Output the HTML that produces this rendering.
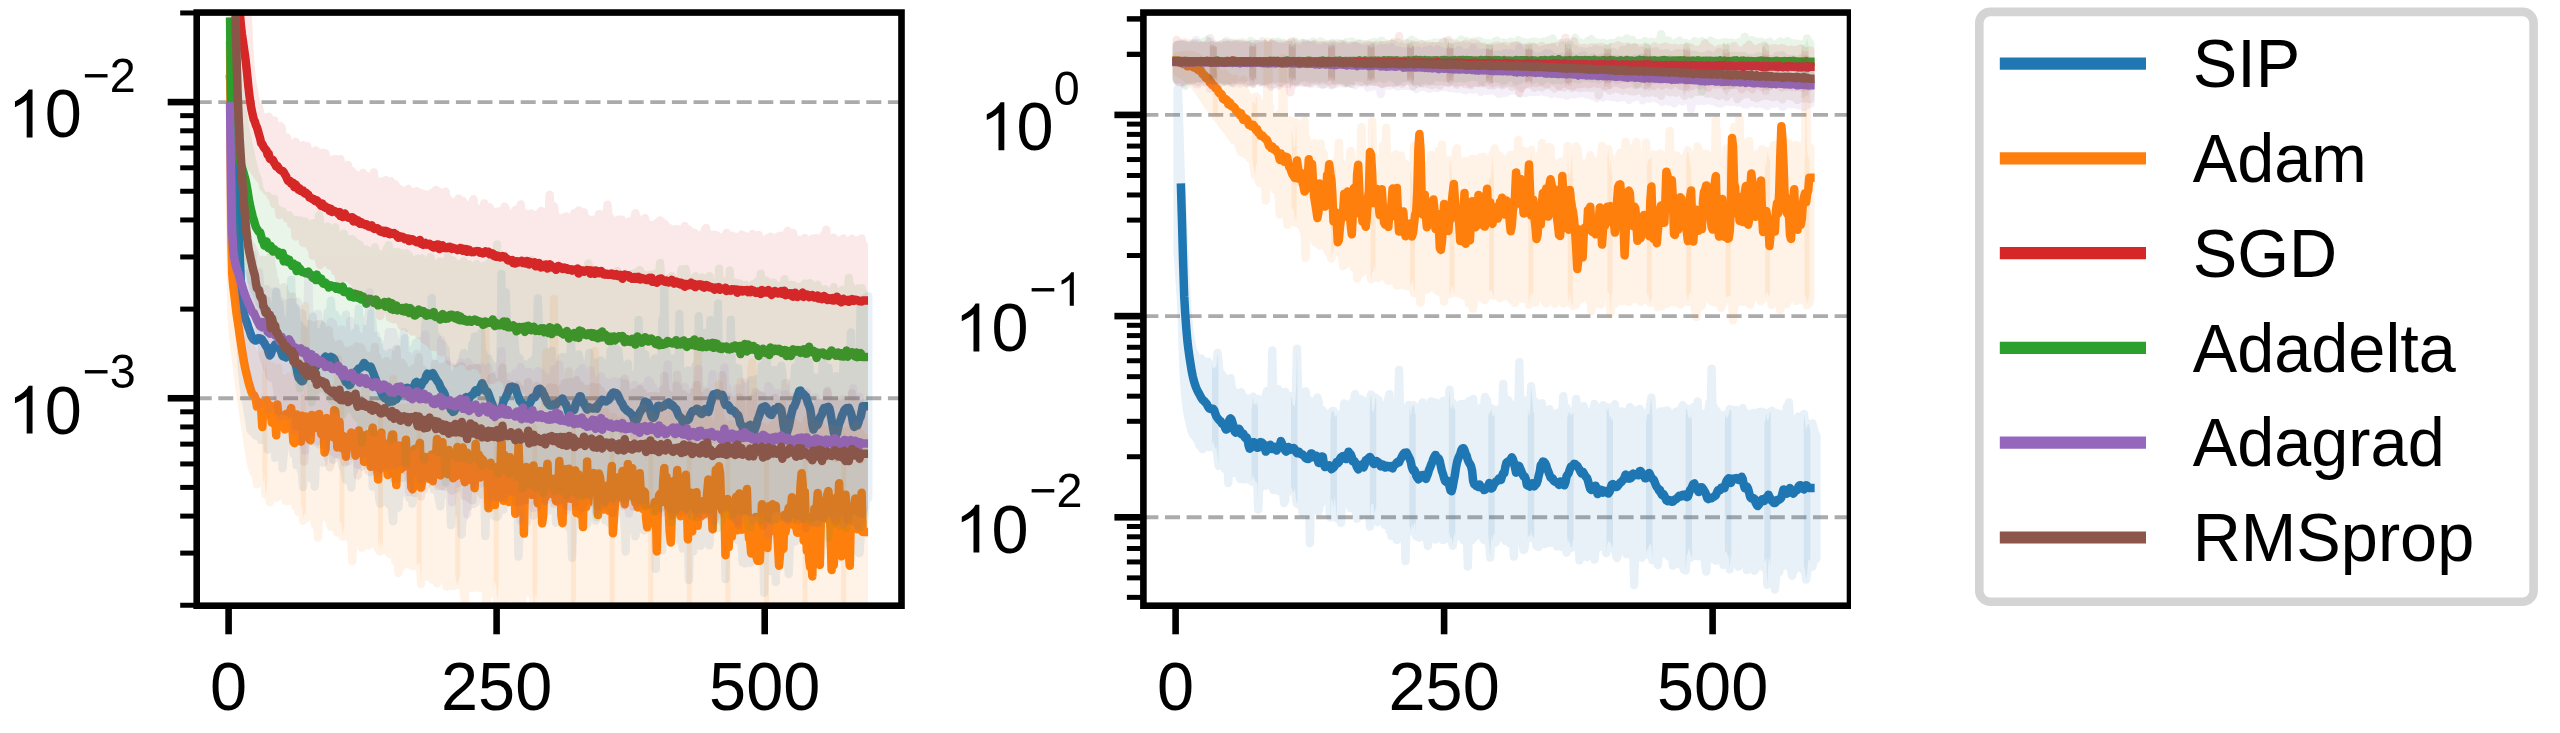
<!DOCTYPE html>
<html><head><meta charset="utf-8"><title>plot</title>
<style>
html,body{margin:0;padding:0;background:#fff;}
body{width:2560px;height:733px;overflow:hidden;position:relative;font-family:"Liberation Sans",sans-serif;}
svg text{font-family:"Liberation Sans",sans-serif;}
</style></head><body>
<svg width="2560" height="733" viewBox="0 0 2560 733" style="position:absolute;left:0;top:0;filter:blur(0.7px)">
<defs>
<clipPath id="cl"><rect x="196.7" y="12.55" width="704.8" height="593.1500000000001"/></clipPath>
<clipPath id="cr"><rect x="1143.4" y="12.55" width="706.5999999999999" height="593.1500000000001"/></clipPath>
</defs>
<line x1="196.7" y1="102.1" x2="901.5" y2="102.1" stroke="#000" stroke-opacity="0.33" stroke-width="3.9" stroke-dasharray="15 6.6"/>
<line x1="196.7" y1="398.25" x2="901.5" y2="398.25" stroke="#000" stroke-opacity="0.33" stroke-width="3.9" stroke-dasharray="15 6.6"/>
<line x1="1143.4" y1="114.9" x2="1850.0" y2="114.9" stroke="#000" stroke-opacity="0.33" stroke-width="3.9" stroke-dasharray="15 6.6"/>
<line x1="1143.4" y1="316.1" x2="1850.0" y2="316.1" stroke="#000" stroke-opacity="0.33" stroke-width="3.9" stroke-dasharray="15 6.6"/>
<line x1="1143.4" y1="517.3" x2="1850.0" y2="517.3" stroke="#000" stroke-opacity="0.33" stroke-width="3.9" stroke-dasharray="15 6.6"/>
<path d="M230.1 78.9L231.2 96.7L232.2 113.8L233.3 129.4L234.4 144.4L235.5 160.8L236.5 180.3L237.6 204.2L238.7 228.9L239.7 253.8L240.8 280.7L241.9 301.0L243.0 309.0L244.0 314.1L245.1 317.9L246.2 320.8L247.3 323.8L248.3 327.1L249.4 330.2L250.5 333.5L251.5 336.2L252.6 338.2L253.7 339.6L254.8 340.4L255.8 340.5L256.9 339.9L258.0 338.2L259.0 338.3L260.1 338.6L261.2 338.7L262.3 339.8L263.3 341.8L264.4 342.9L265.5 345.3L266.6 347.0L267.6 348.4L268.7 352.9L269.8 355.5L270.8 354.2L271.9 351.0L273.0 347.7L274.1 346.3L275.1 344.6L276.2 344.7L277.3 346.4L278.3 346.9L279.4 348.2L280.5 349.9L281.6 353.1L282.6 355.9L283.7 356.5L284.8 356.8L285.9 357.5L286.9 354.8L288.0 352.5L289.1 353.4L290.1 355.5L291.2 356.6L292.3 355.3L293.4 356.1L294.4 359.2L295.5 364.1L296.6 368.1L297.6 373.9L298.7 377.7L299.8 378.8L300.9 380.7L301.9 381.3L303.0 380.9L304.1 377.6L305.2 375.9L306.2 372.8L307.3 371.4L308.4 371.0L309.4 369.5L310.5 366.4L311.6 365.4L312.7 365.9L313.7 368.3L314.8 368.4L315.9 366.7L316.9 365.6L318.0 363.8L319.1 363.5L320.2 363.2L321.2 361.1L322.3 359.9L323.4 359.4L324.5 357.8L325.5 356.8L326.6 357.7L327.7 357.9L328.7 359.0L329.8 357.9L330.9 356.9L332.0 357.6L333.0 357.9L334.1 359.0L335.2 361.6L336.2 365.0L337.3 367.5L338.4 368.7L339.5 368.5L340.5 369.9L341.6 373.4L342.7 375.6L343.8 377.5L344.8 379.7L345.9 382.2L347.0 382.9L348.0 383.1L349.1 385.1L350.2 384.8L351.3 382.2L352.3 379.8L353.4 377.3L354.5 375.9L355.5 373.8L356.6 370.9L357.7 370.1L358.8 368.5L359.8 368.0L360.9 367.7L362.0 367.0L363.1 364.6L364.1 362.9L365.2 364.3L366.3 365.2L367.3 366.8L368.4 367.5L369.5 366.9L370.6 366.6L371.6 368.8L372.7 371.7L373.8 374.6L374.8 377.3L375.9 379.7L377.0 384.0L378.1 386.4L379.1 388.8L380.2 389.8L381.3 392.4L382.4 394.7L383.4 396.5L384.5 398.0L385.6 397.4L386.6 398.0L387.7 399.4L388.8 402.3L389.9 401.0L390.9 401.0L392.0 401.6L393.1 401.4L394.1 399.3L395.2 398.5L396.3 399.5L397.4 397.0L398.4 395.6L399.5 394.4L400.6 392.5L401.7 392.2L402.7 392.7L403.8 391.4L404.9 389.5L405.9 388.3L407.0 387.7L408.1 388.2L409.2 388.7L410.2 390.2L411.3 391.5L412.4 391.0L413.4 387.9L414.5 385.1L415.6 382.5L416.7 381.8L417.7 383.7L418.8 385.9L419.9 386.9L421.0 385.9L422.0 383.6L423.1 381.5L424.2 381.0L425.2 379.5L426.3 375.6L427.4 373.7L428.5 374.1L429.5 376.0L430.6 375.9L431.7 374.4L432.7 373.1L433.8 375.0L434.9 376.9L436.0 379.0L437.0 380.7L438.1 382.0L439.2 383.9L440.3 386.7L441.3 388.6L442.4 390.3L443.5 391.8L444.5 393.8L445.6 397.4L446.7 399.5L447.8 402.2L448.8 405.0L449.9 406.9L451.0 409.9L452.0 410.5L453.1 412.0L454.2 411.5L455.3 408.8L456.3 407.2L457.4 405.2L458.5 404.0L459.6 402.8L460.6 403.3L461.7 402.8L462.8 401.2L463.8 399.2L464.9 398.8L466.0 397.1L467.1 397.8L468.1 398.7L469.2 398.5L470.3 396.5L471.3 395.5L472.4 394.8L473.5 394.2L474.6 391.6L475.6 390.3L476.7 391.8L477.8 392.0L478.9 389.3L479.9 388.1L481.0 385.7L482.1 383.2L483.1 385.2L484.2 387.2L485.3 390.7L486.4 391.5L487.4 391.7L488.5 394.0L489.6 397.1L490.6 400.0L491.7 403.0L492.8 405.6L493.9 408.0L494.9 411.4L496.0 413.2L497.1 412.3L498.1 411.2L499.2 410.4L500.3 410.2L501.4 408.7L502.4 405.5L503.5 401.5L504.6 399.2L505.7 397.5L506.7 395.1L507.8 392.8L508.9 389.7L509.9 387.2L511.0 387.0L512.1 386.5L513.2 387.4L514.2 387.8L515.3 387.5L516.4 391.2L517.4 394.3L518.5 397.1L519.6 400.5L520.7 401.9L521.7 402.1L522.8 405.5L523.9 408.2L525.0 409.5L526.0 409.5L527.1 407.1L528.2 406.0L529.2 403.9L530.3 402.4L531.4 400.1L532.5 397.4L533.5 397.4L534.6 397.6L535.7 396.1L536.7 393.4L537.8 389.9L538.9 389.1L540.0 388.7L541.0 389.6L542.1 390.6L543.2 393.5L544.3 395.3L545.3 397.8L546.4 400.2L547.5 403.0L548.5 404.1L549.6 405.3L550.7 405.6L551.8 404.9L552.8 404.3L553.9 405.6L555.0 405.9L556.0 404.5L557.1 402.6L558.2 402.1L559.3 400.9L560.3 400.9L561.4 399.4L562.5 398.4L563.6 401.7L564.6 402.8L565.7 403.7L566.8 406.7L567.8 410.3L568.9 414.0L570.0 412.8L571.1 410.3L572.1 410.4L573.2 410.5L574.3 409.8L575.3 405.7L576.4 402.0L577.5 400.8L578.6 398.8L579.6 396.2L580.7 396.3L581.8 400.1L582.9 402.8L583.9 402.6L585.0 405.5L586.1 407.4L587.1 409.6L588.2 408.6L589.3 407.3L590.4 408.3L591.4 408.1L592.5 408.4L593.6 408.5L594.6 407.8L595.7 406.8L596.8 408.7L597.9 405.9L598.9 403.7L600.0 403.0L601.1 401.1L602.2 399.9L603.2 400.4L604.3 400.2L605.4 401.1L606.4 401.5L607.5 400.3L608.6 399.8L609.7 398.6L610.7 395.8L611.8 394.1L612.9 392.7L613.9 392.4L615.0 393.1L616.1 393.1L617.2 394.0L618.2 396.1L619.3 398.4L620.4 400.9L621.5 402.7L622.5 404.0L623.6 406.7L624.7 408.4L625.7 409.0L626.8 410.6L627.9 411.4L629.0 411.8L630.0 412.8L631.1 413.8L632.2 415.2L633.2 417.0L634.3 420.1L635.4 421.3L636.5 420.0L637.5 418.4L638.6 415.3L639.7 412.8L640.8 411.0L641.8 409.3L642.9 408.7L644.0 404.5L645.0 401.5L646.1 402.4L647.2 402.5L648.3 403.5L649.3 405.9L650.4 412.2L651.5 416.1L652.5 417.8L653.6 417.8L654.7 416.3L655.8 411.9L656.8 408.4L657.9 406.0L659.0 405.8L660.1 407.2L661.1 407.4L662.2 406.3L663.3 406.5L664.3 405.8L665.4 404.2L666.5 404.3L667.6 403.1L668.6 402.4L669.7 403.4L670.8 405.3L671.8 404.7L672.9 405.6L674.0 407.2L675.1 408.3L676.1 409.1L677.2 411.9L678.3 414.9L679.4 416.6L680.4 417.1L681.5 418.3L682.6 421.9L683.6 423.0L684.7 421.6L685.8 420.1L686.9 419.5L687.9 419.9L689.0 418.8L690.1 415.3L691.1 413.5L692.2 411.5L693.3 410.7L694.4 410.9L695.4 410.2L696.5 408.8L697.6 409.0L698.7 409.8L699.7 412.3L700.8 413.6L701.9 414.0L702.9 412.7L704.0 410.0L705.1 409.1L706.2 410.8L707.2 411.5L708.3 412.1L709.4 408.8L710.4 404.0L711.5 400.8L712.6 396.6L713.7 394.2L714.7 395.0L715.8 394.3L716.9 393.2L718.0 393.7L719.0 395.2L720.1 394.7L721.2 394.8L722.2 394.8L723.3 397.1L724.4 402.3L725.5 405.0L726.5 404.6L727.6 404.7L728.7 406.0L729.7 407.3L730.8 410.1L731.9 410.6L733.0 410.2L734.0 410.9L735.1 412.0L736.2 414.0L737.3 414.4L738.3 415.4L739.4 419.4L740.5 423.9L741.5 425.1L742.6 427.2L743.7 429.4L744.8 430.4L745.8 428.8L746.9 426.8L748.0 426.6L749.0 425.5L750.1 424.9L751.2 426.8L752.3 427.7L753.3 429.6L754.4 430.6L755.5 427.5L756.6 424.4L757.6 419.8L758.7 417.2L759.8 413.9L760.8 410.7L761.9 407.7L763.0 407.0L764.1 407.0L765.1 406.3L766.2 407.1L767.3 409.4L768.3 411.8L769.4 413.6L770.5 414.5L771.6 414.9L772.6 412.7L773.7 411.4L774.8 409.0L775.8 409.8L776.9 409.3L778.0 407.1L779.1 407.2L780.1 408.1L781.2 409.4L782.3 415.7L783.4 424.4L784.4 429.8L785.5 433.3L786.6 433.7L787.6 430.5L788.7 427.0L789.8 421.7L790.9 416.0L791.9 411.9L793.0 407.5L794.1 406.8L795.1 404.4L796.2 401.7L797.3 396.8L798.4 393.6L799.4 390.8L800.5 390.5L801.6 393.1L802.7 394.7L803.7 394.1L804.8 395.8L805.9 396.3L806.9 399.5L808.0 403.2L809.1 405.9L810.2 409.0L811.2 415.8L812.3 424.6L813.4 429.6L814.4 427.1L815.5 425.7L816.6 425.5L817.7 424.7L818.7 422.0L819.8 418.2L820.9 416.0L822.0 414.2L823.0 410.3L824.1 407.9L825.2 409.3L826.2 408.3L827.3 407.1L828.4 406.8L829.5 408.6L830.5 413.1L831.6 419.6L832.7 425.9L833.7 431.8L834.8 435.8L835.9 435.3L837.0 433.2L838.0 428.4L839.1 423.8L840.2 420.9L841.3 417.9L842.3 414.8L843.4 412.6L844.5 409.9L845.5 408.9L846.6 408.1L847.7 408.3L848.8 407.8L849.8 410.1L850.9 412.9L852.0 416.8L853.0 423.1L854.1 426.9L855.2 426.2L856.3 425.7L857.3 425.6L858.4 422.5L859.5 418.8L860.6 416.9L861.6 412.2L862.7 406.2L863.8 406.2" fill="none" stroke="#1f77b4" stroke-width="8.5" stroke-linejoin="round" stroke-linecap="square" clip-path="url(#cl)"/>
<g opacity="0.1" clip-path="url(#cl)"><path d="M230.1 57.2L231.2 73.4L232.2 88.9L233.3 102.9L234.4 116.3L235.5 131.1L236.5 149.0L237.6 171.2L238.7 194.4L239.7 217.7L240.8 243.0L241.9 261.6L243.0 268.1L244.0 271.6L245.1 273.7L246.2 275.0L247.3 276.4L248.3 278.1L249.4 279.6L250.5 289.9L251.5 291.0L252.6 295.6L253.7 298.7L254.8 288.4L255.8 278.3L256.9 297.5L258.0 294.0L259.0 296.4L260.1 290.5L261.2 295.8L262.3 301.2L263.3 304.2L264.4 308.2L265.5 304.4L266.6 300.4L267.6 304.8L268.7 322.0L269.8 329.2L270.8 316.7L271.9 322.5L273.0 310.0L274.1 314.9L275.1 314.6L276.2 292.0L277.3 302.3L278.3 311.9L279.4 303.5L280.5 316.5L281.6 318.5L282.6 325.9L283.7 323.7L284.8 324.3L285.9 320.6L286.9 323.1L288.0 323.8L289.1 324.2L290.1 322.9L291.2 279.7L292.3 324.1L293.4 311.1L294.4 326.3L295.5 307.6L296.6 322.3L297.6 332.6L298.7 349.2L299.8 325.3L300.9 341.7L301.9 340.2L303.0 329.4L304.1 346.6L305.2 331.6L306.2 344.9L307.3 334.8L308.4 331.1L309.4 339.5L310.5 336.3L311.6 327.5L312.7 316.7L313.7 332.0L314.8 332.5L315.9 337.2L316.9 332.1L318.0 335.4L319.1 332.2L320.2 334.9L321.2 334.6L322.3 330.9L323.4 329.4L324.5 325.0L325.5 322.5L326.6 328.4L327.7 312.1L328.7 325.3L329.8 321.1L330.9 300.7L332.0 318.8L333.0 329.1L334.1 320.9L335.2 314.4L336.2 317.5L337.3 326.8L338.4 319.0L339.5 328.6L340.5 343.6L341.6 345.7L342.7 341.6L343.8 346.5L344.8 341.6L345.9 314.6L347.0 348.2L348.0 345.3L349.1 352.6L350.2 356.8L351.3 343.3L352.3 342.2L353.4 348.0L354.5 332.6L355.5 342.1L356.6 334.1L357.7 334.7L358.8 308.4L359.8 335.9L360.9 333.5L362.0 337.0L363.1 328.7L364.1 333.2L365.2 329.5L366.3 333.5L367.3 331.0L368.4 328.0L369.5 334.5L370.6 323.4L371.6 312.6L372.7 325.0L373.8 343.2L374.8 350.3L375.9 349.6L377.0 354.1L378.1 341.0L379.1 350.2L380.2 354.6L381.3 359.5L382.4 353.4L383.4 364.3L384.5 371.3L385.6 358.8L386.6 369.5L387.7 368.2L388.8 365.7L389.9 352.6L390.9 372.0L392.0 361.9L393.1 364.2L394.1 364.9L395.2 365.7L396.3 372.7L397.4 367.3L398.4 349.5L399.5 360.2L400.6 349.5L401.7 365.1L402.7 361.7L403.8 360.2L404.9 338.1L405.9 350.1L407.0 353.1L408.1 359.5L409.2 362.5L410.2 350.7L411.3 353.2L412.4 354.5L413.4 351.2L414.5 348.5L415.6 342.9L416.7 350.9L417.7 341.4L418.8 347.3L419.9 341.4L421.0 356.0L422.0 342.2L423.1 355.5L424.2 347.3L425.2 325.6L426.3 314.6L427.4 324.1L428.5 347.5L429.5 349.5L430.6 347.5L431.7 298.0L432.7 344.1L433.8 324.8L434.9 340.7L436.0 339.7L437.0 337.0L438.1 346.4L439.2 354.6L440.3 353.9L441.3 343.7L442.4 359.8L443.5 345.4L444.5 356.1L445.6 349.7L446.7 372.8L447.8 367.4L448.8 374.6L449.9 370.9L451.0 376.4L452.0 374.8L453.1 369.4L454.2 375.5L455.3 381.8L456.3 371.6L457.4 370.3L458.5 374.8L459.6 365.6L460.6 372.2L461.7 369.2L462.8 357.1L463.8 353.1L464.9 370.4L466.0 355.7L467.1 364.9L468.1 369.7L469.2 365.4L470.3 367.1L471.3 359.7L472.4 344.0L473.5 358.2L474.6 336.4L475.6 358.8L476.7 364.3L477.8 353.3L478.9 342.7L479.9 352.4L481.0 332.6L482.1 356.5L483.1 352.6L484.2 356.6L485.3 357.5L486.4 362.1L487.4 363.8L488.5 358.6L489.6 361.3L490.6 370.4L491.7 372.3L492.8 369.0L493.9 366.4L494.9 384.2L496.0 373.0L497.1 378.1L498.1 379.9L499.2 380.1L500.3 382.7L501.4 273.8L502.4 378.2L503.5 369.2L504.6 369.4L505.7 292.1L506.7 316.4L507.8 363.5L508.9 360.8L509.9 346.7L511.0 347.3L512.1 338.8L513.2 356.2L514.2 336.7L515.3 350.3L516.4 361.9L517.4 361.0L518.5 359.8L519.6 358.0L520.7 367.8L521.7 373.0L522.8 374.0L523.9 363.9L525.0 373.0L526.0 372.0L527.1 372.1L528.2 378.9L529.2 370.4L530.3 368.3L531.4 361.3L532.5 367.1L533.5 364.7L534.6 358.8L535.7 363.0L536.7 342.9L537.8 298.2L538.9 323.1L540.0 342.5L541.0 356.6L542.1 353.5L543.2 332.5L544.3 361.5L545.3 365.7L546.4 354.1L547.5 369.3L548.5 359.1L549.6 376.4L550.7 377.3L551.8 350.7L552.8 373.5L553.9 377.4L555.0 372.4L556.0 378.5L557.1 365.5L558.2 365.8L559.3 363.2L560.3 363.9L561.4 357.5L562.5 357.1L563.6 374.9L564.6 357.5L565.7 361.3L566.8 366.2L567.8 372.6L568.9 386.2L570.0 363.6L571.1 339.2L572.1 383.9L573.2 379.0L574.3 379.6L575.3 355.1L576.4 369.8L577.5 365.2L578.6 354.3L579.6 360.3L580.7 361.8L581.8 364.0L582.9 376.0L583.9 376.0L585.0 373.5L586.1 370.5L587.1 369.8L588.2 369.6L589.3 352.8L590.4 378.7L591.4 380.8L592.5 372.8L593.6 378.4L594.6 362.6L595.7 366.7L596.8 382.5L597.9 375.8L598.9 375.7L600.0 363.0L601.1 360.4L602.2 367.8L603.2 373.9L604.3 372.5L605.4 367.1L606.4 363.2L607.5 370.5L608.6 369.1L609.7 366.6L610.7 350.0L611.8 354.7L612.9 358.9L613.9 355.8L615.0 347.1L616.1 360.8L617.2 354.6L618.2 350.2L619.3 359.0L620.4 369.6L621.5 373.5L622.5 376.8L623.6 370.4L624.7 376.7L625.7 370.8L626.8 383.5L627.9 363.7L629.0 385.2L630.0 383.2L631.1 382.9L632.2 381.2L633.2 387.6L634.3 389.2L635.4 374.2L636.5 381.8L637.5 385.2L638.6 319.8L639.7 369.4L640.8 345.3L641.8 375.1L642.9 373.4L644.0 373.0L645.0 354.1L646.1 362.0L647.2 364.4L648.3 372.3L649.3 375.4L650.4 375.9L651.5 379.3L652.5 386.7L653.6 381.6L654.7 358.3L655.8 381.6L656.8 377.6L657.9 367.9L659.0 363.8L660.1 370.3L661.1 377.3L662.2 319.6L663.3 352.3L664.3 279.9L665.4 375.8L666.5 352.2L667.6 366.4L668.6 369.1L669.7 370.9L670.8 374.9L671.8 358.5L672.9 367.9L674.0 372.8L675.1 364.7L676.1 368.5L677.2 377.5L678.3 379.9L679.4 314.0L680.4 381.3L681.5 390.6L682.6 384.8L683.6 388.6L684.7 382.7L685.8 393.6L686.9 392.2L687.9 370.3L689.0 389.9L690.1 381.2L691.1 386.2L692.2 377.5L693.3 373.4L694.4 376.8L695.4 365.7L696.5 367.2L697.6 382.6L698.7 316.2L699.7 351.0L700.8 385.2L701.9 372.9L702.9 335.1L704.0 352.5L705.1 332.9L706.2 363.6L707.2 384.3L708.3 378.5L709.4 382.0L710.4 320.2L711.5 361.4L712.6 349.9L713.7 360.0L714.7 354.4L715.8 354.4L716.9 366.9L718.0 303.5L719.0 366.9L720.1 350.4L721.2 360.7L722.2 366.4L723.3 364.4L724.4 366.8L725.5 362.9L726.5 359.9L727.6 378.4L728.7 379.7L729.7 379.4L730.8 319.6L731.9 369.4L733.0 380.8L734.0 378.2L735.1 369.7L736.2 367.6L737.3 385.1L738.3 368.3L739.4 383.8L740.5 392.0L741.5 394.0L742.6 385.8L743.7 392.2L744.8 400.8L745.8 399.9L746.9 386.7L748.0 396.2L749.0 388.9L750.1 390.4L751.2 380.1L752.3 384.0L753.3 391.6L754.4 393.9L755.5 386.6L756.6 379.2L757.6 389.8L758.7 379.3L759.8 382.6L760.8 379.6L761.9 365.3L763.0 372.9L764.1 375.4L765.1 372.1L766.2 354.6L767.3 367.2L768.3 371.6L769.4 385.5L770.5 388.4L771.6 378.8L772.6 383.9L773.7 370.0L774.8 373.1L775.8 370.2L776.9 376.9L778.0 371.3L779.1 375.8L780.1 372.9L781.2 365.7L782.3 372.5L783.4 394.3L784.4 403.6L785.5 406.0L786.6 404.6L787.6 402.3L788.7 390.9L789.8 392.2L790.9 387.4L791.9 385.8L793.0 380.6L794.1 380.3L795.1 367.0L796.2 373.1L797.3 368.9L798.4 365.1L799.4 350.9L800.5 350.0L801.6 353.2L802.7 367.0L803.7 357.7L804.8 356.1L805.9 368.7L806.9 370.8L808.0 361.3L809.1 363.8L810.2 379.0L811.2 388.5L812.3 386.1L813.4 401.7L814.4 399.1L815.5 377.5L816.6 391.5L817.7 397.0L818.7 388.6L819.8 381.2L820.9 387.3L822.0 378.4L823.0 357.0L824.1 376.7L825.2 382.3L826.2 374.4L827.3 380.9L828.4 367.6L829.5 380.2L830.5 383.9L831.6 385.4L832.7 383.2L833.7 390.3L834.8 401.9L835.9 376.2L837.0 394.6L838.0 398.8L839.1 396.4L840.2 390.9L841.3 390.3L842.3 382.8L843.4 365.4L844.5 355.8L845.5 381.7L846.6 378.7L847.7 381.3L848.8 366.3L849.8 375.9L850.9 332.5L852.0 388.6L853.0 377.0L854.1 390.8L855.2 396.1L856.3 394.0L857.3 394.5L858.4 391.2L859.5 379.5L860.6 300.0L861.6 300.0L862.7 300.0L863.8 300.0L866.0 297.0L868.3 296.0L868.3 498.0L866.0 498.0L863.8 527.0L862.7 526.7L861.6 530.9L860.6 537.3L859.5 553.2L858.4 536.6L857.3 539.2L856.3 542.8L855.2 550.8L854.1 548.8L853.0 539.4L852.0 537.5L850.9 547.6L849.8 546.8L848.8 551.4L847.7 520.4L846.6 524.0L845.5 526.8L844.5 534.3L843.4 549.8L842.3 542.1L841.3 528.4L840.2 536.6L839.1 557.7L838.0 540.0L837.0 551.3L835.9 550.4L834.8 561.3L833.7 543.9L832.7 544.9L831.6 541.4L830.5 540.5L829.5 524.2L828.4 518.5L827.3 519.4L826.2 529.9L825.2 534.4L824.1 543.7L823.0 521.7L822.0 531.4L820.9 556.6L819.8 537.3L818.7 542.2L817.7 559.4L816.6 548.8L815.5 555.8L814.4 540.7L813.4 562.9L812.3 548.0L811.2 530.1L810.2 527.9L809.1 516.2L808.0 514.8L806.9 511.8L805.9 535.7L804.8 530.5L803.7 507.9L802.7 504.7L801.6 528.2L800.5 514.4L799.4 507.9L798.4 511.2L797.3 513.6L796.2 520.0L795.1 541.7L794.1 519.9L793.0 527.4L791.9 524.2L790.9 536.2L789.8 546.7L788.7 574.1L787.6 554.8L786.6 553.7L785.5 543.7L784.4 560.2L783.4 540.4L782.3 537.5L781.2 524.9L780.1 517.0L779.1 522.1L778.0 528.3L776.9 525.8L775.8 582.0L774.8 537.5L773.7 522.2L772.6 534.2L771.6 543.7L770.5 571.0L769.4 531.1L768.3 549.5L767.3 519.4L766.2 519.8L765.1 544.2L764.1 592.9L763.0 519.9L761.9 536.7L760.8 525.6L759.8 552.8L758.7 549.3L757.6 532.8L756.6 555.9L755.5 537.2L754.4 543.3L753.3 545.4L752.3 546.0L751.2 541.3L750.1 563.1L749.0 554.6L748.0 533.3L746.9 553.7L745.8 554.1L744.8 563.4L743.7 538.4L742.6 562.4L741.5 540.1L740.5 538.2L739.4 529.9L738.3 526.3L737.3 539.8L736.2 535.2L735.1 520.8L734.0 538.7L733.0 521.2L731.9 517.7L730.8 517.5L729.7 517.7L728.7 524.6L727.6 512.8L726.5 520.0L725.5 579.2L724.4 528.0L723.3 522.7L722.2 500.2L721.2 520.6L720.1 512.0L719.0 503.2L718.0 499.3L716.9 499.5L715.8 516.1L714.7 513.9L713.7 506.4L712.6 519.7L711.5 511.5L710.4 524.3L709.4 545.4L708.3 520.0L707.2 532.4L706.2 532.0L705.1 522.4L704.0 524.4L702.9 526.1L701.9 533.2L700.8 545.8L699.7 535.6L698.7 517.2L697.6 521.3L696.5 536.8L695.4 538.5L694.4 514.5L693.3 551.4L692.2 527.1L691.1 519.1L690.1 529.3L689.0 580.0L687.9 531.5L686.9 527.3L685.8 525.8L684.7 524.0L683.6 532.8L682.6 548.5L681.5 538.3L680.4 518.9L679.4 540.4L678.3 525.4L677.2 514.2L676.1 533.1L675.1 535.0L674.0 509.8L672.9 511.6L671.8 512.2L670.8 512.3L669.7 510.0L668.6 536.8L667.6 511.5L666.5 523.7L665.4 527.0L664.3 507.3L663.3 523.3L662.2 550.5L661.1 512.2L660.1 509.9L659.0 527.3L657.9 525.7L656.8 511.4L655.8 569.0L654.7 523.7L653.6 524.1L652.5 518.4L651.5 523.6L650.4 512.7L649.3 519.2L648.3 514.7L647.2 509.0L646.1 507.3L645.0 509.7L644.0 530.4L642.9 508.8L641.8 515.2L640.8 526.6L639.7 528.6L638.6 520.4L637.5 527.6L636.5 525.8L635.4 536.4L634.3 524.7L633.2 519.4L632.2 530.0L631.1 520.6L630.0 528.0L629.0 518.9L627.9 521.1L626.8 514.3L625.7 551.5L624.7 525.8L623.6 510.8L622.5 507.7L621.5 511.6L620.4 501.2L619.3 504.4L618.2 511.6L617.2 506.7L616.1 506.7L615.0 495.9L613.9 493.7L612.9 507.6L611.8 516.5L610.7 512.7L609.7 523.2L608.6 500.9L607.5 511.0L606.4 508.5L605.4 520.4L604.3 502.9L603.2 497.3L602.2 498.2L601.1 511.0L600.0 499.6L598.9 499.6L597.9 505.9L596.8 512.0L595.7 520.7L594.6 518.7L593.6 507.5L592.5 511.6L591.4 504.6L590.4 512.9L589.3 506.1L588.2 503.8L587.1 524.1L586.1 517.9L585.0 512.3L583.9 509.8L582.9 509.9L581.8 520.1L580.7 516.2L579.6 504.7L578.6 494.1L577.5 502.3L576.4 500.7L575.3 505.4L574.3 518.0L573.2 531.0L572.1 557.9L571.1 528.6L570.0 510.0L568.9 527.6L567.8 510.5L566.8 502.9L565.7 500.1L564.6 503.5L563.6 496.1L562.5 493.6L561.4 496.9L560.3 505.7L559.3 496.0L558.2 507.1L557.1 520.4L556.0 522.7L555.0 498.9L553.9 504.1L552.8 504.2L551.8 500.2L550.7 501.8L549.6 510.3L548.5 496.6L547.5 500.4L546.4 511.4L545.3 496.9L544.3 499.8L543.2 502.5L542.1 488.7L541.0 486.0L540.0 482.2L538.9 484.8L537.8 482.0L536.7 495.6L535.7 496.4L534.6 494.3L533.5 499.2L532.5 489.1L531.4 494.0L530.3 499.7L529.2 502.1L528.2 509.5L527.1 522.1L526.0 506.8L525.0 514.4L523.9 500.1L522.8 500.0L521.7 497.4L520.7 507.8L519.6 529.8L518.5 556.6L517.4 498.6L516.4 482.9L515.3 484.9L514.2 484.6L513.2 502.7L512.1 489.0L511.0 487.6L509.9 480.1L508.9 488.1L507.8 485.1L506.7 488.4L505.7 503.7L504.6 499.4L503.5 509.6L502.4 497.8L501.4 498.6L500.3 506.4L499.2 502.9L498.1 515.9L497.1 516.9L496.0 509.4L494.9 516.3L493.9 499.0L492.8 497.2L491.7 514.6L490.6 494.2L489.6 496.9L488.5 485.4L487.4 489.8L486.4 499.7L485.3 536.0L484.2 483.8L483.1 474.8L482.1 471.6L481.0 488.4L479.9 496.7L478.9 495.3L477.8 484.8L476.7 495.4L475.6 502.6L474.6 502.6L473.5 504.1L472.4 485.5L471.3 489.8L470.3 489.7L469.2 492.9L468.1 506.9L467.1 491.1L466.0 491.4L464.9 512.5L463.8 517.9L462.8 508.2L461.7 534.5L460.6 511.7L459.6 492.3L458.5 503.1L457.4 496.4L456.3 502.8L455.3 499.1L454.2 499.5L453.1 513.7L452.0 503.3L451.0 525.1L449.9 495.1L448.8 495.2L447.8 488.6L446.7 494.5L445.6 486.2L444.5 480.3L443.5 486.9L442.4 488.3L441.3 487.9L440.3 506.3L439.2 501.1L438.1 495.1L437.0 473.7L436.0 470.7L434.9 470.9L433.8 489.6L432.7 464.7L431.7 466.3L430.6 469.2L429.5 462.0L428.5 470.5L427.4 462.4L426.3 473.5L425.2 465.0L424.2 468.6L423.1 466.4L422.0 488.4L421.0 482.8L419.9 480.3L418.8 487.1L417.7 472.1L416.7 465.5L415.6 470.7L414.5 476.1L413.4 476.3L412.4 503.7L411.3 485.2L410.2 487.2L409.2 497.7L408.1 476.8L407.0 489.3L405.9 475.4L404.9 492.2L403.8 492.5L402.7 483.0L401.7 482.8L400.6 481.4L399.5 492.3L398.4 507.7L397.4 479.0L396.3 491.0L395.2 488.1L394.1 501.0L393.1 521.3L392.0 509.3L390.9 501.2L389.9 496.7L388.8 504.6L387.7 501.6L386.6 487.3L385.6 479.2L384.5 480.0L383.4 478.6L382.4 485.5L381.3 497.5L380.2 503.8L379.1 498.7L378.1 475.0L377.0 466.8L375.9 470.8L374.8 460.2L373.8 472.7L372.7 486.6L371.6 451.4L370.6 460.7L369.5 457.2L368.4 449.7L367.3 450.5L366.3 446.3L365.2 456.5L364.1 448.8L363.1 449.9L362.0 466.6L360.9 465.1L359.8 456.0L358.8 448.3L357.7 451.5L356.6 451.2L355.5 459.9L354.5 468.7L353.4 471.7L352.3 471.1L351.3 487.6L350.2 478.0L349.1 474.5L348.0 480.4L347.0 466.8L345.9 479.7L344.8 473.0L343.8 458.7L342.7 467.1L341.6 461.3L340.5 458.8L339.5 453.9L338.4 449.8L337.3 454.5L336.2 445.1L335.2 446.6L334.1 454.4L333.0 459.7L332.0 443.6L330.9 444.9L329.8 438.7L328.7 447.2L327.7 444.4L326.6 443.9L325.5 435.1L324.5 447.6L323.4 462.6L322.3 462.6L321.2 439.6L320.2 446.4L319.1 447.8L318.0 449.6L316.9 461.3L315.9 459.6L314.8 486.7L313.7 455.7L312.7 459.1L311.6 479.0L310.5 459.4L309.4 453.4L308.4 451.7L307.3 461.1L306.2 450.0L305.2 460.0L304.1 467.3L303.0 487.1L301.9 471.7L300.9 470.6L299.8 463.1L298.7 454.6L297.6 461.2L296.6 465.2L295.5 451.3L294.4 437.3L293.4 453.9L292.3 445.6L291.2 446.4L290.1 433.2L289.1 434.2L288.0 438.1L286.9 430.8L285.9 443.8L284.8 434.7L283.7 454.3L282.6 468.3L281.6 444.8L280.5 446.9L279.4 427.9L278.3 430.3L277.3 434.5L276.2 422.3L275.1 457.8L274.1 422.0L273.0 435.3L271.9 431.4L270.8 439.0L269.8 442.9L268.7 446.8L267.6 449.7L266.6 428.2L265.5 436.6L264.4 423.5L263.3 426.5L262.3 425.9L261.2 440.1L260.1 423.6L259.0 425.9L258.0 428.5L256.9 430.4L255.8 435.6L254.8 434.2L253.7 432.1L252.6 432.1L251.5 431.0L250.5 429.9L249.4 421.4L248.3 415.1L247.3 408.5L246.2 402.4L245.1 396.2L244.0 389.2L243.0 380.9L241.9 369.7L240.8 346.2L239.7 316.0L238.7 288.0L237.6 260.0L236.5 232.9L235.5 210.1L234.4 190.6L233.3 172.3L232.2 153.5L231.2 133.2L230.1 112.2Z" fill="#1f77b4" stroke="#1f77b4" stroke-width="8.3" stroke-linejoin="round"/></g>
<path d="M230.1 45.0L231.2 228.8L232.2 273.8L233.3 286.8L234.4 295.1L235.5 304.8L236.5 313.3L237.6 320.7L238.7 327.8L239.7 335.1L240.8 342.3L241.9 349.3L243.0 356.0L244.0 362.2L245.1 367.7L246.2 372.5L247.3 377.1L248.3 381.3L249.4 385.3L250.5 388.8L251.5 392.0L252.6 394.3L253.7 394.8L254.8 396.6L255.8 399.4L256.9 406.6L258.0 406.6L259.0 402.2L260.1 404.4L261.2 409.8L262.3 427.1L263.3 403.7L264.4 411.6L265.5 413.9L266.6 400.4L267.6 408.2L268.7 409.0L269.8 405.0L270.8 415.4L271.9 422.7L273.0 422.9L274.1 409.2L275.1 415.1L276.2 435.3L277.3 404.4L278.3 413.2L279.4 422.2L280.5 416.0L281.6 420.4L282.6 417.0L283.7 424.3L284.8 429.4L285.9 414.1L286.9 416.7L288.0 414.6L289.1 412.3L290.1 414.4L291.2 408.1L292.3 427.0L293.4 441.7L294.4 443.2L295.5 435.1L296.6 414.4L297.6 435.2L298.7 415.9L299.8 422.1L300.9 441.7L301.9 415.8L303.0 431.3L304.1 427.4L305.2 421.4L306.2 416.6L307.3 427.4L308.4 422.6L309.4 439.4L310.5 440.4L311.6 415.1L312.7 420.4L313.7 422.6L314.8 415.7L315.9 417.1L316.9 428.0L318.0 425.6L319.1 414.1L320.2 424.0L321.2 434.2L322.3 419.8L323.4 423.7L324.5 452.6L325.5 449.0L326.6 418.1L327.7 419.4L328.7 434.1L329.8 423.3L330.9 430.1L332.0 431.1L333.0 437.2L334.1 410.2L335.2 410.9L336.2 423.5L337.3 447.5L338.4 434.8L339.5 422.0L340.5 442.5L341.6 447.9L342.7 436.8L343.8 436.1L344.8 446.7L345.9 456.7L347.0 445.2L348.0 447.6L349.1 440.5L350.2 436.2L351.3 432.5L352.3 443.0L353.4 439.3L354.5 441.0L355.5 455.7L356.6 453.0L357.7 453.2L358.8 430.4L359.8 447.8L360.9 438.4L362.0 435.0L363.1 437.4L364.1 462.0L365.2 458.1L366.3 438.7L367.3 434.3L368.4 444.8L369.5 444.8L370.6 466.8L371.6 433.0L372.7 427.6L373.8 443.4L374.8 448.7L375.9 452.4L377.0 464.2L378.1 479.6L379.1 448.7L380.2 442.0L381.3 432.5L382.4 452.8L383.4 463.4L384.5 451.9L385.6 468.4L386.6 458.0L387.7 475.0L388.8 458.6L389.9 442.0L390.9 443.4L392.0 434.7L393.1 434.4L394.1 456.7L395.2 471.8L396.3 485.1L397.4 458.0L398.4 451.6L399.5 445.4L400.6 469.3L401.7 463.1L402.7 452.1L403.8 467.2L404.9 463.3L405.9 439.7L407.0 465.5L408.1 460.9L409.2 453.9L410.2 456.2L411.3 487.3L412.4 489.3L413.4 487.5L414.5 449.0L415.6 452.5L416.7 469.9L417.7 447.5L418.8 448.3L419.9 442.8L421.0 487.6L422.0 482.1L423.1 471.1L424.2 465.1L425.2 457.0L426.3 458.0L427.4 469.4L428.5 457.4L429.5 479.0L430.6 458.0L431.7 454.6L432.7 481.2L433.8 465.1L434.9 471.1L436.0 456.7L437.0 439.0L438.1 465.2L439.2 451.7L440.3 475.4L441.3 446.1L442.4 442.0L443.5 467.0L444.5 473.0L445.6 465.6L446.7 453.5L447.8 474.3L448.8 450.0L449.9 457.5L451.0 456.1L452.0 462.4L453.1 478.3L454.2 462.0L455.3 476.4L456.3 476.1L457.4 447.0L458.5 451.0L459.6 460.8L460.6 461.1L461.7 468.0L462.8 447.6L463.8 477.8L464.9 482.2L466.0 466.1L467.1 452.7L468.1 466.4L469.2 464.1L470.3 477.7L471.3 471.4L472.4 481.0L473.5 468.6L474.6 488.2L475.6 443.8L476.7 455.7L477.8 473.5L478.9 455.0L479.9 477.5L481.0 458.2L482.1 469.3L483.1 460.2L484.2 465.5L485.3 473.9L486.4 470.8L487.4 471.3L488.5 508.3L489.6 475.8L490.6 462.8L491.7 488.7L492.8 492.4L493.9 500.5L494.9 505.1L496.0 467.2L497.1 492.9L498.1 496.4L499.2 477.8L500.3 472.8L501.4 437.0L502.4 465.9L503.5 500.8L504.6 455.3L505.7 466.5L506.7 481.0L507.8 490.7L508.9 502.0L509.9 457.2L511.0 475.7L512.1 489.0L513.2 461.9L514.2 478.0L515.3 513.8L516.4 506.8L517.4 484.4L518.5 445.5L519.6 472.8L520.7 484.3L521.7 475.4L522.8 484.5L523.9 533.6L525.0 480.6L526.0 467.1L527.1 481.0L528.2 475.7L529.2 475.4L530.3 480.0L531.4 494.9L532.5 484.0L533.5 465.4L534.6 478.1L535.7 488.4L536.7 478.2L537.8 503.4L538.9 496.4L540.0 470.9L541.0 490.5L542.1 523.4L543.2 516.0L544.3 487.8L545.3 497.6L546.4 473.1L547.5 463.7L548.5 490.6L549.6 490.8L550.7 493.8L551.8 485.6L552.8 488.8L553.9 478.8L555.0 494.1L556.0 501.2L557.1 487.8L558.2 495.5L559.3 461.1L560.3 474.0L561.4 515.1L562.5 523.2L563.6 494.7L564.6 482.6L565.7 469.2L566.8 491.8L567.8 498.3L568.9 468.7L570.0 494.8L571.1 498.8L572.1 493.8L573.2 473.4L574.3 490.9L575.3 470.5L576.4 512.8L577.5 491.2L578.6 474.5L579.6 514.1L580.7 512.5L581.8 485.7L582.9 527.1L583.9 479.4L585.0 495.5L586.1 506.9L587.1 461.4L588.2 502.8L589.3 490.8L590.4 487.2L591.4 475.2L592.5 490.7L593.6 473.1L594.6 473.5L595.7 479.8L596.8 475.2L597.9 515.1L598.9 473.4L600.0 477.0L601.1 485.2L602.2 492.7L603.2 509.5L604.3 509.3L605.4 488.3L606.4 485.9L607.5 494.0L608.6 510.8L609.7 507.3L610.7 482.4L611.8 466.0L612.9 533.2L613.9 518.9L615.0 502.1L616.1 499.6L617.2 484.6L618.2 477.3L619.3 486.5L620.4 488.8L621.5 481.6L622.5 470.9L623.6 488.1L624.7 504.2L625.7 488.6L626.8 490.1L627.9 463.9L629.0 487.7L630.0 490.7L631.1 473.5L632.2 468.2L633.2 497.3L634.3 485.7L635.4 502.9L636.5 492.3L637.5 507.4L638.6 489.8L639.7 473.3L640.8 492.0L641.8 493.4L642.9 509.0L644.0 491.2L645.0 492.6L646.1 518.2L647.2 527.3L648.3 520.6L649.3 523.8L650.4 513.3L651.5 518.9L652.5 520.9L653.6 510.3L654.7 502.1L655.8 509.5L656.8 551.4L657.9 506.2L659.0 495.4L660.1 493.8L661.1 499.3L662.2 502.1L663.3 479.2L664.3 468.0L665.4 497.8L666.5 477.0L667.6 502.4L668.6 508.5L669.7 531.8L670.8 542.4L671.8 513.0L672.9 491.5L674.0 480.7L675.1 487.3L676.1 496.9L677.2 470.1L678.3 499.4L679.4 504.7L680.4 516.2L681.5 499.5L682.6 502.6L683.6 491.0L684.7 490.8L685.8 474.8L686.9 506.0L687.9 539.4L689.0 513.6L690.1 510.1L691.1 492.7L692.2 531.4L693.3 497.4L694.4 521.0L695.4 507.1L696.5 492.3L697.6 525.7L698.7 509.6L699.7 511.2L700.8 516.6L701.9 505.9L702.9 501.0L704.0 514.5L705.1 501.0L706.2 505.3L707.2 492.7L708.3 479.6L709.4 491.7L710.4 497.6L711.5 509.8L712.6 529.2L713.7 482.9L714.7 501.2L715.8 469.8L716.9 485.0L718.0 492.6L719.0 466.3L720.1 473.5L721.2 507.2L722.2 510.7L723.3 505.5L724.4 500.5L725.5 555.2L726.5 509.7L727.6 498.9L728.7 547.0L729.7 527.8L730.8 508.0L731.9 536.6L733.0 519.5L734.0 526.3L735.1 514.8L736.2 496.7L737.3 530.3L738.3 514.6L739.4 493.5L740.5 498.8L741.5 529.7L742.6 507.9L743.7 513.8L744.8 527.4L745.8 512.4L746.9 489.1L748.0 525.1L749.0 538.5L750.1 540.3L751.2 553.4L752.3 528.7L753.3 536.8L754.4 550.9L755.5 517.1L756.6 557.4L757.6 560.8L758.7 542.6L759.8 560.7L760.8 536.4L761.9 504.3L763.0 538.5L764.1 526.7L765.1 525.5L766.2 523.7L767.3 547.9L768.3 529.6L769.4 506.0L770.5 526.3L771.6 531.1L772.6 504.2L773.7 506.0L774.8 507.1L775.8 505.7L776.9 525.0L778.0 545.9L779.1 565.8L780.1 552.2L781.2 546.6L782.3 549.5L783.4 549.0L784.4 514.8L785.5 532.1L786.6 525.6L787.6 514.3L788.7 507.9L789.8 506.9L790.9 508.6L791.9 497.3L793.0 524.9L794.1 518.4L795.1 520.4L796.2 527.3L797.3 532.8L798.4 508.9L799.4 510.6L800.5 485.9L801.6 473.2L802.7 484.1L803.7 540.7L804.8 492.1L805.9 527.1L806.9 551.1L808.0 517.0L809.1 558.9L810.2 567.5L811.2 552.1L812.3 576.4L813.4 537.0L814.4 508.5L815.5 526.2L816.6 509.0L817.7 493.0L818.7 499.5L819.8 565.0L820.9 514.4L822.0 515.2L823.0 507.7L824.1 518.7L825.2 513.9L826.2 508.5L827.3 494.7L828.4 491.1L829.5 504.0L830.5 529.4L831.6 570.0L832.7 554.7L833.7 565.0L834.8 535.3L835.9 515.6L837.0 497.0L838.0 511.3L839.1 483.3L840.2 513.0L841.3 556.2L842.3 535.1L843.4 544.7L844.5 512.3L845.5 494.8L846.6 507.5L847.7 514.4L848.8 551.6L849.8 565.7L850.9 510.8L852.0 511.5L853.0 515.4L854.1 510.6L855.2 498.5L856.3 519.0L857.3 529.3L858.4 525.8L859.5 500.4L860.6 511.1L861.6 492.8L862.7 532.0L863.8 532.0" fill="none" stroke="#ff7f0e" stroke-width="8.5" stroke-linejoin="round" stroke-linecap="square" clip-path="url(#cl)"/>
<g opacity="0.1" clip-path="url(#cl)"><path d="M230.1 106.1L231.2 155.5L232.2 185.0L233.3 208.3L234.4 226.9L235.5 242.7L236.5 257.0L237.6 270.2L238.7 282.1L239.7 292.7L240.8 301.8L241.9 309.3L243.0 315.8L244.0 321.9L245.1 327.5L246.2 332.5L247.3 336.9L248.3 340.7L249.4 343.7L250.5 345.9L251.5 347.9L252.6 350.4L253.7 353.4L254.8 354.0L255.8 359.8L256.9 362.6L258.0 365.4L259.0 369.7L260.1 362.1L261.2 367.3L262.3 371.8L263.3 353.8L264.4 379.0L265.5 366.2L266.6 360.8L267.6 380.0L268.7 368.1L269.8 380.7L270.8 376.1L271.9 366.1L273.0 377.8L274.1 373.9L275.1 371.1L276.2 378.5L277.3 382.7L278.3 367.6L279.4 381.2L280.5 382.8L281.6 377.6L282.6 377.9L283.7 380.6L284.8 379.9L285.9 386.8L286.9 389.6L288.0 389.0L289.1 376.4L290.1 383.4L291.2 381.8L292.3 390.3L293.4 391.9L294.4 386.7L295.5 377.3L296.6 386.2L297.6 392.9L298.7 387.6L299.8 379.8L300.9 387.6L301.9 394.9L303.0 394.2L304.1 394.0L305.2 305.8L306.2 390.7L307.3 392.4L308.4 390.5L309.4 394.7L310.5 397.0L311.6 397.0L312.7 387.3L313.7 393.0L314.8 392.6L315.9 394.5L316.9 396.7L318.0 390.6L319.1 400.2L320.2 395.9L321.2 393.4L322.3 398.3L323.4 400.8L324.5 400.0L325.5 392.6L326.6 394.0L327.7 402.8L328.7 391.2L329.8 399.5L330.9 401.3L332.0 388.2L333.0 398.9L334.1 403.7L335.2 395.6L336.2 405.1L337.3 406.6L338.4 358.9L339.5 396.9L340.5 400.6L341.6 402.6L342.7 405.3L343.8 399.1L344.8 405.9L345.9 396.8L347.0 404.9L348.0 400.4L349.1 409.6L350.2 393.4L351.3 387.7L352.3 402.1L353.4 403.8L354.5 406.8L355.5 406.8L356.6 408.8L357.7 409.6L358.8 405.7L359.8 408.4L360.9 404.7L362.0 400.3L363.1 400.7L364.1 409.6L365.2 383.6L366.3 398.5L367.3 409.5L368.4 412.4L369.5 402.5L370.6 402.4L371.6 408.9L372.7 409.8L373.8 413.4L374.8 410.8L375.9 408.6L377.0 411.3L378.1 409.8L379.1 401.2L380.2 407.5L381.3 411.9L382.4 408.4L383.4 407.2L384.5 411.8L385.6 399.8L386.6 405.9L387.7 410.2L388.8 413.9L389.9 405.2L390.9 415.5L392.0 406.7L393.1 378.7L394.1 400.9L395.2 409.0L396.3 414.0L397.4 415.7L398.4 416.6L399.5 414.2L400.6 416.8L401.7 407.4L402.7 411.8L403.8 413.8L404.9 407.5L405.9 411.5L407.0 413.7L408.1 413.0L409.2 406.4L410.2 411.1L411.3 408.2L412.4 415.0L413.4 409.2L414.5 410.2L415.6 400.2L416.7 419.2L417.7 408.6L418.8 412.5L419.9 417.6L421.0 416.9L422.0 418.8L423.1 406.5L424.2 407.8L425.2 418.2L426.3 411.3L427.4 410.1L428.5 419.4L429.5 418.0L430.6 418.2L431.7 416.8L432.7 419.7L433.8 418.2L434.9 420.4L436.0 409.5L437.0 406.6L438.1 406.9L439.2 415.7L440.3 418.7L441.3 408.7L442.4 416.8L443.5 413.3L444.5 421.9L445.6 412.6L446.7 408.4L447.8 416.6L448.8 411.5L449.9 420.0L451.0 407.9L452.0 415.8L453.1 420.1L454.2 419.3L455.3 416.3L456.3 416.9L457.4 414.6L458.5 422.2L459.6 420.0L460.6 412.2L461.7 413.4L462.8 419.2L463.8 419.9L464.9 421.0L466.0 418.8L467.1 413.0L468.1 405.0L469.2 419.5L470.3 418.5L471.3 414.2L472.4 417.7L473.5 420.4L474.6 415.7L475.6 419.3L476.7 406.9L477.8 416.7L478.9 415.1L479.9 421.1L481.0 421.9L482.1 409.0L483.1 420.7L484.2 417.8L485.3 324.0L486.4 415.8L487.4 419.7L488.5 410.4L489.6 421.7L490.6 417.7L491.7 419.7L492.8 419.0L493.9 405.6L494.9 419.6L496.0 413.7L497.1 415.0L498.1 409.1L499.2 408.7L500.3 416.8L501.4 418.3L502.4 423.9L503.5 412.0L504.6 418.4L505.7 422.0L506.7 423.0L507.8 425.3L508.9 416.7L509.9 424.6L511.0 411.9L512.1 425.3L513.2 420.3L514.2 419.9L515.3 423.3L516.4 410.6L517.4 423.3L518.5 414.1L519.6 418.8L520.7 421.2L521.7 421.5L522.8 424.3L523.9 424.9L525.0 409.2L526.0 425.1L527.1 415.0L528.2 414.1L529.2 417.8L530.3 426.1L531.4 424.0L532.5 417.0L533.5 422.5L534.6 423.9L535.7 423.1L536.7 426.1L537.8 422.4L538.9 417.4L540.0 418.8L541.0 421.3L542.1 410.0L543.2 418.2L544.3 424.8L545.3 405.6L546.4 352.0L547.5 424.3L548.5 422.0L549.6 420.3L550.7 410.7L551.8 411.9L552.8 424.4L553.9 298.8L555.0 415.0L556.0 425.1L557.1 406.7L558.2 424.2L559.3 422.7L560.3 418.5L561.4 425.1L562.5 417.0L563.6 427.6L564.6 417.3L565.7 424.0L566.8 426.7L567.8 415.7L568.9 425.1L570.0 420.9L571.1 428.2L572.1 426.1L573.2 426.8L574.3 426.6L575.3 427.4L576.4 421.1L577.5 423.5L578.6 425.2L579.6 427.0L580.7 417.5L581.8 419.9L582.9 421.9L583.9 428.0L585.0 426.6L586.1 428.3L587.1 423.8L588.2 426.2L589.3 412.5L590.4 401.6L591.4 421.4L592.5 413.3L593.6 416.5L594.6 350.9L595.7 427.4L596.8 420.6L597.9 429.4L598.9 423.9L600.0 415.5L601.1 414.7L602.2 427.2L603.2 423.8L604.3 418.8L605.4 411.5L606.4 423.5L607.5 426.8L608.6 429.8L609.7 429.6L610.7 425.9L611.8 425.2L612.9 416.9L613.9 417.8L615.0 430.2L616.1 425.5L617.2 429.7L618.2 422.0L619.3 426.6L620.4 424.5L621.5 420.4L622.5 427.9L623.6 426.2L624.7 426.5L625.7 427.4L626.8 423.5L627.9 429.8L629.0 427.1L630.0 428.2L631.1 429.4L632.2 430.6L633.2 421.7L634.3 421.3L635.4 422.8L636.5 430.1L637.5 422.8L638.6 421.6L639.7 429.1L640.8 428.7L641.8 413.7L642.9 407.9L644.0 419.2L645.0 421.8L646.1 414.0L647.2 414.5L648.3 431.9L649.3 423.0L650.4 419.8L651.5 414.5L652.5 427.6L653.6 430.8L654.7 428.4L655.8 429.4L656.8 422.6L657.9 419.3L659.0 418.1L660.1 427.8L661.1 427.9L662.2 424.7L663.3 406.1L664.3 423.9L665.4 431.5L666.5 426.3L667.6 423.1L668.6 425.1L669.7 414.4L670.8 432.8L671.8 431.5L672.9 426.5L674.0 431.3L675.1 429.3L676.1 427.5L677.2 424.9L678.3 421.3L679.4 424.0L680.4 419.4L681.5 431.5L682.6 423.6L683.6 416.1L684.7 414.3L685.8 422.4L686.9 432.8L687.9 430.3L689.0 424.7L690.1 430.3L691.1 430.9L692.2 430.4L693.3 428.3L694.4 429.0L695.4 430.8L696.5 418.0L697.6 339.7L698.7 432.9L699.7 430.5L700.8 431.0L701.9 429.5L702.9 432.9L704.0 429.0L705.1 416.4L706.2 434.1L707.2 433.2L708.3 419.8L709.4 422.3L710.4 432.4L711.5 425.9L712.6 428.6L713.7 432.7L714.7 434.0L715.8 434.2L716.9 428.9L718.0 433.6L719.0 384.7L720.1 435.7L721.2 417.8L722.2 434.6L723.3 435.6L724.4 430.0L725.5 429.1L726.5 425.8L727.6 424.5L728.7 436.0L729.7 424.4L730.8 435.9L731.9 424.4L733.0 435.2L734.0 433.4L735.1 430.3L736.2 428.7L737.3 431.0L738.3 433.5L739.4 430.8L740.5 381.7L741.5 426.1L742.6 427.8L743.7 431.6L744.8 431.0L745.8 428.4L746.9 425.6L748.0 432.1L749.0 425.4L750.1 434.3L751.2 368.9L752.3 362.5L753.3 434.8L754.4 437.4L755.5 422.3L756.6 416.4L757.6 434.6L758.7 428.1L759.8 428.6L760.8 433.0L761.9 431.6L763.0 426.7L764.1 436.9L765.1 436.2L766.2 434.7L767.3 434.9L768.3 433.4L769.4 431.4L770.5 427.5L771.6 434.3L772.6 425.2L773.7 433.5L774.8 423.9L775.8 432.0L776.9 425.8L778.0 416.4L779.1 434.1L780.1 430.8L781.2 438.3L782.3 404.3L783.4 431.0L784.4 426.3L785.5 433.0L786.6 424.8L787.6 423.0L788.7 435.3L789.8 438.6L790.9 434.1L791.9 438.5L793.0 431.2L794.1 422.3L795.1 437.5L796.2 432.8L797.3 426.8L798.4 426.0L799.4 437.6L800.5 433.5L801.6 436.8L802.7 439.7L803.7 432.2L804.8 436.6L805.9 429.6L806.9 419.1L808.0 427.7L809.1 431.2L810.2 414.9L811.2 431.9L812.3 429.0L813.4 439.0L814.4 437.4L815.5 434.7L816.6 436.6L817.7 425.3L818.7 436.1L819.8 431.1L820.9 425.7L822.0 440.5L823.0 438.3L824.1 436.0L825.2 430.2L826.2 436.6L827.3 435.1L828.4 438.1L829.5 433.8L830.5 433.5L831.6 428.3L832.7 438.9L833.7 436.1L834.8 432.6L835.9 440.6L837.0 434.4L838.0 434.0L839.1 429.3L840.2 429.8L841.3 433.5L842.3 437.5L843.4 435.3L844.5 431.9L845.5 437.5L846.6 438.3L847.7 429.8L848.8 438.2L849.8 439.7L850.9 435.8L852.0 441.3L853.0 439.8L854.1 428.7L855.2 430.9L856.3 424.3L857.3 428.3L858.4 433.7L859.5 442.1L860.6 433.5L861.6 438.3L862.7 439.9L863.8 436.9L863.8 635.5L862.7 624.1L861.6 625.4L860.6 625.7L859.5 627.6L858.4 635.8L857.3 629.4L856.3 636.4L855.2 636.6L854.1 637.8L853.0 635.1L852.0 624.9L850.9 632.9L849.8 631.7L848.8 625.4L847.7 655.4L846.6 624.6L845.5 627.2L844.5 628.1L843.4 627.2L842.3 632.1L841.3 626.5L840.2 637.4L839.1 635.7L838.0 630.0L837.0 641.4L835.9 646.6L834.8 631.7L833.7 630.3L832.7 646.3L831.6 633.6L830.5 624.0L829.5 626.0L828.4 625.2L827.3 632.8L826.2 627.8L825.2 638.0L824.1 630.4L823.0 627.1L822.0 627.7L820.9 632.8L819.8 639.1L818.7 633.2L817.7 630.7L816.6 623.1L815.5 626.5L814.4 628.9L813.4 623.0L812.3 634.7L811.2 623.6L810.2 623.1L809.1 625.7L808.0 625.1L806.9 629.4L805.9 629.0L804.8 632.6L803.7 625.8L802.7 625.6L801.6 624.3L800.5 624.4L799.4 630.9L798.4 648.1L797.3 623.0L796.2 624.2L795.1 622.7L794.1 625.5L793.0 623.5L791.9 623.1L790.9 624.1L789.8 630.6L788.7 624.0L787.6 622.0L786.6 634.1L785.5 629.7L784.4 638.1L783.4 626.6L782.3 628.0L781.2 625.0L780.1 627.2L779.1 640.9L778.0 628.2L776.9 624.6L775.8 626.2L774.8 626.4L773.7 623.7L772.6 629.0L771.6 623.4L770.5 628.3L769.4 627.8L768.3 622.2L767.3 620.8L766.2 628.1L765.1 621.1L764.1 623.3L763.0 624.2L761.9 626.5L760.8 624.5L759.8 622.2L758.7 622.4L757.6 624.6L756.6 628.3L755.5 628.5L754.4 633.5L753.3 624.6L752.3 629.3L751.2 649.8L750.1 627.2L749.0 623.7L748.0 620.9L746.9 622.9L745.8 621.5L744.8 623.5L743.7 627.6L742.6 620.9L741.5 620.3L740.5 630.8L739.4 622.3L738.3 627.9L737.3 627.7L736.2 621.6L735.1 622.8L734.0 621.2L733.0 621.4L731.9 618.8L730.8 627.8L729.7 625.0L728.7 631.8L727.6 617.6L726.5 628.6L725.5 633.1L724.4 623.9L723.3 620.1L722.2 617.6L721.2 617.2L720.1 619.4L719.0 618.5L718.0 622.4L716.9 623.0L715.8 630.6L714.7 637.2L713.7 620.7L712.6 631.0L711.5 616.6L710.4 629.9L709.4 627.3L708.3 635.7L707.2 620.3L706.2 616.8L705.1 626.4L704.0 620.4L702.9 621.0L701.9 620.1L700.8 620.8L699.7 638.2L698.7 623.2L697.6 615.6L696.5 621.3L695.4 621.3L694.4 616.0L693.3 618.9L692.2 618.1L691.1 614.8L690.1 622.3L689.0 617.9L687.9 615.6L686.9 627.3L685.8 614.5L684.7 622.6L683.6 624.5L682.6 613.2L681.5 620.5L680.4 615.8L679.4 618.5L678.3 614.3L677.2 612.6L676.1 618.8L675.1 617.4L674.0 612.8L672.9 621.0L671.8 616.3L670.8 612.7L669.7 613.8L668.6 634.6L667.6 611.7L666.5 616.0L665.4 616.1L664.3 614.0L663.3 619.8L662.2 610.8L661.1 618.2L660.1 610.8L659.0 611.1L657.9 612.6L656.8 611.4L655.8 613.8L654.7 613.3L653.6 610.0L652.5 614.8L651.5 619.9L650.4 621.6L649.3 614.4L648.3 616.5L647.2 618.2L646.1 621.2L645.0 608.6L644.0 612.4L642.9 613.1L641.8 611.2L640.8 616.0L639.7 614.2L638.6 608.4L637.5 613.9L636.5 609.9L635.4 609.5L634.3 621.6L633.2 618.2L632.2 612.4L631.1 622.4L630.0 638.6L629.0 610.5L627.9 612.1L626.8 611.6L625.7 626.9L624.7 618.1L623.6 608.8L622.5 611.2L621.5 605.2L620.4 612.4L619.3 607.5L618.2 609.5L617.2 616.7L616.1 611.9L615.0 608.9L613.9 613.2L612.9 616.4L611.8 621.1L610.7 611.4L609.7 625.6L608.6 610.4L607.5 605.2L606.4 610.2L605.4 612.6L604.3 602.8L603.2 602.7L602.2 603.5L601.1 602.6L600.0 604.9L598.9 605.9L597.9 607.8L596.8 611.6L595.7 606.7L594.6 613.2L593.6 607.7L592.5 603.8L591.4 605.9L590.4 605.3L589.3 611.5L588.2 603.4L587.1 621.0L586.1 606.9L585.0 601.1L583.9 637.9L582.9 603.4L581.8 608.3L580.7 606.1L579.6 601.6L578.6 602.2L577.5 603.0L576.4 608.3L575.3 599.0L574.3 605.9L573.2 601.1L572.1 609.4L571.1 601.4L570.0 606.1L568.9 597.4L567.8 596.0L566.8 609.5L565.7 599.3L564.6 595.0L563.6 600.1L562.5 606.7L561.4 596.0L560.3 593.9L559.3 596.1L558.2 610.7L557.1 597.0L556.0 605.1L555.0 591.5L553.9 591.4L552.8 594.1L551.8 592.2L550.7 601.4L549.6 600.7L548.5 595.6L547.5 590.3L546.4 598.0L545.3 603.2L544.3 589.8L543.2 597.1L542.1 596.2L541.0 587.7L540.0 587.3L538.9 589.8L537.8 586.4L536.7 598.5L535.7 592.0L534.6 606.6L533.5 599.3L532.5 592.3L531.4 590.6L530.3 593.2L529.2 588.8L528.2 590.5L527.1 585.8L526.0 586.2L525.0 592.7L523.9 586.0L522.8 590.8L521.7 603.2L520.7 601.0L519.6 588.9L518.5 628.3L517.4 590.0L516.4 583.9L515.3 583.5L514.2 598.7L513.2 587.6L512.1 584.3L511.0 585.4L509.9 593.1L508.9 597.8L507.8 584.0L506.7 584.1L505.7 585.8L504.6 585.0L503.5 613.9L502.4 592.1L501.4 585.4L500.3 595.5L499.2 582.0L498.1 593.1L497.1 599.7L496.0 583.9L494.9 581.1L493.9 587.1L492.8 590.9L491.7 592.7L490.6 583.3L489.6 592.7L488.5 582.6L487.4 592.6L486.4 604.2L485.3 583.2L484.2 587.1L483.1 584.3L482.1 580.0L481.0 586.3L479.9 586.2L478.9 587.8L477.8 580.3L476.7 580.2L475.6 580.7L474.6 578.7L473.5 588.1L472.4 585.2L471.3 585.5L470.3 578.6L469.2 585.1L468.1 588.3L467.1 585.8L466.0 577.8L464.9 601.3L463.8 592.1L462.8 578.0L461.7 576.7L460.6 575.4L459.6 576.2L458.5 580.8L457.4 584.8L456.3 581.1L455.3 576.0L454.2 574.4L453.1 586.2L452.0 579.9L451.0 580.1L449.9 572.1L448.8 574.1L447.8 573.0L446.7 586.6L445.6 581.2L444.5 575.6L443.5 578.8L442.4 574.1L441.3 577.1L440.3 569.8L439.2 572.2L438.1 571.9L437.0 583.3L436.0 568.4L434.9 568.7L433.8 579.1L432.7 579.8L431.7 572.0L430.6 568.3L429.5 570.3L428.5 570.1L427.4 577.0L426.3 567.4L425.2 570.1L424.2 563.8L423.1 573.9L422.0 563.8L421.0 584.1L419.9 562.0L418.8 564.1L417.7 564.2L416.7 566.1L415.6 559.3L414.5 561.3L413.4 565.9L412.4 565.8L411.3 565.6L410.2 561.7L409.2 559.7L408.1 557.0L407.0 560.3L405.9 564.1L404.9 556.0L403.8 559.6L402.7 563.4L401.7 566.1L400.6 551.4L399.5 559.0L398.4 573.0L397.4 552.9L396.3 554.0L395.2 561.2L394.1 545.8L393.1 550.5L392.0 548.1L390.9 551.5L389.9 554.0L388.8 543.1L387.7 547.7L386.6 550.9L385.6 548.8L384.5 545.1L383.4 539.4L382.4 547.1L381.3 542.3L380.2 551.4L379.1 537.2L378.1 548.8L377.0 546.5L375.9 545.3L374.8 537.1L373.8 541.9L372.7 542.4L371.6 538.4L370.6 542.5L369.5 540.9L368.4 545.5L367.3 536.6L366.3 542.6L365.2 535.6L364.1 540.5L363.1 537.2L362.0 547.6L360.9 533.9L359.8 531.3L358.8 533.6L357.7 535.8L356.6 531.1L355.5 542.3L354.5 530.5L353.4 538.9L352.3 561.2L351.3 541.7L350.2 534.9L349.1 535.5L348.0 536.8L347.0 530.4L345.9 531.9L344.8 527.6L343.8 527.8L342.7 536.6L341.6 523.3L340.5 522.5L339.5 521.4L338.4 522.5L337.3 532.4L336.2 528.3L335.2 521.7L334.1 526.7L333.0 518.8L332.0 523.1L330.9 526.8L329.8 520.3L328.7 515.1L327.7 518.9L326.6 513.1L325.5 513.4L324.5 515.2L323.4 512.5L322.3 514.1L321.2 517.0L320.2 508.9L319.1 513.0L318.0 537.6L316.9 509.3L315.9 514.6L314.8 524.8L313.7 506.4L312.7 514.4L311.6 512.5L310.5 511.1L309.4 504.7L308.4 510.0L307.3 507.5L306.2 518.2L305.2 514.0L304.1 512.9L303.0 520.8L301.9 500.3L300.9 511.5L299.8 506.4L298.7 512.2L297.6 499.8L296.6 499.0L295.5 506.1L294.4 498.1L293.4 500.0L292.3 493.1L291.2 497.1L290.1 491.1L289.1 500.9L288.0 491.0L286.9 492.1L285.9 501.2L284.8 492.0L283.7 489.5L282.6 495.3L281.6 491.0L280.5 487.9L279.4 487.5L278.3 496.3L277.3 495.8L276.2 497.7L275.1 494.7L274.1 480.6L273.0 485.6L271.9 480.5L270.8 488.1L269.8 502.2L268.7 491.3L267.6 478.5L266.6 490.8L265.5 494.7L264.4 475.7L263.3 483.5L262.3 471.9L261.2 476.1L260.1 473.2L259.0 475.2L258.0 479.2L256.9 484.3L255.8 473.0L254.8 474.4L253.7 472.3L252.6 469.7L251.5 465.6L250.5 460.3L249.4 454.2L248.3 447.7L247.3 440.7L246.2 433.5L245.1 426.1L244.0 418.7L243.0 411.4L241.9 404.3L240.8 397.3L239.7 390.0L238.7 382.2L237.6 373.9L236.5 364.8L235.5 355.4L234.4 347.1L233.3 337.8L232.2 324.5L231.2 304.1L230.1 224.8Z" fill="#ff7f0e" stroke="#ff7f0e" stroke-width="8.3" stroke-linejoin="round"/></g>
<clipPath id="b_cl_orange"><path d="M230.1 106.1L231.2 155.5L232.2 185.0L233.3 208.3L234.4 226.9L235.5 242.7L236.5 257.0L237.6 270.2L238.7 282.1L239.7 292.7L240.8 301.8L241.9 309.3L243.0 315.8L244.0 321.9L245.1 327.5L246.2 332.5L247.3 336.9L248.3 340.7L249.4 343.7L250.5 345.9L251.5 347.9L252.6 350.4L253.7 353.4L254.8 354.0L255.8 359.8L256.9 362.6L258.0 365.4L259.0 369.7L260.1 362.1L261.2 367.3L262.3 371.8L263.3 353.8L264.4 379.0L265.5 366.2L266.6 360.8L267.6 380.0L268.7 368.1L269.8 380.7L270.8 376.1L271.9 366.1L273.0 377.8L274.1 373.9L275.1 371.1L276.2 378.5L277.3 382.7L278.3 367.6L279.4 381.2L280.5 382.8L281.6 377.6L282.6 377.9L283.7 380.6L284.8 379.9L285.9 386.8L286.9 389.6L288.0 389.0L289.1 376.4L290.1 383.4L291.2 381.8L292.3 390.3L293.4 391.9L294.4 386.7L295.5 377.3L296.6 386.2L297.6 392.9L298.7 387.6L299.8 379.8L300.9 387.6L301.9 394.9L303.0 394.2L304.1 394.0L305.2 305.8L306.2 390.7L307.3 392.4L308.4 390.5L309.4 394.7L310.5 397.0L311.6 397.0L312.7 387.3L313.7 393.0L314.8 392.6L315.9 394.5L316.9 396.7L318.0 390.6L319.1 400.2L320.2 395.9L321.2 393.4L322.3 398.3L323.4 400.8L324.5 400.0L325.5 392.6L326.6 394.0L327.7 402.8L328.7 391.2L329.8 399.5L330.9 401.3L332.0 388.2L333.0 398.9L334.1 403.7L335.2 395.6L336.2 405.1L337.3 406.6L338.4 358.9L339.5 396.9L340.5 400.6L341.6 402.6L342.7 405.3L343.8 399.1L344.8 405.9L345.9 396.8L347.0 404.9L348.0 400.4L349.1 409.6L350.2 393.4L351.3 387.7L352.3 402.1L353.4 403.8L354.5 406.8L355.5 406.8L356.6 408.8L357.7 409.6L358.8 405.7L359.8 408.4L360.9 404.7L362.0 400.3L363.1 400.7L364.1 409.6L365.2 383.6L366.3 398.5L367.3 409.5L368.4 412.4L369.5 402.5L370.6 402.4L371.6 408.9L372.7 409.8L373.8 413.4L374.8 410.8L375.9 408.6L377.0 411.3L378.1 409.8L379.1 401.2L380.2 407.5L381.3 411.9L382.4 408.4L383.4 407.2L384.5 411.8L385.6 399.8L386.6 405.9L387.7 410.2L388.8 413.9L389.9 405.2L390.9 415.5L392.0 406.7L393.1 378.7L394.1 400.9L395.2 409.0L396.3 414.0L397.4 415.7L398.4 416.6L399.5 414.2L400.6 416.8L401.7 407.4L402.7 411.8L403.8 413.8L404.9 407.5L405.9 411.5L407.0 413.7L408.1 413.0L409.2 406.4L410.2 411.1L411.3 408.2L412.4 415.0L413.4 409.2L414.5 410.2L415.6 400.2L416.7 419.2L417.7 408.6L418.8 412.5L419.9 417.6L421.0 416.9L422.0 418.8L423.1 406.5L424.2 407.8L425.2 418.2L426.3 411.3L427.4 410.1L428.5 419.4L429.5 418.0L430.6 418.2L431.7 416.8L432.7 419.7L433.8 418.2L434.9 420.4L436.0 409.5L437.0 406.6L438.1 406.9L439.2 415.7L440.3 418.7L441.3 408.7L442.4 416.8L443.5 413.3L444.5 421.9L445.6 412.6L446.7 408.4L447.8 416.6L448.8 411.5L449.9 420.0L451.0 407.9L452.0 415.8L453.1 420.1L454.2 419.3L455.3 416.3L456.3 416.9L457.4 414.6L458.5 422.2L459.6 420.0L460.6 412.2L461.7 413.4L462.8 419.2L463.8 419.9L464.9 421.0L466.0 418.8L467.1 413.0L468.1 405.0L469.2 419.5L470.3 418.5L471.3 414.2L472.4 417.7L473.5 420.4L474.6 415.7L475.6 419.3L476.7 406.9L477.8 416.7L478.9 415.1L479.9 421.1L481.0 421.9L482.1 409.0L483.1 420.7L484.2 417.8L485.3 324.0L486.4 415.8L487.4 419.7L488.5 410.4L489.6 421.7L490.6 417.7L491.7 419.7L492.8 419.0L493.9 405.6L494.9 419.6L496.0 413.7L497.1 415.0L498.1 409.1L499.2 408.7L500.3 416.8L501.4 418.3L502.4 423.9L503.5 412.0L504.6 418.4L505.7 422.0L506.7 423.0L507.8 425.3L508.9 416.7L509.9 424.6L511.0 411.9L512.1 425.3L513.2 420.3L514.2 419.9L515.3 423.3L516.4 410.6L517.4 423.3L518.5 414.1L519.6 418.8L520.7 421.2L521.7 421.5L522.8 424.3L523.9 424.9L525.0 409.2L526.0 425.1L527.1 415.0L528.2 414.1L529.2 417.8L530.3 426.1L531.4 424.0L532.5 417.0L533.5 422.5L534.6 423.9L535.7 423.1L536.7 426.1L537.8 422.4L538.9 417.4L540.0 418.8L541.0 421.3L542.1 410.0L543.2 418.2L544.3 424.8L545.3 405.6L546.4 352.0L547.5 424.3L548.5 422.0L549.6 420.3L550.7 410.7L551.8 411.9L552.8 424.4L553.9 298.8L555.0 415.0L556.0 425.1L557.1 406.7L558.2 424.2L559.3 422.7L560.3 418.5L561.4 425.1L562.5 417.0L563.6 427.6L564.6 417.3L565.7 424.0L566.8 426.7L567.8 415.7L568.9 425.1L570.0 420.9L571.1 428.2L572.1 426.1L573.2 426.8L574.3 426.6L575.3 427.4L576.4 421.1L577.5 423.5L578.6 425.2L579.6 427.0L580.7 417.5L581.8 419.9L582.9 421.9L583.9 428.0L585.0 426.6L586.1 428.3L587.1 423.8L588.2 426.2L589.3 412.5L590.4 401.6L591.4 421.4L592.5 413.3L593.6 416.5L594.6 350.9L595.7 427.4L596.8 420.6L597.9 429.4L598.9 423.9L600.0 415.5L601.1 414.7L602.2 427.2L603.2 423.8L604.3 418.8L605.4 411.5L606.4 423.5L607.5 426.8L608.6 429.8L609.7 429.6L610.7 425.9L611.8 425.2L612.9 416.9L613.9 417.8L615.0 430.2L616.1 425.5L617.2 429.7L618.2 422.0L619.3 426.6L620.4 424.5L621.5 420.4L622.5 427.9L623.6 426.2L624.7 426.5L625.7 427.4L626.8 423.5L627.9 429.8L629.0 427.1L630.0 428.2L631.1 429.4L632.2 430.6L633.2 421.7L634.3 421.3L635.4 422.8L636.5 430.1L637.5 422.8L638.6 421.6L639.7 429.1L640.8 428.7L641.8 413.7L642.9 407.9L644.0 419.2L645.0 421.8L646.1 414.0L647.2 414.5L648.3 431.9L649.3 423.0L650.4 419.8L651.5 414.5L652.5 427.6L653.6 430.8L654.7 428.4L655.8 429.4L656.8 422.6L657.9 419.3L659.0 418.1L660.1 427.8L661.1 427.9L662.2 424.7L663.3 406.1L664.3 423.9L665.4 431.5L666.5 426.3L667.6 423.1L668.6 425.1L669.7 414.4L670.8 432.8L671.8 431.5L672.9 426.5L674.0 431.3L675.1 429.3L676.1 427.5L677.2 424.9L678.3 421.3L679.4 424.0L680.4 419.4L681.5 431.5L682.6 423.6L683.6 416.1L684.7 414.3L685.8 422.4L686.9 432.8L687.9 430.3L689.0 424.7L690.1 430.3L691.1 430.9L692.2 430.4L693.3 428.3L694.4 429.0L695.4 430.8L696.5 418.0L697.6 339.7L698.7 432.9L699.7 430.5L700.8 431.0L701.9 429.5L702.9 432.9L704.0 429.0L705.1 416.4L706.2 434.1L707.2 433.2L708.3 419.8L709.4 422.3L710.4 432.4L711.5 425.9L712.6 428.6L713.7 432.7L714.7 434.0L715.8 434.2L716.9 428.9L718.0 433.6L719.0 384.7L720.1 435.7L721.2 417.8L722.2 434.6L723.3 435.6L724.4 430.0L725.5 429.1L726.5 425.8L727.6 424.5L728.7 436.0L729.7 424.4L730.8 435.9L731.9 424.4L733.0 435.2L734.0 433.4L735.1 430.3L736.2 428.7L737.3 431.0L738.3 433.5L739.4 430.8L740.5 381.7L741.5 426.1L742.6 427.8L743.7 431.6L744.8 431.0L745.8 428.4L746.9 425.6L748.0 432.1L749.0 425.4L750.1 434.3L751.2 368.9L752.3 362.5L753.3 434.8L754.4 437.4L755.5 422.3L756.6 416.4L757.6 434.6L758.7 428.1L759.8 428.6L760.8 433.0L761.9 431.6L763.0 426.7L764.1 436.9L765.1 436.2L766.2 434.7L767.3 434.9L768.3 433.4L769.4 431.4L770.5 427.5L771.6 434.3L772.6 425.2L773.7 433.5L774.8 423.9L775.8 432.0L776.9 425.8L778.0 416.4L779.1 434.1L780.1 430.8L781.2 438.3L782.3 404.3L783.4 431.0L784.4 426.3L785.5 433.0L786.6 424.8L787.6 423.0L788.7 435.3L789.8 438.6L790.9 434.1L791.9 438.5L793.0 431.2L794.1 422.3L795.1 437.5L796.2 432.8L797.3 426.8L798.4 426.0L799.4 437.6L800.5 433.5L801.6 436.8L802.7 439.7L803.7 432.2L804.8 436.6L805.9 429.6L806.9 419.1L808.0 427.7L809.1 431.2L810.2 414.9L811.2 431.9L812.3 429.0L813.4 439.0L814.4 437.4L815.5 434.7L816.6 436.6L817.7 425.3L818.7 436.1L819.8 431.1L820.9 425.7L822.0 440.5L823.0 438.3L824.1 436.0L825.2 430.2L826.2 436.6L827.3 435.1L828.4 438.1L829.5 433.8L830.5 433.5L831.6 428.3L832.7 438.9L833.7 436.1L834.8 432.6L835.9 440.6L837.0 434.4L838.0 434.0L839.1 429.3L840.2 429.8L841.3 433.5L842.3 437.5L843.4 435.3L844.5 431.9L845.5 437.5L846.6 438.3L847.7 429.8L848.8 438.2L849.8 439.7L850.9 435.8L852.0 441.3L853.0 439.8L854.1 428.7L855.2 430.9L856.3 424.3L857.3 428.3L858.4 433.7L859.5 442.1L860.6 433.5L861.6 438.3L862.7 439.9L863.8 436.9L863.8 635.5L862.7 624.1L861.6 625.4L860.6 625.7L859.5 627.6L858.4 635.8L857.3 629.4L856.3 636.4L855.2 636.6L854.1 637.8L853.0 635.1L852.0 624.9L850.9 632.9L849.8 631.7L848.8 625.4L847.7 655.4L846.6 624.6L845.5 627.2L844.5 628.1L843.4 627.2L842.3 632.1L841.3 626.5L840.2 637.4L839.1 635.7L838.0 630.0L837.0 641.4L835.9 646.6L834.8 631.7L833.7 630.3L832.7 646.3L831.6 633.6L830.5 624.0L829.5 626.0L828.4 625.2L827.3 632.8L826.2 627.8L825.2 638.0L824.1 630.4L823.0 627.1L822.0 627.7L820.9 632.8L819.8 639.1L818.7 633.2L817.7 630.7L816.6 623.1L815.5 626.5L814.4 628.9L813.4 623.0L812.3 634.7L811.2 623.6L810.2 623.1L809.1 625.7L808.0 625.1L806.9 629.4L805.9 629.0L804.8 632.6L803.7 625.8L802.7 625.6L801.6 624.3L800.5 624.4L799.4 630.9L798.4 648.1L797.3 623.0L796.2 624.2L795.1 622.7L794.1 625.5L793.0 623.5L791.9 623.1L790.9 624.1L789.8 630.6L788.7 624.0L787.6 622.0L786.6 634.1L785.5 629.7L784.4 638.1L783.4 626.6L782.3 628.0L781.2 625.0L780.1 627.2L779.1 640.9L778.0 628.2L776.9 624.6L775.8 626.2L774.8 626.4L773.7 623.7L772.6 629.0L771.6 623.4L770.5 628.3L769.4 627.8L768.3 622.2L767.3 620.8L766.2 628.1L765.1 621.1L764.1 623.3L763.0 624.2L761.9 626.5L760.8 624.5L759.8 622.2L758.7 622.4L757.6 624.6L756.6 628.3L755.5 628.5L754.4 633.5L753.3 624.6L752.3 629.3L751.2 649.8L750.1 627.2L749.0 623.7L748.0 620.9L746.9 622.9L745.8 621.5L744.8 623.5L743.7 627.6L742.6 620.9L741.5 620.3L740.5 630.8L739.4 622.3L738.3 627.9L737.3 627.7L736.2 621.6L735.1 622.8L734.0 621.2L733.0 621.4L731.9 618.8L730.8 627.8L729.7 625.0L728.7 631.8L727.6 617.6L726.5 628.6L725.5 633.1L724.4 623.9L723.3 620.1L722.2 617.6L721.2 617.2L720.1 619.4L719.0 618.5L718.0 622.4L716.9 623.0L715.8 630.6L714.7 637.2L713.7 620.7L712.6 631.0L711.5 616.6L710.4 629.9L709.4 627.3L708.3 635.7L707.2 620.3L706.2 616.8L705.1 626.4L704.0 620.4L702.9 621.0L701.9 620.1L700.8 620.8L699.7 638.2L698.7 623.2L697.6 615.6L696.5 621.3L695.4 621.3L694.4 616.0L693.3 618.9L692.2 618.1L691.1 614.8L690.1 622.3L689.0 617.9L687.9 615.6L686.9 627.3L685.8 614.5L684.7 622.6L683.6 624.5L682.6 613.2L681.5 620.5L680.4 615.8L679.4 618.5L678.3 614.3L677.2 612.6L676.1 618.8L675.1 617.4L674.0 612.8L672.9 621.0L671.8 616.3L670.8 612.7L669.7 613.8L668.6 634.6L667.6 611.7L666.5 616.0L665.4 616.1L664.3 614.0L663.3 619.8L662.2 610.8L661.1 618.2L660.1 610.8L659.0 611.1L657.9 612.6L656.8 611.4L655.8 613.8L654.7 613.3L653.6 610.0L652.5 614.8L651.5 619.9L650.4 621.6L649.3 614.4L648.3 616.5L647.2 618.2L646.1 621.2L645.0 608.6L644.0 612.4L642.9 613.1L641.8 611.2L640.8 616.0L639.7 614.2L638.6 608.4L637.5 613.9L636.5 609.9L635.4 609.5L634.3 621.6L633.2 618.2L632.2 612.4L631.1 622.4L630.0 638.6L629.0 610.5L627.9 612.1L626.8 611.6L625.7 626.9L624.7 618.1L623.6 608.8L622.5 611.2L621.5 605.2L620.4 612.4L619.3 607.5L618.2 609.5L617.2 616.7L616.1 611.9L615.0 608.9L613.9 613.2L612.9 616.4L611.8 621.1L610.7 611.4L609.7 625.6L608.6 610.4L607.5 605.2L606.4 610.2L605.4 612.6L604.3 602.8L603.2 602.7L602.2 603.5L601.1 602.6L600.0 604.9L598.9 605.9L597.9 607.8L596.8 611.6L595.7 606.7L594.6 613.2L593.6 607.7L592.5 603.8L591.4 605.9L590.4 605.3L589.3 611.5L588.2 603.4L587.1 621.0L586.1 606.9L585.0 601.1L583.9 637.9L582.9 603.4L581.8 608.3L580.7 606.1L579.6 601.6L578.6 602.2L577.5 603.0L576.4 608.3L575.3 599.0L574.3 605.9L573.2 601.1L572.1 609.4L571.1 601.4L570.0 606.1L568.9 597.4L567.8 596.0L566.8 609.5L565.7 599.3L564.6 595.0L563.6 600.1L562.5 606.7L561.4 596.0L560.3 593.9L559.3 596.1L558.2 610.7L557.1 597.0L556.0 605.1L555.0 591.5L553.9 591.4L552.8 594.1L551.8 592.2L550.7 601.4L549.6 600.7L548.5 595.6L547.5 590.3L546.4 598.0L545.3 603.2L544.3 589.8L543.2 597.1L542.1 596.2L541.0 587.7L540.0 587.3L538.9 589.8L537.8 586.4L536.7 598.5L535.7 592.0L534.6 606.6L533.5 599.3L532.5 592.3L531.4 590.6L530.3 593.2L529.2 588.8L528.2 590.5L527.1 585.8L526.0 586.2L525.0 592.7L523.9 586.0L522.8 590.8L521.7 603.2L520.7 601.0L519.6 588.9L518.5 628.3L517.4 590.0L516.4 583.9L515.3 583.5L514.2 598.7L513.2 587.6L512.1 584.3L511.0 585.4L509.9 593.1L508.9 597.8L507.8 584.0L506.7 584.1L505.7 585.8L504.6 585.0L503.5 613.9L502.4 592.1L501.4 585.4L500.3 595.5L499.2 582.0L498.1 593.1L497.1 599.7L496.0 583.9L494.9 581.1L493.9 587.1L492.8 590.9L491.7 592.7L490.6 583.3L489.6 592.7L488.5 582.6L487.4 592.6L486.4 604.2L485.3 583.2L484.2 587.1L483.1 584.3L482.1 580.0L481.0 586.3L479.9 586.2L478.9 587.8L477.8 580.3L476.7 580.2L475.6 580.7L474.6 578.7L473.5 588.1L472.4 585.2L471.3 585.5L470.3 578.6L469.2 585.1L468.1 588.3L467.1 585.8L466.0 577.8L464.9 601.3L463.8 592.1L462.8 578.0L461.7 576.7L460.6 575.4L459.6 576.2L458.5 580.8L457.4 584.8L456.3 581.1L455.3 576.0L454.2 574.4L453.1 586.2L452.0 579.9L451.0 580.1L449.9 572.1L448.8 574.1L447.8 573.0L446.7 586.6L445.6 581.2L444.5 575.6L443.5 578.8L442.4 574.1L441.3 577.1L440.3 569.8L439.2 572.2L438.1 571.9L437.0 583.3L436.0 568.4L434.9 568.7L433.8 579.1L432.7 579.8L431.7 572.0L430.6 568.3L429.5 570.3L428.5 570.1L427.4 577.0L426.3 567.4L425.2 570.1L424.2 563.8L423.1 573.9L422.0 563.8L421.0 584.1L419.9 562.0L418.8 564.1L417.7 564.2L416.7 566.1L415.6 559.3L414.5 561.3L413.4 565.9L412.4 565.8L411.3 565.6L410.2 561.7L409.2 559.7L408.1 557.0L407.0 560.3L405.9 564.1L404.9 556.0L403.8 559.6L402.7 563.4L401.7 566.1L400.6 551.4L399.5 559.0L398.4 573.0L397.4 552.9L396.3 554.0L395.2 561.2L394.1 545.8L393.1 550.5L392.0 548.1L390.9 551.5L389.9 554.0L388.8 543.1L387.7 547.7L386.6 550.9L385.6 548.8L384.5 545.1L383.4 539.4L382.4 547.1L381.3 542.3L380.2 551.4L379.1 537.2L378.1 548.8L377.0 546.5L375.9 545.3L374.8 537.1L373.8 541.9L372.7 542.4L371.6 538.4L370.6 542.5L369.5 540.9L368.4 545.5L367.3 536.6L366.3 542.6L365.2 535.6L364.1 540.5L363.1 537.2L362.0 547.6L360.9 533.9L359.8 531.3L358.8 533.6L357.7 535.8L356.6 531.1L355.5 542.3L354.5 530.5L353.4 538.9L352.3 561.2L351.3 541.7L350.2 534.9L349.1 535.5L348.0 536.8L347.0 530.4L345.9 531.9L344.8 527.6L343.8 527.8L342.7 536.6L341.6 523.3L340.5 522.5L339.5 521.4L338.4 522.5L337.3 532.4L336.2 528.3L335.2 521.7L334.1 526.7L333.0 518.8L332.0 523.1L330.9 526.8L329.8 520.3L328.7 515.1L327.7 518.9L326.6 513.1L325.5 513.4L324.5 515.2L323.4 512.5L322.3 514.1L321.2 517.0L320.2 508.9L319.1 513.0L318.0 537.6L316.9 509.3L315.9 514.6L314.8 524.8L313.7 506.4L312.7 514.4L311.6 512.5L310.5 511.1L309.4 504.7L308.4 510.0L307.3 507.5L306.2 518.2L305.2 514.0L304.1 512.9L303.0 520.8L301.9 500.3L300.9 511.5L299.8 506.4L298.7 512.2L297.6 499.8L296.6 499.0L295.5 506.1L294.4 498.1L293.4 500.0L292.3 493.1L291.2 497.1L290.1 491.1L289.1 500.9L288.0 491.0L286.9 492.1L285.9 501.2L284.8 492.0L283.7 489.5L282.6 495.3L281.6 491.0L280.5 487.9L279.4 487.5L278.3 496.3L277.3 495.8L276.2 497.7L275.1 494.7L274.1 480.6L273.0 485.6L271.9 480.5L270.8 488.1L269.8 502.2L268.7 491.3L267.6 478.5L266.6 490.8L265.5 494.7L264.4 475.7L263.3 483.5L262.3 471.9L261.2 476.1L260.1 473.2L259.0 475.2L258.0 479.2L256.9 484.3L255.8 473.0L254.8 474.4L253.7 472.3L252.6 469.7L251.5 465.6L250.5 460.3L249.4 454.2L248.3 447.7L247.3 440.7L246.2 433.5L245.1 426.1L244.0 418.7L243.0 411.4L241.9 404.3L240.8 397.3L239.7 390.0L238.7 382.2L237.6 373.9L236.5 364.8L235.5 355.4L234.4 347.1L233.3 337.8L232.2 324.5L231.2 304.1L230.1 224.8Z" clip-path="url(#cl)"/></clipPath>
<g fill="#ff7f0e" fill-opacity="0.1" clip-path="url(#b_cl_orange)"><rect x="262.2" y="0" width="5" height="733"/><rect x="300.8" y="0" width="5" height="733"/><rect x="339.4" y="0" width="5" height="733"/><rect x="378.0" y="0" width="5" height="733"/><rect x="416.6" y="0" width="5" height="733"/><rect x="455.2" y="0" width="5" height="733"/><rect x="493.8" y="0" width="5" height="733"/><rect x="532.4" y="0" width="5" height="733"/><rect x="571.0" y="0" width="5" height="733"/><rect x="609.6" y="0" width="5" height="733"/><rect x="648.2" y="0" width="5" height="733"/><rect x="686.8" y="0" width="5" height="733"/><rect x="725.4" y="0" width="5" height="733"/><rect x="764.0" y="0" width="5" height="733"/><rect x="802.6" y="0" width="5" height="733"/><rect x="841.2" y="0" width="5" height="733"/></g>
<path d="M230.1 21.6L231.2 113.4L232.2 126.6L233.3 135.0L234.4 140.3L235.5 144.1L236.5 147.9L237.6 152.8L238.7 157.1L239.7 160.8L240.8 164.2L241.9 167.4L243.0 170.7L244.0 174.3L245.1 178.4L246.2 183.3L247.3 189.2L248.3 195.7L249.4 202.1L250.5 207.6L251.5 211.5L252.6 216.1L253.7 219.8L254.8 223.5L255.8 226.8L256.9 228.7L258.0 230.5L259.0 232.1L260.1 232.4L261.2 236.4L262.3 240.6L263.3 241.7L264.4 245.5L265.5 243.0L266.6 241.4L267.6 247.0L268.7 248.4L269.8 245.6L270.8 245.8L271.9 249.7L273.0 251.5L274.1 249.2L275.1 251.3L276.2 251.3L277.3 251.4L278.3 252.0L279.4 255.3L280.5 255.2L281.6 255.5L282.6 253.0L283.7 261.3L284.8 257.5L285.9 259.7L286.9 258.7L288.0 262.1L289.1 259.7L290.1 263.2L291.2 263.5L292.3 266.1L293.4 263.4L294.4 264.9L295.5 266.3L296.6 271.1L297.6 265.6L298.7 269.3L299.8 268.4L300.9 270.7L301.9 271.9L303.0 271.7L304.1 272.5L305.2 273.1L306.2 272.2L307.3 273.5L308.4 271.6L309.4 274.4L310.5 274.2L311.6 275.6L312.7 277.9L313.7 277.8L314.8 278.5L315.9 280.1L316.9 274.6L318.0 279.9L319.1 279.7L320.2 280.1L321.2 278.5L322.3 282.2L323.4 283.7L324.5 284.0L325.5 282.6L326.6 284.3L327.7 285.3L328.7 287.3L329.8 286.8L330.9 285.4L332.0 285.8L333.0 286.4L334.1 287.0L335.2 286.2L336.2 288.8L337.3 286.8L338.4 287.0L339.5 289.5L340.5 288.3L341.6 289.3L342.7 286.6L343.8 292.0L344.8 291.0L345.9 291.2L347.0 292.7L348.0 292.7L349.1 291.5L350.2 296.6L351.3 292.8L352.3 295.6L353.4 297.5L354.5 293.7L355.5 295.3L356.6 294.2L357.7 297.8L358.8 295.8L359.8 294.9L360.9 299.4L362.0 299.1L363.1 296.4L364.1 300.3L365.2 299.0L366.3 303.7L367.3 302.3L368.4 298.8L369.5 299.6L370.6 298.9L371.6 301.0L372.7 301.2L373.8 302.7L374.8 302.0L375.9 299.6L377.0 301.1L378.1 305.3L379.1 305.2L380.2 303.3L381.3 303.6L382.4 303.9L383.4 304.6L384.5 302.0L385.6 306.7L386.6 304.4L387.7 306.1L388.8 301.8L389.9 306.8L390.9 309.0L392.0 303.2L393.1 309.9L394.1 308.4L395.2 306.6L396.3 305.4L397.4 310.4L398.4 309.1L399.5 309.9L400.6 308.7L401.7 308.0L402.7 311.1L403.8 308.2L404.9 311.6L405.9 307.4L407.0 308.9L408.1 308.2L409.2 313.1L410.2 308.1L411.3 309.3L412.4 312.6L413.4 312.1L414.5 315.6L415.6 315.2L416.7 313.3L417.7 313.6L418.8 309.5L419.9 311.3L421.0 312.4L422.0 312.9L423.1 311.0L424.2 311.9L425.2 312.2L426.3 315.7L427.4 314.8L428.5 313.6L429.5 313.9L430.6 315.0L431.7 313.5L432.7 314.4L433.8 312.1L434.9 316.4L436.0 317.0L437.0 316.2L438.1 316.5L439.2 316.5L440.3 319.6L441.3 316.6L442.4 314.1L443.5 314.7L444.5 317.9L445.6 318.7L446.7 318.3L447.8 318.6L448.8 317.7L449.9 314.9L451.0 316.4L452.0 314.7L453.1 317.3L454.2 315.7L455.3 318.4L456.3 318.1L457.4 315.2L458.5 319.9L459.6 320.1L460.6 316.6L461.7 319.4L462.8 320.5L463.8 318.9L464.9 321.0L466.0 320.0L467.1 321.7L468.1 320.3L469.2 319.9L470.3 321.2L471.3 321.8L472.4 321.0L473.5 320.0L474.6 319.5L475.6 320.4L476.7 320.2L477.8 321.7L478.9 321.8L479.9 321.5L481.0 321.8L482.1 322.3L483.1 324.9L484.2 324.4L485.3 321.5L486.4 323.4L487.4 322.3L488.5 322.8L489.6 322.8L490.6 322.3L491.7 321.2L492.8 319.4L493.9 324.2L494.9 326.1L496.0 322.7L497.1 325.3L498.1 323.9L499.2 325.3L500.3 323.6L501.4 324.7L502.4 325.1L503.5 321.4L504.6 326.1L505.7 325.6L506.7 321.7L507.8 327.3L508.9 326.3L509.9 326.9L511.0 327.3L512.1 326.1L513.2 325.2L514.2 326.4L515.3 326.6L516.4 331.3L517.4 330.8L518.5 326.9L519.6 327.2L520.7 328.6L521.7 329.2L522.8 327.1L523.9 326.7L525.0 331.9L526.0 330.5L527.1 326.1L528.2 325.8L529.2 327.6L530.3 329.5L531.4 330.2L532.5 328.8L533.5 326.7L534.6 330.0L535.7 330.8L536.7 329.8L537.8 329.1L538.9 331.0L540.0 330.0L541.0 328.3L542.1 330.5L543.2 328.2L544.3 332.2L545.3 331.5L546.4 329.0L547.5 331.2L548.5 333.1L549.6 327.3L550.7 330.9L551.8 334.1L552.8 328.6L553.9 331.2L555.0 329.1L556.0 331.6L557.1 327.6L558.2 329.0L559.3 331.0L560.3 332.3L561.4 332.9L562.5 333.1L563.6 334.4L564.6 333.8L565.7 334.0L566.8 331.0L567.8 332.6L568.9 338.6L570.0 337.1L571.1 334.7L572.1 334.7L573.2 335.2L574.3 332.9L575.3 337.2L576.4 333.2L577.5 333.8L578.6 337.9L579.6 330.5L580.7 334.9L581.8 331.4L582.9 333.4L583.9 334.5L585.0 334.2L586.1 335.2L587.1 333.7L588.2 335.0L589.3 333.2L590.4 334.7L591.4 333.0L592.5 336.8L593.6 333.4L594.6 337.1L595.7 335.2L596.8 335.6L597.9 338.3L598.9 336.5L600.0 333.1L601.1 337.4L602.2 331.5L603.2 337.3L604.3 336.2L605.4 334.5L606.4 337.3L607.5 336.7L608.6 340.9L609.7 336.7L610.7 341.0L611.8 340.2L612.9 336.7L613.9 336.5L615.0 340.4L616.1 337.9L617.2 338.5L618.2 337.9L619.3 336.3L620.4 337.9L621.5 336.9L622.5 336.0L623.6 338.3L624.7 342.1L625.7 341.9L626.8 339.0L627.9 339.5L629.0 340.3L630.0 341.9L631.1 340.1L632.2 338.8L633.2 339.0L634.3 341.8L635.4 344.6L636.5 338.9L637.5 336.4L638.6 341.6L639.7 340.1L640.8 340.6L641.8 342.7L642.9 340.7L644.0 338.3L645.0 337.2L646.1 340.7L647.2 338.8L648.3 341.5L649.3 338.8L650.4 340.5L651.5 338.6L652.5 340.7L653.6 340.6L654.7 342.6L655.8 344.0L656.8 341.3L657.9 340.2L659.0 345.3L660.1 342.6L661.1 343.1L662.2 343.2L663.3 344.8L664.3 344.1L665.4 343.5L666.5 343.8L667.6 341.0L668.6 341.5L669.7 342.5L670.8 342.9L671.8 342.9L672.9 343.5L674.0 343.0L675.1 342.3L676.1 340.2L677.2 344.7L678.3 344.4L679.4 341.8L680.4 344.4L681.5 344.3L682.6 343.8L683.6 340.4L684.7 341.6L685.8 342.8L686.9 346.9L687.9 342.5L689.0 343.5L690.1 342.2L691.1 343.4L692.2 345.0L693.3 340.7L694.4 339.4L695.4 345.8L696.5 344.7L697.6 343.7L698.7 346.6L699.7 346.7L700.8 341.2L701.9 344.8L702.9 347.2L704.0 344.1L705.1 344.8L706.2 347.1L707.2 345.0L708.3 343.5L709.4 344.5L710.4 343.4L711.5 346.9L712.6 342.8L713.7 347.8L714.7 343.2L715.8 346.3L716.9 343.7L718.0 345.8L719.0 348.3L720.1 348.6L721.2 349.0L722.2 346.6L723.3 347.0L724.4 347.3L725.5 348.1L726.5 346.4L727.6 349.2L728.7 347.8L729.7 349.4L730.8 348.3L731.9 348.7L733.0 346.3L734.0 347.0L735.1 345.5L736.2 347.3L737.3 347.6L738.3 349.6L739.4 345.9L740.5 354.0L741.5 348.1L742.6 350.7L743.7 350.4L744.8 344.0L745.8 348.2L746.9 351.4L748.0 344.5L749.0 350.3L750.1 347.3L751.2 348.2L752.3 349.6L753.3 345.9L754.4 349.7L755.5 348.2L756.6 348.1L757.6 350.8L758.7 356.0L759.8 350.4L760.8 350.8L761.9 349.8L763.0 348.7L764.1 350.5L765.1 352.9L766.2 350.5L767.3 351.9L768.3 349.9L769.4 355.0L770.5 347.5L771.6 351.6L772.6 351.6L773.7 351.2L774.8 348.8L775.8 348.8L776.9 350.5L778.0 351.2L779.1 348.9L780.1 349.2L781.2 352.2L782.3 353.1L783.4 350.3L784.4 350.1L785.5 350.2L786.6 356.0L787.6 352.5L788.7 351.5L789.8 353.5L790.9 355.9L791.9 353.9L793.0 349.3L794.1 351.8L795.1 351.3L796.2 351.4L797.3 349.9L798.4 351.5L799.4 350.3L800.5 352.9L801.6 352.4L802.7 349.8L803.7 349.3L804.8 351.6L805.9 353.7L806.9 353.5L808.0 352.5L809.1 346.7L810.2 351.8L811.2 351.5L812.3 352.2L813.4 350.7L814.4 352.2L815.5 351.8L816.6 357.9L817.7 354.4L818.7 352.8L819.8 353.1L820.9 353.0L822.0 353.6L823.0 352.6L824.1 353.3L825.2 355.3L826.2 355.0L827.3 354.1L828.4 356.0L829.5 354.0L830.5 351.9L831.6 350.5L832.7 352.5L833.7 353.7L834.8 354.5L835.9 355.8L837.0 352.9L838.0 352.5L839.1 355.4L840.2 356.2L841.3 353.2L842.3 354.7L843.4 356.6L844.5 354.8L845.5 354.1L846.6 350.5L847.7 356.7L848.8 355.5L849.8 354.6L850.9 353.6L852.0 352.2L853.0 354.3L854.1 354.3L855.2 356.5L856.3 352.4L857.3 357.2L858.4 354.7L859.5 356.8L860.6 353.0L861.6 355.4L862.7 357.0L863.8 357.0" fill="none" stroke="#2ca02c" stroke-width="8.5" stroke-linejoin="round" stroke-linecap="square" clip-path="url(#cl)"/>
<g opacity="0.1" clip-path="url(#cl)"><path d="M230.1 19.3L231.2 26.4L232.2 33.7L233.3 41.1L234.4 48.6L235.5 56.2L236.5 63.9L237.6 72.1L238.7 80.6L239.7 89.3L240.8 97.8L241.9 105.9L243.0 113.5L244.0 120.2L245.1 126.4L246.2 132.3L247.3 137.9L248.3 143.3L249.4 148.6L250.5 152.6L251.5 158.1L252.6 162.7L253.7 167.3L254.8 171.4L255.8 174.6L256.9 177.1L258.0 179.5L259.0 186.1L260.1 191.4L261.2 192.1L262.3 195.3L263.3 196.2L264.4 198.9L265.5 197.9L266.6 199.1L267.6 195.8L268.7 197.7L269.8 202.2L270.8 208.2L271.9 209.4L273.0 210.6L274.1 199.0L275.1 211.3L276.2 210.6L277.3 209.4L278.3 209.6L279.4 211.0L280.5 213.8L281.6 211.8L282.6 211.3L283.7 217.2L284.8 214.3L285.9 216.6L286.9 221.1L288.0 220.7L289.1 215.1L290.1 221.3L291.2 222.3L292.3 219.4L293.4 220.7L294.4 223.7L295.5 221.7L296.6 219.8L297.6 221.0L298.7 221.7L299.8 225.6L300.9 220.5L301.9 226.3L303.0 227.1L304.1 228.2L305.2 221.3L306.2 223.0L307.3 225.4L308.4 227.2L309.4 230.3L310.5 227.7L311.6 227.9L312.7 223.5L313.7 223.1L314.8 228.0L315.9 224.3L316.9 228.8L318.0 229.7L319.1 215.2L320.2 222.3L321.2 233.3L322.3 232.6L323.4 233.2L324.5 231.9L325.5 230.3L326.6 229.0L327.7 226.5L328.7 234.1L329.8 234.6L330.9 230.3L332.0 234.9L333.0 234.1L334.1 232.0L335.2 227.3L336.2 237.6L337.3 235.5L338.4 240.3L339.5 242.7L340.5 241.4L341.6 237.4L342.7 241.1L343.8 233.7L344.8 241.6L345.9 243.8L347.0 244.1L348.0 240.6L349.1 245.6L350.2 239.1L351.3 240.0L352.3 239.1L353.4 243.1L354.5 241.4L355.5 249.7L356.6 249.0L357.7 243.5L358.8 250.4L359.8 244.5L360.9 249.1L362.0 251.0L363.1 251.6L364.1 252.1L365.2 250.2L366.3 249.3L367.3 251.6L368.4 250.7L369.5 253.4L370.6 254.2L371.6 253.2L372.7 253.4L373.8 255.1L374.8 247.3L375.9 254.9L377.0 252.6L378.1 254.6L379.1 253.8L380.2 256.0L381.3 255.5L382.4 255.7L383.4 256.5L384.5 255.2L385.6 256.9L386.6 249.1L387.7 248.7L388.8 245.0L389.9 256.3L390.9 251.6L392.0 251.7L393.1 256.5L394.1 254.0L395.2 259.3L396.3 257.9L397.4 251.8L398.4 254.7L399.5 258.1L400.6 256.0L401.7 253.2L402.7 261.4L403.8 260.8L404.9 261.8L405.9 257.6L407.0 253.2L408.1 256.7L409.2 255.6L410.2 261.0L411.3 263.1L412.4 263.4L413.4 264.3L414.5 264.1L415.6 262.1L416.7 264.0L417.7 258.5L418.8 265.1L419.9 265.3L421.0 261.3L422.0 258.4L423.1 265.9L424.2 264.7L425.2 263.3L426.3 262.8L427.4 266.8L428.5 266.7L429.5 262.5L430.6 256.9L431.7 263.5L432.7 267.6L433.8 265.1L434.9 266.5L436.0 267.3L437.0 267.4L438.1 266.5L439.2 262.2L440.3 261.5L441.3 265.2L442.4 266.6L443.5 267.7L444.5 261.7L445.6 267.4L446.7 267.7L447.8 256.5L448.8 261.9L449.9 264.3L451.0 264.8L452.0 265.1L453.1 260.3L454.2 269.5L455.3 266.4L456.3 265.0L457.4 268.2L458.5 266.7L459.6 264.0L460.6 266.7L461.7 265.9L462.8 264.7L463.8 261.1L464.9 269.2L466.0 266.8L467.1 267.1L468.1 268.9L469.2 264.4L470.3 270.4L471.3 269.2L472.4 269.9L473.5 270.2L474.6 269.6L475.6 270.1L476.7 263.6L477.8 268.4L478.9 267.1L479.9 269.1L481.0 268.4L482.1 267.9L483.1 267.6L484.2 265.5L485.3 270.9L486.4 270.2L487.4 269.7L488.5 269.9L489.6 262.0L490.6 270.9L491.7 270.9L492.8 264.4L493.9 271.0L494.9 264.7L496.0 271.6L497.1 244.3L498.1 270.2L499.2 266.5L500.3 266.0L501.4 270.1L502.4 265.4L503.5 267.6L504.6 270.1L505.7 268.1L506.7 271.6L507.8 268.9L508.9 271.8L509.9 266.5L511.0 264.8L512.1 269.4L513.2 265.0L514.2 271.8L515.3 265.3L516.4 270.6L517.4 271.0L518.5 268.1L519.6 261.4L520.7 270.0L521.7 271.6L522.8 268.3L523.9 272.6L525.0 263.9L526.0 270.6L527.1 272.5L528.2 268.1L529.2 272.1L530.3 267.8L531.4 260.1L532.5 266.6L533.5 269.5L534.6 267.5L535.7 271.1L536.7 270.2L537.8 271.5L538.9 271.3L540.0 269.3L541.0 270.9L542.1 269.1L543.2 268.6L544.3 273.7L545.3 271.7L546.4 270.8L547.5 265.8L548.5 271.9L549.6 274.0L550.7 268.8L551.8 266.5L552.8 270.7L553.9 269.3L555.0 274.8L556.0 273.8L557.1 273.3L558.2 274.8L559.3 273.7L560.3 271.5L561.4 272.6L562.5 272.3L563.6 270.7L564.6 274.6L565.7 274.2L566.8 275.9L567.8 275.3L568.9 272.6L570.0 274.7L571.1 272.6L572.1 273.3L573.2 270.4L574.3 274.0L575.3 271.7L576.4 276.3L577.5 276.3L578.6 272.6L579.6 276.1L580.7 271.1L581.8 272.1L582.9 276.0L583.9 274.5L585.0 269.4L586.1 277.0L587.1 274.0L588.2 263.4L589.3 266.6L590.4 273.1L591.4 273.8L592.5 274.4L593.6 272.3L594.6 271.5L595.7 270.1L596.8 273.2L597.9 274.1L598.9 271.4L600.0 277.2L601.1 275.0L602.2 273.5L603.2 274.8L604.3 272.9L605.4 277.7L606.4 277.3L607.5 275.3L608.6 276.1L609.7 276.4L610.7 277.2L611.8 273.8L612.9 278.5L613.9 276.8L615.0 274.7L616.1 274.9L617.2 270.8L618.2 275.8L619.3 276.6L620.4 275.4L621.5 277.9L622.5 276.9L623.6 274.2L624.7 275.8L625.7 279.6L626.8 277.0L627.9 278.5L629.0 276.1L630.0 279.9L631.1 276.8L632.2 273.8L633.2 274.5L634.3 280.5L635.4 272.7L636.5 277.1L637.5 278.4L638.6 274.2L639.7 269.9L640.8 272.3L641.8 279.8L642.9 280.5L644.0 278.6L645.0 274.9L646.1 279.3L647.2 275.9L648.3 278.8L649.3 277.0L650.4 274.7L651.5 274.8L652.5 281.7L653.6 279.6L654.7 274.0L655.8 279.1L656.8 274.7L657.9 280.6L659.0 275.1L660.1 262.8L661.1 278.3L662.2 279.2L663.3 280.1L664.3 279.4L665.4 278.8L666.5 281.9L667.6 280.5L668.6 281.0L669.7 282.6L670.8 277.0L671.8 276.0L672.9 282.3L674.0 280.7L675.1 281.9L676.1 283.1L677.2 282.4L678.3 281.7L679.4 281.3L680.4 281.0L681.5 269.3L682.6 274.8L683.6 278.8L684.7 276.6L685.8 268.9L686.9 277.8L687.9 283.7L689.0 284.4L690.1 285.4L691.1 283.7L692.2 284.7L693.3 284.4L694.4 285.9L695.4 276.1L696.5 283.9L697.6 280.5L698.7 283.7L699.7 285.3L700.8 286.1L701.9 277.4L702.9 282.3L704.0 279.6L705.1 282.1L706.2 285.1L707.2 284.8L708.3 283.0L709.4 276.1L710.4 283.8L711.5 286.0L712.6 284.1L713.7 287.5L714.7 286.3L715.8 285.9L716.9 284.7L718.0 285.9L719.0 268.7L720.1 287.3L721.2 282.7L722.2 285.2L723.3 281.5L724.4 287.6L725.5 286.1L726.5 286.5L727.6 288.6L728.7 288.0L729.7 270.5L730.8 287.8L731.9 288.1L733.0 285.6L734.0 288.5L735.1 282.5L736.2 286.5L737.3 288.1L738.3 286.6L739.4 283.3L740.5 285.4L741.5 285.7L742.6 286.9L743.7 288.5L744.8 286.5L745.8 284.7L746.9 289.3L748.0 289.6L749.0 288.4L750.1 289.7L751.2 285.8L752.3 289.8L753.3 284.0L754.4 285.0L755.5 285.5L756.6 287.1L757.6 281.2L758.7 288.6L759.8 285.2L760.8 273.6L761.9 288.8L763.0 286.2L764.1 286.9L765.1 282.5L766.2 280.5L767.3 289.4L768.3 287.8L769.4 290.1L770.5 283.4L771.6 287.5L772.6 291.6L773.7 282.5L774.8 287.5L775.8 286.5L776.9 290.0L778.0 290.0L779.1 291.8L780.1 289.9L781.2 285.0L782.3 289.0L783.4 290.2L784.4 279.2L785.5 289.7L786.6 289.6L787.6 289.4L788.7 286.4L789.8 289.3L790.9 284.8L791.9 290.6L793.0 285.1L794.1 285.5L795.1 291.2L796.2 292.1L797.3 289.7L798.4 291.2L799.4 290.0L800.5 286.6L801.6 292.6L802.7 286.5L803.7 286.8L804.8 283.5L805.9 285.4L806.9 290.5L808.0 291.3L809.1 288.2L810.2 283.0L811.2 286.5L812.3 285.9L813.4 293.2L814.4 288.8L815.5 289.8L816.6 286.8L817.7 284.7L818.7 289.8L819.8 294.0L820.9 292.1L822.0 294.2L823.0 294.4L824.1 294.5L825.2 289.2L826.2 291.1L827.3 291.6L828.4 294.1L829.5 293.8L830.5 294.1L831.6 291.7L832.7 294.9L833.7 287.2L834.8 293.2L835.9 294.3L837.0 291.9L838.0 293.5L839.1 294.5L840.2 295.4L841.3 291.7L842.3 289.7L843.4 295.2L844.5 293.9L845.5 291.3L846.6 289.0L847.7 293.9L848.8 277.8L849.8 291.9L850.9 285.8L852.0 289.2L853.0 291.2L854.1 292.5L855.2 293.2L856.3 292.6L857.3 293.8L858.4 288.3L859.5 295.4L860.6 295.4L861.6 288.2L862.7 294.2L863.8 292.7L863.8 514.6L862.7 523.0L861.6 518.5L860.6 527.4L859.5 523.8L858.4 515.1L857.3 525.3L856.3 519.3L855.2 516.7L854.1 512.3L853.0 520.4L852.0 521.6L850.9 521.4L849.8 512.2L848.8 516.8L847.7 514.2L846.6 528.3L845.5 515.4L844.5 518.2L843.4 516.9L842.3 517.1L841.3 518.5L840.2 526.2L839.1 514.5L838.0 522.9L837.0 519.3L835.9 516.1L834.8 523.9L833.7 514.1L832.7 513.1L831.6 516.3L830.5 517.1L829.5 514.4L828.4 537.6L827.3 511.0L826.2 517.6L825.2 521.6L824.1 512.2L823.0 520.1L822.0 510.7L820.9 511.2L819.8 512.0L818.7 522.4L817.7 515.1L816.6 517.3L815.5 512.2L814.4 512.5L813.4 522.3L812.3 510.2L811.2 519.9L810.2 513.3L809.1 519.1L808.0 516.7L806.9 518.6L805.9 512.4L804.8 514.6L803.7 518.3L802.7 518.1L801.6 509.4L800.5 509.5L799.4 510.0L798.4 511.6L797.3 513.9L796.2 511.3L795.1 516.4L794.1 509.1L793.0 518.8L791.9 513.3L790.9 515.7L789.8 509.6L788.7 513.1L787.6 517.2L786.6 510.8L785.5 509.2L784.4 510.6L783.4 515.2L782.3 510.7L781.2 509.3L780.1 511.2L779.1 511.8L778.0 510.7L776.9 519.0L775.8 510.2L774.8 511.1L773.7 515.2L772.6 508.0L771.6 520.5L770.5 511.5L769.4 508.3L768.3 508.5L767.3 516.7L766.2 517.1L765.1 517.2L764.1 517.1L763.0 510.4L761.9 515.0L760.8 520.6L759.8 518.1L758.7 510.9L757.6 510.7L756.6 511.8L755.5 516.8L754.4 512.0L753.3 515.0L752.3 512.1L751.2 511.2L750.1 527.4L749.0 526.0L748.0 520.4L746.9 507.7L745.8 514.4L744.8 512.4L743.7 510.0L742.6 505.4L741.5 504.8L740.5 506.5L739.4 505.0L738.3 510.6L737.3 505.1L736.2 511.1L735.1 506.2L734.0 511.1L733.0 504.3L731.9 515.7L730.8 515.9L729.7 505.4L728.7 509.4L727.6 507.0L726.5 509.3L725.5 506.7L724.4 510.6L723.3 510.2L722.2 516.8L721.2 521.6L720.1 504.8L719.0 504.7L718.0 528.2L716.9 516.2L715.8 510.4L714.7 508.0L713.7 502.5L712.6 504.9L711.5 508.0L710.4 509.7L709.4 509.5L708.3 503.1L707.2 503.0L706.2 502.9L705.1 504.2L704.0 503.8L702.9 510.3L701.9 503.1L700.8 502.3L699.7 504.5L698.7 500.8L697.6 501.9L696.5 506.0L695.4 508.4L694.4 514.2L693.3 512.0L692.2 516.6L691.1 500.1L690.1 499.9L689.0 500.9L687.9 503.9L686.9 502.7L685.8 508.0L684.7 505.7L683.6 500.7L682.6 499.9L681.5 506.9L680.4 499.7L679.4 502.1L678.3 501.6L677.2 501.2L676.1 506.5L675.1 511.6L674.0 506.8L672.9 508.6L671.8 522.3L670.8 497.1L669.7 497.7L668.6 503.8L667.6 504.9L666.5 500.6L665.4 498.8L664.3 496.8L663.3 496.9L662.2 502.4L661.1 507.4L660.1 501.8L659.0 498.1L657.9 495.8L656.8 504.9L655.8 498.9L654.7 501.3L653.6 511.6L652.5 505.9L651.5 495.0L650.4 496.0L649.3 504.3L648.3 499.9L647.2 501.7L646.1 498.4L645.0 505.1L644.0 493.5L642.9 500.3L641.8 492.9L640.8 495.4L639.7 494.4L638.6 494.6L637.5 500.1L636.5 494.4L635.4 491.9L634.3 492.0L633.2 498.1L632.2 496.1L631.1 496.2L630.0 498.3L629.0 495.4L627.9 498.1L626.8 493.8L625.7 493.7L624.7 492.3L623.6 499.2L622.5 493.2L621.5 492.6L620.4 489.7L619.3 488.9L618.2 496.2L617.2 490.9L616.1 492.1L615.0 489.1L613.9 490.1L612.9 498.1L611.8 490.8L610.7 496.5L609.7 487.3L608.6 497.4L607.5 493.7L606.4 489.1L605.4 501.6L604.3 493.6L603.2 486.1L602.2 488.9L601.1 499.5L600.0 496.6L598.9 491.2L597.9 488.0L596.8 517.4L595.7 507.4L594.6 485.9L593.6 496.5L592.5 490.4L591.4 492.6L590.4 488.1L589.3 487.0L588.2 489.3L587.1 493.9L586.1 486.0L585.0 484.2L583.9 484.0L582.9 495.9L581.8 488.3L580.7 484.5L579.6 492.7L578.6 495.2L577.5 485.8L576.4 483.6L575.3 491.8L574.3 485.3L573.2 489.4L572.1 483.6L571.1 480.0L570.0 481.6L568.9 481.2L567.8 489.2L566.8 495.2L565.7 481.2L564.6 479.2L563.6 478.8L562.5 490.9L561.4 483.5L560.3 485.8L559.3 488.4L558.2 483.4L557.1 476.9L556.0 484.3L555.0 491.0L553.9 477.6L552.8 487.2L551.8 485.0L550.7 479.7L549.6 475.8L548.5 483.2L547.5 479.6L546.4 476.8L545.3 482.1L544.3 476.6L543.2 493.1L542.1 481.7L541.0 472.8L540.0 483.1L538.9 488.1L537.8 471.9L536.7 480.2L535.7 488.1L534.6 481.2L533.5 475.3L532.5 482.5L531.4 485.0L530.3 476.5L529.2 470.1L528.2 472.0L527.1 470.2L526.0 475.0L525.0 476.4L523.9 472.2L522.8 488.8L521.7 468.1L520.7 473.5L519.6 467.3L518.5 469.0L517.4 477.1L516.4 473.3L515.3 470.8L514.2 468.3L513.2 469.3L512.1 473.2L511.0 471.3L509.9 473.2L508.9 474.1L507.8 467.8L506.7 464.4L505.7 467.0L504.6 469.3L503.5 463.6L502.4 463.1L501.4 462.7L500.3 463.9L499.2 463.9L498.1 473.4L497.1 466.9L496.0 462.6L494.9 463.7L493.9 462.6L492.8 464.8L491.7 463.1L490.6 466.3L489.6 464.1L488.5 458.9L487.4 457.8L486.4 457.6L485.3 461.6L484.2 456.9L483.1 457.9L482.1 466.0L481.0 458.9L479.9 455.2L478.9 460.2L477.8 456.7L476.7 454.8L475.6 457.0L474.6 454.0L473.5 453.4L472.4 456.0L471.3 456.0L470.3 455.6L469.2 460.5L468.1 454.1L467.1 459.4L466.0 451.4L464.9 454.1L463.8 452.1L462.8 454.3L461.7 458.1L460.6 451.7L459.6 453.9L458.5 451.5L457.4 457.6L456.3 451.6L455.3 450.8L454.2 455.3L453.1 449.1L452.0 450.8L451.0 448.1L449.9 446.0L448.8 455.4L447.8 444.8L446.7 457.2L445.6 482.6L444.5 447.8L443.5 443.6L442.4 454.6L441.3 443.4L440.3 442.3L439.2 443.0L438.1 451.8L437.0 442.6L436.0 441.9L434.9 449.5L433.8 440.3L432.7 447.5L431.7 440.2L430.6 450.0L429.5 446.1L428.5 445.2L427.4 447.1L426.3 440.0L425.2 441.5L424.2 459.7L423.1 439.2L422.0 436.8L421.0 441.4L419.9 438.8L418.8 440.8L417.7 441.6L416.7 434.4L415.6 436.9L414.5 434.6L413.4 446.8L412.4 436.9L411.3 434.5L410.2 433.9L409.2 431.5L408.1 436.0L407.0 433.1L405.9 462.8L404.9 430.9L403.8 430.3L402.7 431.0L401.7 429.5L400.6 435.2L399.5 430.2L398.4 427.7L397.4 437.7L396.3 430.1L395.2 436.0L394.1 430.3L393.1 427.3L392.0 429.1L390.9 439.7L389.9 437.5L388.8 426.9L387.7 430.5L386.6 423.6L385.6 426.2L384.5 427.5L383.4 426.7L382.4 420.7L381.3 427.0L380.2 422.4L379.1 419.2L378.1 418.9L377.0 426.5L375.9 422.5L374.8 419.2L373.8 432.0L372.7 431.5L371.6 417.6L370.6 421.0L369.5 420.8L368.4 423.4L367.3 416.2L366.3 419.4L365.2 414.4L364.1 417.5L363.1 421.1L362.0 442.6L360.9 418.8L359.8 414.3L358.8 417.6L357.7 418.2L356.6 414.2L355.5 415.8L354.5 412.6L353.4 408.2L352.3 405.2L351.3 405.3L350.2 407.1L349.1 408.5L348.0 409.5L347.0 404.2L345.9 403.3L344.8 406.4L343.8 404.2L342.7 415.1L341.6 404.5L340.5 399.2L339.5 405.3L338.4 401.9L337.3 400.6L336.2 409.0L335.2 403.7L334.1 400.0L333.0 393.3L332.0 400.4L330.9 394.7L329.8 396.4L328.7 391.4L327.7 392.5L326.6 390.5L325.5 387.4L324.5 387.3L323.4 388.7L322.3 384.6L321.2 388.0L320.2 382.8L319.1 386.4L318.0 384.2L316.9 382.5L315.9 391.3L314.8 390.9L313.7 391.2L312.7 388.5L311.6 402.4L310.5 382.4L309.4 376.4L308.4 378.2L307.3 373.9L306.2 378.1L305.2 374.4L304.1 370.4L303.0 379.7L301.9 378.0L300.9 367.0L299.8 388.6L298.7 365.8L297.6 372.7L296.6 360.8L295.5 372.4L294.4 364.6L293.4 360.9L292.3 356.7L291.2 356.2L290.1 357.2L289.1 350.6L288.0 349.3L286.9 352.9L285.9 353.6L284.8 343.9L283.7 342.0L282.6 345.3L281.6 356.1L280.5 338.6L279.4 341.1L278.3 334.5L277.3 339.5L276.2 332.9L275.1 332.5L274.1 331.4L273.0 331.6L271.9 322.6L270.8 320.2L269.8 328.6L268.7 320.8L267.6 315.0L266.6 315.8L265.5 313.8L264.4 310.7L263.3 304.8L262.3 308.2L261.2 299.4L260.1 304.3L259.0 299.4L258.0 295.6L256.9 295.0L255.8 289.7L254.8 291.1L253.7 286.1L252.6 281.9L251.5 281.3L250.5 276.8L249.4 273.4L248.3 270.2L247.3 265.7L246.2 260.8L245.1 255.6L244.0 250.2L243.0 244.8L241.9 239.6L240.8 234.2L239.7 228.4L238.7 221.8L237.6 214.1L236.5 205.1L235.5 193.9L234.4 177.7L233.3 156.8L232.2 131.8L231.2 103.7L230.1 73.1Z" fill="#2ca02c" stroke="#2ca02c" stroke-width="8.3" stroke-linejoin="round"/></g>
<path d="M230.1 -721.5L231.2 -562.6L232.2 -421.1L233.3 -299.6L234.4 -200.7L235.5 -126.8L236.5 -78.0L237.6 -39.9L238.7 -10.1L239.7 11.0L240.8 24.3L241.9 34.0L243.0 41.6L244.0 48.5L245.1 56.0L246.2 65.3L247.3 75.6L248.3 86.0L249.4 95.5L250.5 103.8L251.5 109.5L252.6 114.4L253.7 119.3L254.8 121.5L255.8 124.9L256.9 127.3L258.0 130.8L259.0 134.6L260.1 138.2L261.2 143.4L262.3 143.9L263.3 146.4L264.4 148.1L265.5 149.3L266.6 150.7L267.6 154.8L268.7 153.6L269.8 158.6L270.8 159.4L271.9 159.6L273.0 160.0L274.1 162.7L275.1 164.1L276.2 166.6L277.3 165.9L278.3 167.5L279.4 169.1L280.5 170.1L281.6 170.9L282.6 170.9L283.7 172.1L284.8 174.3L285.9 175.9L286.9 178.4L288.0 180.9L289.1 181.4L290.1 181.0L291.2 183.7L292.3 182.5L293.4 183.1L294.4 187.2L295.5 184.4L296.6 186.1L297.6 187.2L298.7 189.9L299.8 188.6L300.9 190.9L301.9 190.5L303.0 190.4L304.1 192.8L305.2 193.6L306.2 192.9L307.3 194.0L308.4 194.9L309.4 197.6L310.5 197.8L311.6 198.3L312.7 199.3L313.7 199.0L314.8 200.8L315.9 200.4L316.9 200.3L318.0 201.7L319.1 203.5L320.2 204.1L321.2 205.9L322.3 203.6L323.4 205.9L324.5 207.2L325.5 206.4L326.6 208.3L327.7 208.2L328.7 208.0L329.8 211.0L330.9 208.8L332.0 212.0L333.0 210.9L334.1 210.8L335.2 211.3L336.2 212.0L337.3 212.3L338.4 214.0L339.5 212.0L340.5 215.9L341.6 215.8L342.7 216.9L343.8 214.7L344.8 213.6L345.9 215.9L347.0 216.8L348.0 217.7L349.1 217.2L350.2 218.1L351.3 218.7L352.3 217.3L353.4 221.4L354.5 218.6L355.5 220.5L356.6 221.8L357.7 220.2L358.8 221.5L359.8 223.7L360.9 222.1L362.0 224.0L363.1 223.6L364.1 223.9L365.2 224.9L366.3 224.3L367.3 224.7L368.4 226.4L369.5 226.1L370.6 226.8L371.6 225.3L372.7 227.1L373.8 228.8L374.8 228.9L375.9 228.7L377.0 228.2L378.1 228.5L379.1 230.1L380.2 231.5L381.3 230.4L382.4 232.2L383.4 230.8L384.5 232.9L385.6 230.8L386.6 232.5L387.7 231.5L388.8 233.8L389.9 234.1L390.9 232.8L392.0 233.3L393.1 234.0L394.1 233.2L395.2 234.2L396.3 234.6L397.4 236.7L398.4 237.7L399.5 236.0L400.6 236.5L401.7 237.4L402.7 236.9L403.8 237.5L404.9 239.1L405.9 238.7L407.0 238.7L408.1 238.5L409.2 241.1L410.2 239.1L411.3 240.2L412.4 239.3L413.4 240.0L414.5 241.1L415.6 240.9L416.7 242.2L417.7 242.0L418.8 240.7L419.9 239.9L421.0 243.8L422.0 242.4L423.1 244.9L424.2 243.6L425.2 243.0L426.3 244.7L427.4 244.0L428.5 244.6L429.5 243.8L430.6 245.7L431.7 246.4L432.7 244.9L433.8 247.6L434.9 245.3L436.0 246.4L437.0 244.5L438.1 244.4L439.2 249.0L440.3 248.4L441.3 248.3L442.4 245.3L443.5 247.6L444.5 247.9L445.6 247.7L446.7 248.1L447.8 246.9L448.8 247.9L449.9 247.0L451.0 248.0L452.0 248.9L453.1 247.8L454.2 248.4L455.3 248.4L456.3 249.0L457.4 250.1L458.5 249.5L459.6 249.8L460.6 247.9L461.7 249.2L462.8 250.7L463.8 249.0L464.9 249.6L466.0 249.1L467.1 251.8L468.1 249.9L469.2 249.8L470.3 251.4L471.3 252.1L472.4 251.5L473.5 252.2L474.6 251.5L475.6 251.3L476.7 251.1L477.8 251.2L478.9 251.3L479.9 252.6L481.0 252.2L482.1 252.6L483.1 253.4L484.2 252.9L485.3 251.6L486.4 252.5L487.4 252.4L488.5 251.7L489.6 254.2L490.6 253.0L491.7 253.2L492.8 253.7L493.9 256.1L494.9 255.1L496.0 256.8L497.1 255.9L498.1 255.8L499.2 257.2L500.3 257.5L501.4 257.2L502.4 256.2L503.5 257.2L504.6 256.7L505.7 257.9L506.7 258.6L507.8 260.4L508.9 260.6L509.9 260.1L511.0 260.6L512.1 260.1L513.2 263.1L514.2 262.0L515.3 263.5L516.4 261.2L517.4 261.4L518.5 262.4L519.6 261.6L520.7 262.0L521.7 260.7L522.8 263.1L523.9 262.4L525.0 263.3L526.0 262.4L527.1 260.9L528.2 263.6L529.2 264.5L530.3 262.0L531.4 262.5L532.5 263.5L533.5 263.7L534.6 262.3L535.7 266.3L536.7 265.7L537.8 264.1L538.9 262.9L540.0 265.5L541.0 267.5L542.1 266.4L543.2 266.9L544.3 264.8L545.3 266.2L546.4 264.5L547.5 268.5L548.5 267.1L549.6 264.3L550.7 264.8L551.8 267.5L552.8 267.3L553.9 267.0L555.0 268.1L556.0 269.8L557.1 268.2L558.2 265.9L559.3 267.9L560.3 266.8L561.4 267.5L562.5 268.9L563.6 268.5L564.6 267.7L565.7 268.9L566.8 268.2L567.8 269.8L568.9 269.1L570.0 269.9L571.1 269.4L572.1 270.6L573.2 269.8L574.3 270.0L575.3 269.5L576.4 270.4L577.5 268.5L578.6 273.5L579.6 269.9L580.7 270.9L581.8 270.4L582.9 270.5L583.9 271.6L585.0 270.7L586.1 270.9L587.1 270.0L588.2 270.6L589.3 270.4L590.4 273.8L591.4 270.5L592.5 270.9L593.6 272.4L594.6 273.9L595.7 270.6L596.8 270.9L597.9 272.9L598.9 273.2L600.0 271.4L601.1 271.1L602.2 272.2L603.2 274.2L604.3 273.5L605.4 274.5L606.4 273.7L607.5 273.9L608.6 274.7L609.7 274.1L610.7 274.6L611.8 273.5L612.9 274.0L613.9 275.3L615.0 274.6L616.1 274.2L617.2 275.9L618.2 275.9L619.3 275.5L620.4 274.8L621.5 276.8L622.5 278.7L623.6 275.1L624.7 274.5L625.7 275.5L626.8 275.5L627.9 275.2L629.0 275.5L630.0 277.8L631.1 278.0L632.2 278.8L633.2 278.2L634.3 277.0L635.4 278.8L636.5 277.1L637.5 277.5L638.6 276.8L639.7 279.5L640.8 279.5L641.8 278.0L642.9 278.3L644.0 278.8L645.0 279.1L646.1 280.0L647.2 279.3L648.3 279.8L649.3 277.8L650.4 279.3L651.5 277.8L652.5 281.8L653.6 281.6L654.7 281.0L655.8 281.5L656.8 282.7L657.9 281.6L659.0 279.0L660.1 280.7L661.1 278.4L662.2 280.3L663.3 280.0L664.3 281.5L665.4 282.0L666.5 280.7L667.6 281.6L668.6 282.4L669.7 282.0L670.8 282.1L671.8 279.8L672.9 282.1L674.0 283.6L675.1 283.2L676.1 281.4L677.2 282.9L678.3 283.6L679.4 282.4L680.4 284.4L681.5 282.9L682.6 283.6L683.6 283.9L684.7 286.7L685.8 284.0L686.9 283.9L687.9 285.4L689.0 284.2L690.1 285.1L691.1 282.6L692.2 285.5L693.3 285.3L694.4 284.0L695.4 287.1L696.5 285.5L697.6 285.6L698.7 284.5L699.7 284.3L700.8 285.6L701.9 284.7L702.9 287.0L704.0 287.6L705.1 286.1L706.2 285.1L707.2 286.6L708.3 286.0L709.4 287.4L710.4 287.6L711.5 287.0L712.6 287.7L713.7 288.9L714.7 289.7L715.8 287.4L716.9 288.8L718.0 287.9L719.0 287.1L720.1 289.8L721.2 288.9L722.2 288.7L723.3 289.1L724.4 288.6L725.5 287.7L726.5 291.0L727.6 290.1L728.7 289.5L729.7 290.4L730.8 290.8L731.9 289.3L733.0 290.2L734.0 289.3L735.1 290.5L736.2 289.6L737.3 292.7L738.3 289.7L739.4 290.7L740.5 290.8L741.5 290.0L742.6 291.5L743.7 290.5L744.8 290.2L745.8 290.7L746.9 290.0L748.0 292.2L749.0 291.7L750.1 292.2L751.2 289.7L752.3 291.6L753.3 290.5L754.4 291.5L755.5 292.9L756.6 291.9L757.6 291.5L758.7 293.0L759.8 293.0L760.8 294.0L761.9 290.0L763.0 292.5L764.1 291.8L765.1 291.4L766.2 292.5L767.3 291.2L768.3 290.1L769.4 291.7L770.5 292.5L771.6 294.9L772.6 292.1L773.7 291.7L774.8 290.9L775.8 292.8L776.9 293.0L778.0 293.5L779.1 291.8L780.1 292.7L781.2 291.1L782.3 293.9L783.4 292.1L784.4 290.8L785.5 295.2L786.6 294.6L787.6 294.5L788.7 294.6L789.8 293.2L790.9 295.6L791.9 293.3L793.0 296.7L794.1 294.9L795.1 292.7L796.2 295.8L797.3 297.1L798.4 294.8L799.4 296.3L800.5 295.0L801.6 294.6L802.7 292.6L803.7 296.9L804.8 295.1L805.9 296.1L806.9 294.5L808.0 294.9L809.1 297.2L810.2 295.7L811.2 295.8L812.3 294.9L813.4 296.7L814.4 297.4L815.5 296.2L816.6 296.6L817.7 295.6L818.7 298.6L819.8 296.5L820.9 297.2L822.0 299.3L823.0 297.4L824.1 296.0L825.2 296.9L826.2 297.6L827.3 300.1L828.4 298.6L829.5 298.2L830.5 299.5L831.6 300.2L832.7 298.0L833.7 300.6L834.8 300.0L835.9 299.7L837.0 296.7L838.0 299.7L839.1 301.1L840.2 299.4L841.3 302.3L842.3 300.0L843.4 298.8L844.5 300.7L845.5 300.4L846.6 301.1L847.7 300.0L848.8 301.8L849.8 299.7L850.9 300.5L852.0 299.1L853.0 299.6L854.1 300.7L855.2 299.7L856.3 300.0L857.3 300.2L858.4 300.7L859.5 301.3L860.6 301.2L861.6 301.5L862.7 300.5L863.8 300.5" fill="none" stroke="#d62728" stroke-width="8.5" stroke-linejoin="round" stroke-linecap="square" clip-path="url(#cl)"/>
<g opacity="0.1" clip-path="url(#cl)"><path d="M230.1 -1101.0L231.2 -1008.1L232.2 -918.6L233.3 -832.5L234.4 -749.7L235.5 -670.2L236.5 -594.0L237.6 -520.9L238.7 -451.0L239.7 -384.1L240.8 -320.4L241.9 -259.6L243.0 -201.8L244.0 -145.3L245.1 -90.7L246.2 -41.4L247.3 -1.0L248.3 27.5L249.4 49.2L250.5 65.6L251.5 76.7L252.6 83.7L253.7 89.8L254.8 96.4L255.8 100.9L256.9 107.9L258.0 109.6L259.0 107.2L260.1 112.6L261.2 117.5L262.3 117.1L263.3 119.0L264.4 117.3L265.5 126.9L266.6 124.8L267.6 121.7L268.7 116.6L269.8 125.3L270.8 129.3L271.9 131.9L273.0 131.3L274.1 120.3L275.1 130.6L276.2 132.3L277.3 130.0L278.3 129.8L279.4 133.8L280.5 126.1L281.6 127.5L282.6 139.8L283.7 138.8L284.8 138.1L285.9 138.4L286.9 137.4L288.0 143.4L289.1 143.0L290.1 144.8L291.2 149.1L292.3 145.1L293.4 148.3L294.4 142.6L295.5 141.8L296.6 147.9L297.6 150.2L298.7 147.7L299.8 152.2L300.9 150.3L301.9 152.8L303.0 145.2L304.1 154.5L305.2 150.0L306.2 152.6L307.3 146.0L308.4 152.4L309.4 156.6L310.5 155.3L311.6 151.8L312.7 154.6L313.7 158.6L314.8 151.7L315.9 150.3L316.9 157.7L318.0 157.2L319.1 160.7L320.2 161.1L321.2 161.2L322.3 152.9L323.4 153.0L324.5 157.1L325.5 153.3L326.6 164.8L327.7 163.7L328.7 165.3L329.8 159.7L330.9 164.4L332.0 160.2L333.0 159.5L334.1 160.9L335.2 158.9L336.2 166.1L337.3 166.8L338.4 159.4L339.5 165.4L340.5 159.1L341.6 171.1L342.7 173.1L343.8 165.1L344.8 174.4L345.9 169.4L347.0 167.1L348.0 165.0L349.1 176.8L350.2 176.7L351.3 170.5L352.3 171.8L353.4 177.8L354.5 179.3L355.5 174.2L356.6 179.1L357.7 179.6L358.8 180.9L359.8 181.0L360.9 180.0L362.0 175.4L363.1 172.8L364.1 182.1L365.2 184.1L366.3 175.9L367.3 182.4L368.4 181.7L369.5 177.7L370.6 184.7L371.6 176.3L372.7 185.8L373.8 172.4L374.8 185.7L375.9 188.7L377.0 182.2L378.1 189.1L379.1 189.1L380.2 183.2L381.3 181.3L382.4 185.3L383.4 190.7L384.5 185.6L385.6 180.1L386.6 191.5L387.7 191.4L388.8 190.0L389.9 186.4L390.9 181.2L392.0 187.2L393.1 193.1L394.1 189.8L395.2 184.4L396.3 186.2L397.4 192.3L398.4 194.3L399.5 192.5L400.6 189.3L401.7 191.9L402.7 194.5L403.8 193.7L404.9 193.1L405.9 192.1L407.0 193.5L408.1 188.9L409.2 193.8L410.2 192.3L411.3 197.3L412.4 193.8L413.4 192.1L414.5 197.2L415.6 194.5L416.7 191.2L417.7 198.9L418.8 195.8L419.9 197.6L421.0 192.9L422.0 198.6L423.1 198.4L424.2 198.3L425.2 194.1L426.3 200.1L427.4 200.9L428.5 199.4L429.5 196.0L430.6 195.7L431.7 192.9L432.7 196.8L433.8 202.6L434.9 196.6L436.0 189.9L437.0 202.4L438.1 197.7L439.2 202.7L440.3 192.5L441.3 201.4L442.4 201.1L443.5 196.8L444.5 192.5L445.6 191.7L446.7 202.0L447.8 202.1L448.8 199.7L449.9 205.0L451.0 205.7L452.0 206.6L453.1 202.4L454.2 203.1L455.3 202.4L456.3 207.2L457.4 207.8L458.5 198.6L459.6 205.2L460.6 201.4L461.7 207.2L462.8 200.8L463.8 205.6L464.9 203.8L466.0 208.8L467.1 207.8L468.1 207.3L469.2 209.3L470.3 205.9L471.3 207.6L472.4 202.5L473.5 199.1L474.6 212.0L475.6 212.4L476.7 212.0L477.8 210.6L478.9 212.7L479.9 208.7L481.0 213.2L482.1 211.2L483.1 208.8L484.2 203.3L485.3 212.7L486.4 214.6L487.4 212.2L488.5 211.9L489.6 207.4L490.6 212.1L491.7 210.6L492.8 215.6L493.9 213.7L494.9 213.2L496.0 215.4L497.1 212.3L498.1 211.4L499.2 216.7L500.3 215.1L501.4 210.6L502.4 210.3L503.5 214.7L504.6 206.5L505.7 208.8L506.7 216.6L507.8 213.4L508.9 215.1L509.9 217.1L511.0 216.9L512.1 216.0L513.2 216.3L514.2 212.4L515.3 210.3L516.4 209.6L517.4 210.4L518.5 217.9L519.6 215.3L520.7 204.5L521.7 214.2L522.8 213.6L523.9 212.9L525.0 218.1L526.0 218.3L527.1 213.9L528.2 214.8L529.2 218.1L530.3 218.1L531.4 213.5L532.5 218.4L533.5 218.6L534.6 218.4L535.7 221.1L536.7 220.5L537.8 214.4L538.9 219.2L540.0 216.6L541.0 210.9L542.1 212.1L543.2 218.6L544.3 216.1L545.3 218.7L546.4 217.0L547.5 222.0L548.5 220.7L549.6 194.7L550.7 213.5L551.8 209.5L552.8 213.2L553.9 206.4L555.0 215.0L556.0 216.4L557.1 217.2L558.2 219.4L559.3 218.5L560.3 223.4L561.4 222.1L562.5 218.4L563.6 217.3L564.6 219.8L565.7 220.5L566.8 216.4L567.8 218.0L568.9 220.6L570.0 223.6L571.1 223.5L572.1 218.2L573.2 221.7L574.3 213.1L575.3 217.0L576.4 223.7L577.5 223.1L578.6 210.5L579.6 219.3L580.7 220.2L581.8 223.6L582.9 218.1L583.9 212.3L585.0 223.4L586.1 224.4L587.1 218.6L588.2 223.8L589.3 220.3L590.4 223.0L591.4 220.4L592.5 221.4L593.6 222.0L594.6 219.5L595.7 220.5L596.8 218.7L597.9 219.7L598.9 214.1L600.0 224.5L601.1 214.4L602.2 218.2L603.2 220.7L604.3 222.6L605.4 222.2L606.4 221.9L607.5 204.6L608.6 217.2L609.7 221.5L610.7 218.0L611.8 222.3L612.9 220.1L613.9 223.2L615.0 224.9L616.1 225.3L617.2 225.6L618.2 219.7L619.3 224.0L620.4 226.7L621.5 219.5L622.5 226.4L623.6 223.0L624.7 224.7L625.7 223.2L626.8 222.1L627.9 226.0L629.0 223.1L630.0 221.2L631.1 226.7L632.2 226.6L633.2 227.6L634.3 220.0L635.4 213.1L636.5 216.1L637.5 227.5L638.6 228.8L639.7 221.0L640.8 223.8L641.8 226.1L642.9 227.1L644.0 227.9L645.0 218.2L646.1 228.2L647.2 229.3L648.3 225.4L649.3 225.1L650.4 224.7L651.5 228.0L652.5 228.0L653.6 229.6L654.7 230.7L655.8 228.8L656.8 223.0L657.9 227.7L659.0 229.0L660.1 220.3L661.1 232.2L662.2 224.3L663.3 223.0L664.3 231.6L665.4 224.6L666.5 227.3L667.6 232.2L668.6 232.2L669.7 228.2L670.8 232.7L671.8 229.8L672.9 233.3L674.0 233.6L675.1 229.1L676.1 230.9L677.2 229.1L678.3 230.9L679.4 235.9L680.4 235.6L681.5 234.1L682.6 229.2L683.6 235.5L684.7 226.0L685.8 233.7L686.9 236.2L687.9 230.6L689.0 229.8L690.1 231.8L691.1 237.9L692.2 236.6L693.3 232.6L694.4 232.7L695.4 234.7L696.5 236.4L697.6 238.0L698.7 238.9L699.7 236.8L700.8 239.1L701.9 234.5L702.9 235.9L704.0 234.5L705.1 229.0L706.2 227.8L707.2 241.2L708.3 240.8L709.4 241.8L710.4 240.5L711.5 235.0L712.6 234.7L713.7 238.3L714.7 239.7L715.8 235.1L716.9 235.5L718.0 241.8L719.0 240.3L720.1 243.7L721.2 239.6L722.2 237.3L723.3 239.5L724.4 242.5L725.5 239.8L726.5 232.8L727.6 239.2L728.7 244.0L729.7 240.5L730.8 236.7L731.9 235.6L733.0 244.4L734.0 241.6L735.1 236.7L736.2 237.0L737.3 241.7L738.3 244.4L739.4 243.0L740.5 242.1L741.5 234.5L742.6 241.0L743.7 242.4L744.8 235.9L745.8 243.7L746.9 243.4L748.0 240.0L749.0 236.9L750.1 239.5L751.2 239.8L752.3 233.9L753.3 237.1L754.4 237.5L755.5 235.3L756.6 239.6L757.6 235.3L758.7 234.9L759.8 239.9L760.8 242.3L761.9 241.8L763.0 243.5L764.1 241.9L765.1 244.3L766.2 242.9L767.3 238.2L768.3 239.9L769.4 243.9L770.5 236.7L771.6 242.5L772.6 239.9L773.7 244.8L774.8 238.8L775.8 243.4L776.9 241.2L778.0 236.5L779.1 244.8L780.1 236.0L781.2 245.3L782.3 235.6L783.4 242.7L784.4 243.2L785.5 244.4L786.6 243.6L787.6 230.9L788.7 236.0L789.8 245.1L790.9 243.3L791.9 243.8L793.0 233.1L794.1 241.1L795.1 239.7L796.2 243.7L797.3 239.8L798.4 239.9L799.4 245.8L800.5 240.7L801.6 240.5L802.7 240.8L803.7 240.2L804.8 238.0L805.9 240.6L806.9 241.6L808.0 240.6L809.1 245.7L810.2 244.5L811.2 243.7L812.3 238.6L813.4 240.0L814.4 244.1L815.5 241.8L816.6 238.0L817.7 239.9L818.7 241.4L819.8 241.4L820.9 240.7L822.0 238.2L823.0 245.5L824.1 234.3L825.2 236.8L826.2 229.7L827.3 245.7L828.4 241.5L829.5 243.0L830.5 244.7L831.6 246.5L832.7 239.2L833.7 237.6L834.8 242.9L835.9 242.6L837.0 246.7L838.0 243.7L839.1 240.4L840.2 246.6L841.3 246.7L842.3 244.8L843.4 238.4L844.5 245.0L845.5 240.6L846.6 244.4L847.7 241.7L848.8 245.9L849.8 241.0L850.9 241.0L852.0 238.7L853.0 247.4L854.1 243.7L855.2 245.4L856.3 243.8L857.3 240.5L858.4 240.7L859.5 247.2L860.6 245.6L861.6 238.4L862.7 246.5L863.8 244.7L863.8 451.6L862.7 453.7L861.6 455.3L860.6 459.9L859.5 451.2L858.4 450.7L857.3 451.3L856.3 455.7L855.2 453.7L854.1 449.8L853.0 452.7L852.0 451.7L850.9 449.0L849.8 449.6L848.8 451.5L847.7 449.1L846.6 448.9L845.5 451.7L844.5 450.9L843.4 448.5L842.3 449.5L841.3 452.3L840.2 448.1L839.1 449.4L838.0 451.7L837.0 457.5L835.9 457.9L834.8 448.2L833.7 449.4L832.7 450.5L831.6 450.1L830.5 447.9L829.5 447.0L828.4 448.3L827.3 456.8L826.2 447.1L825.2 449.6L824.1 458.1L823.0 455.1L822.0 448.2L820.9 446.7L819.8 451.0L818.7 446.7L817.7 446.3L816.6 448.4L815.5 449.1L814.4 453.3L813.4 449.2L812.3 449.1L811.2 445.3L810.2 459.0L809.1 450.7L808.0 446.2L806.9 445.9L805.9 445.2L804.8 449.8L803.7 445.0L802.7 447.4L801.6 450.7L800.5 447.2L799.4 445.4L798.4 447.6L797.3 444.2L796.2 443.9L795.1 446.8L794.1 444.4L793.0 446.4L791.9 443.9L790.9 449.2L789.8 449.9L788.7 444.0L787.6 442.6L786.6 454.5L785.5 447.7L784.4 441.7L783.4 444.2L782.3 446.7L781.2 445.4L780.1 447.3L779.1 442.5L778.0 445.1L776.9 445.4L775.8 441.1L774.8 448.8L773.7 444.8L772.6 445.4L771.6 443.1L770.5 441.5L769.4 439.5L768.3 446.2L767.3 450.3L766.2 440.2L765.1 448.8L764.1 442.8L763.0 444.7L761.9 441.1L760.8 439.7L759.8 438.5L758.7 438.3L757.6 444.8L756.6 444.8L755.5 438.8L754.4 442.3L753.3 447.3L752.3 439.5L751.2 441.8L750.1 441.2L749.0 441.2L748.0 437.7L746.9 439.7L745.8 437.3L744.8 443.6L743.7 438.2L742.6 435.9L741.5 439.2L740.5 438.3L739.4 436.4L738.3 436.7L737.3 438.4L736.2 442.0L735.1 436.2L734.0 438.5L733.0 435.8L731.9 443.6L730.8 438.1L729.7 436.2L728.7 434.0L727.6 433.9L726.5 435.8L725.5 438.0L724.4 433.5L723.3 436.4L722.2 432.5L721.2 435.4L720.1 432.3L719.0 432.0L718.0 432.4L716.9 435.5L715.8 433.6L714.7 439.6L713.7 432.5L712.6 431.7L711.5 433.0L710.4 431.9L709.4 433.2L708.3 434.9L707.2 430.4L706.2 434.4L705.1 433.7L704.0 437.9L702.9 433.9L701.9 431.1L700.8 429.9L699.7 429.7L698.7 434.9L697.6 431.4L696.5 432.3L695.4 432.2L694.4 428.0L693.3 431.5L692.2 442.5L691.1 438.2L690.1 431.4L689.0 429.0L687.9 430.7L686.9 428.5L685.8 430.6L684.7 428.3L683.6 431.8L682.6 433.2L681.5 426.4L680.4 430.1L679.4 426.1L678.3 432.4L677.2 430.5L676.1 429.1L675.1 435.3L674.0 431.3L672.9 430.0L671.8 423.4L670.8 429.7L669.7 430.8L668.6 423.9L667.6 425.0L666.5 427.9L665.4 429.7L664.3 423.4L663.3 422.6L662.2 425.3L661.1 424.6L660.1 426.1L659.0 424.0L657.9 420.6L656.8 422.6L655.8 420.0L654.7 427.1L653.6 430.9L652.5 420.4L651.5 428.3L650.4 425.3L649.3 427.5L648.3 420.6L647.2 425.1L646.1 429.3L645.0 425.7L644.0 424.8L642.9 418.6L641.8 423.0L640.8 418.6L639.7 420.5L638.6 424.2L637.5 423.2L636.5 424.9L635.4 424.5L634.3 436.8L633.2 416.6L632.2 415.9L631.1 417.6L630.0 416.2L629.0 424.4L627.9 425.6L626.8 414.0L625.7 415.8L624.7 416.0L623.6 416.0L622.5 432.4L621.5 413.6L620.4 427.3L619.3 415.2L618.2 412.2L617.2 412.6L616.1 412.1L615.0 411.3L613.9 414.5L612.9 416.0L611.8 416.9L610.7 409.8L609.7 421.7L608.6 412.3L607.5 414.9L606.4 410.8L605.4 411.2L604.3 407.9L603.2 409.2L602.2 410.2L601.1 411.8L600.0 411.0L598.9 406.4L597.9 408.6L596.8 411.8L595.7 408.2L594.6 407.1L593.6 405.3L592.5 405.7L591.4 410.4L590.4 407.0L589.3 405.8L588.2 403.4L587.1 407.2L586.1 414.4L585.0 409.0L583.9 404.2L582.9 406.5L581.8 406.2L580.7 402.6L579.6 406.2L578.6 400.9L577.5 405.3L576.4 402.0L575.3 409.9L574.3 402.1L573.2 400.5L572.1 407.0L571.1 400.8L570.0 406.7L568.9 405.0L567.8 403.4L566.8 399.5L565.7 401.9L564.6 398.2L563.6 397.3L562.5 402.3L561.4 395.7L560.3 404.8L559.3 399.8L558.2 404.7L557.1 394.4L556.0 396.1L555.0 394.3L553.9 396.5L552.8 399.2L551.8 399.8L550.7 394.8L549.6 396.6L548.5 400.6L547.5 399.9L546.4 393.2L545.3 401.7L544.3 393.8L543.2 394.5L542.1 394.4L541.0 391.3L540.0 395.4L538.9 393.6L537.8 387.8L536.7 396.4L535.7 394.9L534.6 386.7L533.5 387.8L532.5 391.1L531.4 386.6L530.3 389.0L529.2 396.4L528.2 389.8L527.1 389.6L526.0 387.2L525.0 383.5L523.9 383.3L522.8 389.4L521.7 384.4L520.7 387.9L519.6 382.3L518.5 385.5L517.4 386.0L516.4 381.2L515.3 380.0L514.2 380.8L513.2 381.7L512.1 381.8L511.0 385.2L509.9 384.2L508.9 377.8L507.8 391.1L506.7 378.1L505.7 378.5L504.6 377.2L503.5 379.6L502.4 376.8L501.4 374.6L500.3 375.6L499.2 375.8L498.1 372.8L497.1 377.4L496.0 373.8L494.9 374.5L493.9 373.4L492.8 379.9L491.7 373.9L490.6 379.9L489.6 371.2L488.5 370.0L487.4 371.9L486.4 368.8L485.3 376.6L484.2 368.7L483.1 369.5L482.1 369.7L481.0 365.3L479.9 367.1L478.9 364.5L477.8 363.6L476.7 365.1L475.6 363.5L474.6 365.1L473.5 363.7L472.4 362.0L471.3 363.3L470.3 361.7L469.2 366.4L468.1 364.1L467.1 361.3L466.0 358.4L464.9 357.3L463.8 358.1L462.8 361.2L461.7 357.5L460.6 355.0L459.6 354.6L458.5 359.1L457.4 353.4L456.3 362.5L455.3 363.2L454.2 354.0L453.1 352.3L452.0 353.9L451.0 356.4L449.9 361.4L448.8 357.2L447.8 348.6L446.7 348.0L445.6 346.2L444.5 346.6L443.5 346.4L442.4 348.9L441.3 352.2L440.3 346.4L439.2 345.5L438.1 342.7L437.0 341.5L436.0 347.0L434.9 346.4L433.8 344.0L432.7 346.8L431.7 341.4L430.6 344.1L429.5 341.0L428.5 336.6L427.4 341.5L426.3 340.2L425.2 339.6L424.2 339.5L423.1 335.6L422.0 332.0L421.0 335.1L419.9 334.9L418.8 334.5L417.7 330.3L416.7 328.7L415.6 328.8L414.5 326.7L413.4 329.4L412.4 331.6L411.3 329.5L410.2 328.0L409.2 325.4L408.1 328.2L407.0 321.9L405.9 323.6L404.9 323.6L403.8 323.0L402.7 324.9L401.7 326.1L400.6 319.6L399.5 321.8L398.4 317.3L397.4 317.3L396.3 315.3L395.2 313.9L394.1 316.7L393.1 319.4L392.0 312.8L390.9 312.2L389.9 317.6L388.8 309.1L387.7 307.8L386.6 308.4L385.6 306.2L384.5 307.8L383.4 307.1L382.4 310.4L381.3 309.8L380.2 316.2L379.1 302.0L378.1 304.9L377.0 301.2L375.9 302.2L374.8 297.1L373.8 302.0L372.7 296.6L371.6 303.6L370.6 304.1L369.5 296.9L368.4 302.7L367.3 297.7L366.3 290.8L365.2 290.1L364.1 292.7L363.1 289.8L362.0 289.2L360.9 292.3L359.8 286.1L358.8 288.0L357.7 292.9L356.6 282.4L355.5 285.9L354.5 280.3L353.4 280.5L352.3 279.4L351.3 280.6L350.2 277.6L349.1 278.9L348.0 277.7L347.0 277.6L345.9 277.1L344.8 276.1L343.8 272.1L342.7 274.3L341.6 274.9L340.5 280.2L339.5 279.6L338.4 274.6L337.3 271.6L336.2 266.1L335.2 271.3L334.1 264.2L333.0 266.5L332.0 264.8L330.9 261.7L329.8 265.8L328.7 261.8L327.7 263.2L326.6 262.6L325.5 256.7L324.5 257.2L323.4 255.7L322.3 255.6L321.2 252.9L320.2 265.0L319.1 260.5L318.0 250.9L316.9 250.0L315.9 248.1L314.8 249.2L313.7 248.4L312.7 255.7L311.6 244.9L310.5 247.7L309.4 244.8L308.4 243.8L307.3 242.5L306.2 241.6L305.2 242.3L304.1 243.3L303.0 242.8L301.9 234.8L300.9 232.9L299.8 235.3L298.7 233.5L297.6 230.2L296.6 232.1L295.5 236.5L294.4 224.7L293.4 224.9L292.3 223.1L291.2 224.0L290.1 219.4L289.1 218.3L288.0 218.0L286.9 218.6L285.9 211.4L284.8 211.4L283.7 208.4L282.6 207.9L281.6 206.1L280.5 209.4L279.4 215.0L278.3 205.5L277.3 202.2L276.2 200.2L275.1 201.3L274.1 204.2L273.0 197.0L271.9 196.7L270.8 196.1L269.8 192.4L268.7 190.4L267.6 189.6L266.6 191.1L265.5 184.7L264.4 184.9L263.3 187.4L262.3 181.4L261.2 180.2L260.1 177.9L259.0 178.0L258.0 176.5L256.9 174.9L255.8 172.7L254.8 172.1L253.7 169.7L252.6 168.5L251.5 167.4L250.5 165.6L249.4 163.3L248.3 160.1L247.3 156.5L246.2 152.2L245.1 147.2L244.0 140.7L243.0 127.1L241.9 106.9L240.8 81.7L239.7 52.9L238.7 16.5L237.6 -29.5L236.5 -84.6L235.5 -148.6L234.4 -221.1L233.3 -301.6L232.2 -389.9L231.2 -485.4L230.1 -588.0Z" fill="#d62728" stroke="#d62728" stroke-width="8.3" stroke-linejoin="round"/></g>
<path d="M230.1 106.5L231.2 203.4L232.2 232.2L233.3 251.0L234.4 258.9L235.5 264.1L236.5 268.0L237.6 271.2L238.7 274.4L239.7 278.1L240.8 281.8L241.9 285.3L243.0 288.7L244.0 292.0L245.1 295.1L246.2 298.0L247.3 300.7L248.3 303.1L249.4 305.5L250.5 307.8L251.5 310.4L252.6 312.3L253.7 312.7L254.8 315.4L255.8 317.5L256.9 319.9L258.0 322.2L259.0 324.0L260.1 326.2L261.2 321.9L262.3 327.4L263.3 322.2L264.4 327.4L265.5 325.6L266.6 324.9L267.6 331.9L268.7 330.6L269.8 333.7L270.8 328.6L271.9 330.2L273.0 333.5L274.1 332.9L275.1 335.4L276.2 334.5L277.3 335.8L278.3 334.7L279.4 341.0L280.5 338.1L281.6 336.8L282.6 341.8L283.7 342.1L284.8 342.2L285.9 342.9L286.9 342.1L288.0 343.4L289.1 339.3L290.1 341.4L291.2 342.8L292.3 346.9L293.4 349.7L294.4 347.2L295.5 347.5L296.6 351.3L297.6 348.5L298.7 351.5L299.8 351.6L300.9 348.2L301.9 352.5L303.0 352.9L304.1 350.4L305.2 351.2L306.2 351.3L307.3 357.9L308.4 360.2L309.4 357.6L310.5 360.2L311.6 354.1L312.7 361.0L313.7 362.8L314.8 362.6L315.9 357.3L316.9 362.5L318.0 360.3L319.1 363.6L320.2 360.2L321.2 362.3L322.3 361.5L323.4 364.4L324.5 363.6L325.5 366.9L326.6 366.7L327.7 366.3L328.7 365.7L329.8 365.6L330.9 366.8L332.0 369.0L333.0 368.0L334.1 368.9L335.2 368.6L336.2 369.0L337.3 368.1L338.4 365.8L339.5 371.9L340.5 372.3L341.6 369.3L342.7 376.3L343.8 369.7L344.8 375.1L345.9 373.9L347.0 374.5L348.0 376.8L349.1 376.7L350.2 375.1L351.3 373.0L352.3 373.1L353.4 376.7L354.5 380.3L355.5 379.1L356.6 377.5L357.7 378.7L358.8 379.9L359.8 382.7L360.9 377.4L362.0 381.2L363.1 380.6L364.1 378.6L365.2 378.4L366.3 384.0L367.3 382.2L368.4 381.3L369.5 382.4L370.6 384.8L371.6 383.1L372.7 386.9L373.8 383.0L374.8 382.2L375.9 384.0L377.0 382.5L378.1 384.2L379.1 388.1L380.2 389.6L381.3 387.4L382.4 386.8L383.4 384.6L384.5 384.7L385.6 388.1L386.6 388.0L387.7 386.6L388.8 387.2L389.9 392.1L390.9 391.2L392.0 389.3L393.1 390.0L394.1 392.7L395.2 390.9L396.3 391.0L397.4 387.1L398.4 387.1L399.5 386.9L400.6 386.4L401.7 391.9L402.7 392.9L403.8 390.5L404.9 393.8L405.9 394.1L407.0 393.1L408.1 390.2L409.2 397.2L410.2 397.3L411.3 393.1L412.4 399.2L413.4 395.1L414.5 393.5L415.6 394.6L416.7 391.6L417.7 395.3L418.8 392.7L419.9 399.3L421.0 397.7L422.0 394.0L423.1 398.8L424.2 393.8L425.2 398.4L426.3 399.4L427.4 398.7L428.5 396.3L429.5 398.9L430.6 398.9L431.7 399.8L432.7 403.3L433.8 404.0L434.9 404.0L436.0 399.2L437.0 399.2L438.1 401.2L439.2 402.4L440.3 396.9L441.3 400.5L442.4 406.2L443.5 399.5L444.5 400.9L445.6 401.2L446.7 404.2L447.8 403.1L448.8 402.8L449.9 400.2L451.0 405.3L452.0 404.2L453.1 402.8L454.2 404.6L455.3 406.6L456.3 401.6L457.4 401.6L458.5 403.0L459.6 403.6L460.6 398.8L461.7 404.6L462.8 408.7L463.8 405.6L464.9 408.9L466.0 400.1L467.1 406.7L468.1 410.3L469.2 410.9L470.3 406.4L471.3 405.8L472.4 408.8L473.5 405.2L474.6 407.4L475.6 404.5L476.7 408.8L477.8 408.8L478.9 412.7L479.9 409.9L481.0 407.7L482.1 409.2L483.1 406.6L484.2 409.8L485.3 409.4L486.4 411.1L487.4 412.4L488.5 405.8L489.6 411.3L490.6 412.4L491.7 408.1L492.8 415.4L493.9 409.5L494.9 417.0L496.0 413.3L497.1 413.9L498.1 412.4L499.2 414.3L500.3 409.7L501.4 410.4L502.4 407.9L503.5 413.8L504.6 411.0L505.7 414.5L506.7 414.3L507.8 410.0L508.9 414.8L509.9 414.0L511.0 414.0L512.1 414.7L513.2 413.7L514.2 413.9L515.3 416.5L516.4 411.9L517.4 411.5L518.5 412.7L519.6 416.9L520.7 413.9L521.7 419.2L522.8 407.8L523.9 413.4L525.0 414.2L526.0 416.0L527.1 418.5L528.2 415.2L529.2 413.4L530.3 417.8L531.4 419.5L532.5 410.2L533.5 417.6L534.6 417.0L535.7 414.6L536.7 415.5L537.8 417.4L538.9 416.9L540.0 416.4L541.0 414.4L542.1 417.9L543.2 415.9L544.3 417.7L545.3 416.3L546.4 418.2L547.5 419.6L548.5 418.6L549.6 419.7L550.7 415.1L551.8 419.5L552.8 419.2L553.9 417.3L555.0 418.5L556.0 412.5L557.1 419.3L558.2 418.3L559.3 414.1L560.3 420.7L561.4 418.2L562.5 420.4L563.6 419.4L564.6 421.1L565.7 420.4L566.8 419.6L567.8 421.6L568.9 422.5L570.0 415.5L571.1 420.9L572.1 419.6L573.2 418.5L574.3 424.2L575.3 423.6L576.4 419.1L577.5 419.0L578.6 423.6L579.6 420.4L580.7 421.3L581.8 417.6L582.9 422.0L583.9 425.0L585.0 421.5L586.1 422.4L587.1 426.8L588.2 424.9L589.3 426.3L590.4 424.6L591.4 426.1L592.5 419.6L593.6 421.7L594.6 419.9L595.7 428.9L596.8 424.3L597.9 423.8L598.9 422.4L600.0 422.0L601.1 418.0L602.2 429.7L603.2 424.5L604.3 424.9L605.4 421.7L606.4 424.9L607.5 426.0L608.6 425.1L609.7 426.8L610.7 423.6L611.8 426.4L612.9 427.8L613.9 427.2L615.0 426.9L616.1 425.9L617.2 423.9L618.2 427.6L619.3 425.5L620.4 424.4L621.5 428.4L622.5 423.1L623.6 425.6L624.7 428.8L625.7 429.3L626.8 426.3L627.9 427.5L629.0 428.7L630.0 427.4L631.1 425.9L632.2 428.7L633.2 428.2L634.3 428.2L635.4 430.6L636.5 428.9L637.5 427.2L638.6 428.7L639.7 432.9L640.8 426.9L641.8 428.1L642.9 426.9L644.0 429.7L645.0 426.1L646.1 430.1L647.2 431.0L648.3 427.5L649.3 427.5L650.4 426.1L651.5 429.7L652.5 427.1L653.6 428.4L654.7 428.9L655.8 428.4L656.8 432.0L657.9 433.9L659.0 425.4L660.1 428.5L661.1 431.1L662.2 428.2L663.3 429.5L664.3 431.3L665.4 434.1L666.5 433.7L667.6 430.4L668.6 431.5L669.7 430.4L670.8 431.0L671.8 428.8L672.9 427.5L674.0 430.8L675.1 434.0L676.1 433.6L677.2 427.6L678.3 431.6L679.4 430.7L680.4 432.9L681.5 429.8L682.6 434.5L683.6 432.0L684.7 433.9L685.8 434.7L686.9 428.3L687.9 432.3L689.0 436.4L690.1 433.1L691.1 435.5L692.2 434.1L693.3 432.1L694.4 434.0L695.4 435.9L696.5 436.5L697.6 436.9L698.7 431.1L699.7 435.7L700.8 430.7L701.9 433.6L702.9 433.5L704.0 435.6L705.1 434.9L706.2 437.1L707.2 432.9L708.3 436.4L709.4 435.4L710.4 434.6L711.5 431.9L712.6 436.1L713.7 435.6L714.7 436.7L715.8 434.9L716.9 434.5L718.0 436.0L719.0 436.3L720.1 436.9L721.2 439.7L722.2 434.0L723.3 440.1L724.4 428.8L725.5 437.9L726.5 433.9L727.6 440.4L728.7 433.9L729.7 438.4L730.8 433.8L731.9 433.5L733.0 438.0L734.0 438.3L735.1 434.7L736.2 441.9L737.3 435.8L738.3 440.2L739.4 434.3L740.5 434.5L741.5 437.0L742.6 434.5L743.7 438.0L744.8 432.1L745.8 437.5L746.9 435.8L748.0 435.0L749.0 437.8L750.1 436.8L751.2 436.4L752.3 439.3L753.3 438.2L754.4 438.5L755.5 440.7L756.6 437.6L757.6 439.7L758.7 436.9L759.8 439.3L760.8 439.2L761.9 436.8L763.0 434.7L764.1 435.3L765.1 436.1L766.2 439.6L767.3 438.1L768.3 437.8L769.4 439.6L770.5 440.3L771.6 441.9L772.6 437.4L773.7 440.1L774.8 440.5L775.8 436.8L776.9 439.3L778.0 437.0L779.1 438.6L780.1 440.2L781.2 435.4L782.3 437.3L783.4 437.5L784.4 439.7L785.5 437.8L786.6 440.4L787.6 437.7L788.7 438.5L789.8 441.1L790.9 440.5L791.9 440.2L793.0 439.9L794.1 442.3L795.1 443.2L796.2 439.3L797.3 438.5L798.4 437.9L799.4 444.3L800.5 438.3L801.6 437.4L802.7 441.1L803.7 442.9L804.8 437.8L805.9 440.4L806.9 437.4L808.0 439.2L809.1 444.6L810.2 441.3L811.2 440.4L812.3 441.2L813.4 441.7L814.4 440.9L815.5 438.5L816.6 438.5L817.7 445.9L818.7 439.6L819.8 444.2L820.9 439.8L822.0 444.5L823.0 443.2L824.1 441.2L825.2 446.3L826.2 439.6L827.3 441.3L828.4 439.9L829.5 440.2L830.5 441.2L831.6 439.9L832.7 441.3L833.7 445.8L834.8 438.2L835.9 439.4L837.0 440.1L838.0 441.3L839.1 444.7L840.2 444.1L841.3 443.6L842.3 443.0L843.4 448.1L844.5 440.1L845.5 440.1L846.6 442.7L847.7 443.3L848.8 442.4L849.8 441.0L850.9 440.0L852.0 442.4L853.0 441.5L854.1 442.1L855.2 440.7L856.3 446.3L857.3 444.3L858.4 447.6L859.5 442.2L860.6 443.6L861.6 442.9L862.7 443.6L863.8 443.6" fill="none" stroke="#9467bd" stroke-width="8.5" stroke-linejoin="round" stroke-linecap="square" clip-path="url(#cl)"/>
<g opacity="0.1" clip-path="url(#cl)"><path d="M230.1 104.5L231.2 201.4L232.2 230.2L233.3 249.0L234.4 256.9L235.5 262.1L236.5 265.2L237.6 266.9L238.7 268.6L239.7 270.8L240.8 272.7L241.9 274.0L243.0 273.9L244.0 273.5L245.1 273.7L246.2 274.9L247.3 279.1L248.3 283.6L249.4 281.3L250.5 283.0L251.5 277.0L252.6 254.8L253.7 280.0L254.8 285.3L255.8 286.2L256.9 276.8L258.0 286.2L259.0 272.1L260.1 285.8L261.2 292.9L262.3 292.1L263.3 290.2L264.4 295.5L265.5 295.9L266.6 289.2L267.6 303.1L268.7 301.1L269.8 296.0L270.8 294.3L271.9 292.8L273.0 304.4L274.1 291.4L275.1 292.2L276.2 291.6L277.3 299.5L278.3 301.6L279.4 307.4L280.5 300.8L281.6 307.1L282.6 313.3L283.7 312.4L284.8 305.0L285.9 305.9L286.9 303.4L288.0 309.2L289.1 310.4L290.1 304.4L291.2 301.8L292.3 315.3L293.4 312.9L294.4 318.0L295.5 318.9L296.6 309.3L297.6 301.9L298.7 310.7L299.8 321.0L300.9 310.5L301.9 312.4L303.0 319.2L304.1 316.2L305.2 313.2L306.2 307.1L307.3 320.4L308.4 274.3L309.4 328.0L310.5 327.7L311.6 324.9L312.7 327.9L313.7 325.8L314.8 314.9L315.9 318.1L316.9 328.7L318.0 313.9L319.1 328.3L320.2 327.2L321.2 329.4L322.3 329.1L323.4 326.1L324.5 333.9L325.5 334.5L326.6 330.4L327.7 337.1L328.7 334.7L329.8 328.7L330.9 321.7L332.0 339.0L333.0 323.1L334.1 327.9L335.2 329.2L336.2 337.1L337.3 331.6L338.4 332.5L339.5 339.2L340.5 342.4L341.6 329.4L342.7 346.5L343.8 335.7L344.8 332.6L345.9 342.8L347.0 344.5L348.0 342.4L349.1 337.9L350.2 320.8L351.3 333.8L352.3 335.3L353.4 341.5L354.5 345.5L355.5 328.1L356.6 342.2L357.7 340.1L358.8 347.6L359.8 352.3L360.9 336.5L362.0 348.3L363.1 348.2L364.1 342.2L365.2 344.6L366.3 351.6L367.3 318.1L368.4 346.7L369.5 292.4L370.6 352.2L371.6 339.6L372.7 351.9L373.8 353.0L374.8 348.6L375.9 335.6L377.0 343.8L378.1 346.4L379.1 356.9L380.2 354.9L381.3 348.9L382.4 353.9L383.4 351.4L384.5 347.7L385.6 352.6L386.6 343.3L387.7 348.5L388.8 331.8L389.9 354.3L390.9 345.8L392.0 359.7L393.1 331.9L394.1 338.6L395.2 358.1L396.3 353.4L397.4 354.3L398.4 355.2L399.5 357.1L400.6 341.9L401.7 357.0L402.7 356.8L403.8 332.4L404.9 359.3L405.9 362.5L407.0 362.8L408.1 355.7L409.2 363.0L410.2 362.0L411.3 363.0L412.4 364.6L413.4 359.4L414.5 360.6L415.6 364.2L416.7 353.7L417.7 362.1L418.8 356.0L419.9 367.4L421.0 364.2L422.0 358.0L423.1 364.1L424.2 354.6L425.2 334.6L426.3 354.7L427.4 352.1L428.5 360.9L429.5 367.9L430.6 363.7L431.7 362.7L432.7 364.8L433.8 373.9L434.9 367.8L436.0 364.4L437.0 370.4L438.1 368.4L439.2 373.5L440.3 364.7L441.3 340.2L442.4 369.8L443.5 370.4L444.5 366.2L445.6 370.6L446.7 361.2L447.8 367.1L448.8 372.9L449.9 368.0L451.0 374.3L452.0 366.8L453.1 372.9L454.2 373.0L455.3 377.2L456.3 372.7L457.4 370.9L458.5 369.2L459.6 373.5L460.6 362.5L461.7 371.9L462.8 376.6L463.8 375.7L464.9 376.0L466.0 364.1L467.1 374.3L468.1 362.1L469.2 371.3L470.3 368.9L471.3 370.3L472.4 372.7L473.5 366.9L474.6 370.9L475.6 373.7L476.7 378.2L477.8 372.9L478.9 373.4L479.9 372.7L481.0 367.1L482.1 370.8L483.1 377.8L484.2 376.4L485.3 375.3L486.4 375.1L487.4 373.0L488.5 367.4L489.6 381.2L490.6 380.6L491.7 375.8L492.8 374.9L493.9 375.4L494.9 387.2L496.0 378.9L497.1 381.9L498.1 380.0L499.2 381.5L500.3 369.0L501.4 351.1L502.4 373.0L503.5 385.1L504.6 382.4L505.7 378.7L506.7 381.0L507.8 376.6L508.9 385.4L509.9 383.8L511.0 377.0L512.1 378.1L513.2 382.0L514.2 380.1L515.3 372.8L516.4 381.2L517.4 379.1L518.5 382.0L519.6 374.0L520.7 366.8L521.7 390.2L522.8 371.2L523.9 382.5L525.0 380.5L526.0 382.4L527.1 384.4L528.2 382.9L529.2 371.8L530.3 385.5L531.4 387.1L532.5 376.1L533.5 377.1L534.6 374.3L535.7 379.2L536.7 383.1L537.8 371.0L538.9 387.4L540.0 386.4L541.0 372.5L542.1 375.2L543.2 378.7L544.3 376.5L545.3 386.1L546.4 388.0L547.5 383.4L548.5 386.5L549.6 388.0L550.7 378.2L551.8 387.9L552.8 381.0L553.9 369.3L555.0 382.0L556.0 379.8L557.1 389.2L558.2 377.6L559.3 364.6L560.3 378.1L561.4 389.2L562.5 384.6L563.6 389.1L564.6 392.5L565.7 391.1L566.8 386.5L567.8 382.4L568.9 391.5L570.0 381.8L571.1 391.1L572.1 382.3L573.2 389.0L574.3 395.6L575.3 395.0L576.4 384.5L577.5 388.9L578.6 371.9L579.6 379.4L580.7 382.8L581.8 368.3L582.9 386.2L583.9 392.0L585.0 392.6L586.1 383.3L587.1 381.3L588.2 382.3L589.3 375.9L590.4 370.4L591.4 396.4L592.5 378.7L593.6 381.5L594.6 387.1L595.7 394.5L596.8 388.9L597.9 388.3L598.9 384.3L600.0 392.5L601.1 376.3L602.2 389.6L603.2 388.8L604.3 388.9L605.4 383.0L606.4 381.8L607.5 396.7L608.6 384.5L609.7 391.8L610.7 389.0L611.8 392.5L612.9 398.4L613.9 381.1L615.0 388.4L616.1 381.9L617.2 391.9L618.2 385.8L619.3 381.9L620.4 382.2L621.5 386.3L622.5 386.5L623.6 394.7L624.7 396.6L625.7 383.4L626.8 391.3L627.9 388.6L629.0 391.4L630.0 391.5L631.1 395.8L632.2 397.9L633.2 391.2L634.3 384.8L635.4 397.9L636.5 393.4L637.5 392.6L638.6 398.7L639.7 402.3L640.8 387.7L641.8 398.0L642.9 387.4L644.0 396.0L645.0 394.5L646.1 401.6L647.2 387.1L648.3 380.4L649.3 384.1L650.4 382.3L651.5 398.7L652.5 386.8L653.6 397.6L654.7 398.1L655.8 399.4L656.8 391.3L657.9 397.6L659.0 395.1L660.1 397.3L661.1 400.7L662.2 390.1L663.3 389.4L664.3 398.9L665.4 393.3L666.5 392.7L667.6 364.4L668.6 402.9L669.7 392.0L670.8 386.0L671.8 399.4L672.9 392.0L674.0 399.4L675.1 397.6L676.1 385.6L677.2 397.0L678.3 396.2L679.4 398.7L680.4 400.2L681.5 398.7L682.6 401.1L683.6 392.0L684.7 386.9L685.8 397.2L686.9 396.8L687.9 396.5L689.0 406.8L690.1 396.0L691.1 392.7L692.2 402.1L693.3 399.4L694.4 403.0L695.4 404.9L696.5 399.3L697.6 390.6L698.7 368.8L699.7 402.6L700.8 396.2L701.9 400.5L702.9 390.7L704.0 403.1L705.1 404.2L706.2 407.8L707.2 390.6L708.3 407.6L709.4 397.5L710.4 404.8L711.5 385.6L712.6 374.1L713.7 406.5L714.7 405.3L715.8 404.8L716.9 405.3L718.0 406.0L719.0 394.6L720.1 392.4L721.2 401.4L722.2 393.4L723.3 405.6L724.4 367.4L725.5 399.8L726.5 404.6L727.6 388.4L728.7 398.3L729.7 402.1L730.8 404.6L731.9 402.4L733.0 396.9L734.0 402.6L735.1 394.4L736.2 406.5L737.3 388.4L738.3 404.2L739.4 404.4L740.5 396.8L741.5 403.7L742.6 404.1L743.7 409.0L744.8 382.6L745.8 406.2L746.9 402.3L748.0 400.0L749.0 406.9L750.1 405.8L751.2 406.5L752.3 406.7L753.3 398.6L754.4 405.0L755.5 403.1L756.6 405.5L757.6 396.1L758.7 394.3L759.8 403.9L760.8 408.3L761.9 407.3L763.0 403.7L764.1 397.1L765.1 405.5L766.2 399.7L767.3 397.4L768.3 385.8L769.4 386.9L770.5 409.8L771.6 395.9L772.6 391.9L773.7 398.9L774.8 398.0L775.8 408.2L776.9 407.9L778.0 393.1L779.1 408.6L780.1 400.8L781.2 401.1L782.3 406.5L783.4 406.0L784.4 405.9L785.5 394.4L786.6 408.7L787.6 399.6L788.7 404.8L789.8 403.7L790.9 409.9L791.9 403.5L793.0 405.6L794.1 405.5L795.1 408.4L796.2 404.0L797.3 409.3L798.4 403.0L799.4 412.9L800.5 407.8L801.6 391.9L802.7 404.3L803.7 409.2L804.8 404.8L805.9 392.8L806.9 392.2L808.0 406.1L809.1 408.1L810.2 409.3L811.2 409.1L812.3 407.1L813.4 407.3L814.4 403.7L815.5 397.3L816.6 405.8L817.7 415.8L818.7 404.7L819.8 410.0L820.9 404.8L822.0 402.8L823.0 408.7L824.1 409.3L825.2 405.1L826.2 401.3L827.3 390.4L828.4 403.0L829.5 409.3L830.5 412.4L831.6 409.8L832.7 404.1L833.7 415.6L834.8 404.3L835.9 404.1L837.0 408.9L838.0 412.3L839.1 404.5L840.2 414.9L841.3 406.6L842.3 411.9L843.4 417.7L844.5 402.1L845.5 406.1L846.6 413.7L847.7 414.1L848.8 412.0L849.8 412.0L850.9 407.0L852.0 399.9L853.0 388.3L854.1 407.8L855.2 411.9L856.3 406.8L857.3 407.9L858.4 405.4L859.5 396.8L860.6 414.5L861.6 408.3L862.7 410.3L863.8 410.3L863.8 507.1L862.7 509.5L861.6 520.0L860.6 509.6L859.5 518.2L858.4 527.5L857.3 513.2L856.3 509.0L855.2 511.5L854.1 519.0L853.0 521.0L852.0 514.9L850.9 514.6L849.8 505.6L848.8 506.5L847.7 509.1L846.6 505.3L845.5 503.7L844.5 514.3L843.4 524.1L842.3 508.0L841.3 512.0L840.2 510.7L839.1 508.3L838.0 508.7L837.0 505.4L835.9 503.5L834.8 504.2L833.7 511.5L832.7 517.9L831.6 507.8L830.5 507.2L829.5 509.1L828.4 503.5L827.3 505.4L826.2 505.0L825.2 511.2L824.1 511.3L823.0 517.2L822.0 508.4L820.9 508.4L819.8 519.2L818.7 505.3L817.7 523.3L816.6 507.4L815.5 506.1L814.4 504.7L813.4 522.5L812.3 512.3L811.2 504.7L810.2 513.0L809.1 513.1L808.0 501.8L806.9 511.6L805.9 505.7L804.8 505.8L803.7 509.3L802.7 519.3L801.6 504.6L800.5 506.5L799.4 516.8L798.4 508.3L797.3 510.0L796.2 504.5L795.1 509.6L794.1 513.7L793.0 504.0L791.9 507.7L790.9 512.6L789.8 512.1L788.7 511.5L787.6 521.0L786.6 518.3L785.5 518.5L784.4 512.0L783.4 502.8L782.3 500.5L781.2 500.2L780.1 509.6L779.1 505.0L778.0 505.3L776.9 504.8L775.8 503.5L774.8 519.5L773.7 508.3L772.6 509.4L771.6 513.3L770.5 509.4L769.4 511.6L768.3 535.2L767.3 504.3L766.2 508.8L765.1 501.5L764.1 505.8L763.0 500.6L761.9 506.0L760.8 506.1L759.8 504.2L758.7 502.8L757.6 514.3L756.6 501.4L755.5 509.3L754.4 518.3L753.3 520.6L752.3 512.7L751.2 507.2L750.1 513.5L749.0 504.5L748.0 509.3L746.9 509.4L745.8 506.0L744.8 503.6L743.7 504.0L742.6 510.9L741.5 505.5L740.5 501.0L739.4 501.4L738.3 510.5L737.3 522.4L736.2 516.3L735.1 512.8L734.0 509.9L733.0 507.7L731.9 498.8L730.8 506.7L729.7 503.3L728.7 506.0L727.6 504.5L726.5 502.5L725.5 505.0L724.4 491.7L723.3 504.8L722.2 498.1L721.2 506.5L720.1 502.5L719.0 508.4L718.0 504.3L716.9 507.8L715.8 506.9L714.7 521.2L713.7 509.9L712.6 502.8L711.5 506.3L710.4 505.3L709.4 502.0L708.3 506.1L707.2 505.8L706.2 515.3L705.1 498.5L704.0 506.4L702.9 501.2L701.9 499.5L700.8 515.1L699.7 507.2L698.7 504.1L697.6 509.9L696.5 510.6L695.4 501.9L694.4 503.5L693.3 496.8L692.2 500.9L691.1 504.1L690.1 499.3L689.0 510.2L687.9 514.0L686.9 491.0L685.8 508.1L684.7 498.9L683.6 495.1L682.6 502.3L681.5 505.5L680.4 505.2L679.4 500.3L678.3 506.8L677.2 491.5L676.1 496.5L675.1 497.8L674.0 510.4L672.9 491.1L671.8 496.9L670.8 495.2L669.7 508.1L668.6 503.7L667.6 494.3L666.5 499.0L665.4 501.2L664.3 498.6L663.3 512.3L662.2 491.4L661.1 495.4L660.1 492.3L659.0 494.1L657.9 497.3L656.8 499.8L655.8 498.4L654.7 501.0L653.6 495.9L652.5 493.3L651.5 503.2L650.4 497.3L649.3 492.6L648.3 495.5L647.2 497.6L646.1 497.0L645.0 499.8L644.0 494.3L642.9 490.4L641.8 495.2L640.8 489.7L639.7 496.2L638.6 498.4L637.5 501.0L636.5 504.1L635.4 494.6L634.3 498.7L633.2 501.1L632.2 492.3L631.1 494.3L630.0 497.5L629.0 513.6L627.9 504.1L626.8 506.0L625.7 495.7L624.7 501.4L623.6 497.1L622.5 498.5L621.5 492.5L620.4 492.5L619.3 496.3L618.2 497.9L617.2 487.5L616.1 491.2L615.0 501.5L613.9 496.0L612.9 494.6L611.8 495.6L610.7 488.0L609.7 496.7L608.6 492.3L607.5 491.8L606.4 494.0L605.4 486.2L604.3 503.8L603.2 496.1L602.2 498.1L601.1 482.1L600.0 490.7L598.9 485.1L597.9 493.9L596.8 487.5L595.7 511.0L594.6 493.3L593.6 487.9L592.5 494.9L591.4 495.9L590.4 487.7L589.3 489.4L588.2 494.8L587.1 493.2L586.1 486.1L585.0 492.2L583.9 494.1L582.9 488.1L581.8 485.8L580.7 493.6L579.6 489.7L578.6 492.9L577.5 494.0L576.4 486.8L575.3 488.5L574.3 502.6L573.2 493.1L572.1 486.0L571.1 499.9L570.0 493.2L568.9 503.9L567.8 485.2L566.8 510.5L565.7 485.2L564.6 489.9L563.6 488.2L562.5 489.7L561.4 485.2L560.3 486.3L559.3 486.6L558.2 502.5L557.1 499.4L556.0 479.3L555.0 492.0L553.9 488.4L552.8 498.1L551.8 491.1L550.7 494.7L549.6 484.3L548.5 487.7L547.5 490.9L546.4 481.6L545.3 501.0L544.3 493.3L543.2 492.0L542.1 481.0L541.0 480.3L540.0 484.2L538.9 479.7L537.8 480.3L536.7 479.6L535.7 482.6L534.6 489.9L533.5 508.1L532.5 477.2L531.4 498.4L530.3 482.6L529.2 485.6L528.2 492.3L527.1 499.9L526.0 489.8L525.0 488.2L523.9 492.8L522.8 470.4L521.7 487.8L520.7 520.8L519.6 493.1L518.5 486.2L517.4 492.9L516.4 479.7L515.3 483.7L514.2 480.4L513.2 482.2L512.1 491.9L511.0 488.3L509.9 482.0L508.9 485.9L507.8 487.5L506.7 482.9L505.7 480.8L504.6 487.7L503.5 494.2L502.4 473.2L501.4 473.1L500.3 498.0L499.2 487.0L498.1 477.1L497.1 478.0L496.0 480.5L494.9 488.9L493.9 497.9L492.8 487.5L491.7 497.7L490.6 487.0L489.6 479.2L488.5 468.8L487.4 479.4L486.4 476.8L485.3 473.9L484.2 473.6L483.1 482.6L482.1 476.7L481.0 483.7L479.9 482.5L478.9 476.5L477.8 471.5L476.7 472.1L475.6 470.2L474.6 479.5L473.5 475.5L472.4 478.6L471.3 485.5L470.3 477.8L469.2 475.3L468.1 486.1L467.1 514.1L466.0 464.8L464.9 478.7L463.8 469.6L462.8 471.3L461.7 475.8L460.6 479.2L459.6 482.8L458.5 468.9L457.4 467.3L456.3 466.7L455.3 484.4L454.2 478.9L453.1 470.9L452.0 502.5L451.0 484.7L449.9 476.0L448.8 470.9L447.8 483.8L446.7 479.4L445.6 466.6L444.5 469.5L443.5 472.2L442.4 486.4L441.3 470.9L440.3 462.4L439.2 467.7L438.1 483.3L437.0 478.7L436.0 463.9L434.9 466.9L433.8 470.1L432.7 467.9L431.7 469.3L430.6 477.9L429.5 477.3L428.5 472.2L427.4 468.5L426.3 471.2L425.2 464.2L424.2 473.4L423.1 465.8L422.0 463.9L421.0 479.7L419.9 462.6L418.8 458.4L417.7 458.4L416.7 457.6L415.6 470.3L414.5 456.7L413.4 464.7L412.4 461.9L411.3 459.0L410.2 462.2L409.2 492.1L408.1 455.6L407.0 472.1L405.9 463.5L404.9 458.9L403.8 454.4L402.7 459.9L401.7 459.8L400.6 449.5L399.5 454.9L398.4 462.7L397.4 460.1L396.3 456.8L395.2 464.9L394.1 463.8L393.1 453.1L392.0 465.0L390.9 458.9L389.9 462.7L388.8 452.8L387.7 458.3L386.6 464.8L385.6 458.2L384.5 450.1L383.4 447.3L382.4 463.0L381.3 462.7L380.2 459.2L379.1 454.0L378.1 473.7L377.0 448.2L375.9 447.2L374.8 457.2L373.8 469.3L372.7 456.7L371.6 445.8L370.6 462.8L369.5 448.1L368.4 454.3L367.3 448.0L366.3 453.7L365.2 446.4L364.1 445.1L363.1 454.0L362.0 450.4L360.9 444.8L359.8 449.1L358.8 453.7L357.7 464.7L356.6 448.6L355.5 447.7L354.5 445.8L353.4 449.8L352.3 437.9L351.3 436.2L350.2 439.8L349.1 443.6L348.0 461.6L347.0 455.9L345.9 441.6L344.8 446.8L343.8 436.1L342.7 449.2L341.6 439.1L340.5 441.9L339.5 440.1L338.4 435.8L337.3 447.1L336.2 454.2L335.2 433.3L334.1 432.5L333.0 438.3L332.0 451.8L330.9 447.5L329.8 440.4L328.7 435.0L327.7 436.4L326.6 434.1L325.5 436.2L324.5 427.1L323.4 432.4L322.3 425.9L321.2 432.2L320.2 429.0L319.1 435.6L318.0 441.2L316.9 430.6L315.9 432.1L314.8 429.9L313.7 428.4L312.7 432.7L311.6 425.5L310.5 427.9L309.4 427.9L308.4 425.9L307.3 431.0L306.2 417.1L305.2 450.8L304.1 433.2L303.0 437.3L301.9 439.0L300.9 422.1L299.8 418.2L298.7 421.5L297.6 414.4L296.6 425.8L295.5 416.3L294.4 430.5L293.4 416.9L292.3 414.7L291.2 412.1L290.1 407.1L289.1 404.6L288.0 416.0L286.9 405.2L285.9 407.9L284.8 416.1L283.7 410.6L282.6 406.7L281.6 409.5L280.5 412.0L279.4 416.8L278.3 401.4L277.3 405.2L276.2 399.8L275.1 399.7L274.1 399.2L273.0 396.6L271.9 399.1L270.8 391.8L269.8 403.7L268.7 409.3L267.6 396.0L266.6 387.5L265.5 395.6L264.4 395.6L263.3 390.2L262.3 391.9L261.2 388.2L260.1 392.2L259.0 404.8L258.0 393.3L256.9 384.1L255.8 395.8L254.8 379.4L253.7 372.5L252.6 369.3L251.5 365.1L250.5 358.1L249.4 353.5L248.3 343.0L247.3 339.4L246.2 332.5L245.1 328.3L244.0 323.0L243.0 314.5L241.9 306.7L240.8 301.1L239.7 294.1L238.7 285.8L237.6 279.2L236.5 271.7L235.5 266.1L234.4 260.9L233.3 253.0L232.2 234.2L231.2 205.4L230.1 108.5Z" fill="#9467bd" stroke="#9467bd" stroke-width="8.3" stroke-linejoin="round"/></g>
<path d="M230.1 -479.2L231.2 -299.7L232.2 -164.2L233.3 -80.5L234.4 -30.4L235.5 10.4L236.5 54.3L237.6 93.0L238.7 119.5L239.7 139.6L240.8 157.1L241.9 174.2L243.0 190.0L244.0 204.3L245.1 217.2L246.2 229.2L247.3 239.3L248.3 246.8L249.4 252.7L250.5 257.8L251.5 262.2L252.6 267.5L253.7 271.5L254.8 275.2L255.8 282.7L256.9 288.2L258.0 289.1L259.0 290.2L260.1 295.7L261.2 298.1L262.3 297.5L263.3 306.3L264.4 307.8L265.5 312.9L266.6 310.6L267.6 314.5L268.7 316.6L269.8 314.7L270.8 328.2L271.9 318.1L273.0 322.7L274.1 326.8L275.1 325.5L276.2 332.7L277.3 332.2L278.3 335.4L279.4 337.6L280.5 338.9L281.6 340.6L282.6 341.6L283.7 344.7L284.8 347.3L285.9 345.9L286.9 346.9L288.0 348.5L289.1 351.8L290.1 351.4L291.2 352.7L292.3 351.0L293.4 361.5L294.4 354.4L295.5 363.5L296.6 362.4L297.6 364.3L298.7 363.4L299.8 365.2L300.9 365.8L301.9 367.7L303.0 369.4L304.1 372.2L305.2 366.5L306.2 371.4L307.3 375.4L308.4 375.7L309.4 370.2L310.5 374.6L311.6 375.4L312.7 376.2L313.7 370.3L314.8 379.5L315.9 373.7L316.9 384.7L318.0 381.4L319.1 380.1L320.2 382.8L321.2 382.3L322.3 381.2L323.4 383.1L324.5 385.0L325.5 382.7L326.6 387.5L327.7 389.3L328.7 389.9L329.8 390.9L330.9 391.9L332.0 391.0L333.0 393.3L334.1 390.6L335.2 392.2L336.2 395.5L337.3 397.6L338.4 392.0L339.5 389.7L340.5 400.0L341.6 397.9L342.7 400.3L343.8 398.4L344.8 397.1L345.9 395.3L347.0 395.0L348.0 402.0L349.1 401.2L350.2 399.9L351.3 396.6L352.3 398.6L353.4 398.9L354.5 400.2L355.5 393.7L356.6 402.6L357.7 406.7L358.8 401.4L359.8 403.4L360.9 404.5L362.0 401.5L363.1 405.8L364.1 402.9L365.2 404.3L366.3 406.6L367.3 406.2L368.4 407.0L369.5 404.7L370.6 409.5L371.6 405.0L372.7 410.7L373.8 407.4L374.8 405.9L375.9 409.3L377.0 407.0L378.1 408.8L379.1 410.2L380.2 413.1L381.3 413.5L382.4 413.0L383.4 411.2L384.5 408.2L385.6 412.1L386.6 412.2L387.7 413.0L388.8 412.3L389.9 412.6L390.9 416.5L392.0 411.0L393.1 415.0L394.1 418.7L395.2 413.5L396.3 413.2L397.4 415.6L398.4 415.5L399.5 417.5L400.6 420.8L401.7 417.0L402.7 419.2L403.8 416.3L404.9 416.9L405.9 419.3L407.0 416.9L408.1 422.3L409.2 418.2L410.2 419.1L411.3 417.0L412.4 418.9L413.4 417.6L414.5 419.3L415.6 416.0L416.7 421.1L417.7 426.1L418.8 416.5L419.9 426.6L421.0 421.8L422.0 424.7L423.1 419.8L424.2 428.3L425.2 420.1L426.3 423.0L427.4 427.7L428.5 420.2L429.5 417.5L430.6 423.9L431.7 422.2L432.7 421.9L433.8 422.3L434.9 420.9L436.0 429.0L437.0 428.7L438.1 421.8L439.2 425.5L440.3 424.7L441.3 429.2L442.4 424.1L443.5 431.0L444.5 426.8L445.6 424.8L446.7 426.9L447.8 425.7L448.8 433.7L449.9 428.1L451.0 426.5L452.0 428.3L453.1 432.3L454.2 425.7L455.3 423.9L456.3 432.4L457.4 430.6L458.5 427.8L459.6 429.0L460.6 432.5L461.7 422.0L462.8 433.3L463.8 429.4L464.9 432.0L466.0 430.1L467.1 439.0L468.1 428.8L469.2 433.8L470.3 423.6L471.3 431.1L472.4 433.4L473.5 427.0L474.6 425.8L475.6 431.9L476.7 434.6L477.8 435.2L478.9 430.1L479.9 433.1L481.0 428.4L482.1 437.3L483.1 431.0L484.2 436.3L485.3 432.1L486.4 432.1L487.4 437.7L488.5 430.8L489.6 437.0L490.6 432.5L491.7 431.2L492.8 431.4L493.9 437.0L494.9 433.8L496.0 433.2L497.1 430.1L498.1 437.7L499.2 437.4L500.3 435.5L501.4 436.9L502.4 425.8L503.5 433.5L504.6 435.6L505.7 435.5L506.7 433.8L507.8 436.1L508.9 433.6L509.9 433.9L511.0 432.3L512.1 436.3L513.2 434.1L514.2 434.8L515.3 440.2L516.4 436.3L517.4 436.5L518.5 432.4L519.6 435.3L520.7 439.7L521.7 438.6L522.8 437.3L523.9 436.8L525.0 437.6L526.0 438.6L527.1 436.7L528.2 430.8L529.2 443.4L530.3 441.2L531.4 437.7L532.5 442.2L533.5 434.7L534.6 442.1L535.7 439.1L536.7 441.2L537.8 437.8L538.9 439.4L540.0 440.7L541.0 442.1L542.1 440.7L543.2 440.6L544.3 437.8L545.3 444.4L546.4 440.3L547.5 439.2L548.5 439.0L549.6 436.7L550.7 438.1L551.8 436.0L552.8 440.9L553.9 440.2L555.0 441.2L556.0 437.2L557.1 439.6L558.2 439.1L559.3 443.7L560.3 436.9L561.4 436.9L562.5 444.9L563.6 442.4L564.6 437.1L565.7 445.3L566.8 445.8L567.8 444.9L568.9 436.0L570.0 442.3L571.1 439.6L572.1 441.4L573.2 437.8L574.3 447.1L575.3 440.4L576.4 443.2L577.5 444.8L578.6 444.4L579.6 443.9L580.7 441.7L581.8 443.5L582.9 442.4L583.9 436.7L585.0 446.0L586.1 441.5L587.1 441.9L588.2 442.3L589.3 439.6L590.4 440.2L591.4 438.6L592.5 445.1L593.6 447.2L594.6 444.1L595.7 440.8L596.8 447.8L597.9 443.3L598.9 439.8L600.0 439.1L601.1 444.9L602.2 448.5L603.2 443.5L604.3 442.9L605.4 444.0L606.4 442.4L607.5 443.3L608.6 445.7L609.7 443.0L610.7 447.7L611.8 442.4L612.9 447.2L613.9 446.3L615.0 444.3L616.1 444.6L617.2 444.6L618.2 450.3L619.3 443.4L620.4 449.1L621.5 448.6L622.5 444.9L623.6 450.5L624.7 439.3L625.7 446.7L626.8 446.5L627.9 446.2L629.0 448.6L630.0 445.2L631.1 445.8L632.2 449.6L633.2 446.2L634.3 443.6L635.4 448.2L636.5 446.4L637.5 445.1L638.6 448.3L639.7 444.7L640.8 444.1L641.8 446.2L642.9 446.5L644.0 447.2L645.0 443.7L646.1 452.0L647.2 449.1L648.3 447.7L649.3 448.0L650.4 440.4L651.5 450.0L652.5 444.6L653.6 449.0L654.7 444.3L655.8 450.4L656.8 446.2L657.9 447.2L659.0 452.1L660.1 450.6L661.1 444.1L662.2 446.0L663.3 448.6L664.3 447.4L665.4 450.4L666.5 446.2L667.6 443.0L668.6 445.7L669.7 447.8L670.8 449.9L671.8 450.5L672.9 451.9L674.0 449.2L675.1 448.0L676.1 450.6L677.2 448.4L678.3 447.4L679.4 447.4L680.4 451.4L681.5 453.0L682.6 452.6L683.6 444.5L684.7 452.0L685.8 445.9L686.9 448.1L687.9 450.8L689.0 445.4L690.1 445.8L691.1 447.1L692.2 454.0L693.3 452.4L694.4 446.9L695.4 449.8L696.5 449.9L697.6 450.4L698.7 447.6L699.7 453.6L700.8 448.6L701.9 452.0L702.9 445.0L704.0 450.9L705.1 450.2L706.2 453.7L707.2 442.6L708.3 451.5L709.4 452.3L710.4 449.3L711.5 453.8L712.6 456.0L713.7 452.6L714.7 452.5L715.8 454.0L716.9 451.5L718.0 453.8L719.0 452.1L720.1 448.5L721.2 447.5L722.2 453.8L723.3 452.2L724.4 448.7L725.5 450.7L726.5 454.8L727.6 445.9L728.7 448.3L729.7 452.8L730.8 453.2L731.9 447.6L733.0 448.2L734.0 451.5L735.1 455.0L736.2 451.1L737.3 444.6L738.3 454.0L739.4 451.1L740.5 450.0L741.5 448.0L742.6 454.7L743.7 452.1L744.8 452.5L745.8 452.4L746.9 452.7L748.0 453.9L749.0 456.4L750.1 448.6L751.2 451.4L752.3 450.4L753.3 456.4L754.4 451.0L755.5 447.3L756.6 451.8L757.6 449.8L758.7 449.8L759.8 450.7L760.8 448.3L761.9 446.6L763.0 457.5L764.1 451.7L765.1 449.5L766.2 453.9L767.3 455.9L768.3 447.3L769.4 451.0L770.5 453.1L771.6 450.0L772.6 453.6L773.7 448.9L774.8 450.6L775.8 452.1L776.9 453.7L778.0 452.7L779.1 450.7L780.1 451.6L781.2 446.7L782.3 458.7L783.4 451.6L784.4 451.9L785.5 453.5L786.6 454.4L787.6 453.8L788.7 450.9L789.8 448.2L790.9 452.4L791.9 450.7L793.0 451.4L794.1 453.0L795.1 453.7L796.2 456.7L797.3 452.6L798.4 448.2L799.4 454.8L800.5 455.7L801.6 448.5L802.7 454.9L803.7 453.7L804.8 451.7L805.9 453.7L806.9 454.4L808.0 455.0L809.1 456.6L810.2 453.3L811.2 453.4L812.3 460.2L813.4 450.4L814.4 452.7L815.5 452.5L816.6 455.7L817.7 456.6L818.7 449.8L819.8 457.0L820.9 450.3L822.0 460.9L823.0 451.8L824.1 456.8L825.2 452.9L826.2 455.7L827.3 451.6L828.4 454.1L829.5 453.8L830.5 454.1L831.6 456.0L832.7 452.6L833.7 452.9L834.8 450.2L835.9 453.5L837.0 452.5L838.0 456.4L839.1 455.8L840.2 451.9L841.3 455.2L842.3 457.7L843.4 453.4L844.5 450.8L845.5 461.0L846.6 455.6L847.7 456.1L848.8 461.1L849.8 451.9L850.9 455.0L852.0 448.9L853.0 455.6L854.1 455.3L855.2 452.0L856.3 451.8L857.3 453.8L858.4 453.6L859.5 458.7L860.6 453.6L861.6 453.9L862.7 453.8L863.8 453.8" fill="none" stroke="#8c564b" stroke-width="8.5" stroke-linejoin="round" stroke-linecap="square" clip-path="url(#cl)"/>
<g opacity="0.1" clip-path="url(#cl)"><path d="M230.1 -481.2L231.2 -301.7L232.2 -166.2L233.3 -82.5L234.4 -32.4L235.5 8.4L236.5 52.3L237.6 91.0L238.7 117.5L239.7 137.6L240.8 155.1L241.9 172.2L243.0 188.0L244.0 202.3L245.1 215.2L246.2 226.9L247.3 234.8L248.3 239.7L249.4 243.8L250.5 245.9L251.5 245.8L252.6 248.7L253.7 250.8L254.8 253.1L255.8 257.5L256.9 260.8L258.0 262.9L259.0 262.6L260.1 263.0L261.2 261.9L262.3 259.8L263.3 267.6L264.4 266.7L265.5 266.7L266.6 260.1L267.6 267.5L268.7 274.7L269.8 273.9L270.8 255.8L271.9 268.4L273.0 272.4L274.1 285.1L275.1 280.6L276.2 290.9L277.3 289.1L278.3 292.5L279.4 296.2L280.5 293.3L281.6 300.4L282.6 300.3L283.7 287.2L284.8 294.3L285.9 304.1L286.9 295.0L288.0 297.8L289.1 308.4L290.1 311.1L291.2 312.4L292.3 296.7L293.4 307.4L294.4 312.6L295.5 319.9L296.6 310.3L297.6 317.0L298.7 319.2L299.8 323.8L300.9 319.5L301.9 313.3L303.0 324.1L304.1 331.7L305.2 323.7L306.2 325.0L307.3 324.1L308.4 324.8L309.4 326.0L310.5 324.4L311.6 330.9L312.7 333.4L313.7 327.6L314.8 337.4L315.9 331.1L316.9 328.4L318.0 324.1L319.1 327.8L320.2 340.7L321.2 324.3L322.3 330.4L323.4 337.8L324.5 339.2L325.5 335.4L326.6 335.2L327.7 337.6L328.7 330.1L329.8 342.5L330.9 340.9L332.0 345.7L333.0 345.2L334.1 350.2L335.2 348.1L336.2 354.8L337.3 356.3L338.4 347.6L339.5 344.0L340.5 354.9L341.6 353.3L342.7 352.5L343.8 356.1L344.8 350.4L345.9 355.0L347.0 352.7L348.0 361.8L349.1 360.7L350.2 353.8L351.3 349.7L352.3 351.6L353.4 350.3L354.5 350.6L355.5 348.2L356.6 346.3L357.7 349.2L358.8 357.1L359.8 355.3L360.9 347.5L362.0 349.5L363.1 357.4L364.1 356.4L365.2 361.1L366.3 364.8L367.3 355.7L368.4 364.5L369.5 359.6L370.6 365.8L371.6 356.4L372.7 367.6L373.8 361.3L374.8 346.9L375.9 367.3L377.0 356.9L378.1 362.8L379.1 364.9L380.2 364.1L381.3 362.9L382.4 368.5L383.4 365.4L384.5 364.1L385.6 366.2L386.6 361.1L387.7 368.4L388.8 365.5L389.9 368.0L390.9 371.5L392.0 364.2L393.1 374.2L394.1 377.3L395.2 361.2L396.3 348.8L397.4 365.9L398.4 363.9L399.5 376.6L400.6 379.4L401.7 362.9L402.7 376.9L403.8 365.9L404.9 370.8L405.9 376.4L407.0 373.7L408.1 370.5L409.2 378.2L410.2 373.5L411.3 376.7L412.4 372.6L413.4 368.6L414.5 368.3L415.6 369.1L416.7 378.3L417.7 371.2L418.8 357.3L419.9 384.8L421.0 377.6L422.0 371.0L423.1 369.5L424.2 379.8L425.2 376.0L426.3 374.7L427.4 382.4L428.5 379.8L429.5 376.7L430.6 377.6L431.7 379.5L432.7 371.6L433.8 380.8L434.9 363.8L436.0 384.3L437.0 384.9L438.1 380.6L439.2 384.1L440.3 384.2L441.3 367.1L442.4 369.3L443.5 383.9L444.5 380.8L445.6 370.2L446.7 364.5L447.8 376.6L448.8 388.7L449.9 380.0L451.0 375.3L452.0 382.0L453.1 387.1L454.2 385.0L455.3 383.5L456.3 378.4L457.4 368.2L458.5 377.0L459.6 384.3L460.6 388.2L461.7 366.1L462.8 392.6L463.8 388.2L464.9 388.7L466.0 372.2L467.1 381.2L468.1 383.7L469.2 383.6L470.3 368.7L471.3 378.0L472.4 385.1L473.5 379.4L474.6 382.1L475.6 390.5L476.7 367.9L477.8 393.9L478.9 389.0L479.9 385.5L481.0 382.1L482.1 394.7L483.1 384.2L484.2 385.0L485.3 389.6L486.4 389.3L487.4 392.5L488.5 385.4L489.6 390.3L490.6 387.6L491.7 377.2L492.8 389.2L493.9 391.7L494.9 384.5L496.0 382.3L497.1 388.4L498.1 390.0L499.2 397.2L500.3 392.4L501.4 393.6L502.4 367.7L503.5 392.8L504.6 394.8L505.7 394.5L506.7 391.2L507.8 384.1L508.9 393.4L509.9 391.7L511.0 390.2L512.1 393.1L513.2 393.1L514.2 391.2L515.3 391.5L516.4 388.6L517.4 385.0L518.5 391.9L519.6 387.9L520.7 393.3L521.7 394.8L522.8 396.0L523.9 394.0L525.0 397.5L526.0 395.7L527.1 396.1L528.2 382.2L529.2 402.6L530.3 398.2L531.4 395.5L532.5 401.4L533.5 389.0L534.6 394.5L535.7 388.9L536.7 385.6L537.8 396.3L538.9 390.5L540.0 397.1L541.0 391.3L542.1 392.5L543.2 396.3L544.3 393.3L545.3 400.7L546.4 396.9L547.5 391.2L548.5 395.9L549.6 387.2L550.7 389.1L551.8 389.4L552.8 391.6L553.9 387.6L555.0 399.1L556.0 393.8L557.1 391.9L558.2 398.5L559.3 401.1L560.3 390.4L561.4 395.0L562.5 387.3L563.6 399.7L564.6 383.1L565.7 404.0L566.8 395.7L567.8 398.4L568.9 371.3L570.0 401.8L571.1 392.7L572.1 388.7L573.2 395.3L574.3 399.4L575.3 396.8L576.4 380.2L577.5 386.6L578.6 390.4L579.6 393.1L580.7 385.7L581.8 398.8L582.9 393.4L583.9 396.5L585.0 400.1L586.1 389.0L587.1 401.8L588.2 398.2L589.3 394.5L590.4 391.4L591.4 397.1L592.5 386.8L593.6 398.4L594.6 394.6L595.7 394.7L596.8 399.7L597.9 387.4L598.9 395.0L600.0 394.8L601.1 390.6L602.2 402.3L603.2 396.2L604.3 398.1L605.4 400.9L606.4 399.1L607.5 395.3L608.6 399.2L609.7 400.9L610.7 400.3L611.8 400.3L612.9 398.3L613.9 392.2L615.0 394.5L616.1 395.4L617.2 401.8L618.2 407.2L619.3 397.8L620.4 408.6L621.5 404.8L622.5 393.8L623.6 408.6L624.7 378.7L625.7 392.6L626.8 400.8L627.9 399.8L629.0 395.2L630.0 401.6L631.1 401.5L632.2 403.4L633.2 404.5L634.3 392.3L635.4 394.5L636.5 404.2L637.5 395.2L638.6 396.4L639.7 389.1L640.8 395.7L641.8 400.1L642.9 393.1L644.0 400.3L645.0 399.6L646.1 406.9L647.2 404.3L648.3 403.5L649.3 403.6L650.4 396.1L651.5 396.7L652.5 400.4L653.6 398.6L654.7 395.7L655.8 410.0L656.8 396.4L657.9 399.9L659.0 410.7L660.1 400.0L661.1 398.6L662.2 405.7L663.3 405.9L664.3 376.0L665.4 396.0L666.5 395.7L667.6 393.3L668.6 394.7L669.7 398.8L670.8 405.2L671.8 408.2L672.9 405.4L674.0 405.0L675.1 407.8L676.1 407.0L677.2 374.6L678.3 394.7L679.4 392.7L680.4 407.6L681.5 411.1L682.6 393.9L683.6 397.6L684.7 406.8L685.8 396.6L686.9 401.8L687.9 404.2L689.0 401.0L690.1 397.3L691.1 398.2L692.2 409.9L693.3 402.0L694.4 390.2L695.4 403.0L696.5 384.9L697.6 408.1L698.7 405.7L699.7 412.7L700.8 407.9L701.9 408.3L702.9 396.0L704.0 400.3L705.1 407.3L706.2 406.9L707.2 392.7L708.3 411.4L709.4 401.6L710.4 397.5L711.5 412.3L712.6 405.6L713.7 398.5L714.7 400.5L715.8 413.2L716.9 406.9L718.0 409.2L719.0 407.1L720.1 407.8L721.2 407.1L722.2 375.2L723.3 400.6L724.4 403.6L725.5 409.9L726.5 402.5L727.6 396.6L728.7 400.6L729.7 411.5L730.8 409.3L731.9 401.1L733.0 400.5L734.0 408.9L735.1 408.4L736.2 403.7L737.3 403.7L738.3 406.1L739.4 397.1L740.5 401.8L741.5 402.2L742.6 407.2L743.7 410.1L744.8 405.2L745.8 408.6L746.9 408.8L748.0 407.7L749.0 408.2L750.1 405.3L751.2 398.9L752.3 403.5L753.3 411.0L754.4 408.0L755.5 392.0L756.6 400.2L757.6 404.8L758.7 395.6L759.8 404.5L760.8 407.4L761.9 395.6L763.0 404.5L764.1 411.3L765.1 408.6L766.2 412.6L767.3 413.3L768.3 404.5L769.4 409.2L770.5 408.6L771.6 409.6L772.6 412.2L773.7 407.4L774.8 397.8L775.8 404.8L776.9 409.6L778.0 407.0L779.1 409.9L780.1 401.5L781.2 403.3L782.3 404.0L783.4 401.2L784.4 409.4L785.5 382.8L786.6 406.0L787.6 413.3L788.7 406.7L789.8 407.7L790.9 410.6L791.9 410.0L793.0 396.7L794.1 407.5L795.1 408.7L796.2 412.7L797.3 403.5L798.4 397.9L799.4 414.2L800.5 413.9L801.6 404.4L802.7 404.5L803.7 398.0L804.8 401.6L805.9 408.0L806.9 408.5L808.0 413.0L809.1 409.1L810.2 412.5L811.2 407.5L812.3 406.6L813.4 406.7L814.4 408.9L815.5 406.7L816.6 409.3L817.7 412.8L818.7 403.0L819.8 416.3L820.9 409.6L822.0 410.2L823.0 408.2L824.1 414.3L825.2 404.3L826.2 406.1L827.3 391.9L828.4 400.8L829.5 411.1L830.5 404.1L831.6 414.0L832.7 403.0L833.7 412.3L834.8 401.3L835.9 411.7L837.0 405.7L838.0 415.4L839.1 404.7L840.2 402.6L841.3 415.2L842.3 399.3L843.4 405.8L844.5 410.2L845.5 418.7L846.6 414.2L847.7 412.8L848.8 419.3L849.8 410.9L850.9 407.2L852.0 393.5L853.0 403.3L854.1 415.0L855.2 409.2L856.3 405.4L857.3 404.2L858.4 413.5L859.5 413.9L860.6 411.9L861.6 406.2L862.7 404.9L863.8 402.9L863.8 510.3L862.7 512.4L861.6 513.7L860.6 513.3L859.5 513.2L858.4 506.1L857.3 509.1L856.3 501.6L855.2 503.6L854.1 505.1L853.0 510.8L852.0 506.8L850.9 504.2L849.8 505.2L848.8 515.1L847.7 520.4L846.6 515.7L845.5 511.6L844.5 504.2L843.4 507.6L842.3 507.8L841.3 508.8L840.2 501.4L839.1 508.8L838.0 505.9L837.0 515.0L835.9 521.5L834.8 502.2L833.7 514.6L832.7 504.5L831.6 507.6L830.5 505.3L829.5 504.0L828.4 508.5L827.3 501.6L826.2 510.3L825.2 514.0L824.1 518.0L823.0 508.3L822.0 514.8L820.9 501.6L819.8 513.2L818.7 516.5L817.7 514.5L816.6 506.3L815.5 511.2L814.4 511.7L813.4 504.9L812.3 518.1L811.2 506.5L810.2 509.3L809.1 511.8L808.0 508.3L806.9 513.0L805.9 528.4L804.8 515.6L803.7 505.5L802.7 506.7L801.6 504.0L800.5 510.4L799.4 517.5L798.4 519.3L797.3 520.5L796.2 511.6L795.1 505.2L794.1 508.2L793.0 503.2L791.9 514.3L790.9 510.5L789.8 500.0L788.7 506.8L787.6 519.0L786.6 515.9L785.5 502.9L784.4 517.6L783.4 504.4L782.3 510.0L781.2 497.0L780.1 506.7L779.1 504.2L778.0 508.0L776.9 506.8L775.8 508.4L774.8 500.2L773.7 506.2L772.6 503.2L771.6 506.5L770.5 510.6L769.4 509.8L768.3 497.5L767.3 519.3L766.2 504.7L765.1 511.4L764.1 518.2L763.0 525.9L761.9 504.6L760.8 497.5L759.8 503.0L758.7 505.4L757.6 499.6L756.6 501.8L755.5 497.9L754.4 512.6L753.3 509.2L752.3 501.1L751.2 506.1L750.1 501.0L749.0 511.7L748.0 508.0L746.9 510.9L745.8 505.0L744.8 501.7L743.7 501.8L742.6 505.8L741.5 507.1L740.5 505.6L739.4 507.5L738.3 525.4L737.3 507.7L736.2 502.8L735.1 511.5L734.0 518.6L733.0 514.2L731.9 500.1L730.8 504.6L729.7 503.1L728.7 501.9L727.6 499.8L726.5 507.2L725.5 501.3L724.4 499.6L723.3 508.4L722.2 505.3L721.2 507.2L720.1 505.6L719.0 514.2L718.0 514.8L716.9 509.3L715.8 516.9L714.7 517.9L713.7 506.1L712.6 529.7L711.5 505.1L710.4 508.1L709.4 512.7L708.3 505.6L707.2 504.6L706.2 504.5L705.1 509.2L704.0 505.2L702.9 498.5L701.9 508.0L700.8 499.2L699.7 505.1L698.7 498.1L697.6 517.6L696.5 504.5L695.4 509.8L694.4 495.9L693.3 503.0L692.2 503.7L691.1 498.9L690.1 501.3L689.0 503.4L687.9 505.6L686.9 497.1L685.8 504.4L684.7 510.5L683.6 497.4L682.6 506.9L681.5 504.3L680.4 507.7L679.4 512.2L678.3 498.6L677.2 499.0L676.1 506.5L675.1 502.3L674.0 501.9L672.9 502.3L671.8 515.6L670.8 506.9L669.7 499.4L668.6 500.3L667.6 505.0L666.5 503.3L665.4 503.6L664.3 506.8L663.3 505.0L662.2 500.5L661.1 508.4L660.1 503.1L659.0 501.6L657.9 502.0L656.8 505.1L655.8 511.3L654.7 496.6L653.6 498.3L652.5 494.0L651.5 499.4L650.4 501.7L649.3 501.6L648.3 501.6L647.2 502.2L646.1 506.3L645.0 498.7L644.0 496.4L642.9 499.4L641.8 505.3L640.8 501.6L639.7 495.6L638.6 506.7L637.5 495.8L636.5 498.6L635.4 499.0L634.3 500.9L633.2 506.8L632.2 500.9L631.1 499.3L630.0 497.0L629.0 501.9L627.9 498.6L626.8 503.1L625.7 503.5L624.7 491.6L623.6 506.1L622.5 496.0L621.5 502.5L620.4 499.5L619.3 493.7L618.2 502.7L617.2 500.7L616.1 494.8L615.0 507.5L613.9 504.1L612.9 513.3L611.8 503.9L610.7 504.7L609.7 496.0L608.6 507.0L607.5 497.2L606.4 497.5L605.4 495.5L604.3 495.4L603.2 496.8L602.2 504.3L601.1 506.8L600.0 504.8L598.9 491.4L597.9 503.3L596.8 505.5L595.7 499.8L594.6 496.9L593.6 501.9L592.5 499.4L591.4 499.3L590.4 492.3L589.3 491.7L588.2 493.0L587.1 494.6L586.1 497.0L585.0 501.9L583.9 487.2L582.9 502.0L581.8 508.2L580.7 498.0L579.6 500.8L578.6 506.6L577.5 494.7L576.4 496.1L575.3 490.9L574.3 498.6L573.2 491.4L572.1 492.6L571.1 506.5L570.0 500.6L568.9 488.9L567.8 506.3L566.8 505.2L565.7 497.2L564.6 489.8L563.6 495.4L562.5 499.5L561.4 496.6L560.3 495.9L559.3 493.4L558.2 500.1L557.1 492.0L556.0 495.4L555.0 491.3L553.9 503.6L552.8 496.3L551.8 500.1L550.7 488.0L549.6 490.4L548.5 489.9L547.5 490.7L546.4 495.4L545.3 501.0L544.3 497.4L543.2 494.7L542.1 494.9L541.0 494.8L540.0 498.3L538.9 493.5L537.8 495.1L536.7 507.7L535.7 490.8L534.6 494.2L533.5 515.7L532.5 491.2L531.4 489.7L530.3 492.4L529.2 499.4L528.2 481.2L527.1 495.3L526.0 491.4L525.0 499.9L523.9 495.9L522.8 489.7L521.7 500.8L520.7 492.7L519.6 484.5L518.5 491.8L517.4 487.5L516.4 502.5L515.3 492.8L514.2 485.0L513.2 485.9L512.1 489.0L511.0 487.3L509.9 488.8L508.9 488.1L507.8 492.5L506.7 484.5L505.7 488.8L504.6 498.2L503.5 487.5L502.4 474.9L501.4 488.0L500.3 495.4L499.2 497.1L498.1 491.2L497.1 497.3L496.0 494.5L494.9 486.4L493.9 491.6L492.8 484.9L491.7 480.4L490.6 484.3L489.6 489.9L488.5 480.1L487.4 506.2L486.4 484.3L485.3 487.8L484.2 493.3L483.1 493.6L482.1 494.8L481.0 480.9L479.9 485.8L478.9 487.2L477.8 485.8L476.7 490.8L475.6 482.3L474.6 483.3L473.5 481.3L472.4 500.4L471.3 486.8L470.3 484.1L469.2 498.1L468.1 485.0L467.1 490.1L466.0 480.5L464.9 496.0L463.8 484.3L462.8 488.1L461.7 476.9L460.6 485.5L459.6 483.9L458.5 485.4L457.4 485.5L456.3 488.7L455.3 474.2L454.2 477.5L453.1 489.4L452.0 490.6L451.0 483.5L449.9 484.7L448.8 487.6L447.8 487.1L446.7 477.9L445.6 475.4L444.5 486.4L443.5 486.2L442.4 476.4L441.3 481.0L440.3 483.3L439.2 484.8L438.1 486.2L437.0 480.4L436.0 478.2L434.9 475.8L433.8 471.9L432.7 474.9L431.7 481.6L430.6 478.6L429.5 474.3L428.5 476.7L427.4 484.3L426.3 475.8L425.2 473.2L424.2 489.5L423.1 481.7L422.0 487.3L421.0 496.4L419.9 489.5L418.8 467.0L417.7 484.5L416.7 472.3L415.6 473.0L414.5 493.1L413.4 474.5L412.4 475.1L411.3 472.6L410.2 480.0L409.2 475.1L408.1 472.6L407.0 472.5L405.9 470.1L404.9 470.6L403.8 466.8L402.7 477.8L401.7 469.1L400.6 476.0L399.5 469.4L398.4 470.6L397.4 478.8L396.3 470.3L395.2 468.2L394.1 468.7L393.1 478.4L392.0 469.1L390.9 467.0L389.9 465.8L388.8 468.3L387.7 466.7L386.6 466.1L385.6 464.2L384.5 461.7L383.4 463.5L382.4 465.4L381.3 468.8L380.2 462.6L379.1 465.5L378.1 467.3L377.0 459.8L375.9 458.4L374.8 456.7L373.8 464.1L372.7 461.8L371.6 464.9L370.6 472.2L369.5 457.9L368.4 470.6L367.3 463.1L366.3 456.0L365.2 458.7L364.1 458.4L363.1 458.6L362.0 458.5L360.9 460.1L359.8 457.6L358.8 460.7L357.7 475.6L356.6 455.2L355.5 443.1L354.5 457.5L353.4 448.4L352.3 450.2L351.3 448.1L350.2 450.9L349.1 450.8L348.0 456.3L347.0 455.4L345.9 452.0L344.8 462.5L343.8 458.0L342.7 455.4L341.6 450.2L340.5 455.8L339.5 441.3L338.4 449.0L337.3 451.8L336.2 453.9L335.2 446.7L334.1 450.3L333.0 442.5L332.0 441.1L330.9 462.7L329.8 467.4L328.7 453.3L327.7 457.5L326.6 440.8L325.5 444.0L324.5 434.3L323.4 433.9L322.3 436.2L321.2 432.8L320.2 432.8L319.1 444.5L318.0 430.7L316.9 441.6L315.9 432.5L314.8 430.2L313.7 441.7L312.7 436.3L311.6 431.1L310.5 436.1L309.4 436.9L308.4 433.8L307.3 439.7L306.2 423.1L305.2 424.9L304.1 461.7L303.0 426.5L301.9 420.5L300.9 421.8L299.8 419.4L298.7 413.6L297.6 419.3L296.6 426.6L295.5 414.0L294.4 404.5L293.4 411.2L292.3 412.5L291.2 403.8L290.1 411.6L289.1 413.3L288.0 402.7L286.9 404.0L285.9 398.4L284.8 411.2L283.7 396.2L282.6 395.8L281.6 391.4L280.5 388.9L279.4 391.3L278.3 411.6L277.3 391.1L276.2 384.1L275.1 374.6L274.1 378.9L273.0 371.9L271.9 377.3L270.8 377.3L269.8 376.6L268.7 373.8L267.6 367.0L266.6 367.1L265.5 361.0L264.4 360.8L263.3 356.3L262.3 352.1L261.2 339.9L260.1 333.3L259.0 326.4L258.0 322.6L256.9 318.7L255.8 308.4L254.8 304.3L253.7 296.7L252.6 288.2L251.5 281.5L250.5 270.6L249.4 263.5L248.3 255.5L247.3 244.4L246.2 231.7L245.1 219.2L244.0 206.3L243.0 192.0L241.9 176.2L240.8 159.1L239.7 141.6L238.7 121.5L237.6 95.0L236.5 56.3L235.5 12.4L234.4 -28.4L233.3 -78.5L232.2 -162.2L231.2 -297.7L230.1 -477.2Z" fill="#8c564b" stroke="#8c564b" stroke-width="8.3" stroke-linejoin="round"/></g>
<path d="M1181.0 187.6L1182.1 225.5L1183.1 262.7L1184.2 296.2L1185.3 315.0L1186.4 329.6L1187.4 341.0L1188.5 350.1L1189.6 357.9L1190.7 364.9L1191.7 371.1L1192.8 376.4L1193.9 380.9L1195.0 384.5L1196.0 387.4L1197.1 389.9L1198.2 392.1L1199.3 394.0L1200.3 395.9L1201.4 397.9L1202.5 399.6L1203.5 400.5L1204.6 401.5L1205.7 402.9L1206.8 403.9L1207.8 406.3L1208.9 408.1L1210.0 408.8L1211.1 409.0L1212.1 408.7L1213.2 408.7L1214.3 410.4L1215.4 413.9L1216.4 416.6L1217.5 418.1L1218.6 419.4L1219.7 420.6L1220.7 421.2L1221.8 423.4L1222.9 424.4L1224.0 424.4L1225.0 427.6L1226.1 429.6L1227.2 429.0L1228.3 423.7L1229.3 420.0L1230.4 418.3L1231.5 419.6L1232.5 422.6L1233.6 426.7L1234.7 431.6L1235.8 432.6L1236.8 432.0L1237.9 429.6L1239.0 428.7L1240.1 430.3L1241.1 434.3L1242.2 434.5L1243.3 433.5L1244.4 436.7L1245.4 438.1L1246.5 437.2L1247.6 439.8L1248.7 445.9L1249.7 448.8L1250.8 447.7L1251.9 444.2L1253.0 442.2L1254.0 442.3L1255.1 443.1L1256.2 446.3L1257.2 447.7L1258.3 447.8L1259.4 444.9L1260.5 442.1L1261.5 442.3L1262.6 443.1L1263.7 444.5L1264.8 448.5L1265.8 451.6L1266.9 450.4L1268.0 447.8L1269.1 445.2L1270.1 444.9L1271.2 448.4L1272.3 449.0L1273.4 446.8L1274.4 446.7L1275.5 447.8L1276.6 450.5L1277.7 448.6L1278.7 446.8L1279.8 445.2L1280.9 441.0L1282.0 443.4L1283.0 445.7L1284.1 447.4L1285.2 450.6L1286.2 451.7L1287.3 447.7L1288.4 446.9L1289.5 449.9L1290.5 449.8L1291.6 448.4L1292.7 448.1L1293.8 447.9L1294.8 449.4L1295.9 451.9L1297.0 453.1L1298.1 452.2L1299.1 451.8L1300.2 453.7L1301.3 454.4L1302.4 454.2L1303.4 455.4L1304.5 456.4L1305.6 458.1L1306.7 458.7L1307.7 459.0L1308.8 458.9L1309.9 456.8L1311.0 453.4L1312.0 453.5L1313.1 457.2L1314.2 457.1L1315.2 456.4L1316.3 455.7L1317.4 458.7L1318.5 462.8L1319.5 463.0L1320.6 458.8L1321.7 456.5L1322.8 456.7L1323.8 463.3L1324.9 467.1L1326.0 465.9L1327.1 465.2L1328.1 465.9L1329.2 465.2L1330.3 467.5L1331.4 469.2L1332.4 468.6L1333.5 467.5L1334.6 466.1L1335.7 464.1L1336.7 461.9L1337.8 463.2L1338.9 462.1L1339.9 459.0L1341.0 457.3L1342.1 456.6L1343.2 455.9L1344.2 457.6L1345.3 459.1L1346.4 459.1L1347.5 456.0L1348.5 451.7L1349.6 453.1L1350.7 454.3L1351.8 457.1L1352.8 461.5L1353.9 460.6L1355.0 462.1L1356.1 464.8L1357.1 467.3L1358.2 469.4L1359.3 465.8L1360.4 465.1L1361.4 464.6L1362.5 466.9L1363.6 467.4L1364.7 464.6L1365.7 460.4L1366.8 459.7L1367.9 459.0L1368.9 457.8L1370.0 456.9L1371.1 458.4L1372.2 459.9L1373.2 463.2L1374.3 464.1L1375.4 462.2L1376.5 460.9L1377.5 462.1L1378.6 462.4L1379.7 463.7L1380.8 466.4L1381.8 465.4L1382.9 464.4L1384.0 465.7L1385.1 467.5L1386.1 466.5L1387.2 465.8L1388.3 467.1L1389.4 467.2L1390.4 466.1L1391.5 466.8L1392.6 468.4L1393.6 465.6L1394.7 464.9L1395.8 464.1L1396.9 462.4L1397.9 461.9L1399.0 462.5L1400.1 459.9L1401.2 458.1L1402.2 456.0L1403.3 454.2L1404.4 452.8L1405.5 453.2L1406.5 452.5L1407.6 454.7L1408.7 456.8L1409.8 458.9L1410.8 462.0L1411.9 467.3L1413.0 470.2L1414.1 469.8L1415.1 471.6L1416.2 475.7L1417.3 477.7L1418.4 479.2L1419.4 478.5L1420.5 475.4L1421.6 475.9L1422.6 475.1L1423.7 475.1L1424.8 477.1L1425.9 478.9L1426.9 476.3L1428.0 473.7L1429.1 469.7L1430.2 467.3L1431.2 464.5L1432.3 461.9L1433.4 458.6L1434.5 456.4L1435.5 454.9L1436.6 456.7L1437.7 457.9L1438.8 458.6L1439.8 461.3L1440.9 466.3L1442.0 471.3L1443.1 474.2L1444.1 478.3L1445.2 481.3L1446.3 481.9L1447.3 480.7L1448.4 481.4L1449.5 486.6L1450.6 490.5L1451.6 491.3L1452.7 487.0L1453.8 480.7L1454.9 475.1L1455.9 468.2L1457.0 462.5L1458.1 458.7L1459.2 456.2L1460.2 453.8L1461.3 450.4L1462.4 448.4L1463.5 448.2L1464.5 450.2L1465.6 453.8L1466.7 455.7L1467.8 460.0L1468.8 462.1L1469.9 464.0L1471.0 466.0L1472.1 470.8L1473.1 480.7L1474.2 484.3L1475.3 484.9L1476.3 485.9L1477.4 486.5L1478.5 487.1L1479.6 484.4L1480.6 487.3L1481.7 487.3L1482.8 487.3L1483.9 490.0L1484.9 489.8L1486.0 487.7L1487.1 486.9L1488.2 488.1L1489.2 483.0L1490.3 484.7L1491.4 488.4L1492.5 487.8L1493.5 485.1L1494.6 483.4L1495.7 481.7L1496.8 481.4L1497.8 480.5L1498.9 478.4L1500.0 478.2L1501.0 479.9L1502.1 475.9L1503.2 473.1L1504.3 473.0L1505.3 467.1L1506.4 462.7L1507.5 461.8L1508.6 462.1L1509.6 460.3L1510.7 459.3L1511.8 457.3L1512.9 459.2L1513.9 462.9L1515.0 467.9L1516.1 472.7L1517.2 471.0L1518.2 465.7L1519.3 466.2L1520.4 469.0L1521.5 471.5L1522.5 474.0L1523.6 476.4L1524.7 476.5L1525.8 479.1L1526.8 484.9L1527.9 485.8L1529.0 485.6L1530.0 486.7L1531.1 485.5L1532.2 483.2L1533.3 483.9L1534.3 486.4L1535.4 484.5L1536.5 483.8L1537.6 480.8L1538.6 476.0L1539.7 471.9L1540.8 464.9L1541.9 464.3L1542.9 461.5L1544.0 461.8L1545.1 463.2L1546.2 465.4L1547.2 468.7L1548.3 471.6L1549.4 474.4L1550.5 477.4L1551.5 478.5L1552.6 478.2L1553.7 480.8L1554.7 481.7L1555.8 482.0L1556.9 482.0L1558.0 483.7L1559.0 485.0L1560.1 481.4L1561.2 482.6L1562.3 484.2L1563.3 483.4L1564.4 485.3L1565.5 482.2L1566.6 476.1L1567.6 474.7L1568.7 473.0L1569.8 469.5L1570.9 466.7L1571.9 466.1L1573.0 465.9L1574.1 463.9L1575.2 464.2L1576.2 465.5L1577.3 465.8L1578.4 467.8L1579.5 469.5L1580.5 471.8L1581.6 473.6L1582.7 471.7L1583.7 473.2L1584.8 475.2L1585.9 476.8L1587.0 477.8L1588.0 480.8L1589.1 485.0L1590.2 488.8L1591.3 490.1L1592.3 489.1L1593.4 487.0L1594.5 486.2L1595.6 485.7L1596.6 491.4L1597.7 494.1L1598.8 491.9L1599.9 489.6L1600.9 490.3L1602.0 490.1L1603.1 492.7L1604.2 492.1L1605.2 491.2L1606.3 492.3L1607.4 493.0L1608.4 493.5L1609.5 492.0L1610.6 488.0L1611.7 484.7L1612.7 484.1L1613.8 484.7L1614.9 485.6L1616.0 487.0L1617.0 486.8L1618.1 485.4L1619.2 484.1L1620.3 482.5L1621.3 482.1L1622.4 480.7L1623.5 479.7L1624.6 477.2L1625.6 474.5L1626.7 475.2L1627.8 477.3L1628.9 478.7L1629.9 478.5L1631.0 477.9L1632.1 474.3L1633.2 473.6L1634.2 475.4L1635.3 474.9L1636.4 474.3L1637.4 474.8L1638.5 475.3L1639.6 471.2L1640.7 471.0L1641.7 473.3L1642.8 473.6L1643.9 475.4L1645.0 478.3L1646.0 478.2L1647.1 477.5L1648.2 476.0L1649.3 472.9L1650.3 475.2L1651.4 477.6L1652.5 478.8L1653.6 479.4L1654.6 481.8L1655.7 484.7L1656.8 487.1L1657.9 488.2L1658.9 490.3L1660.0 489.9L1661.1 493.4L1662.1 495.1L1663.2 493.9L1664.3 495.5L1665.4 498.2L1666.4 500.3L1667.5 501.1L1668.6 499.9L1669.7 499.9L1670.7 501.2L1671.8 501.8L1672.9 501.6L1674.0 500.6L1675.0 499.4L1676.1 499.1L1677.2 498.2L1678.3 496.7L1679.3 495.7L1680.4 495.7L1681.5 496.3L1682.6 494.7L1683.6 494.8L1684.7 494.5L1685.8 496.6L1686.9 497.1L1687.9 496.5L1689.0 493.3L1690.1 489.9L1691.1 489.1L1692.2 486.5L1693.3 483.9L1694.4 483.5L1695.4 486.1L1696.5 488.3L1697.6 490.1L1698.7 492.0L1699.7 489.1L1700.8 487.2L1701.9 487.2L1703.0 488.7L1704.0 490.4L1705.1 492.2L1706.2 494.7L1707.3 498.4L1708.3 499.1L1709.4 498.0L1710.5 498.4L1711.6 498.2L1712.6 497.2L1713.7 496.8L1714.8 496.2L1715.8 495.3L1716.9 492.8L1718.0 490.2L1719.1 490.0L1720.1 490.2L1721.2 487.6L1722.3 487.3L1723.4 486.9L1724.4 488.3L1725.5 484.2L1726.6 480.9L1727.7 479.2L1728.7 478.2L1729.8 480.6L1730.9 483.0L1732.0 480.5L1733.0 478.6L1734.1 478.8L1735.2 478.6L1736.3 478.0L1737.3 479.2L1738.4 479.9L1739.5 478.9L1740.6 479.0L1741.6 476.7L1742.7 479.1L1743.8 485.0L1744.8 488.3L1745.9 488.5L1747.0 486.6L1748.1 488.9L1749.1 492.7L1750.2 497.0L1751.3 498.4L1752.4 498.2L1753.4 498.1L1754.5 498.8L1755.6 502.8L1756.7 504.8L1757.7 506.1L1758.8 504.8L1759.9 503.1L1761.0 500.7L1762.0 499.4L1763.1 500.2L1764.2 501.1L1765.3 498.2L1766.3 499.1L1767.4 496.6L1768.5 494.7L1769.5 497.0L1770.6 498.6L1771.7 500.7L1772.8 501.6L1773.8 503.0L1774.9 503.1L1776.0 502.1L1777.1 500.1L1778.1 500.4L1779.2 499.6L1780.3 498.9L1781.4 497.4L1782.4 493.5L1783.5 489.4L1784.6 490.0L1785.7 490.8L1786.7 493.7L1787.8 493.2L1788.9 490.5L1790.0 488.1L1791.0 489.8L1792.1 491.5L1793.2 493.7L1794.2 492.6L1795.3 491.0L1796.4 490.5L1797.5 489.8L1798.5 486.5L1799.6 485.2L1800.7 485.3L1801.8 486.0L1802.8 487.5L1803.9 489.5L1805.0 488.0L1806.1 485.2L1807.1 485.6L1808.2 487.7L1809.3 488.1L1810.4 488.1" fill="none" stroke="#1f77b4" stroke-width="8.5" stroke-linejoin="round" stroke-linecap="square" clip-path="url(#cr)"/>
<g opacity="0.1" clip-path="url(#cr)"><path d="M1177.5 89.0L1178.0 89.0L1181.0 180.4L1182.1 203.3L1183.1 223.3L1184.2 244.7L1185.3 270.2L1186.4 294.3L1187.4 310.8L1188.5 323.1L1189.6 332.3L1190.7 338.9L1191.7 344.7L1192.8 349.8L1193.9 354.1L1195.0 353.7L1196.0 358.1L1197.1 357.9L1198.2 361.8L1199.3 363.5L1200.3 359.9L1201.4 358.5L1202.5 367.9L1203.5 367.0L1204.6 369.4L1205.7 367.9L1206.8 366.4L1207.8 361.6L1208.9 372.3L1210.0 372.4L1211.1 367.8L1212.1 364.9L1213.2 368.2L1214.3 368.5L1215.4 366.4L1216.4 366.5L1217.5 353.0L1218.6 363.0L1219.7 374.0L1220.7 372.8L1221.8 374.5L1222.9 375.8L1224.0 378.2L1225.0 378.2L1226.1 385.8L1227.2 383.4L1228.3 382.8L1229.3 389.4L1230.4 378.2L1231.5 386.3L1232.5 391.9L1233.6 390.7L1234.7 398.8L1235.8 393.0L1236.8 400.9L1237.9 398.8L1239.0 401.6L1240.1 401.2L1241.1 392.1L1242.2 394.7L1243.3 402.4L1244.4 398.5L1245.4 407.8L1246.5 402.3L1247.6 398.4L1248.7 408.6L1249.7 399.7L1250.8 408.1L1251.9 408.8L1253.0 396.6L1254.0 404.1L1255.1 404.7L1256.2 401.2L1257.2 407.0L1258.3 398.8L1259.4 400.7L1260.5 402.5L1261.5 403.9L1262.6 404.7L1263.7 406.6L1264.8 408.5L1265.8 395.8L1266.9 390.9L1268.0 398.4L1269.1 400.9L1270.1 407.5L1271.2 395.4L1272.3 350.3L1273.4 406.1L1274.4 407.8L1275.5 406.6L1276.6 401.8L1277.7 388.8L1278.7 406.2L1279.8 405.3L1280.9 403.9L1282.0 392.3L1283.0 406.3L1284.1 405.2L1285.2 391.9L1286.2 402.8L1287.3 407.0L1288.4 402.3L1289.5 401.1L1290.5 402.0L1291.6 395.8L1292.7 403.2L1293.8 406.6L1294.8 405.3L1295.9 392.3L1297.0 348.6L1298.1 396.3L1299.1 403.5L1300.2 405.6L1301.3 393.5L1302.4 392.0L1303.4 402.9L1304.5 403.8L1305.6 391.3L1306.7 401.2L1307.7 398.8L1308.8 403.6L1309.9 404.1L1311.0 403.0L1312.0 401.6L1313.1 406.9L1314.2 402.4L1315.2 407.9L1316.3 404.3L1317.4 397.4L1318.5 401.2L1319.5 412.7L1320.6 410.5L1321.7 415.9L1322.8 410.4L1323.8 412.4L1324.9 415.5L1326.0 417.4L1327.1 418.3L1328.1 417.9L1329.2 414.0L1330.3 420.1L1331.4 412.4L1332.4 410.8L1333.5 410.9L1334.6 415.6L1335.7 416.9L1336.7 414.2L1337.8 416.1L1338.9 418.4L1339.9 417.8L1341.0 418.8L1342.1 415.9L1343.2 417.0L1344.2 403.4L1345.3 407.5L1346.4 408.9L1347.5 407.7L1348.5 411.3L1349.6 414.9L1350.7 412.2L1351.8 402.6L1352.8 402.6L1353.9 401.2L1355.0 394.2L1356.1 402.0L1357.1 407.2L1358.2 402.2L1359.3 409.5L1360.4 398.8L1361.4 405.4L1362.5 406.7L1363.6 407.0L1364.7 401.1L1365.7 406.9L1366.8 411.1L1367.9 405.3L1368.9 411.4L1370.0 399.9L1371.1 394.5L1372.2 410.4L1373.2 412.3L1374.3 407.0L1375.4 397.7L1376.5 399.3L1377.5 401.5L1378.6 400.1L1379.7 412.5L1380.8 412.6L1381.8 415.0L1382.9 414.4L1384.0 407.2L1385.1 404.6L1386.1 405.4L1387.2 415.9L1388.3 398.4L1389.4 394.1L1390.4 410.0L1391.5 407.3L1392.6 415.7L1393.6 415.5L1394.7 412.4L1395.8 417.0L1396.9 414.9L1397.9 417.4L1399.0 370.0L1400.1 409.9L1401.2 414.4L1402.2 410.4L1403.3 416.6L1404.4 411.5L1405.5 416.4L1406.5 416.2L1407.6 408.7L1408.7 404.8L1409.8 409.1L1410.8 416.1L1411.9 407.6L1413.0 405.0L1414.1 405.7L1415.1 415.6L1416.2 412.7L1417.3 415.4L1418.4 411.8L1419.4 408.2L1420.5 411.0L1421.6 412.4L1422.6 402.5L1423.7 410.4L1424.8 412.7L1425.9 407.6L1426.9 406.0L1428.0 407.6L1429.1 404.9L1430.2 412.2L1431.2 401.3L1432.3 408.9L1433.4 404.9L1434.5 407.8L1435.5 402.6L1436.6 412.1L1437.7 412.3L1438.8 408.5L1439.8 406.7L1440.9 410.7L1442.0 411.6L1443.1 400.8L1444.1 402.5L1445.2 408.9L1446.3 409.0L1447.3 412.8L1448.4 407.3L1449.5 389.6L1450.6 407.6L1451.6 409.1L1452.7 402.5L1453.8 408.2L1454.9 409.7L1455.9 406.7L1457.0 405.8L1458.1 408.5L1459.2 413.3L1460.2 412.2L1461.3 403.9L1462.4 403.9L1463.5 408.5L1464.5 412.6L1465.6 408.1L1466.7 408.0L1467.8 406.2L1468.8 401.1L1469.9 414.0L1471.0 414.0L1472.1 404.6L1473.1 398.8L1474.2 410.3L1475.3 410.2L1476.3 415.3L1477.4 413.9L1478.5 414.3L1479.6 408.1L1480.6 415.3L1481.7 407.2L1482.8 413.3L1483.9 410.0L1484.9 396.9L1486.0 412.9L1487.1 400.3L1488.2 416.0L1489.2 412.7L1490.3 412.9L1491.4 408.1L1492.5 415.5L1493.5 416.4L1494.6 412.9L1495.7 414.4L1496.8 409.6L1497.8 412.4L1498.9 414.8L1500.0 410.7L1501.0 410.6L1502.1 411.9L1503.2 383.9L1504.3 414.1L1505.3 410.9L1506.4 415.9L1507.5 399.8L1508.6 400.5L1509.6 416.1L1510.7 404.2L1511.8 417.3L1512.9 417.7L1513.9 407.9L1515.0 417.2L1516.1 416.0L1517.2 414.9L1518.2 416.1L1519.3 362.1L1520.4 415.9L1521.5 410.0L1522.5 413.5L1523.6 412.3L1524.7 404.2L1525.8 400.4L1526.8 418.5L1527.9 407.0L1529.0 416.1L1530.0 412.9L1531.1 386.2L1532.2 397.2L1533.3 412.1L1534.3 414.5L1535.4 401.8L1536.5 412.6L1537.6 412.4L1538.6 418.5L1539.7 412.8L1540.8 406.4L1541.9 403.2L1542.9 416.0L1544.0 416.3L1545.1 411.3L1546.2 415.1L1547.2 419.4L1548.3 419.6L1549.4 409.1L1550.5 414.3L1551.5 416.7L1552.6 414.0L1553.7 414.8L1554.7 419.8L1555.8 413.6L1556.9 419.6L1558.0 412.7L1559.0 418.5L1560.1 413.6L1561.2 411.8L1562.3 411.0L1563.3 396.2L1564.4 413.8L1565.5 406.9L1566.6 407.9L1567.6 418.2L1568.7 411.7L1569.8 412.6L1570.9 416.2L1571.9 413.6L1573.0 413.1L1574.1 414.3L1575.2 413.7L1576.2 398.9L1577.3 410.5L1578.4 420.7L1579.5 408.6L1580.5 417.0L1581.6 418.7L1582.7 406.4L1583.7 406.0L1584.8 414.8L1585.9 413.8L1587.0 411.5L1588.0 417.7L1589.1 419.6L1590.2 416.7L1591.3 413.5L1592.3 417.0L1593.4 409.0L1594.5 403.8L1595.6 410.6L1596.6 411.4L1597.7 419.0L1598.8 408.1L1599.9 414.4L1600.9 419.8L1602.0 419.8L1603.1 405.2L1604.2 409.0L1605.2 418.1L1606.3 406.9L1607.4 411.0L1608.4 407.5L1609.5 418.8L1610.6 415.5L1611.7 420.4L1612.7 419.5L1613.8 409.2L1614.9 404.2L1616.0 416.7L1617.0 419.8L1618.1 414.3L1619.2 418.8L1620.3 419.3L1621.3 411.4L1622.4 414.2L1623.5 412.0L1624.6 419.7L1625.6 413.2L1626.7 417.4L1627.8 417.9L1628.9 410.4L1629.9 407.0L1631.0 421.0L1632.1 409.5L1633.2 420.9L1634.2 419.5L1635.3 415.8L1636.4 413.2L1637.4 413.3L1638.5 416.1L1639.6 408.8L1640.7 411.2L1641.7 413.7L1642.8 416.1L1643.9 417.9L1645.0 413.5L1646.0 420.9L1647.1 414.5L1648.2 413.6L1649.3 414.4L1650.3 403.9L1651.4 397.5L1652.5 414.3L1653.6 414.5L1654.6 415.5L1655.7 420.1L1656.8 419.9L1657.9 419.3L1658.9 417.2L1660.0 411.5L1661.1 413.8L1662.1 418.7L1663.2 413.6L1664.3 410.8L1665.4 420.3L1666.4 417.8L1667.5 410.3L1668.6 419.1L1669.7 420.8L1670.7 417.5L1671.8 416.7L1672.9 416.0L1674.0 416.3L1675.0 415.6L1676.1 411.6L1677.2 416.9L1678.3 417.4L1679.3 412.7L1680.4 409.6L1681.5 416.6L1682.6 405.1L1683.6 412.9L1684.7 419.9L1685.8 408.9L1686.9 408.6L1687.9 414.7L1689.0 418.3L1690.1 415.9L1691.1 420.6L1692.2 410.4L1693.3 407.1L1694.4 418.2L1695.4 411.8L1696.5 410.2L1697.6 401.4L1698.7 418.5L1699.7 413.6L1700.8 413.8L1701.9 415.4L1703.0 417.4L1704.0 413.6L1705.1 416.2L1706.2 416.4L1707.3 417.3L1708.3 411.5L1709.4 402.6L1710.5 415.5L1711.6 368.7L1712.6 419.3L1713.7 406.6L1714.8 414.5L1715.8 419.4L1716.9 410.8L1718.0 420.9L1719.1 421.2L1720.1 418.6L1721.2 415.3L1722.3 416.2L1723.4 419.7L1724.4 421.0L1725.5 414.3L1726.6 417.9L1727.7 416.9L1728.7 414.0L1729.8 409.2L1730.9 409.4L1732.0 412.1L1733.0 417.3L1734.1 414.7L1735.2 413.6L1736.3 410.0L1737.3 421.7L1738.4 418.4L1739.5 410.9L1740.6 418.6L1741.6 419.0L1742.7 408.1L1743.8 415.7L1744.8 417.6L1745.9 412.9L1747.0 421.9L1748.1 420.2L1749.1 421.0L1750.2 417.3L1751.3 420.1L1752.4 413.5L1753.4 412.9L1754.5 416.3L1755.6 420.3L1756.7 422.2L1757.7 422.7L1758.8 411.9L1759.9 416.7L1761.0 419.1L1762.0 411.6L1763.1 414.9L1764.2 422.9L1765.3 419.7L1766.3 412.9L1767.4 420.4L1768.5 419.6L1769.5 412.5L1770.6 412.7L1771.7 410.7L1772.8 420.0L1773.8 419.0L1774.9 423.1L1776.0 412.8L1777.1 419.3L1778.1 415.8L1779.2 413.9L1780.3 417.7L1781.4 418.5L1782.4 424.9L1783.5 417.6L1784.6 413.8L1785.7 419.6L1786.7 406.7L1787.8 418.4L1788.9 402.5L1790.0 417.6L1791.0 422.7L1792.1 418.8L1793.2 422.9L1794.2 424.6L1795.3 422.2L1796.4 424.2L1797.5 424.8L1798.5 416.5L1799.6 424.4L1800.7 426.3L1801.8 420.1L1802.8 427.7L1803.9 413.8L1805.0 421.0L1806.1 430.9L1807.1 426.5L1808.2 423.7L1809.3 424.9L1810.4 432.0L1812.4 423.4L1814.4 431.6L1816.4 435.7L1816.4 558.8L1814.4 558.5L1812.4 566.6L1810.4 561.0L1809.3 559.2L1808.2 560.4L1807.1 573.6L1806.1 579.6L1805.0 570.0L1803.9 567.1L1802.8 567.0L1801.8 568.7L1800.7 557.3L1799.6 558.3L1798.5 565.9L1797.5 567.0L1796.4 560.9L1795.3 562.9L1794.2 570.5L1793.2 570.5L1792.1 575.9L1791.0 569.9L1790.0 563.4L1788.9 560.1L1787.8 566.1L1786.7 561.4L1785.7 562.5L1784.6 562.8L1783.5 560.0L1782.4 566.4L1781.4 558.3L1780.3 561.1L1779.2 572.0L1778.1 565.9L1777.1 559.0L1776.0 578.1L1774.9 589.5L1773.8 570.5L1772.8 563.5L1771.7 570.7L1770.6 564.2L1769.5 558.2L1768.5 561.9L1767.4 584.9L1766.3 557.3L1765.3 560.5L1764.2 562.7L1763.1 567.4L1762.0 557.4L1761.0 558.8L1759.9 559.9L1758.8 558.4L1757.7 555.1L1756.7 561.3L1755.6 568.8L1754.5 570.8L1753.4 563.0L1752.4 556.0L1751.3 557.3L1750.2 553.7L1749.1 557.4L1748.1 555.9L1747.0 570.2L1745.9 559.8L1744.8 560.3L1743.8 558.5L1742.7 557.9L1741.6 553.0L1740.6 559.0L1739.5 564.4L1738.4 566.7L1737.3 557.3L1736.3 562.8L1735.2 556.8L1734.1 552.9L1733.0 555.3L1732.0 562.9L1730.9 552.4L1729.8 569.3L1728.7 556.3L1727.7 556.2L1726.6 551.1L1725.5 552.2L1724.4 553.0L1723.4 564.8L1722.3 551.8L1721.2 552.1L1720.1 553.2L1719.1 555.4L1718.0 555.8L1716.9 550.4L1715.8 560.7L1714.8 557.2L1713.7 555.7L1712.6 551.6L1711.6 555.2L1710.5 558.7L1709.4 552.2L1708.3 556.4L1707.3 554.2L1706.2 571.7L1705.1 563.1L1704.0 552.8L1703.0 555.8L1701.9 548.8L1700.8 552.1L1699.7 553.3L1698.7 556.3L1697.6 555.6L1696.5 551.0L1695.4 550.2L1694.4 555.8L1693.3 551.6L1692.2 555.3L1691.1 557.5L1690.1 552.0L1689.0 547.8L1687.9 552.7L1686.9 555.8L1685.8 570.5L1684.7 565.2L1683.6 569.5L1682.6 562.4L1681.5 548.6L1680.4 554.0L1679.3 552.9L1678.3 564.0L1677.2 561.3L1676.1 556.7L1675.0 556.2L1674.0 550.3L1672.9 565.6L1671.8 549.5L1670.7 549.9L1669.7 554.7L1668.6 556.4L1667.5 548.5L1666.4 547.6L1665.4 549.7L1664.3 553.4L1663.2 545.4L1662.1 548.1L1661.1 547.6L1660.0 545.5L1658.9 551.3L1657.9 565.0L1656.8 549.5L1655.7 551.2L1654.6 550.5L1653.6 548.2L1652.5 560.1L1651.4 546.9L1650.3 544.1L1649.3 544.8L1648.2 549.7L1647.1 549.1L1646.0 554.7L1645.0 553.5L1643.9 547.9L1642.8 546.4L1641.7 557.7L1640.7 554.4L1639.6 544.4L1638.5 544.5L1637.4 554.8L1636.4 544.9L1635.3 544.7L1634.2 585.2L1633.2 549.7L1632.1 548.3L1631.0 542.7L1629.9 545.0L1628.9 553.0L1627.8 544.2L1626.7 554.3L1625.6 545.7L1624.6 548.4L1623.5 541.1L1622.4 543.1L1621.3 545.4L1620.3 541.7L1619.2 543.8L1618.1 554.0L1617.0 558.0L1616.0 554.5L1614.9 547.5L1613.8 539.9L1612.7 544.6L1611.7 548.0L1610.6 541.9L1609.5 542.6L1608.4 541.0L1607.4 544.0L1606.3 553.2L1605.2 544.9L1604.2 540.0L1603.1 540.6L1602.0 546.6L1600.9 544.6L1599.9 540.6L1598.8 546.0L1597.7 547.9L1596.6 545.3L1595.6 548.7L1594.5 559.5L1593.4 547.8L1592.3 537.9L1591.3 548.6L1590.2 545.8L1589.1 544.0L1588.0 554.3L1587.0 557.2L1585.9 548.9L1584.8 546.5L1583.7 545.2L1582.7 551.2L1581.6 537.0L1580.5 554.0L1579.5 560.5L1578.4 538.2L1577.3 539.1L1576.2 543.3L1575.2 539.7L1574.1 540.4L1573.0 539.8L1571.9 547.8L1570.9 547.8L1569.8 542.5L1568.7 541.9L1567.6 537.2L1566.6 552.6L1565.5 543.4L1564.4 536.7L1563.3 535.3L1562.3 547.1L1561.2 536.0L1560.1 537.7L1559.0 541.8L1558.0 538.6L1556.9 546.5L1555.8 537.8L1554.7 536.4L1553.7 538.6L1552.6 533.5L1551.5 536.7L1550.5 543.0L1549.4 532.9L1548.3 533.8L1547.2 535.4L1546.2 533.9L1545.1 543.9L1544.0 535.9L1542.9 538.2L1541.9 543.4L1540.8 544.4L1539.7 540.8L1538.6 547.1L1537.6 533.3L1536.5 545.8L1535.4 538.7L1534.3 533.3L1533.3 538.4L1532.2 535.8L1531.1 530.9L1530.0 536.9L1529.0 534.7L1527.9 538.6L1526.8 537.3L1525.8 532.2L1524.7 547.9L1523.6 550.1L1522.5 541.6L1521.5 535.5L1520.4 536.5L1519.3 534.2L1518.2 531.8L1517.2 530.8L1516.1 531.6L1515.0 531.2L1513.9 556.7L1512.9 530.9L1511.8 530.5L1510.7 534.2L1509.6 543.4L1508.6 533.6L1507.5 540.9L1506.4 532.3L1505.3 540.8L1504.3 534.3L1503.2 530.5L1502.1 534.9L1501.0 528.8L1500.0 531.4L1498.9 529.5L1497.8 538.3L1496.8 529.0L1495.7 542.7L1494.6 532.4L1493.5 535.0L1492.5 541.5L1491.4 534.8L1490.3 557.6L1489.2 544.6L1488.2 535.3L1487.1 531.0L1486.0 530.9L1484.9 530.7L1483.9 540.2L1482.8 536.3L1481.7 534.4L1480.6 535.6L1479.6 530.6L1478.5 530.1L1477.4 530.9L1476.3 532.9L1475.3 529.1L1474.2 537.4L1473.1 531.9L1472.1 540.1L1471.0 530.8L1469.9 535.6L1468.8 533.2L1467.8 566.6L1466.7 531.9L1465.6 531.8L1464.5 537.2L1463.5 540.3L1462.4 533.7L1461.3 530.6L1460.2 530.2L1459.2 529.0L1458.1 536.3L1457.0 530.4L1455.9 536.8L1454.9 533.3L1453.8 537.2L1452.7 545.8L1451.6 536.6L1450.6 539.4L1449.5 531.9L1448.4 539.0L1447.3 529.1L1446.3 537.9L1445.2 531.1L1444.1 529.6L1443.1 540.2L1442.0 533.9L1440.9 530.2L1439.8 532.9L1438.8 532.3L1437.7 533.4L1436.6 531.5L1435.5 539.5L1434.5 531.0L1433.4 529.8L1432.3 529.0L1431.2 528.9L1430.2 537.0L1429.1 526.4L1428.0 546.0L1426.9 539.3L1425.9 526.5L1424.8 525.7L1423.7 525.1L1422.6 524.9L1421.6 527.4L1420.5 534.1L1419.4 537.7L1418.4 536.7L1417.3 534.1L1416.2 536.1L1415.1 523.1L1414.1 523.6L1413.0 528.3L1411.9 523.1L1410.8 531.4L1409.8 526.5L1408.7 525.8L1407.6 526.0L1406.5 522.8L1405.5 561.2L1404.4 519.8L1403.3 525.9L1402.2 527.5L1401.2 521.1L1400.1 521.1L1399.0 535.4L1397.9 522.1L1396.9 540.0L1395.8 519.7L1394.7 521.1L1393.6 524.5L1392.6 520.7L1391.5 536.1L1390.4 519.6L1389.4 530.4L1388.3 516.1L1387.2 521.4L1386.1 514.5L1385.1 524.8L1384.0 511.8L1382.9 521.7L1381.8 514.1L1380.8 515.2L1379.7 508.7L1378.6 509.6L1377.5 522.1L1376.5 506.5L1375.4 509.9L1374.3 514.5L1373.2 504.2L1372.2 504.2L1371.1 503.0L1370.0 526.8L1368.9 512.2L1367.9 506.3L1366.8 505.2L1365.7 504.8L1364.7 500.2L1363.6 509.4L1362.5 503.6L1361.4 510.2L1360.4 516.0L1359.3 504.0L1358.2 502.6L1357.1 518.7L1356.1 512.8L1355.0 507.2L1353.9 499.3L1352.8 498.3L1351.8 499.7L1350.7 508.2L1349.6 499.2L1348.5 503.9L1347.5 502.8L1346.4 498.3L1345.3 500.0L1344.2 499.7L1343.2 501.3L1342.1 496.3L1341.0 523.0L1339.9 501.9L1338.9 496.8L1337.8 513.8L1336.7 518.3L1335.7 505.3L1334.6 496.5L1333.5 507.5L1332.4 500.6L1331.4 498.8L1330.3 517.4L1329.2 503.6L1328.1 497.2L1327.1 495.4L1326.0 500.7L1324.9 493.5L1323.8 497.1L1322.8 499.2L1321.7 497.0L1320.6 503.3L1319.5 507.0L1318.5 511.9L1317.4 500.8L1316.3 499.0L1315.2 492.7L1314.2 492.5L1313.1 495.0L1312.0 501.3L1311.0 495.6L1309.9 543.2L1308.8 496.0L1307.7 489.3L1306.7 496.4L1305.6 489.7L1304.5 498.7L1303.4 496.2L1302.4 512.5L1301.3 498.5L1300.2 505.7L1299.1 494.2L1298.1 502.5L1297.0 504.0L1295.9 498.4L1294.8 487.7L1293.8 492.1L1292.7 492.0L1291.6 487.8L1290.5 488.7L1289.5 485.1L1288.4 488.8L1287.3 485.5L1286.2 486.8L1285.2 500.4L1284.1 503.1L1283.0 488.9L1282.0 487.1L1280.9 490.9L1279.8 484.1L1278.7 491.1L1277.7 487.0L1276.6 482.7L1275.5 486.1L1274.4 484.4L1273.4 490.1L1272.3 484.5L1271.2 485.8L1270.1 485.6L1269.1 482.4L1268.0 479.0L1266.9 482.1L1265.8 477.8L1264.8 486.0L1263.7 477.1L1262.6 485.0L1261.5 478.8L1260.5 487.6L1259.4 481.7L1258.3 509.5L1257.2 482.8L1256.2 482.4L1255.1 481.4L1254.0 477.8L1253.0 475.6L1251.9 481.7L1250.8 474.3L1249.7 472.5L1248.7 476.9L1247.6 478.2L1246.5 469.7L1245.4 479.5L1244.4 475.3L1243.3 472.7L1242.2 479.2L1241.1 475.5L1240.1 478.9L1239.0 474.7L1237.9 470.4L1236.8 466.8L1235.8 470.0L1234.7 461.8L1233.6 473.0L1232.5 461.1L1231.5 467.3L1230.4 467.4L1229.3 459.9L1228.3 483.1L1227.2 455.2L1226.1 460.1L1225.0 469.0L1224.0 458.5L1222.9 454.5L1221.8 454.0L1220.7 448.9L1219.7 456.1L1218.6 465.8L1217.5 456.3L1216.4 446.4L1215.4 449.2L1214.3 446.1L1213.2 441.2L1212.1 444.6L1211.1 439.7L1210.0 439.3L1208.9 447.2L1207.8 444.0L1206.8 436.7L1205.7 446.5L1204.6 444.8L1203.5 442.2L1202.5 449.2L1201.4 438.3L1200.3 441.2L1199.3 445.4L1198.2 441.0L1197.1 440.2L1196.0 437.6L1195.0 436.1L1193.9 435.7L1192.8 433.9L1191.7 431.4L1190.7 427.6L1189.6 423.2L1188.5 418.2L1187.4 412.5L1186.4 405.8L1185.3 396.2L1184.2 383.1L1183.1 360.8L1182.1 327.4L1181.0 300.0L1178.0 257.0L1177.5 252.9Z" fill="#1f77b4" stroke="#1f77b4" stroke-width="8.3" stroke-linejoin="round"/></g>
<clipPath id="b_cr_blue"><path d="M1177.5 89.0L1178.0 89.0L1181.0 180.4L1182.1 203.3L1183.1 223.3L1184.2 244.7L1185.3 270.2L1186.4 294.3L1187.4 310.8L1188.5 323.1L1189.6 332.3L1190.7 338.9L1191.7 344.7L1192.8 349.8L1193.9 354.1L1195.0 353.7L1196.0 358.1L1197.1 357.9L1198.2 361.8L1199.3 363.5L1200.3 359.9L1201.4 358.5L1202.5 367.9L1203.5 367.0L1204.6 369.4L1205.7 367.9L1206.8 366.4L1207.8 361.6L1208.9 372.3L1210.0 372.4L1211.1 367.8L1212.1 364.9L1213.2 368.2L1214.3 368.5L1215.4 366.4L1216.4 366.5L1217.5 353.0L1218.6 363.0L1219.7 374.0L1220.7 372.8L1221.8 374.5L1222.9 375.8L1224.0 378.2L1225.0 378.2L1226.1 385.8L1227.2 383.4L1228.3 382.8L1229.3 389.4L1230.4 378.2L1231.5 386.3L1232.5 391.9L1233.6 390.7L1234.7 398.8L1235.8 393.0L1236.8 400.9L1237.9 398.8L1239.0 401.6L1240.1 401.2L1241.1 392.1L1242.2 394.7L1243.3 402.4L1244.4 398.5L1245.4 407.8L1246.5 402.3L1247.6 398.4L1248.7 408.6L1249.7 399.7L1250.8 408.1L1251.9 408.8L1253.0 396.6L1254.0 404.1L1255.1 404.7L1256.2 401.2L1257.2 407.0L1258.3 398.8L1259.4 400.7L1260.5 402.5L1261.5 403.9L1262.6 404.7L1263.7 406.6L1264.8 408.5L1265.8 395.8L1266.9 390.9L1268.0 398.4L1269.1 400.9L1270.1 407.5L1271.2 395.4L1272.3 350.3L1273.4 406.1L1274.4 407.8L1275.5 406.6L1276.6 401.8L1277.7 388.8L1278.7 406.2L1279.8 405.3L1280.9 403.9L1282.0 392.3L1283.0 406.3L1284.1 405.2L1285.2 391.9L1286.2 402.8L1287.3 407.0L1288.4 402.3L1289.5 401.1L1290.5 402.0L1291.6 395.8L1292.7 403.2L1293.8 406.6L1294.8 405.3L1295.9 392.3L1297.0 348.6L1298.1 396.3L1299.1 403.5L1300.2 405.6L1301.3 393.5L1302.4 392.0L1303.4 402.9L1304.5 403.8L1305.6 391.3L1306.7 401.2L1307.7 398.8L1308.8 403.6L1309.9 404.1L1311.0 403.0L1312.0 401.6L1313.1 406.9L1314.2 402.4L1315.2 407.9L1316.3 404.3L1317.4 397.4L1318.5 401.2L1319.5 412.7L1320.6 410.5L1321.7 415.9L1322.8 410.4L1323.8 412.4L1324.9 415.5L1326.0 417.4L1327.1 418.3L1328.1 417.9L1329.2 414.0L1330.3 420.1L1331.4 412.4L1332.4 410.8L1333.5 410.9L1334.6 415.6L1335.7 416.9L1336.7 414.2L1337.8 416.1L1338.9 418.4L1339.9 417.8L1341.0 418.8L1342.1 415.9L1343.2 417.0L1344.2 403.4L1345.3 407.5L1346.4 408.9L1347.5 407.7L1348.5 411.3L1349.6 414.9L1350.7 412.2L1351.8 402.6L1352.8 402.6L1353.9 401.2L1355.0 394.2L1356.1 402.0L1357.1 407.2L1358.2 402.2L1359.3 409.5L1360.4 398.8L1361.4 405.4L1362.5 406.7L1363.6 407.0L1364.7 401.1L1365.7 406.9L1366.8 411.1L1367.9 405.3L1368.9 411.4L1370.0 399.9L1371.1 394.5L1372.2 410.4L1373.2 412.3L1374.3 407.0L1375.4 397.7L1376.5 399.3L1377.5 401.5L1378.6 400.1L1379.7 412.5L1380.8 412.6L1381.8 415.0L1382.9 414.4L1384.0 407.2L1385.1 404.6L1386.1 405.4L1387.2 415.9L1388.3 398.4L1389.4 394.1L1390.4 410.0L1391.5 407.3L1392.6 415.7L1393.6 415.5L1394.7 412.4L1395.8 417.0L1396.9 414.9L1397.9 417.4L1399.0 370.0L1400.1 409.9L1401.2 414.4L1402.2 410.4L1403.3 416.6L1404.4 411.5L1405.5 416.4L1406.5 416.2L1407.6 408.7L1408.7 404.8L1409.8 409.1L1410.8 416.1L1411.9 407.6L1413.0 405.0L1414.1 405.7L1415.1 415.6L1416.2 412.7L1417.3 415.4L1418.4 411.8L1419.4 408.2L1420.5 411.0L1421.6 412.4L1422.6 402.5L1423.7 410.4L1424.8 412.7L1425.9 407.6L1426.9 406.0L1428.0 407.6L1429.1 404.9L1430.2 412.2L1431.2 401.3L1432.3 408.9L1433.4 404.9L1434.5 407.8L1435.5 402.6L1436.6 412.1L1437.7 412.3L1438.8 408.5L1439.8 406.7L1440.9 410.7L1442.0 411.6L1443.1 400.8L1444.1 402.5L1445.2 408.9L1446.3 409.0L1447.3 412.8L1448.4 407.3L1449.5 389.6L1450.6 407.6L1451.6 409.1L1452.7 402.5L1453.8 408.2L1454.9 409.7L1455.9 406.7L1457.0 405.8L1458.1 408.5L1459.2 413.3L1460.2 412.2L1461.3 403.9L1462.4 403.9L1463.5 408.5L1464.5 412.6L1465.6 408.1L1466.7 408.0L1467.8 406.2L1468.8 401.1L1469.9 414.0L1471.0 414.0L1472.1 404.6L1473.1 398.8L1474.2 410.3L1475.3 410.2L1476.3 415.3L1477.4 413.9L1478.5 414.3L1479.6 408.1L1480.6 415.3L1481.7 407.2L1482.8 413.3L1483.9 410.0L1484.9 396.9L1486.0 412.9L1487.1 400.3L1488.2 416.0L1489.2 412.7L1490.3 412.9L1491.4 408.1L1492.5 415.5L1493.5 416.4L1494.6 412.9L1495.7 414.4L1496.8 409.6L1497.8 412.4L1498.9 414.8L1500.0 410.7L1501.0 410.6L1502.1 411.9L1503.2 383.9L1504.3 414.1L1505.3 410.9L1506.4 415.9L1507.5 399.8L1508.6 400.5L1509.6 416.1L1510.7 404.2L1511.8 417.3L1512.9 417.7L1513.9 407.9L1515.0 417.2L1516.1 416.0L1517.2 414.9L1518.2 416.1L1519.3 362.1L1520.4 415.9L1521.5 410.0L1522.5 413.5L1523.6 412.3L1524.7 404.2L1525.8 400.4L1526.8 418.5L1527.9 407.0L1529.0 416.1L1530.0 412.9L1531.1 386.2L1532.2 397.2L1533.3 412.1L1534.3 414.5L1535.4 401.8L1536.5 412.6L1537.6 412.4L1538.6 418.5L1539.7 412.8L1540.8 406.4L1541.9 403.2L1542.9 416.0L1544.0 416.3L1545.1 411.3L1546.2 415.1L1547.2 419.4L1548.3 419.6L1549.4 409.1L1550.5 414.3L1551.5 416.7L1552.6 414.0L1553.7 414.8L1554.7 419.8L1555.8 413.6L1556.9 419.6L1558.0 412.7L1559.0 418.5L1560.1 413.6L1561.2 411.8L1562.3 411.0L1563.3 396.2L1564.4 413.8L1565.5 406.9L1566.6 407.9L1567.6 418.2L1568.7 411.7L1569.8 412.6L1570.9 416.2L1571.9 413.6L1573.0 413.1L1574.1 414.3L1575.2 413.7L1576.2 398.9L1577.3 410.5L1578.4 420.7L1579.5 408.6L1580.5 417.0L1581.6 418.7L1582.7 406.4L1583.7 406.0L1584.8 414.8L1585.9 413.8L1587.0 411.5L1588.0 417.7L1589.1 419.6L1590.2 416.7L1591.3 413.5L1592.3 417.0L1593.4 409.0L1594.5 403.8L1595.6 410.6L1596.6 411.4L1597.7 419.0L1598.8 408.1L1599.9 414.4L1600.9 419.8L1602.0 419.8L1603.1 405.2L1604.2 409.0L1605.2 418.1L1606.3 406.9L1607.4 411.0L1608.4 407.5L1609.5 418.8L1610.6 415.5L1611.7 420.4L1612.7 419.5L1613.8 409.2L1614.9 404.2L1616.0 416.7L1617.0 419.8L1618.1 414.3L1619.2 418.8L1620.3 419.3L1621.3 411.4L1622.4 414.2L1623.5 412.0L1624.6 419.7L1625.6 413.2L1626.7 417.4L1627.8 417.9L1628.9 410.4L1629.9 407.0L1631.0 421.0L1632.1 409.5L1633.2 420.9L1634.2 419.5L1635.3 415.8L1636.4 413.2L1637.4 413.3L1638.5 416.1L1639.6 408.8L1640.7 411.2L1641.7 413.7L1642.8 416.1L1643.9 417.9L1645.0 413.5L1646.0 420.9L1647.1 414.5L1648.2 413.6L1649.3 414.4L1650.3 403.9L1651.4 397.5L1652.5 414.3L1653.6 414.5L1654.6 415.5L1655.7 420.1L1656.8 419.9L1657.9 419.3L1658.9 417.2L1660.0 411.5L1661.1 413.8L1662.1 418.7L1663.2 413.6L1664.3 410.8L1665.4 420.3L1666.4 417.8L1667.5 410.3L1668.6 419.1L1669.7 420.8L1670.7 417.5L1671.8 416.7L1672.9 416.0L1674.0 416.3L1675.0 415.6L1676.1 411.6L1677.2 416.9L1678.3 417.4L1679.3 412.7L1680.4 409.6L1681.5 416.6L1682.6 405.1L1683.6 412.9L1684.7 419.9L1685.8 408.9L1686.9 408.6L1687.9 414.7L1689.0 418.3L1690.1 415.9L1691.1 420.6L1692.2 410.4L1693.3 407.1L1694.4 418.2L1695.4 411.8L1696.5 410.2L1697.6 401.4L1698.7 418.5L1699.7 413.6L1700.8 413.8L1701.9 415.4L1703.0 417.4L1704.0 413.6L1705.1 416.2L1706.2 416.4L1707.3 417.3L1708.3 411.5L1709.4 402.6L1710.5 415.5L1711.6 368.7L1712.6 419.3L1713.7 406.6L1714.8 414.5L1715.8 419.4L1716.9 410.8L1718.0 420.9L1719.1 421.2L1720.1 418.6L1721.2 415.3L1722.3 416.2L1723.4 419.7L1724.4 421.0L1725.5 414.3L1726.6 417.9L1727.7 416.9L1728.7 414.0L1729.8 409.2L1730.9 409.4L1732.0 412.1L1733.0 417.3L1734.1 414.7L1735.2 413.6L1736.3 410.0L1737.3 421.7L1738.4 418.4L1739.5 410.9L1740.6 418.6L1741.6 419.0L1742.7 408.1L1743.8 415.7L1744.8 417.6L1745.9 412.9L1747.0 421.9L1748.1 420.2L1749.1 421.0L1750.2 417.3L1751.3 420.1L1752.4 413.5L1753.4 412.9L1754.5 416.3L1755.6 420.3L1756.7 422.2L1757.7 422.7L1758.8 411.9L1759.9 416.7L1761.0 419.1L1762.0 411.6L1763.1 414.9L1764.2 422.9L1765.3 419.7L1766.3 412.9L1767.4 420.4L1768.5 419.6L1769.5 412.5L1770.6 412.7L1771.7 410.7L1772.8 420.0L1773.8 419.0L1774.9 423.1L1776.0 412.8L1777.1 419.3L1778.1 415.8L1779.2 413.9L1780.3 417.7L1781.4 418.5L1782.4 424.9L1783.5 417.6L1784.6 413.8L1785.7 419.6L1786.7 406.7L1787.8 418.4L1788.9 402.5L1790.0 417.6L1791.0 422.7L1792.1 418.8L1793.2 422.9L1794.2 424.6L1795.3 422.2L1796.4 424.2L1797.5 424.8L1798.5 416.5L1799.6 424.4L1800.7 426.3L1801.8 420.1L1802.8 427.7L1803.9 413.8L1805.0 421.0L1806.1 430.9L1807.1 426.5L1808.2 423.7L1809.3 424.9L1810.4 432.0L1812.4 423.4L1814.4 431.6L1816.4 435.7L1816.4 558.8L1814.4 558.5L1812.4 566.6L1810.4 561.0L1809.3 559.2L1808.2 560.4L1807.1 573.6L1806.1 579.6L1805.0 570.0L1803.9 567.1L1802.8 567.0L1801.8 568.7L1800.7 557.3L1799.6 558.3L1798.5 565.9L1797.5 567.0L1796.4 560.9L1795.3 562.9L1794.2 570.5L1793.2 570.5L1792.1 575.9L1791.0 569.9L1790.0 563.4L1788.9 560.1L1787.8 566.1L1786.7 561.4L1785.7 562.5L1784.6 562.8L1783.5 560.0L1782.4 566.4L1781.4 558.3L1780.3 561.1L1779.2 572.0L1778.1 565.9L1777.1 559.0L1776.0 578.1L1774.9 589.5L1773.8 570.5L1772.8 563.5L1771.7 570.7L1770.6 564.2L1769.5 558.2L1768.5 561.9L1767.4 584.9L1766.3 557.3L1765.3 560.5L1764.2 562.7L1763.1 567.4L1762.0 557.4L1761.0 558.8L1759.9 559.9L1758.8 558.4L1757.7 555.1L1756.7 561.3L1755.6 568.8L1754.5 570.8L1753.4 563.0L1752.4 556.0L1751.3 557.3L1750.2 553.7L1749.1 557.4L1748.1 555.9L1747.0 570.2L1745.9 559.8L1744.8 560.3L1743.8 558.5L1742.7 557.9L1741.6 553.0L1740.6 559.0L1739.5 564.4L1738.4 566.7L1737.3 557.3L1736.3 562.8L1735.2 556.8L1734.1 552.9L1733.0 555.3L1732.0 562.9L1730.9 552.4L1729.8 569.3L1728.7 556.3L1727.7 556.2L1726.6 551.1L1725.5 552.2L1724.4 553.0L1723.4 564.8L1722.3 551.8L1721.2 552.1L1720.1 553.2L1719.1 555.4L1718.0 555.8L1716.9 550.4L1715.8 560.7L1714.8 557.2L1713.7 555.7L1712.6 551.6L1711.6 555.2L1710.5 558.7L1709.4 552.2L1708.3 556.4L1707.3 554.2L1706.2 571.7L1705.1 563.1L1704.0 552.8L1703.0 555.8L1701.9 548.8L1700.8 552.1L1699.7 553.3L1698.7 556.3L1697.6 555.6L1696.5 551.0L1695.4 550.2L1694.4 555.8L1693.3 551.6L1692.2 555.3L1691.1 557.5L1690.1 552.0L1689.0 547.8L1687.9 552.7L1686.9 555.8L1685.8 570.5L1684.7 565.2L1683.6 569.5L1682.6 562.4L1681.5 548.6L1680.4 554.0L1679.3 552.9L1678.3 564.0L1677.2 561.3L1676.1 556.7L1675.0 556.2L1674.0 550.3L1672.9 565.6L1671.8 549.5L1670.7 549.9L1669.7 554.7L1668.6 556.4L1667.5 548.5L1666.4 547.6L1665.4 549.7L1664.3 553.4L1663.2 545.4L1662.1 548.1L1661.1 547.6L1660.0 545.5L1658.9 551.3L1657.9 565.0L1656.8 549.5L1655.7 551.2L1654.6 550.5L1653.6 548.2L1652.5 560.1L1651.4 546.9L1650.3 544.1L1649.3 544.8L1648.2 549.7L1647.1 549.1L1646.0 554.7L1645.0 553.5L1643.9 547.9L1642.8 546.4L1641.7 557.7L1640.7 554.4L1639.6 544.4L1638.5 544.5L1637.4 554.8L1636.4 544.9L1635.3 544.7L1634.2 585.2L1633.2 549.7L1632.1 548.3L1631.0 542.7L1629.9 545.0L1628.9 553.0L1627.8 544.2L1626.7 554.3L1625.6 545.7L1624.6 548.4L1623.5 541.1L1622.4 543.1L1621.3 545.4L1620.3 541.7L1619.2 543.8L1618.1 554.0L1617.0 558.0L1616.0 554.5L1614.9 547.5L1613.8 539.9L1612.7 544.6L1611.7 548.0L1610.6 541.9L1609.5 542.6L1608.4 541.0L1607.4 544.0L1606.3 553.2L1605.2 544.9L1604.2 540.0L1603.1 540.6L1602.0 546.6L1600.9 544.6L1599.9 540.6L1598.8 546.0L1597.7 547.9L1596.6 545.3L1595.6 548.7L1594.5 559.5L1593.4 547.8L1592.3 537.9L1591.3 548.6L1590.2 545.8L1589.1 544.0L1588.0 554.3L1587.0 557.2L1585.9 548.9L1584.8 546.5L1583.7 545.2L1582.7 551.2L1581.6 537.0L1580.5 554.0L1579.5 560.5L1578.4 538.2L1577.3 539.1L1576.2 543.3L1575.2 539.7L1574.1 540.4L1573.0 539.8L1571.9 547.8L1570.9 547.8L1569.8 542.5L1568.7 541.9L1567.6 537.2L1566.6 552.6L1565.5 543.4L1564.4 536.7L1563.3 535.3L1562.3 547.1L1561.2 536.0L1560.1 537.7L1559.0 541.8L1558.0 538.6L1556.9 546.5L1555.8 537.8L1554.7 536.4L1553.7 538.6L1552.6 533.5L1551.5 536.7L1550.5 543.0L1549.4 532.9L1548.3 533.8L1547.2 535.4L1546.2 533.9L1545.1 543.9L1544.0 535.9L1542.9 538.2L1541.9 543.4L1540.8 544.4L1539.7 540.8L1538.6 547.1L1537.6 533.3L1536.5 545.8L1535.4 538.7L1534.3 533.3L1533.3 538.4L1532.2 535.8L1531.1 530.9L1530.0 536.9L1529.0 534.7L1527.9 538.6L1526.8 537.3L1525.8 532.2L1524.7 547.9L1523.6 550.1L1522.5 541.6L1521.5 535.5L1520.4 536.5L1519.3 534.2L1518.2 531.8L1517.2 530.8L1516.1 531.6L1515.0 531.2L1513.9 556.7L1512.9 530.9L1511.8 530.5L1510.7 534.2L1509.6 543.4L1508.6 533.6L1507.5 540.9L1506.4 532.3L1505.3 540.8L1504.3 534.3L1503.2 530.5L1502.1 534.9L1501.0 528.8L1500.0 531.4L1498.9 529.5L1497.8 538.3L1496.8 529.0L1495.7 542.7L1494.6 532.4L1493.5 535.0L1492.5 541.5L1491.4 534.8L1490.3 557.6L1489.2 544.6L1488.2 535.3L1487.1 531.0L1486.0 530.9L1484.9 530.7L1483.9 540.2L1482.8 536.3L1481.7 534.4L1480.6 535.6L1479.6 530.6L1478.5 530.1L1477.4 530.9L1476.3 532.9L1475.3 529.1L1474.2 537.4L1473.1 531.9L1472.1 540.1L1471.0 530.8L1469.9 535.6L1468.8 533.2L1467.8 566.6L1466.7 531.9L1465.6 531.8L1464.5 537.2L1463.5 540.3L1462.4 533.7L1461.3 530.6L1460.2 530.2L1459.2 529.0L1458.1 536.3L1457.0 530.4L1455.9 536.8L1454.9 533.3L1453.8 537.2L1452.7 545.8L1451.6 536.6L1450.6 539.4L1449.5 531.9L1448.4 539.0L1447.3 529.1L1446.3 537.9L1445.2 531.1L1444.1 529.6L1443.1 540.2L1442.0 533.9L1440.9 530.2L1439.8 532.9L1438.8 532.3L1437.7 533.4L1436.6 531.5L1435.5 539.5L1434.5 531.0L1433.4 529.8L1432.3 529.0L1431.2 528.9L1430.2 537.0L1429.1 526.4L1428.0 546.0L1426.9 539.3L1425.9 526.5L1424.8 525.7L1423.7 525.1L1422.6 524.9L1421.6 527.4L1420.5 534.1L1419.4 537.7L1418.4 536.7L1417.3 534.1L1416.2 536.1L1415.1 523.1L1414.1 523.6L1413.0 528.3L1411.9 523.1L1410.8 531.4L1409.8 526.5L1408.7 525.8L1407.6 526.0L1406.5 522.8L1405.5 561.2L1404.4 519.8L1403.3 525.9L1402.2 527.5L1401.2 521.1L1400.1 521.1L1399.0 535.4L1397.9 522.1L1396.9 540.0L1395.8 519.7L1394.7 521.1L1393.6 524.5L1392.6 520.7L1391.5 536.1L1390.4 519.6L1389.4 530.4L1388.3 516.1L1387.2 521.4L1386.1 514.5L1385.1 524.8L1384.0 511.8L1382.9 521.7L1381.8 514.1L1380.8 515.2L1379.7 508.7L1378.6 509.6L1377.5 522.1L1376.5 506.5L1375.4 509.9L1374.3 514.5L1373.2 504.2L1372.2 504.2L1371.1 503.0L1370.0 526.8L1368.9 512.2L1367.9 506.3L1366.8 505.2L1365.7 504.8L1364.7 500.2L1363.6 509.4L1362.5 503.6L1361.4 510.2L1360.4 516.0L1359.3 504.0L1358.2 502.6L1357.1 518.7L1356.1 512.8L1355.0 507.2L1353.9 499.3L1352.8 498.3L1351.8 499.7L1350.7 508.2L1349.6 499.2L1348.5 503.9L1347.5 502.8L1346.4 498.3L1345.3 500.0L1344.2 499.7L1343.2 501.3L1342.1 496.3L1341.0 523.0L1339.9 501.9L1338.9 496.8L1337.8 513.8L1336.7 518.3L1335.7 505.3L1334.6 496.5L1333.5 507.5L1332.4 500.6L1331.4 498.8L1330.3 517.4L1329.2 503.6L1328.1 497.2L1327.1 495.4L1326.0 500.7L1324.9 493.5L1323.8 497.1L1322.8 499.2L1321.7 497.0L1320.6 503.3L1319.5 507.0L1318.5 511.9L1317.4 500.8L1316.3 499.0L1315.2 492.7L1314.2 492.5L1313.1 495.0L1312.0 501.3L1311.0 495.6L1309.9 543.2L1308.8 496.0L1307.7 489.3L1306.7 496.4L1305.6 489.7L1304.5 498.7L1303.4 496.2L1302.4 512.5L1301.3 498.5L1300.2 505.7L1299.1 494.2L1298.1 502.5L1297.0 504.0L1295.9 498.4L1294.8 487.7L1293.8 492.1L1292.7 492.0L1291.6 487.8L1290.5 488.7L1289.5 485.1L1288.4 488.8L1287.3 485.5L1286.2 486.8L1285.2 500.4L1284.1 503.1L1283.0 488.9L1282.0 487.1L1280.9 490.9L1279.8 484.1L1278.7 491.1L1277.7 487.0L1276.6 482.7L1275.5 486.1L1274.4 484.4L1273.4 490.1L1272.3 484.5L1271.2 485.8L1270.1 485.6L1269.1 482.4L1268.0 479.0L1266.9 482.1L1265.8 477.8L1264.8 486.0L1263.7 477.1L1262.6 485.0L1261.5 478.8L1260.5 487.6L1259.4 481.7L1258.3 509.5L1257.2 482.8L1256.2 482.4L1255.1 481.4L1254.0 477.8L1253.0 475.6L1251.9 481.7L1250.8 474.3L1249.7 472.5L1248.7 476.9L1247.6 478.2L1246.5 469.7L1245.4 479.5L1244.4 475.3L1243.3 472.7L1242.2 479.2L1241.1 475.5L1240.1 478.9L1239.0 474.7L1237.9 470.4L1236.8 466.8L1235.8 470.0L1234.7 461.8L1233.6 473.0L1232.5 461.1L1231.5 467.3L1230.4 467.4L1229.3 459.9L1228.3 483.1L1227.2 455.2L1226.1 460.1L1225.0 469.0L1224.0 458.5L1222.9 454.5L1221.8 454.0L1220.7 448.9L1219.7 456.1L1218.6 465.8L1217.5 456.3L1216.4 446.4L1215.4 449.2L1214.3 446.1L1213.2 441.2L1212.1 444.6L1211.1 439.7L1210.0 439.3L1208.9 447.2L1207.8 444.0L1206.8 436.7L1205.7 446.5L1204.6 444.8L1203.5 442.2L1202.5 449.2L1201.4 438.3L1200.3 441.2L1199.3 445.4L1198.2 441.0L1197.1 440.2L1196.0 437.6L1195.0 436.1L1193.9 435.7L1192.8 433.9L1191.7 431.4L1190.7 427.6L1189.6 423.2L1188.5 418.2L1187.4 412.5L1186.4 405.8L1185.3 396.2L1184.2 383.1L1183.1 360.8L1182.1 327.4L1181.0 300.0L1178.0 257.0L1177.5 252.9Z" clip-path="url(#cr)"/></clipPath>
<g fill="#1f77b4" fill-opacity="0.1" clip-path="url(#b_cr_blue)"><rect x="1212.0" y="0" width="6.5" height="733"/><rect x="1251.5" y="0" width="6.5" height="733"/><rect x="1291.0" y="0" width="6.5" height="733"/><rect x="1330.4" y="0" width="6.5" height="733"/><rect x="1369.8" y="0" width="6.5" height="733"/><rect x="1409.3" y="0" width="6.5" height="733"/><rect x="1448.8" y="0" width="6.5" height="733"/><rect x="1488.2" y="0" width="6.5" height="733"/><rect x="1527.7" y="0" width="6.5" height="733"/><rect x="1567.1" y="0" width="6.5" height="733"/><rect x="1606.5" y="0" width="6.5" height="733"/><rect x="1646.0" y="0" width="6.5" height="733"/><rect x="1685.5" y="0" width="6.5" height="733"/><rect x="1724.9" y="0" width="6.5" height="733"/><rect x="1764.3" y="0" width="6.5" height="733"/><rect x="1803.8" y="0" width="6.5" height="733"/></g>
<path d="M1176.7 60.6L1177.8 60.6L1178.8 62.6L1179.9 62.4L1181.0 62.0L1182.1 62.8L1183.1 64.0L1184.2 64.1L1185.3 64.2L1186.4 63.9L1187.4 66.2L1188.5 66.0L1189.6 62.7L1190.7 65.9L1191.7 63.2L1192.8 66.9L1193.9 67.5L1195.0 67.1L1196.0 67.7L1197.1 69.0L1198.2 70.1L1199.3 70.4L1200.3 69.6L1201.4 71.5L1202.5 74.1L1203.5 74.3L1204.6 75.2L1205.7 77.7L1206.8 77.2L1207.8 77.8L1208.9 78.9L1210.0 82.8L1211.1 81.8L1212.1 85.1L1213.2 85.1L1214.3 86.1L1215.4 88.1L1216.4 88.6L1217.5 89.1L1218.6 92.3L1219.7 93.6L1220.7 93.4L1221.8 94.5L1222.9 98.8L1224.0 98.1L1225.0 99.9L1226.1 99.4L1227.2 100.4L1228.3 104.3L1229.3 102.3L1230.4 103.1L1231.5 106.3L1232.5 106.5L1233.6 106.8L1234.7 107.7L1235.8 110.2L1236.8 111.1L1237.9 111.8L1239.0 112.3L1240.1 115.4L1241.1 113.3L1242.2 117.2L1243.3 119.9L1244.4 117.8L1245.4 119.7L1246.5 119.1L1247.6 120.6L1248.7 124.7L1249.7 124.0L1250.8 125.7L1251.9 126.5L1253.0 124.7L1254.0 125.9L1255.1 128.1L1256.2 130.5L1257.2 129.2L1258.3 132.7L1259.4 133.1L1260.5 135.7L1261.5 135.0L1262.6 135.8L1263.7 137.1L1264.8 138.3L1265.8 139.2L1266.9 139.9L1268.0 142.6L1269.1 146.0L1270.1 145.4L1271.2 148.0L1272.3 146.4L1273.4 149.2L1274.4 149.7L1275.5 149.2L1276.6 151.7L1277.7 152.7L1278.7 155.2L1279.8 159.9L1280.9 153.5L1282.0 158.3L1283.0 160.8L1284.1 161.7L1285.2 156.6L1286.2 156.9L1287.3 157.3L1288.4 164.4L1289.5 167.5L1290.5 168.4L1291.6 172.3L1292.7 174.8L1293.8 176.3L1294.8 178.0L1295.9 173.0L1297.0 160.6L1298.1 168.6L1299.1 179.0L1300.2 172.3L1301.3 173.1L1302.4 182.5L1303.4 185.6L1304.5 191.6L1305.6 189.9L1306.7 185.2L1307.7 178.5L1308.8 159.3L1309.9 172.0L1311.0 176.6L1312.0 163.9L1313.1 181.8L1314.2 197.1L1315.2 203.2L1316.3 210.0L1317.4 218.0L1318.5 211.8L1319.5 183.6L1320.6 188.3L1321.7 196.5L1322.8 198.5L1323.8 195.2L1324.9 206.6L1326.0 200.0L1327.1 174.9L1328.1 178.2L1329.2 164.3L1330.3 173.6L1331.4 180.0L1332.4 195.7L1333.5 221.5L1334.6 221.3L1335.7 212.3L1336.7 221.8L1337.8 242.3L1338.9 239.9L1339.9 227.5L1341.0 219.5L1342.1 218.1L1343.2 210.9L1344.2 193.8L1345.3 216.5L1346.4 216.2L1347.5 191.6L1348.5 196.2L1349.6 210.8L1350.7 224.7L1351.8 234.3L1352.8 214.6L1353.9 188.1L1355.0 213.6L1356.1 206.4L1357.1 174.8L1358.2 164.7L1359.3 189.5L1360.4 213.7L1361.4 209.0L1362.5 221.7L1363.6 217.7L1364.7 221.4L1365.7 226.7L1366.8 217.3L1367.9 198.2L1368.9 191.6L1370.0 152.0L1371.1 154.8L1372.2 174.5L1373.2 203.1L1374.3 192.0L1375.4 188.7L1376.5 188.7L1377.5 192.1L1378.6 204.4L1379.7 215.1L1380.8 197.7L1381.8 189.2L1382.9 207.8L1384.0 222.4L1385.1 224.6L1386.1 212.7L1387.2 219.0L1388.3 226.9L1389.4 212.7L1390.4 212.9L1391.5 204.0L1392.6 188.6L1393.6 202.6L1394.7 216.3L1395.8 214.3L1396.9 188.1L1397.9 212.3L1399.0 231.4L1400.1 231.5L1401.2 216.6L1402.2 214.7L1403.3 211.4L1404.4 230.0L1405.5 236.3L1406.5 225.7L1407.6 226.3L1408.7 232.8L1409.8 231.2L1410.8 223.2L1411.9 236.6L1413.0 233.0L1414.1 223.3L1415.1 214.7L1416.2 211.9L1417.3 191.8L1418.4 148.8L1419.4 134.1L1420.5 149.1L1421.6 194.7L1422.6 214.6L1423.7 207.8L1424.8 194.8L1425.9 216.6L1426.9 227.3L1428.0 224.9L1429.1 220.7L1430.2 221.6L1431.2 222.4L1432.3 213.1L1433.4 199.5L1434.5 211.0L1435.5 229.1L1436.6 225.0L1437.7 214.1L1438.8 225.7L1439.8 247.9L1440.9 249.9L1442.0 240.7L1443.1 224.7L1444.1 204.0L1445.2 217.9L1446.3 220.1L1447.3 230.5L1448.4 231.0L1449.5 216.5L1450.6 219.4L1451.6 204.1L1452.7 193.1L1453.8 183.9L1454.9 199.4L1455.9 211.5L1457.0 211.9L1458.1 214.0L1459.2 223.2L1460.2 241.0L1461.3 230.5L1462.4 229.8L1463.5 212.5L1464.5 192.9L1465.6 243.7L1466.7 230.7L1467.8 221.7L1468.8 240.4L1469.9 240.3L1471.0 217.8L1472.1 201.2L1473.1 205.5L1474.2 220.8L1475.3 227.3L1476.3 226.4L1477.4 211.1L1478.5 195.0L1479.6 196.1L1480.6 196.5L1481.7 212.4L1482.8 220.4L1483.9 226.1L1484.9 226.6L1486.0 203.6L1487.1 188.7L1488.2 218.9L1489.2 219.3L1490.3 202.4L1491.4 221.9L1492.5 223.9L1493.5 217.9L1494.6 215.5L1495.7 207.0L1496.8 214.2L1497.8 218.5L1498.9 213.6L1500.0 201.7L1501.0 202.0L1502.1 197.7L1503.2 203.0L1504.3 214.5L1505.3 208.0L1506.4 200.4L1507.5 202.7L1508.6 207.9L1509.6 220.2L1510.7 231.3L1511.8 225.4L1512.9 210.2L1513.9 205.6L1515.0 196.6L1516.1 172.4L1517.2 190.4L1518.2 203.5L1519.3 198.4L1520.4 178.9L1521.5 197.8L1522.5 195.9L1523.6 213.5L1524.7 184.9L1525.8 185.7L1526.8 209.0L1527.9 186.0L1529.0 164.4L1530.0 190.2L1531.1 215.5L1532.2 200.0L1533.3 199.7L1534.3 217.5L1535.4 226.2L1536.5 239.1L1537.6 234.4L1538.6 217.7L1539.7 210.2L1540.8 224.5L1541.9 203.1L1542.9 193.1L1544.0 207.0L1545.1 192.9L1546.2 188.4L1547.2 216.3L1548.3 216.6L1549.4 185.0L1550.5 179.2L1551.5 184.1L1552.6 194.5L1553.7 193.2L1554.7 189.3L1555.8 211.6L1556.9 217.0L1558.0 225.3L1559.0 235.0L1560.1 236.1L1561.2 220.2L1562.3 176.0L1563.3 192.6L1564.4 222.6L1565.5 227.7L1566.6 208.1L1567.6 214.0L1568.7 229.7L1569.8 189.9L1570.9 200.0L1571.9 206.9L1573.0 211.9L1574.1 220.1L1575.2 232.9L1576.2 248.7L1577.3 269.0L1578.4 258.5L1579.5 229.4L1580.5 230.7L1581.6 247.8L1582.7 257.4L1583.7 233.7L1584.8 227.4L1585.9 227.2L1587.0 229.9L1588.0 209.9L1589.1 213.4L1590.2 206.8L1591.3 224.1L1592.3 232.0L1593.4 221.9L1594.5 225.0L1595.6 234.3L1596.6 230.6L1597.7 228.1L1598.8 219.5L1599.9 207.4L1600.9 222.5L1602.0 244.6L1603.1 228.8L1604.2 224.8L1605.2 225.5L1606.3 209.8L1607.4 206.7L1608.4 221.8L1609.5 215.2L1610.6 206.1L1611.7 219.0L1612.7 215.8L1613.8 221.6L1614.9 232.6L1616.0 221.0L1617.0 202.7L1618.1 187.0L1619.2 184.7L1620.3 184.3L1621.3 201.8L1622.4 207.6L1623.5 225.6L1624.6 255.5L1625.6 235.9L1626.7 207.5L1627.8 195.2L1628.9 190.6L1629.9 193.4L1631.0 213.7L1632.1 224.1L1633.2 226.2L1634.2 206.5L1635.3 208.1L1636.4 222.1L1637.4 240.8L1638.5 232.9L1639.6 234.5L1640.7 238.1L1641.7 230.1L1642.8 221.3L1643.9 215.0L1645.0 218.5L1646.0 220.6L1647.1 219.8L1648.2 226.3L1649.3 236.3L1650.3 201.3L1651.4 186.6L1652.5 223.0L1653.6 239.1L1654.6 226.8L1655.7 239.6L1656.8 243.3L1657.9 229.4L1658.9 222.6L1660.0 209.4L1661.1 205.4L1662.1 213.2L1663.2 222.7L1664.3 222.8L1665.4 199.8L1666.4 171.7L1667.5 175.6L1668.6 189.2L1669.7 195.7L1670.7 199.5L1671.8 180.3L1672.9 199.0L1674.0 234.2L1675.0 234.9L1676.1 223.8L1677.2 212.1L1678.3 229.6L1679.3 225.2L1680.4 197.2L1681.5 198.9L1682.6 218.0L1683.6 209.8L1684.7 221.6L1685.8 221.1L1686.9 232.6L1687.9 241.1L1689.0 240.0L1690.1 196.8L1691.1 190.4L1692.2 221.0L1693.3 241.5L1694.4 225.0L1695.4 209.5L1696.5 225.1L1697.6 228.7L1698.7 230.8L1699.7 217.1L1700.8 228.5L1701.9 229.2L1703.0 200.7L1704.0 191.7L1705.1 189.7L1706.2 185.4L1707.3 186.3L1708.3 208.7L1709.4 206.1L1710.5 216.5L1711.6 226.9L1712.6 229.5L1713.7 223.4L1714.8 182.5L1715.8 176.1L1716.9 214.1L1718.0 229.1L1719.1 236.6L1720.1 223.0L1721.2 209.8L1722.3 199.0L1723.4 222.4L1724.4 236.8L1725.5 222.8L1726.6 228.8L1727.7 238.8L1728.7 238.3L1729.8 230.6L1730.9 205.5L1732.0 138.1L1733.0 146.3L1734.1 183.4L1735.2 187.1L1736.3 213.7L1737.3 204.2L1738.4 196.7L1739.5 220.9L1740.6 209.0L1741.6 206.9L1742.7 222.1L1743.8 213.8L1744.8 192.3L1745.9 186.0L1747.0 193.4L1748.1 224.7L1749.1 220.3L1750.2 190.8L1751.3 173.4L1752.4 182.9L1753.4 192.4L1754.5 210.6L1755.6 216.8L1756.7 210.9L1757.7 200.0L1758.8 202.7L1759.9 193.6L1761.0 180.6L1762.0 214.6L1763.1 232.0L1764.2 217.4L1765.3 213.5L1766.3 211.0L1767.4 217.6L1768.5 225.7L1769.5 246.0L1770.6 233.7L1771.7 219.9L1772.8 221.8L1773.8 226.0L1774.9 231.5L1776.0 210.5L1777.1 202.9L1778.1 213.4L1779.2 192.2L1780.3 155.3L1781.4 126.2L1782.4 138.8L1783.5 163.5L1784.6 194.8L1785.7 197.6L1786.7 212.7L1787.8 214.4L1788.9 213.5L1790.0 234.9L1791.0 238.9L1792.1 218.6L1793.2 201.7L1794.2 189.2L1795.3 218.5L1796.4 224.5L1797.5 229.8L1798.5 217.8L1799.6 222.3L1800.7 224.9L1801.8 219.0L1802.8 204.0L1803.9 197.3L1805.0 193.3L1806.1 202.1L1807.1 194.1L1808.2 190.6L1809.3 177.7L1810.4 177.7" fill="none" stroke="#ff7f0e" stroke-width="8.5" stroke-linejoin="round" stroke-linecap="square" clip-path="url(#cr)"/>
<g opacity="0.1" clip-path="url(#cr)"><path d="M1176.7 56.3L1177.8 56.0L1178.8 55.8L1179.9 55.6L1181.0 55.4L1182.1 55.3L1183.1 55.2L1184.2 55.1L1185.3 55.1L1186.4 55.0L1187.4 55.0L1188.5 55.0L1189.6 55.0L1190.7 55.0L1191.7 55.0L1192.8 55.2L1193.9 55.5L1195.0 55.9L1196.0 56.3L1197.1 56.9L1198.2 57.5L1199.3 58.2L1200.3 58.9L1201.4 59.6L1202.5 60.4L1203.5 61.3L1204.6 62.1L1205.7 62.9L1206.8 63.7L1207.8 64.5L1208.9 65.3L1210.0 66.0L1211.1 66.7L1212.1 67.4L1213.2 68.1L1214.3 68.9L1215.4 69.7L1216.4 70.4L1217.5 71.5L1218.6 72.7L1219.7 73.3L1220.7 74.6L1221.8 75.2L1222.9 76.0L1224.0 73.3L1225.0 75.6L1226.1 79.3L1227.2 80.4L1228.3 76.8L1229.3 80.6L1230.4 81.6L1231.5 81.0L1232.5 81.4L1233.6 86.0L1234.7 78.6L1235.8 87.0L1236.8 85.7L1237.9 91.7L1239.0 86.0L1240.1 92.3L1241.1 95.1L1242.2 90.1L1243.3 79.7L1244.4 90.0L1245.4 91.9L1246.5 96.1L1247.6 96.1L1248.7 103.1L1249.7 97.4L1250.8 100.7L1251.9 102.2L1253.0 101.2L1254.0 103.1L1255.1 105.3L1256.2 96.6L1257.2 97.6L1258.3 114.9L1259.4 115.5L1260.5 103.3L1261.5 110.9L1262.6 116.9L1263.7 118.7L1264.8 107.6L1265.8 101.5L1266.9 124.0L1268.0 41.6L1269.1 124.3L1270.1 106.1L1271.2 129.8L1272.3 120.6L1273.4 129.7L1274.4 124.5L1275.5 119.3L1276.6 118.2L1277.7 130.1L1278.7 134.2L1279.8 113.5L1280.9 113.4L1282.0 138.3L1283.0 58.1L1284.1 141.2L1285.2 141.4L1286.2 135.1L1287.3 143.2L1288.4 137.5L1289.5 148.0L1290.5 120.4L1291.6 132.5L1292.7 132.5L1293.8 146.3L1294.8 147.1L1295.9 122.5L1297.0 134.5L1298.1 139.8L1299.1 153.0L1300.2 155.6L1301.3 153.2L1302.4 148.2L1303.4 154.1L1304.5 120.7L1305.6 161.9L1306.7 139.2L1307.7 162.9L1308.8 149.2L1309.9 163.1L1311.0 153.6L1312.0 144.9L1313.1 162.1L1314.2 143.3L1315.2 147.3L1316.3 156.1L1317.4 158.8L1318.5 166.8L1319.5 162.7L1320.6 143.4L1321.7 151.6L1322.8 171.7L1323.8 153.7L1324.9 166.0L1326.0 167.0L1327.1 170.5L1328.1 167.6L1329.2 168.3L1330.3 164.0L1331.4 170.5L1332.4 169.2L1333.5 175.7L1334.6 164.1L1335.7 168.2L1336.7 160.4L1337.8 164.9L1338.9 142.6L1339.9 169.9L1341.0 165.4L1342.1 168.1L1343.2 177.7L1344.2 165.9L1345.3 180.7L1346.4 166.5L1347.5 180.2L1348.5 173.3L1349.6 161.9L1350.7 150.9L1351.8 159.4L1352.8 179.8L1353.9 182.3L1355.0 180.5L1356.1 181.8L1357.1 183.1L1358.2 183.0L1359.3 172.0L1360.4 162.0L1361.4 127.2L1362.5 180.1L1363.6 172.2L1364.7 180.9L1365.7 175.1L1366.8 170.0L1367.9 176.2L1368.9 169.3L1370.0 175.8L1371.1 183.6L1372.2 121.2L1373.2 167.0L1374.3 166.7L1375.4 174.8L1376.5 163.2L1377.5 161.9L1378.6 158.3L1379.7 181.2L1380.8 182.3L1381.8 183.6L1382.9 145.6L1384.0 186.3L1385.1 183.3L1386.1 127.8L1387.2 164.5L1388.3 182.3L1389.4 170.9L1390.4 168.3L1391.5 180.3L1392.6 179.3L1393.6 156.6L1394.7 179.0L1395.8 154.1L1396.9 184.3L1397.9 173.6L1399.0 169.3L1400.1 185.9L1401.2 155.6L1402.2 176.5L1403.3 170.2L1404.4 163.6L1405.5 186.8L1406.5 181.3L1407.6 176.7L1408.7 165.4L1409.8 178.4L1410.8 168.7L1411.9 180.2L1413.0 185.1L1414.1 146.0L1415.1 173.2L1416.2 159.2L1417.3 182.1L1418.4 177.3L1419.4 162.5L1420.5 172.7L1421.6 185.1L1422.6 174.4L1423.7 168.2L1424.8 165.4L1425.9 174.4L1426.9 176.8L1428.0 182.9L1429.1 178.9L1430.2 166.4L1431.2 154.8L1432.3 177.2L1433.4 179.5L1434.5 177.0L1435.5 179.4L1436.6 180.9L1437.7 183.9L1438.8 150.6L1439.8 170.5L1440.9 180.2L1442.0 144.6L1443.1 175.0L1444.1 167.7L1445.2 174.0L1446.3 164.2L1447.3 176.2L1448.4 179.2L1449.5 160.1L1450.6 161.3L1451.6 174.1L1452.7 180.4L1453.8 182.0L1454.9 179.6L1455.9 150.4L1457.0 148.1L1458.1 178.9L1459.2 170.8L1460.2 166.9L1461.3 166.5L1462.4 181.8L1463.5 168.8L1464.5 161.5L1465.6 162.0L1466.7 172.9L1467.8 161.0L1468.8 161.7L1469.9 173.0L1471.0 177.2L1472.1 158.8L1473.1 167.0L1474.2 173.6L1475.3 180.2L1476.3 175.1L1477.4 179.9L1478.5 158.5L1479.6 174.7L1480.6 157.3L1481.7 180.6L1482.8 157.5L1483.9 156.8L1484.9 179.7L1486.0 161.1L1487.1 172.0L1488.2 179.7L1489.2 178.9L1490.3 178.8L1491.4 172.1L1492.5 153.9L1493.5 177.3L1494.6 148.5L1495.7 172.3L1496.8 159.5L1497.8 169.1L1498.9 175.6L1500.0 155.5L1501.0 157.8L1502.1 171.4L1503.2 176.0L1504.3 178.0L1505.3 175.8L1506.4 178.2L1507.5 173.9L1508.6 157.9L1509.6 169.1L1510.7 154.9L1511.8 176.7L1512.9 178.2L1513.9 155.9L1515.0 155.4L1516.1 162.9L1517.2 169.9L1518.2 140.1L1519.3 174.1L1520.4 163.1L1521.5 175.4L1522.5 153.7L1523.6 150.6L1524.7 173.6L1525.8 152.5L1526.8 166.6L1527.9 169.2L1529.0 168.0L1530.0 172.7L1531.1 150.0L1532.2 165.8L1533.3 166.1L1534.3 176.4L1535.4 175.3L1536.5 158.5L1537.6 176.4L1538.6 161.1L1539.7 154.3L1540.8 177.1L1541.9 143.2L1542.9 177.1L1544.0 168.7L1545.1 163.4L1546.2 164.6L1547.2 172.8L1548.3 160.2L1549.4 146.9L1550.5 147.3L1551.5 173.0L1552.6 175.5L1553.7 163.0L1554.7 173.1L1555.8 167.0L1556.9 168.8L1558.0 172.9L1559.0 175.0L1560.1 173.0L1561.2 161.5L1562.3 164.0L1563.3 175.9L1564.4 171.4L1565.5 175.0L1566.6 175.8L1567.6 146.1L1568.7 174.3L1569.8 174.2L1570.9 168.4L1571.9 153.2L1573.0 174.5L1574.1 174.3L1575.2 165.6L1576.2 146.5L1577.3 148.8L1578.4 157.6L1579.5 171.0L1580.5 174.3L1581.6 171.2L1582.7 164.8L1583.7 163.7L1584.8 175.4L1585.9 166.0L1587.0 169.2L1588.0 167.1L1589.1 161.8L1590.2 155.2L1591.3 160.7L1592.3 159.6L1593.4 171.8L1594.5 172.8L1595.6 163.4L1596.6 161.5L1597.7 175.1L1598.8 170.2L1599.9 166.1L1600.9 160.4L1602.0 145.9L1603.1 173.5L1604.2 170.4L1605.2 166.9L1606.3 153.4L1607.4 157.0L1608.4 149.1L1609.5 169.7L1610.6 158.0L1611.7 172.9L1612.7 174.1L1613.8 172.6L1614.9 168.7L1616.0 174.6L1617.0 168.0L1618.1 164.7L1619.2 155.8L1620.3 152.9L1621.3 169.5L1622.4 174.3L1623.5 172.6L1624.6 166.9L1625.6 142.0L1626.7 165.6L1627.8 157.1L1628.9 163.7L1629.9 158.3L1631.0 166.8L1632.1 148.5L1633.2 167.8L1634.2 153.3L1635.3 168.9L1636.4 142.2L1637.4 165.3L1638.5 168.9L1639.6 155.5L1640.7 162.3L1641.7 164.7L1642.8 159.7L1643.9 160.8L1645.0 170.3L1646.0 142.7L1647.1 166.4L1648.2 159.7L1649.3 159.2L1650.3 159.4L1651.4 156.5L1652.5 161.3L1653.6 154.5L1654.6 168.2L1655.7 170.8L1656.8 156.6L1657.9 162.3L1658.9 173.5L1660.0 153.4L1661.1 168.5L1662.1 155.1L1663.2 165.3L1664.3 161.5L1665.4 168.2L1666.4 166.4L1667.5 156.2L1668.6 167.0L1669.7 130.8L1670.7 171.3L1671.8 166.4L1672.9 168.4L1674.0 168.8L1675.0 172.0L1676.1 155.3L1677.2 172.4L1678.3 170.5L1679.3 169.0L1680.4 169.7L1681.5 158.4L1682.6 172.7L1683.6 158.5L1684.7 170.5L1685.8 161.7L1686.9 153.6L1687.9 150.2L1689.0 156.9L1690.1 162.4L1691.1 171.1L1692.2 171.0L1693.3 155.1L1694.4 162.0L1695.4 166.7L1696.5 172.2L1697.6 146.4L1698.7 149.9L1699.7 163.2L1700.8 164.7L1701.9 168.6L1703.0 155.6L1704.0 162.6L1705.1 157.8L1706.2 153.6L1707.3 170.6L1708.3 156.0L1709.4 162.3L1710.5 168.6L1711.6 168.7L1712.6 168.7L1713.7 172.5L1714.8 170.1L1715.8 120.1L1716.9 139.1L1718.0 168.7L1719.1 162.0L1720.1 161.5L1721.2 162.7L1722.3 164.1L1723.4 166.0L1724.4 158.8L1725.5 168.4L1726.6 148.4L1727.7 159.7L1728.7 169.2L1729.8 163.4L1730.9 156.2L1732.0 161.8L1733.0 167.7L1734.1 126.9L1735.2 159.4L1736.3 156.8L1737.3 164.9L1738.4 162.2L1739.5 118.5L1740.6 163.7L1741.6 157.2L1742.7 142.9L1743.8 169.5L1744.8 170.8L1745.9 152.4L1747.0 147.6L1748.1 167.2L1749.1 141.2L1750.2 160.4L1751.3 164.3L1752.4 159.6L1753.4 166.6L1754.5 170.5L1755.6 163.4L1756.7 164.4L1757.7 153.9L1758.8 168.7L1759.9 157.4L1761.0 167.3L1762.0 149.1L1763.1 167.6L1764.2 155.8L1765.3 162.2L1766.3 168.7L1767.4 151.3L1768.5 155.7L1769.5 161.8L1770.6 151.5L1771.7 160.4L1772.8 159.7L1773.8 145.2L1774.9 158.0L1776.0 148.7L1777.1 146.0L1778.1 168.4L1779.2 159.2L1780.3 163.6L1781.4 158.7L1782.4 166.3L1783.5 139.7L1784.6 167.3L1785.7 168.0L1786.7 169.0L1787.8 150.3L1788.9 143.3L1790.0 158.4L1791.0 163.1L1792.1 166.2L1793.2 162.2L1794.2 155.6L1795.3 148.1L1796.4 145.1L1797.5 165.4L1798.5 157.2L1799.6 162.6L1800.7 158.2L1801.8 163.9L1802.8 144.9L1803.9 154.6L1805.0 159.8L1806.1 77.1L1807.1 149.8L1808.2 155.7L1809.3 161.9L1810.4 147.9L1810.4 298.1L1809.3 303.2L1808.2 295.7L1807.1 305.1L1806.1 298.3L1805.0 294.9L1803.9 293.5L1802.8 291.7L1801.8 300.0L1800.7 298.9L1799.6 293.4L1798.5 293.3L1797.5 298.5L1796.4 300.9L1795.3 294.8L1794.2 295.1L1793.2 297.3L1792.1 293.4L1791.0 293.5L1790.0 299.2L1788.9 296.8L1787.8 297.6L1786.7 304.1L1785.7 294.4L1784.6 302.1L1783.5 294.9L1782.4 293.6L1781.4 297.8L1780.3 310.1L1779.2 298.9L1778.1 296.3L1777.1 292.9L1776.0 295.9L1774.9 293.0L1773.8 295.7L1772.8 293.2L1771.7 304.8L1770.6 293.4L1769.5 295.1L1768.5 296.2L1767.4 293.0L1766.3 291.8L1765.3 297.4L1764.2 297.4L1763.1 293.6L1762.0 293.5L1761.0 301.3L1759.9 299.7L1758.8 298.2L1757.7 293.9L1756.7 296.1L1755.6 293.4L1754.5 295.0L1753.4 295.1L1752.4 298.0L1751.3 294.1L1750.2 304.7L1749.1 293.7L1748.1 297.8L1747.0 302.1L1745.9 295.0L1744.8 300.7L1743.8 301.7L1742.7 291.9L1741.6 299.2L1740.6 296.1L1739.5 301.9L1738.4 295.0L1737.3 297.1L1736.3 301.9L1735.2 295.6L1734.1 304.7L1733.0 320.3L1732.0 295.8L1730.9 293.6L1729.8 295.9L1728.7 296.3L1727.7 296.6L1726.6 298.0L1725.5 293.3L1724.4 298.1L1723.4 303.1L1722.3 292.4L1721.2 307.9L1720.1 297.4L1719.1 293.0L1718.0 302.8L1716.9 298.8L1715.8 292.8L1714.8 302.3L1713.7 299.2L1712.6 293.5L1711.6 301.6L1710.5 299.4L1709.4 297.0L1708.3 295.5L1707.3 293.0L1706.2 293.0L1705.1 292.3L1704.0 292.8L1703.0 296.5L1701.9 305.5L1700.8 301.4L1699.7 307.0L1698.7 294.4L1697.6 294.6L1696.5 317.2L1695.4 310.8L1694.4 305.5L1693.3 292.2L1692.2 298.0L1691.1 294.7L1690.1 292.6L1689.0 294.6L1687.9 301.8L1686.9 295.1L1685.8 294.6L1684.7 291.8L1683.6 299.3L1682.6 295.3L1681.5 296.4L1680.4 304.5L1679.3 294.9L1678.3 295.0L1677.2 292.4L1676.1 291.8L1675.0 302.4L1674.0 296.7L1672.9 302.1L1671.8 299.6L1670.7 295.2L1669.7 298.7L1668.6 295.8L1667.5 303.7L1666.4 297.1L1665.4 304.2L1664.3 294.5L1663.2 302.8L1662.1 306.3L1661.1 291.7L1660.0 295.6L1658.9 295.7L1657.9 307.4L1656.8 298.1L1655.7 295.9L1654.6 297.3L1653.6 298.4L1652.5 299.0L1651.4 298.7L1650.3 302.8L1649.3 301.0L1648.2 293.1L1647.1 295.8L1646.0 295.8L1645.0 297.0L1643.9 299.3L1642.8 294.4L1641.7 295.1L1640.7 301.8L1639.6 297.3L1638.5 294.2L1637.4 292.1L1636.4 292.0L1635.3 299.2L1634.2 294.2L1633.2 291.8L1632.1 299.3L1631.0 293.8L1629.9 293.9L1628.9 302.0L1627.8 298.8L1626.7 292.8L1625.6 296.1L1624.6 295.7L1623.5 294.6L1622.4 301.2L1621.3 291.6L1620.3 292.4L1619.2 295.8L1618.1 296.1L1617.0 292.1L1616.0 292.1L1614.9 303.7L1613.8 291.7L1612.7 297.1L1611.7 293.5L1610.6 313.4L1609.5 295.6L1608.4 291.7L1607.4 292.2L1606.3 293.3L1605.2 295.2L1604.2 294.9L1603.1 296.8L1602.0 292.3L1600.9 304.6L1599.9 301.2L1598.8 296.3L1597.7 298.5L1596.6 303.5L1595.6 293.3L1594.5 293.9L1593.4 295.2L1592.3 297.0L1591.3 311.0L1590.2 297.5L1589.1 299.8L1588.0 295.1L1587.0 295.5L1585.9 294.7L1584.8 296.9L1583.7 292.8L1582.7 296.8L1581.6 291.6L1580.5 299.3L1579.5 294.9L1578.4 293.6L1577.3 292.2L1576.2 304.5L1575.2 293.8L1574.1 293.9L1573.0 305.9L1571.9 304.3L1570.9 300.3L1569.8 291.8L1568.7 302.2L1567.6 298.2L1566.6 298.0L1565.5 294.3L1564.4 293.8L1563.3 303.5L1562.3 300.6L1561.2 293.7L1560.1 298.0L1559.0 295.6L1558.0 298.7L1556.9 292.7L1555.8 300.0L1554.7 303.7L1553.7 296.1L1552.6 295.7L1551.5 294.3L1550.5 298.6L1549.4 295.8L1548.3 294.0L1547.2 299.1L1546.2 303.5L1545.1 301.8L1544.0 296.6L1542.9 295.5L1541.9 293.5L1540.8 292.8L1539.7 292.6L1538.6 290.8L1537.6 293.4L1536.5 298.8L1535.4 302.7L1534.3 298.7L1533.3 290.9L1532.2 296.0L1531.1 291.9L1530.0 296.4L1529.0 304.7L1527.9 291.4L1526.8 297.6L1525.8 293.4L1524.7 295.0L1523.6 294.0L1522.5 298.5L1521.5 297.7L1520.4 297.0L1519.3 294.1L1518.2 294.7L1517.2 293.9L1516.1 296.5L1515.0 302.9L1513.9 293.8L1512.9 293.9L1511.8 300.3L1510.7 294.8L1509.6 292.4L1508.6 297.1L1507.5 290.0L1506.4 294.2L1505.3 290.7L1504.3 290.2L1503.2 289.6L1502.1 297.2L1501.0 295.0L1500.0 298.2L1498.9 291.6L1497.8 292.4L1496.8 293.5L1495.7 294.1L1494.6 290.0L1493.5 295.9L1492.5 292.3L1491.4 290.5L1490.3 290.9L1489.2 290.1L1488.2 295.0L1487.1 296.2L1486.0 292.3L1484.9 300.2L1483.9 292.4L1482.8 290.7L1481.7 291.5L1480.6 297.4L1479.6 291.7L1478.5 296.2L1477.4 289.4L1476.3 289.0L1475.3 293.0L1474.2 292.9L1473.1 308.7L1472.1 292.4L1471.0 295.1L1469.9 296.8L1468.8 303.5L1467.8 289.0L1466.7 289.9L1465.6 292.2L1464.5 290.4L1463.5 295.7L1462.4 292.6L1461.3 292.3L1460.2 293.8L1459.2 290.5L1458.1 290.6L1457.0 292.5L1455.9 288.2L1454.9 292.6L1453.8 291.7L1452.7 286.9L1451.6 287.0L1450.6 293.9L1449.5 292.0L1448.4 289.1L1447.3 294.8L1446.3 285.3L1445.2 285.1L1444.1 301.8L1443.1 292.7L1442.0 293.4L1440.9 290.0L1439.8 292.3L1438.8 286.5L1437.7 285.4L1436.6 290.4L1435.5 283.8L1434.5 288.0L1433.4 284.5L1432.3 283.0L1431.2 284.7L1430.2 286.5L1429.1 283.8L1428.0 288.9L1426.9 285.2L1425.9 289.8L1424.8 289.6L1423.7 289.6L1422.6 283.2L1421.6 287.9L1420.5 302.7L1419.4 281.6L1418.4 284.7L1417.3 284.2L1416.2 291.1L1415.1 287.3L1414.1 293.1L1413.0 280.7L1411.9 281.2L1410.8 286.5L1409.8 284.4L1408.7 286.5L1407.6 280.0L1406.5 279.2L1405.5 286.0L1404.4 282.0L1403.3 279.0L1402.2 277.8L1401.2 282.1L1400.1 285.1L1399.0 281.9L1397.9 273.0L1396.9 285.6L1395.8 276.7L1394.7 275.4L1393.6 280.7L1392.6 275.1L1391.5 275.6L1390.4 276.4L1389.4 275.7L1388.3 280.9L1387.2 275.5L1386.1 268.8L1385.1 271.6L1384.0 275.4L1382.9 276.4L1381.8 268.5L1380.8 268.5L1379.7 266.8L1378.6 273.4L1377.5 278.1L1376.5 272.5L1375.4 269.8L1374.3 265.4L1373.2 272.0L1372.2 272.1L1371.1 279.4L1370.0 272.1L1368.9 270.2L1367.9 266.6L1366.8 260.5L1365.7 262.5L1364.7 259.1L1363.6 259.6L1362.5 271.8L1361.4 259.8L1360.4 268.8L1359.3 274.9L1358.2 263.3L1357.1 278.6L1356.1 255.3L1355.0 259.0L1353.9 267.8L1352.8 257.4L1351.8 255.1L1350.7 254.3L1349.6 254.3L1348.5 259.7L1347.5 250.8L1346.4 251.5L1345.3 264.6L1344.2 261.7L1343.2 266.1L1342.1 255.4L1341.0 251.7L1339.9 251.8L1338.9 245.9L1337.8 252.2L1336.7 245.7L1335.7 244.6L1334.6 243.2L1333.5 249.8L1332.4 250.9L1331.4 258.5L1330.3 252.1L1329.2 253.2L1328.1 243.0L1327.1 249.9L1326.0 246.4L1324.9 238.3L1323.8 237.6L1322.8 239.7L1321.7 240.1L1320.6 240.3L1319.5 245.5L1318.5 237.2L1317.4 235.1L1316.3 234.1L1315.2 242.4L1314.2 232.2L1313.1 233.6L1312.0 230.5L1311.0 236.5L1309.9 231.7L1308.8 227.5L1307.7 233.2L1306.7 224.4L1305.6 257.8L1304.5 229.1L1303.4 231.1L1302.4 220.8L1301.3 218.5L1300.2 225.0L1299.1 221.4L1298.1 217.4L1297.0 221.8L1295.9 215.0L1294.8 222.6L1293.8 210.0L1292.7 209.6L1291.6 206.8L1290.5 209.1L1289.5 209.9L1288.4 208.0L1287.3 224.8L1286.2 203.5L1285.2 197.6L1284.1 199.1L1283.0 200.1L1282.0 200.6L1280.9 192.1L1279.8 214.8L1278.7 196.2L1277.7 189.7L1276.6 184.9L1275.5 189.8L1274.4 183.2L1273.4 182.9L1272.3 182.6L1271.2 181.8L1270.1 181.7L1269.1 180.9L1268.0 182.7L1266.9 179.0L1265.8 200.6L1264.8 175.5L1263.7 184.7L1262.6 177.3L1261.5 174.9L1260.5 171.2L1259.4 182.9L1258.3 177.8L1257.2 164.8L1256.2 163.1L1255.1 175.4L1254.0 169.2L1253.0 163.4L1251.9 158.1L1250.8 157.0L1249.7 158.5L1248.7 153.6L1247.6 153.3L1246.5 154.1L1245.4 154.4L1244.4 149.4L1243.3 147.6L1242.2 148.7L1241.1 152.6L1240.1 149.5L1239.0 146.6L1237.9 142.1L1236.8 141.0L1235.8 139.8L1234.7 139.4L1233.6 139.9L1232.5 137.5L1231.5 135.3L1230.4 135.6L1229.3 133.3L1228.3 132.5L1227.2 129.1L1226.1 129.4L1225.0 128.1L1224.0 125.9L1222.9 125.7L1221.8 123.7L1220.7 122.6L1219.7 120.9L1218.6 119.6L1217.5 117.8L1216.4 117.2L1215.4 115.3L1214.3 113.9L1213.2 112.4L1212.1 110.9L1211.1 109.5L1210.0 108.0L1208.9 106.5L1207.8 105.0L1206.8 103.4L1205.7 101.8L1204.6 100.1L1203.5 98.5L1202.5 96.9L1201.4 95.3L1200.3 93.7L1199.3 92.1L1198.2 90.6L1197.1 89.1L1196.0 87.7L1195.0 86.4L1193.9 85.1L1192.8 83.9L1191.7 82.9L1190.7 81.9L1189.6 81.0L1188.5 80.1L1187.4 79.2L1186.4 78.3L1185.3 77.5L1184.2 76.6L1183.1 75.8L1182.1 75.1L1181.0 74.4L1179.9 73.7L1178.8 73.0L1177.8 72.4L1176.7 71.9Z" fill="#ff7f0e" stroke="#ff7f0e" stroke-width="8.3" stroke-linejoin="round"/></g>
<clipPath id="b_cr_orange"><path d="M1176.7 56.3L1177.8 56.0L1178.8 55.8L1179.9 55.6L1181.0 55.4L1182.1 55.3L1183.1 55.2L1184.2 55.1L1185.3 55.1L1186.4 55.0L1187.4 55.0L1188.5 55.0L1189.6 55.0L1190.7 55.0L1191.7 55.0L1192.8 55.2L1193.9 55.5L1195.0 55.9L1196.0 56.3L1197.1 56.9L1198.2 57.5L1199.3 58.2L1200.3 58.9L1201.4 59.6L1202.5 60.4L1203.5 61.3L1204.6 62.1L1205.7 62.9L1206.8 63.7L1207.8 64.5L1208.9 65.3L1210.0 66.0L1211.1 66.7L1212.1 67.4L1213.2 68.1L1214.3 68.9L1215.4 69.7L1216.4 70.4L1217.5 71.5L1218.6 72.7L1219.7 73.3L1220.7 74.6L1221.8 75.2L1222.9 76.0L1224.0 73.3L1225.0 75.6L1226.1 79.3L1227.2 80.4L1228.3 76.8L1229.3 80.6L1230.4 81.6L1231.5 81.0L1232.5 81.4L1233.6 86.0L1234.7 78.6L1235.8 87.0L1236.8 85.7L1237.9 91.7L1239.0 86.0L1240.1 92.3L1241.1 95.1L1242.2 90.1L1243.3 79.7L1244.4 90.0L1245.4 91.9L1246.5 96.1L1247.6 96.1L1248.7 103.1L1249.7 97.4L1250.8 100.7L1251.9 102.2L1253.0 101.2L1254.0 103.1L1255.1 105.3L1256.2 96.6L1257.2 97.6L1258.3 114.9L1259.4 115.5L1260.5 103.3L1261.5 110.9L1262.6 116.9L1263.7 118.7L1264.8 107.6L1265.8 101.5L1266.9 124.0L1268.0 41.6L1269.1 124.3L1270.1 106.1L1271.2 129.8L1272.3 120.6L1273.4 129.7L1274.4 124.5L1275.5 119.3L1276.6 118.2L1277.7 130.1L1278.7 134.2L1279.8 113.5L1280.9 113.4L1282.0 138.3L1283.0 58.1L1284.1 141.2L1285.2 141.4L1286.2 135.1L1287.3 143.2L1288.4 137.5L1289.5 148.0L1290.5 120.4L1291.6 132.5L1292.7 132.5L1293.8 146.3L1294.8 147.1L1295.9 122.5L1297.0 134.5L1298.1 139.8L1299.1 153.0L1300.2 155.6L1301.3 153.2L1302.4 148.2L1303.4 154.1L1304.5 120.7L1305.6 161.9L1306.7 139.2L1307.7 162.9L1308.8 149.2L1309.9 163.1L1311.0 153.6L1312.0 144.9L1313.1 162.1L1314.2 143.3L1315.2 147.3L1316.3 156.1L1317.4 158.8L1318.5 166.8L1319.5 162.7L1320.6 143.4L1321.7 151.6L1322.8 171.7L1323.8 153.7L1324.9 166.0L1326.0 167.0L1327.1 170.5L1328.1 167.6L1329.2 168.3L1330.3 164.0L1331.4 170.5L1332.4 169.2L1333.5 175.7L1334.6 164.1L1335.7 168.2L1336.7 160.4L1337.8 164.9L1338.9 142.6L1339.9 169.9L1341.0 165.4L1342.1 168.1L1343.2 177.7L1344.2 165.9L1345.3 180.7L1346.4 166.5L1347.5 180.2L1348.5 173.3L1349.6 161.9L1350.7 150.9L1351.8 159.4L1352.8 179.8L1353.9 182.3L1355.0 180.5L1356.1 181.8L1357.1 183.1L1358.2 183.0L1359.3 172.0L1360.4 162.0L1361.4 127.2L1362.5 180.1L1363.6 172.2L1364.7 180.9L1365.7 175.1L1366.8 170.0L1367.9 176.2L1368.9 169.3L1370.0 175.8L1371.1 183.6L1372.2 121.2L1373.2 167.0L1374.3 166.7L1375.4 174.8L1376.5 163.2L1377.5 161.9L1378.6 158.3L1379.7 181.2L1380.8 182.3L1381.8 183.6L1382.9 145.6L1384.0 186.3L1385.1 183.3L1386.1 127.8L1387.2 164.5L1388.3 182.3L1389.4 170.9L1390.4 168.3L1391.5 180.3L1392.6 179.3L1393.6 156.6L1394.7 179.0L1395.8 154.1L1396.9 184.3L1397.9 173.6L1399.0 169.3L1400.1 185.9L1401.2 155.6L1402.2 176.5L1403.3 170.2L1404.4 163.6L1405.5 186.8L1406.5 181.3L1407.6 176.7L1408.7 165.4L1409.8 178.4L1410.8 168.7L1411.9 180.2L1413.0 185.1L1414.1 146.0L1415.1 173.2L1416.2 159.2L1417.3 182.1L1418.4 177.3L1419.4 162.5L1420.5 172.7L1421.6 185.1L1422.6 174.4L1423.7 168.2L1424.8 165.4L1425.9 174.4L1426.9 176.8L1428.0 182.9L1429.1 178.9L1430.2 166.4L1431.2 154.8L1432.3 177.2L1433.4 179.5L1434.5 177.0L1435.5 179.4L1436.6 180.9L1437.7 183.9L1438.8 150.6L1439.8 170.5L1440.9 180.2L1442.0 144.6L1443.1 175.0L1444.1 167.7L1445.2 174.0L1446.3 164.2L1447.3 176.2L1448.4 179.2L1449.5 160.1L1450.6 161.3L1451.6 174.1L1452.7 180.4L1453.8 182.0L1454.9 179.6L1455.9 150.4L1457.0 148.1L1458.1 178.9L1459.2 170.8L1460.2 166.9L1461.3 166.5L1462.4 181.8L1463.5 168.8L1464.5 161.5L1465.6 162.0L1466.7 172.9L1467.8 161.0L1468.8 161.7L1469.9 173.0L1471.0 177.2L1472.1 158.8L1473.1 167.0L1474.2 173.6L1475.3 180.2L1476.3 175.1L1477.4 179.9L1478.5 158.5L1479.6 174.7L1480.6 157.3L1481.7 180.6L1482.8 157.5L1483.9 156.8L1484.9 179.7L1486.0 161.1L1487.1 172.0L1488.2 179.7L1489.2 178.9L1490.3 178.8L1491.4 172.1L1492.5 153.9L1493.5 177.3L1494.6 148.5L1495.7 172.3L1496.8 159.5L1497.8 169.1L1498.9 175.6L1500.0 155.5L1501.0 157.8L1502.1 171.4L1503.2 176.0L1504.3 178.0L1505.3 175.8L1506.4 178.2L1507.5 173.9L1508.6 157.9L1509.6 169.1L1510.7 154.9L1511.8 176.7L1512.9 178.2L1513.9 155.9L1515.0 155.4L1516.1 162.9L1517.2 169.9L1518.2 140.1L1519.3 174.1L1520.4 163.1L1521.5 175.4L1522.5 153.7L1523.6 150.6L1524.7 173.6L1525.8 152.5L1526.8 166.6L1527.9 169.2L1529.0 168.0L1530.0 172.7L1531.1 150.0L1532.2 165.8L1533.3 166.1L1534.3 176.4L1535.4 175.3L1536.5 158.5L1537.6 176.4L1538.6 161.1L1539.7 154.3L1540.8 177.1L1541.9 143.2L1542.9 177.1L1544.0 168.7L1545.1 163.4L1546.2 164.6L1547.2 172.8L1548.3 160.2L1549.4 146.9L1550.5 147.3L1551.5 173.0L1552.6 175.5L1553.7 163.0L1554.7 173.1L1555.8 167.0L1556.9 168.8L1558.0 172.9L1559.0 175.0L1560.1 173.0L1561.2 161.5L1562.3 164.0L1563.3 175.9L1564.4 171.4L1565.5 175.0L1566.6 175.8L1567.6 146.1L1568.7 174.3L1569.8 174.2L1570.9 168.4L1571.9 153.2L1573.0 174.5L1574.1 174.3L1575.2 165.6L1576.2 146.5L1577.3 148.8L1578.4 157.6L1579.5 171.0L1580.5 174.3L1581.6 171.2L1582.7 164.8L1583.7 163.7L1584.8 175.4L1585.9 166.0L1587.0 169.2L1588.0 167.1L1589.1 161.8L1590.2 155.2L1591.3 160.7L1592.3 159.6L1593.4 171.8L1594.5 172.8L1595.6 163.4L1596.6 161.5L1597.7 175.1L1598.8 170.2L1599.9 166.1L1600.9 160.4L1602.0 145.9L1603.1 173.5L1604.2 170.4L1605.2 166.9L1606.3 153.4L1607.4 157.0L1608.4 149.1L1609.5 169.7L1610.6 158.0L1611.7 172.9L1612.7 174.1L1613.8 172.6L1614.9 168.7L1616.0 174.6L1617.0 168.0L1618.1 164.7L1619.2 155.8L1620.3 152.9L1621.3 169.5L1622.4 174.3L1623.5 172.6L1624.6 166.9L1625.6 142.0L1626.7 165.6L1627.8 157.1L1628.9 163.7L1629.9 158.3L1631.0 166.8L1632.1 148.5L1633.2 167.8L1634.2 153.3L1635.3 168.9L1636.4 142.2L1637.4 165.3L1638.5 168.9L1639.6 155.5L1640.7 162.3L1641.7 164.7L1642.8 159.7L1643.9 160.8L1645.0 170.3L1646.0 142.7L1647.1 166.4L1648.2 159.7L1649.3 159.2L1650.3 159.4L1651.4 156.5L1652.5 161.3L1653.6 154.5L1654.6 168.2L1655.7 170.8L1656.8 156.6L1657.9 162.3L1658.9 173.5L1660.0 153.4L1661.1 168.5L1662.1 155.1L1663.2 165.3L1664.3 161.5L1665.4 168.2L1666.4 166.4L1667.5 156.2L1668.6 167.0L1669.7 130.8L1670.7 171.3L1671.8 166.4L1672.9 168.4L1674.0 168.8L1675.0 172.0L1676.1 155.3L1677.2 172.4L1678.3 170.5L1679.3 169.0L1680.4 169.7L1681.5 158.4L1682.6 172.7L1683.6 158.5L1684.7 170.5L1685.8 161.7L1686.9 153.6L1687.9 150.2L1689.0 156.9L1690.1 162.4L1691.1 171.1L1692.2 171.0L1693.3 155.1L1694.4 162.0L1695.4 166.7L1696.5 172.2L1697.6 146.4L1698.7 149.9L1699.7 163.2L1700.8 164.7L1701.9 168.6L1703.0 155.6L1704.0 162.6L1705.1 157.8L1706.2 153.6L1707.3 170.6L1708.3 156.0L1709.4 162.3L1710.5 168.6L1711.6 168.7L1712.6 168.7L1713.7 172.5L1714.8 170.1L1715.8 120.1L1716.9 139.1L1718.0 168.7L1719.1 162.0L1720.1 161.5L1721.2 162.7L1722.3 164.1L1723.4 166.0L1724.4 158.8L1725.5 168.4L1726.6 148.4L1727.7 159.7L1728.7 169.2L1729.8 163.4L1730.9 156.2L1732.0 161.8L1733.0 167.7L1734.1 126.9L1735.2 159.4L1736.3 156.8L1737.3 164.9L1738.4 162.2L1739.5 118.5L1740.6 163.7L1741.6 157.2L1742.7 142.9L1743.8 169.5L1744.8 170.8L1745.9 152.4L1747.0 147.6L1748.1 167.2L1749.1 141.2L1750.2 160.4L1751.3 164.3L1752.4 159.6L1753.4 166.6L1754.5 170.5L1755.6 163.4L1756.7 164.4L1757.7 153.9L1758.8 168.7L1759.9 157.4L1761.0 167.3L1762.0 149.1L1763.1 167.6L1764.2 155.8L1765.3 162.2L1766.3 168.7L1767.4 151.3L1768.5 155.7L1769.5 161.8L1770.6 151.5L1771.7 160.4L1772.8 159.7L1773.8 145.2L1774.9 158.0L1776.0 148.7L1777.1 146.0L1778.1 168.4L1779.2 159.2L1780.3 163.6L1781.4 158.7L1782.4 166.3L1783.5 139.7L1784.6 167.3L1785.7 168.0L1786.7 169.0L1787.8 150.3L1788.9 143.3L1790.0 158.4L1791.0 163.1L1792.1 166.2L1793.2 162.2L1794.2 155.6L1795.3 148.1L1796.4 145.1L1797.5 165.4L1798.5 157.2L1799.6 162.6L1800.7 158.2L1801.8 163.9L1802.8 144.9L1803.9 154.6L1805.0 159.8L1806.1 77.1L1807.1 149.8L1808.2 155.7L1809.3 161.9L1810.4 147.9L1810.4 298.1L1809.3 303.2L1808.2 295.7L1807.1 305.1L1806.1 298.3L1805.0 294.9L1803.9 293.5L1802.8 291.7L1801.8 300.0L1800.7 298.9L1799.6 293.4L1798.5 293.3L1797.5 298.5L1796.4 300.9L1795.3 294.8L1794.2 295.1L1793.2 297.3L1792.1 293.4L1791.0 293.5L1790.0 299.2L1788.9 296.8L1787.8 297.6L1786.7 304.1L1785.7 294.4L1784.6 302.1L1783.5 294.9L1782.4 293.6L1781.4 297.8L1780.3 310.1L1779.2 298.9L1778.1 296.3L1777.1 292.9L1776.0 295.9L1774.9 293.0L1773.8 295.7L1772.8 293.2L1771.7 304.8L1770.6 293.4L1769.5 295.1L1768.5 296.2L1767.4 293.0L1766.3 291.8L1765.3 297.4L1764.2 297.4L1763.1 293.6L1762.0 293.5L1761.0 301.3L1759.9 299.7L1758.8 298.2L1757.7 293.9L1756.7 296.1L1755.6 293.4L1754.5 295.0L1753.4 295.1L1752.4 298.0L1751.3 294.1L1750.2 304.7L1749.1 293.7L1748.1 297.8L1747.0 302.1L1745.9 295.0L1744.8 300.7L1743.8 301.7L1742.7 291.9L1741.6 299.2L1740.6 296.1L1739.5 301.9L1738.4 295.0L1737.3 297.1L1736.3 301.9L1735.2 295.6L1734.1 304.7L1733.0 320.3L1732.0 295.8L1730.9 293.6L1729.8 295.9L1728.7 296.3L1727.7 296.6L1726.6 298.0L1725.5 293.3L1724.4 298.1L1723.4 303.1L1722.3 292.4L1721.2 307.9L1720.1 297.4L1719.1 293.0L1718.0 302.8L1716.9 298.8L1715.8 292.8L1714.8 302.3L1713.7 299.2L1712.6 293.5L1711.6 301.6L1710.5 299.4L1709.4 297.0L1708.3 295.5L1707.3 293.0L1706.2 293.0L1705.1 292.3L1704.0 292.8L1703.0 296.5L1701.9 305.5L1700.8 301.4L1699.7 307.0L1698.7 294.4L1697.6 294.6L1696.5 317.2L1695.4 310.8L1694.4 305.5L1693.3 292.2L1692.2 298.0L1691.1 294.7L1690.1 292.6L1689.0 294.6L1687.9 301.8L1686.9 295.1L1685.8 294.6L1684.7 291.8L1683.6 299.3L1682.6 295.3L1681.5 296.4L1680.4 304.5L1679.3 294.9L1678.3 295.0L1677.2 292.4L1676.1 291.8L1675.0 302.4L1674.0 296.7L1672.9 302.1L1671.8 299.6L1670.7 295.2L1669.7 298.7L1668.6 295.8L1667.5 303.7L1666.4 297.1L1665.4 304.2L1664.3 294.5L1663.2 302.8L1662.1 306.3L1661.1 291.7L1660.0 295.6L1658.9 295.7L1657.9 307.4L1656.8 298.1L1655.7 295.9L1654.6 297.3L1653.6 298.4L1652.5 299.0L1651.4 298.7L1650.3 302.8L1649.3 301.0L1648.2 293.1L1647.1 295.8L1646.0 295.8L1645.0 297.0L1643.9 299.3L1642.8 294.4L1641.7 295.1L1640.7 301.8L1639.6 297.3L1638.5 294.2L1637.4 292.1L1636.4 292.0L1635.3 299.2L1634.2 294.2L1633.2 291.8L1632.1 299.3L1631.0 293.8L1629.9 293.9L1628.9 302.0L1627.8 298.8L1626.7 292.8L1625.6 296.1L1624.6 295.7L1623.5 294.6L1622.4 301.2L1621.3 291.6L1620.3 292.4L1619.2 295.8L1618.1 296.1L1617.0 292.1L1616.0 292.1L1614.9 303.7L1613.8 291.7L1612.7 297.1L1611.7 293.5L1610.6 313.4L1609.5 295.6L1608.4 291.7L1607.4 292.2L1606.3 293.3L1605.2 295.2L1604.2 294.9L1603.1 296.8L1602.0 292.3L1600.9 304.6L1599.9 301.2L1598.8 296.3L1597.7 298.5L1596.6 303.5L1595.6 293.3L1594.5 293.9L1593.4 295.2L1592.3 297.0L1591.3 311.0L1590.2 297.5L1589.1 299.8L1588.0 295.1L1587.0 295.5L1585.9 294.7L1584.8 296.9L1583.7 292.8L1582.7 296.8L1581.6 291.6L1580.5 299.3L1579.5 294.9L1578.4 293.6L1577.3 292.2L1576.2 304.5L1575.2 293.8L1574.1 293.9L1573.0 305.9L1571.9 304.3L1570.9 300.3L1569.8 291.8L1568.7 302.2L1567.6 298.2L1566.6 298.0L1565.5 294.3L1564.4 293.8L1563.3 303.5L1562.3 300.6L1561.2 293.7L1560.1 298.0L1559.0 295.6L1558.0 298.7L1556.9 292.7L1555.8 300.0L1554.7 303.7L1553.7 296.1L1552.6 295.7L1551.5 294.3L1550.5 298.6L1549.4 295.8L1548.3 294.0L1547.2 299.1L1546.2 303.5L1545.1 301.8L1544.0 296.6L1542.9 295.5L1541.9 293.5L1540.8 292.8L1539.7 292.6L1538.6 290.8L1537.6 293.4L1536.5 298.8L1535.4 302.7L1534.3 298.7L1533.3 290.9L1532.2 296.0L1531.1 291.9L1530.0 296.4L1529.0 304.7L1527.9 291.4L1526.8 297.6L1525.8 293.4L1524.7 295.0L1523.6 294.0L1522.5 298.5L1521.5 297.7L1520.4 297.0L1519.3 294.1L1518.2 294.7L1517.2 293.9L1516.1 296.5L1515.0 302.9L1513.9 293.8L1512.9 293.9L1511.8 300.3L1510.7 294.8L1509.6 292.4L1508.6 297.1L1507.5 290.0L1506.4 294.2L1505.3 290.7L1504.3 290.2L1503.2 289.6L1502.1 297.2L1501.0 295.0L1500.0 298.2L1498.9 291.6L1497.8 292.4L1496.8 293.5L1495.7 294.1L1494.6 290.0L1493.5 295.9L1492.5 292.3L1491.4 290.5L1490.3 290.9L1489.2 290.1L1488.2 295.0L1487.1 296.2L1486.0 292.3L1484.9 300.2L1483.9 292.4L1482.8 290.7L1481.7 291.5L1480.6 297.4L1479.6 291.7L1478.5 296.2L1477.4 289.4L1476.3 289.0L1475.3 293.0L1474.2 292.9L1473.1 308.7L1472.1 292.4L1471.0 295.1L1469.9 296.8L1468.8 303.5L1467.8 289.0L1466.7 289.9L1465.6 292.2L1464.5 290.4L1463.5 295.7L1462.4 292.6L1461.3 292.3L1460.2 293.8L1459.2 290.5L1458.1 290.6L1457.0 292.5L1455.9 288.2L1454.9 292.6L1453.8 291.7L1452.7 286.9L1451.6 287.0L1450.6 293.9L1449.5 292.0L1448.4 289.1L1447.3 294.8L1446.3 285.3L1445.2 285.1L1444.1 301.8L1443.1 292.7L1442.0 293.4L1440.9 290.0L1439.8 292.3L1438.8 286.5L1437.7 285.4L1436.6 290.4L1435.5 283.8L1434.5 288.0L1433.4 284.5L1432.3 283.0L1431.2 284.7L1430.2 286.5L1429.1 283.8L1428.0 288.9L1426.9 285.2L1425.9 289.8L1424.8 289.6L1423.7 289.6L1422.6 283.2L1421.6 287.9L1420.5 302.7L1419.4 281.6L1418.4 284.7L1417.3 284.2L1416.2 291.1L1415.1 287.3L1414.1 293.1L1413.0 280.7L1411.9 281.2L1410.8 286.5L1409.8 284.4L1408.7 286.5L1407.6 280.0L1406.5 279.2L1405.5 286.0L1404.4 282.0L1403.3 279.0L1402.2 277.8L1401.2 282.1L1400.1 285.1L1399.0 281.9L1397.9 273.0L1396.9 285.6L1395.8 276.7L1394.7 275.4L1393.6 280.7L1392.6 275.1L1391.5 275.6L1390.4 276.4L1389.4 275.7L1388.3 280.9L1387.2 275.5L1386.1 268.8L1385.1 271.6L1384.0 275.4L1382.9 276.4L1381.8 268.5L1380.8 268.5L1379.7 266.8L1378.6 273.4L1377.5 278.1L1376.5 272.5L1375.4 269.8L1374.3 265.4L1373.2 272.0L1372.2 272.1L1371.1 279.4L1370.0 272.1L1368.9 270.2L1367.9 266.6L1366.8 260.5L1365.7 262.5L1364.7 259.1L1363.6 259.6L1362.5 271.8L1361.4 259.8L1360.4 268.8L1359.3 274.9L1358.2 263.3L1357.1 278.6L1356.1 255.3L1355.0 259.0L1353.9 267.8L1352.8 257.4L1351.8 255.1L1350.7 254.3L1349.6 254.3L1348.5 259.7L1347.5 250.8L1346.4 251.5L1345.3 264.6L1344.2 261.7L1343.2 266.1L1342.1 255.4L1341.0 251.7L1339.9 251.8L1338.9 245.9L1337.8 252.2L1336.7 245.7L1335.7 244.6L1334.6 243.2L1333.5 249.8L1332.4 250.9L1331.4 258.5L1330.3 252.1L1329.2 253.2L1328.1 243.0L1327.1 249.9L1326.0 246.4L1324.9 238.3L1323.8 237.6L1322.8 239.7L1321.7 240.1L1320.6 240.3L1319.5 245.5L1318.5 237.2L1317.4 235.1L1316.3 234.1L1315.2 242.4L1314.2 232.2L1313.1 233.6L1312.0 230.5L1311.0 236.5L1309.9 231.7L1308.8 227.5L1307.7 233.2L1306.7 224.4L1305.6 257.8L1304.5 229.1L1303.4 231.1L1302.4 220.8L1301.3 218.5L1300.2 225.0L1299.1 221.4L1298.1 217.4L1297.0 221.8L1295.9 215.0L1294.8 222.6L1293.8 210.0L1292.7 209.6L1291.6 206.8L1290.5 209.1L1289.5 209.9L1288.4 208.0L1287.3 224.8L1286.2 203.5L1285.2 197.6L1284.1 199.1L1283.0 200.1L1282.0 200.6L1280.9 192.1L1279.8 214.8L1278.7 196.2L1277.7 189.7L1276.6 184.9L1275.5 189.8L1274.4 183.2L1273.4 182.9L1272.3 182.6L1271.2 181.8L1270.1 181.7L1269.1 180.9L1268.0 182.7L1266.9 179.0L1265.8 200.6L1264.8 175.5L1263.7 184.7L1262.6 177.3L1261.5 174.9L1260.5 171.2L1259.4 182.9L1258.3 177.8L1257.2 164.8L1256.2 163.1L1255.1 175.4L1254.0 169.2L1253.0 163.4L1251.9 158.1L1250.8 157.0L1249.7 158.5L1248.7 153.6L1247.6 153.3L1246.5 154.1L1245.4 154.4L1244.4 149.4L1243.3 147.6L1242.2 148.7L1241.1 152.6L1240.1 149.5L1239.0 146.6L1237.9 142.1L1236.8 141.0L1235.8 139.8L1234.7 139.4L1233.6 139.9L1232.5 137.5L1231.5 135.3L1230.4 135.6L1229.3 133.3L1228.3 132.5L1227.2 129.1L1226.1 129.4L1225.0 128.1L1224.0 125.9L1222.9 125.7L1221.8 123.7L1220.7 122.6L1219.7 120.9L1218.6 119.6L1217.5 117.8L1216.4 117.2L1215.4 115.3L1214.3 113.9L1213.2 112.4L1212.1 110.9L1211.1 109.5L1210.0 108.0L1208.9 106.5L1207.8 105.0L1206.8 103.4L1205.7 101.8L1204.6 100.1L1203.5 98.5L1202.5 96.9L1201.4 95.3L1200.3 93.7L1199.3 92.1L1198.2 90.6L1197.1 89.1L1196.0 87.7L1195.0 86.4L1193.9 85.1L1192.8 83.9L1191.7 82.9L1190.7 81.9L1189.6 81.0L1188.5 80.1L1187.4 79.2L1186.4 78.3L1185.3 77.5L1184.2 76.6L1183.1 75.8L1182.1 75.1L1181.0 74.4L1179.9 73.7L1178.8 73.0L1177.8 72.4L1176.7 71.9Z" clip-path="url(#cr)"/></clipPath>
<g fill="#ff7f0e" fill-opacity="0.1" clip-path="url(#b_cr_orange)"><rect x="1212.8" y="0" width="5" height="733"/><rect x="1252.2" y="0" width="5" height="733"/><rect x="1291.7" y="0" width="5" height="733"/><rect x="1331.1" y="0" width="5" height="733"/><rect x="1370.6" y="0" width="5" height="733"/><rect x="1410.0" y="0" width="5" height="733"/><rect x="1449.5" y="0" width="5" height="733"/><rect x="1489.0" y="0" width="5" height="733"/><rect x="1528.4" y="0" width="5" height="733"/><rect x="1567.8" y="0" width="5" height="733"/><rect x="1607.3" y="0" width="5" height="733"/><rect x="1646.8" y="0" width="5" height="733"/><rect x="1686.2" y="0" width="5" height="733"/><rect x="1725.7" y="0" width="5" height="733"/><rect x="1765.1" y="0" width="5" height="733"/><rect x="1804.5" y="0" width="5" height="733"/></g>
<path d="M1176.7 61.0L1177.8 61.0L1178.8 60.8L1179.9 61.3L1181.0 61.5L1182.1 61.2L1183.1 61.1L1184.2 61.7L1185.3 60.9L1186.4 62.3L1187.4 61.9L1188.5 61.9L1189.6 61.8L1190.7 61.4L1191.7 61.6L1192.8 61.6L1193.9 62.3L1195.0 61.6L1196.0 61.6L1197.1 61.4L1198.2 61.7L1199.3 61.9L1200.3 61.1L1201.4 62.1L1202.5 61.3L1203.5 61.4L1204.6 61.4L1205.7 61.7L1206.8 62.1L1207.8 61.5L1208.9 61.6L1210.0 61.8L1211.1 62.4L1212.1 62.3L1213.2 61.7L1214.3 61.0L1215.4 61.1L1216.4 61.6L1217.5 60.7L1218.6 61.7L1219.7 61.3L1220.7 61.7L1221.8 61.6L1222.9 61.7L1224.0 61.2L1225.0 61.9L1226.1 61.0L1227.2 61.1L1228.3 61.4L1229.3 62.2L1230.4 61.2L1231.5 61.2L1232.5 62.9L1233.6 60.7L1234.7 60.8L1235.8 61.5L1236.8 61.4L1237.9 62.0L1239.0 61.4L1240.1 61.7L1241.1 61.7L1242.2 61.4L1243.3 61.2L1244.4 61.9L1245.4 61.6L1246.5 61.3L1247.6 61.6L1248.7 62.0L1249.7 61.2L1250.8 62.3L1251.9 62.1L1253.0 61.6L1254.0 61.7L1255.1 61.2L1256.2 61.5L1257.2 61.5L1258.3 62.0L1259.4 61.5L1260.5 61.2L1261.5 61.6L1262.6 61.3L1263.7 61.2L1264.8 61.9L1265.8 61.9L1266.9 61.7L1268.0 61.3L1269.1 60.9L1270.1 60.8L1271.2 61.2L1272.3 61.3L1273.4 61.1L1274.4 60.9L1275.5 61.4L1276.6 61.8L1277.7 60.8L1278.7 61.3L1279.8 61.5L1280.9 62.0L1282.0 61.7L1283.0 61.4L1284.1 61.1L1285.2 61.4L1286.2 61.9L1287.3 60.4L1288.4 61.2L1289.5 61.8L1290.5 61.4L1291.6 61.5L1292.7 61.5L1293.8 61.0L1294.8 61.6L1295.9 61.3L1297.0 61.4L1298.1 61.0L1299.1 61.6L1300.2 61.0L1301.3 61.3L1302.4 61.5L1303.4 61.2L1304.5 61.7L1305.6 61.2L1306.7 61.3L1307.7 60.7L1308.8 60.8L1309.9 61.2L1311.0 61.1L1312.0 61.4L1313.1 61.4L1314.2 61.7L1315.2 61.4L1316.3 61.5L1317.4 61.4L1318.5 61.3L1319.5 61.0L1320.6 61.1L1321.7 61.0L1322.8 60.6L1323.8 60.9L1324.9 61.4L1326.0 61.4L1327.1 61.1L1328.1 61.1L1329.2 60.9L1330.3 61.3L1331.4 61.2L1332.4 61.3L1333.5 61.2L1334.6 61.3L1335.7 60.8L1336.7 60.9L1337.8 61.3L1338.9 61.6L1339.9 60.6L1341.0 61.2L1342.1 61.2L1343.2 61.2L1344.2 61.4L1345.3 61.0L1346.4 60.9L1347.5 61.1L1348.5 61.4L1349.6 61.0L1350.7 61.1L1351.8 61.5L1352.8 61.0L1353.9 60.9L1355.0 60.9L1356.1 61.4L1357.1 60.9L1358.2 60.9L1359.3 60.4L1360.4 61.4L1361.4 61.1L1362.5 61.4L1363.6 61.2L1364.7 60.4L1365.7 60.5L1366.8 61.0L1367.9 61.3L1368.9 61.6L1370.0 60.8L1371.1 61.4L1372.2 60.8L1373.2 61.1L1374.3 60.8L1375.4 60.6L1376.5 61.1L1377.5 61.0L1378.6 60.5L1379.7 61.0L1380.8 61.5L1381.8 61.5L1382.9 60.4L1384.0 60.3L1385.1 61.4L1386.1 60.7L1387.2 60.7L1388.3 60.3L1389.4 61.5L1390.4 60.9L1391.5 60.3L1392.6 61.2L1393.6 60.8L1394.7 60.4L1395.8 60.8L1396.9 60.2L1397.9 60.8L1399.0 61.1L1400.1 61.0L1401.2 61.0L1402.2 60.9L1403.3 60.9L1404.4 60.6L1405.5 60.8L1406.5 60.9L1407.6 60.6L1408.7 60.3L1409.8 60.9L1410.8 60.8L1411.9 60.8L1413.0 60.5L1414.1 60.3L1415.1 61.0L1416.2 59.9L1417.3 60.8L1418.4 60.3L1419.4 60.5L1420.5 60.1L1421.6 60.7L1422.6 60.7L1423.7 61.3L1424.8 60.0L1425.9 60.4L1426.9 60.5L1428.0 60.6L1429.1 60.2L1430.2 60.8L1431.2 61.2L1432.3 60.5L1433.4 60.4L1434.5 61.2L1435.5 60.3L1436.6 60.8L1437.7 60.3L1438.8 60.9L1439.8 60.7L1440.9 61.4L1442.0 60.1L1443.1 60.3L1444.1 59.9L1445.2 60.0L1446.3 60.3L1447.3 60.6L1448.4 60.7L1449.5 60.7L1450.6 60.5L1451.6 60.5L1452.7 60.5L1453.8 60.4L1454.9 60.1L1455.9 60.6L1457.0 60.5L1458.1 60.8L1459.2 60.1L1460.2 60.5L1461.3 60.2L1462.4 60.1L1463.5 60.0L1464.5 60.9L1465.6 60.5L1466.7 59.9L1467.8 60.3L1468.8 60.2L1469.9 60.7L1471.0 60.3L1472.1 60.4L1473.1 60.5L1474.2 61.2L1475.3 60.5L1476.3 60.6L1477.4 60.9L1478.5 60.5L1479.6 60.5L1480.6 59.9L1481.7 60.1L1482.8 61.8L1483.9 60.2L1484.9 60.2L1486.0 60.1L1487.1 60.9L1488.2 60.3L1489.2 60.5L1490.3 60.3L1491.4 60.6L1492.5 60.6L1493.5 60.7L1494.6 60.0L1495.7 60.9L1496.8 61.4L1497.8 60.1L1498.9 60.3L1500.0 60.9L1501.0 60.6L1502.1 60.8L1503.2 61.0L1504.3 60.0L1505.3 60.5L1506.4 60.8L1507.5 60.6L1508.6 60.4L1509.6 60.6L1510.7 60.9L1511.8 60.8L1512.9 61.1L1513.9 60.8L1515.0 60.4L1516.1 60.1L1517.2 61.0L1518.2 60.7L1519.3 60.5L1520.4 60.3L1521.5 60.5L1522.5 60.2L1523.6 60.3L1524.7 60.8L1525.8 60.2L1526.8 60.3L1527.9 61.0L1529.0 60.5L1530.0 61.1L1531.1 60.5L1532.2 60.2L1533.3 60.8L1534.3 60.5L1535.4 60.6L1536.5 60.9L1537.6 61.0L1538.6 61.4L1539.7 61.0L1540.8 60.2L1541.9 60.2L1542.9 60.8L1544.0 60.2L1545.1 60.1L1546.2 60.3L1547.2 60.4L1548.3 60.6L1549.4 60.6L1550.5 60.1L1551.5 60.8L1552.6 59.9L1553.7 60.8L1554.7 60.2L1555.8 60.7L1556.9 60.1L1558.0 60.5L1559.0 59.5L1560.1 60.5L1561.2 60.5L1562.3 60.4L1563.3 61.3L1564.4 60.6L1565.5 60.3L1566.6 60.7L1567.6 61.1L1568.7 60.3L1569.8 60.0L1570.9 60.7L1571.9 60.5L1573.0 60.6L1574.1 60.7L1575.2 60.3L1576.2 59.9L1577.3 61.3L1578.4 60.2L1579.5 60.5L1580.5 60.8L1581.6 60.2L1582.7 60.5L1583.7 60.7L1584.8 60.0L1585.9 60.7L1587.0 60.3L1588.0 60.8L1589.1 60.2L1590.2 60.2L1591.3 60.7L1592.3 60.5L1593.4 61.0L1594.5 60.0L1595.6 60.9L1596.6 60.8L1597.7 60.4L1598.8 60.4L1599.9 60.8L1600.9 60.6L1602.0 60.9L1603.1 60.2L1604.2 61.2L1605.2 60.4L1606.3 60.8L1607.4 61.0L1608.4 60.5L1609.5 60.5L1610.6 60.1L1611.7 60.9L1612.7 60.8L1613.8 60.3L1614.9 60.8L1616.0 61.2L1617.0 61.2L1618.1 60.9L1619.2 60.8L1620.3 60.3L1621.3 60.4L1622.4 61.0L1623.5 60.9L1624.6 60.9L1625.6 60.7L1626.7 60.1L1627.8 60.5L1628.9 60.4L1629.9 60.8L1631.0 60.7L1632.1 60.6L1633.2 61.1L1634.2 61.4L1635.3 61.0L1636.4 60.5L1637.4 60.8L1638.5 61.0L1639.6 59.9L1640.7 60.7L1641.7 60.4L1642.8 60.1L1643.9 60.9L1645.0 60.6L1646.0 61.7L1647.1 60.6L1648.2 61.4L1649.3 61.5L1650.3 60.4L1651.4 60.5L1652.5 61.0L1653.6 60.9L1654.6 60.2L1655.7 60.8L1656.8 60.8L1657.9 61.3L1658.9 60.8L1660.0 60.8L1661.1 60.5L1662.1 60.2L1663.2 61.2L1664.3 60.1L1665.4 61.0L1666.4 60.4L1667.5 60.5L1668.6 60.7L1669.7 61.1L1670.7 61.4L1671.8 60.6L1672.9 60.4L1674.0 60.9L1675.0 61.3L1676.1 60.6L1677.2 60.5L1678.3 60.5L1679.3 60.6L1680.4 60.3L1681.5 60.6L1682.6 61.4L1683.6 60.3L1684.7 61.0L1685.8 60.7L1686.9 61.0L1687.9 61.3L1689.0 60.8L1690.1 61.4L1691.1 60.8L1692.2 61.4L1693.3 60.5L1694.4 61.2L1695.4 61.0L1696.5 61.1L1697.6 60.4L1698.7 61.3L1699.7 60.8L1700.8 60.9L1701.9 60.9L1703.0 61.2L1704.0 61.1L1705.1 60.7L1706.2 60.9L1707.3 60.8L1708.3 61.2L1709.4 60.7L1710.5 60.8L1711.6 60.9L1712.6 61.0L1713.7 61.2L1714.8 61.2L1715.8 60.7L1716.9 61.4L1718.0 61.2L1719.1 60.9L1720.1 60.4L1721.2 61.1L1722.3 60.9L1723.4 61.7L1724.4 60.5L1725.5 61.0L1726.6 61.1L1727.7 61.5L1728.7 61.0L1729.8 61.5L1730.9 60.9L1732.0 61.0L1733.0 61.7L1734.1 60.5L1735.2 60.9L1736.3 60.3L1737.3 61.2L1738.4 61.4L1739.5 61.5L1740.6 60.9L1741.6 60.7L1742.7 61.0L1743.8 60.6L1744.8 61.0L1745.9 61.6L1747.0 60.9L1748.1 61.0L1749.1 61.1L1750.2 61.4L1751.3 61.1L1752.4 61.3L1753.4 61.2L1754.5 61.2L1755.6 61.7L1756.7 61.7L1757.7 61.0L1758.8 61.0L1759.9 61.0L1761.0 60.6L1762.0 61.3L1763.1 60.7L1764.2 61.2L1765.3 61.2L1766.3 61.1L1767.4 61.1L1768.5 61.4L1769.5 61.3L1770.6 61.4L1771.7 61.4L1772.8 61.7L1773.8 61.2L1774.9 61.3L1776.0 60.8L1777.1 61.6L1778.1 61.1L1779.2 61.3L1780.3 61.4L1781.4 62.2L1782.4 61.3L1783.5 61.4L1784.6 61.1L1785.7 61.4L1786.7 61.2L1787.8 61.2L1788.9 61.2L1790.0 61.1L1791.0 61.7L1792.1 61.9L1793.2 60.7L1794.2 61.7L1795.3 61.2L1796.4 61.5L1797.5 61.4L1798.5 61.7L1799.6 61.7L1800.7 61.5L1801.8 61.6L1802.8 61.9L1803.9 61.8L1805.0 61.7L1806.1 61.0L1807.1 61.6L1808.2 61.5L1809.3 61.8L1810.4 61.8" fill="none" stroke="#2ca02c" stroke-width="8.5" stroke-linejoin="round" stroke-linecap="square" clip-path="url(#cr)"/>
<g opacity="0.1" clip-path="url(#cr)"><path d="M1176.7 45.1L1177.8 46.0L1178.8 46.4L1179.9 44.9L1181.0 46.6L1182.1 44.4L1183.1 44.9L1184.2 45.2L1185.3 44.2L1186.4 46.0L1187.4 46.1L1188.5 46.5L1189.6 46.6L1190.7 46.2L1191.7 45.7L1192.8 45.2L1193.9 46.3L1195.0 43.9L1196.0 45.2L1197.1 44.9L1198.2 43.3L1199.3 46.3L1200.3 45.6L1201.4 46.6L1202.5 42.1L1203.5 45.9L1204.6 44.5L1205.7 45.2L1206.8 40.0L1207.8 45.7L1208.9 45.0L1210.0 46.4L1211.1 44.7L1212.1 45.2L1213.2 46.4L1214.3 46.5L1215.4 46.3L1216.4 46.2L1217.5 46.5L1218.6 45.4L1219.7 45.1L1220.7 46.8L1221.8 46.3L1222.9 43.5L1224.0 46.0L1225.0 43.1L1226.1 46.6L1227.2 44.8L1228.3 43.3L1229.3 46.7L1230.4 45.5L1231.5 46.3L1232.5 43.2L1233.6 42.7L1234.7 45.7L1235.8 45.2L1236.8 45.0L1237.9 45.0L1239.0 45.7L1240.1 43.0L1241.1 45.7L1242.2 42.2L1243.3 45.9L1244.4 43.1L1245.4 45.4L1246.5 45.4L1247.6 46.6L1248.7 46.3L1249.7 46.0L1250.8 41.0L1251.9 46.1L1253.0 45.7L1254.0 46.5L1255.1 43.7L1256.2 43.7L1257.2 45.9L1258.3 44.6L1259.4 45.1L1260.5 45.4L1261.5 44.5L1262.6 46.4L1263.7 45.7L1264.8 43.9L1265.8 46.2L1266.9 45.8L1268.0 46.4L1269.1 45.8L1270.1 46.6L1271.2 46.0L1272.3 43.5L1273.4 41.9L1274.4 43.7L1275.5 44.5L1276.6 45.8L1277.7 41.6L1278.7 45.4L1279.8 45.0L1280.9 44.0L1282.0 46.0L1283.0 45.0L1284.1 45.2L1285.2 46.3L1286.2 45.1L1287.3 44.7L1288.4 45.6L1289.5 42.9L1290.5 45.3L1291.6 46.5L1292.7 45.8L1293.8 44.8L1294.8 41.2L1295.9 45.9L1297.0 45.9L1298.1 46.3L1299.1 45.2L1300.2 44.2L1301.3 45.4L1302.4 42.9L1303.4 45.7L1304.5 46.5L1305.6 45.9L1306.7 45.9L1307.7 45.4L1308.8 44.4L1309.9 46.0L1311.0 46.2L1312.0 44.6L1313.1 41.5L1314.2 45.9L1315.2 45.8L1316.3 43.1L1317.4 43.9L1318.5 46.4L1319.5 44.4L1320.6 41.3L1321.7 42.3L1322.8 45.4L1323.8 45.3L1324.9 43.4L1326.0 46.0L1327.1 45.6L1328.1 45.4L1329.2 44.9L1330.3 43.8L1331.4 46.2L1332.4 46.1L1333.5 45.8L1334.6 44.2L1335.7 43.6L1336.7 44.4L1337.8 43.2L1338.9 45.2L1339.9 44.5L1341.0 43.8L1342.1 46.3L1343.2 46.1L1344.2 45.6L1345.3 43.4L1346.4 42.2L1347.5 45.4L1348.5 46.2L1349.6 43.8L1350.7 46.0L1351.8 41.3L1352.8 43.1L1353.9 43.7L1355.0 44.1L1356.1 43.5L1357.1 44.7L1358.2 45.6L1359.3 44.3L1360.4 43.6L1361.4 45.2L1362.5 44.2L1363.6 44.2L1364.7 45.4L1365.7 45.3L1366.8 44.7L1367.9 44.9L1368.9 46.0L1370.0 45.0L1371.1 42.8L1372.2 44.1L1373.2 42.9L1374.3 42.0L1375.4 45.9L1376.5 44.8L1377.5 43.3L1378.6 42.6L1379.7 45.1L1380.8 41.0L1381.8 40.9L1382.9 44.9L1384.0 43.9L1385.1 45.2L1386.1 43.3L1387.2 45.5L1388.3 45.4L1389.4 44.3L1390.4 45.2L1391.5 43.5L1392.6 44.4L1393.6 44.3L1394.7 45.8L1395.8 45.2L1396.9 45.8L1397.9 42.2L1399.0 45.2L1400.1 44.8L1401.2 45.4L1402.2 43.8L1403.3 43.9L1404.4 45.2L1405.5 45.5L1406.5 43.1L1407.6 45.8L1408.7 41.8L1409.8 43.2L1410.8 41.8L1411.9 39.6L1413.0 45.4L1414.1 44.6L1415.1 41.5L1416.2 43.7L1417.3 45.3L1418.4 45.6L1419.4 45.6L1420.5 43.5L1421.6 45.7L1422.6 45.3L1423.7 45.7L1424.8 44.7L1425.9 44.7L1426.9 44.2L1428.0 44.2L1429.1 43.7L1430.2 44.1L1431.2 43.6L1432.3 45.1L1433.4 45.3L1434.5 42.3L1435.5 45.0L1436.6 44.6L1437.7 43.2L1438.8 42.7L1439.8 45.5L1440.9 45.3L1442.0 44.1L1443.1 45.2L1444.1 43.4L1445.2 41.6L1446.3 44.4L1447.3 44.7L1448.4 42.3L1449.5 45.4L1450.6 43.2L1451.6 43.0L1452.7 44.4L1453.8 44.5L1454.9 43.3L1455.9 44.0L1457.0 42.4L1458.1 42.0L1459.2 43.6L1460.2 43.0L1461.3 39.4L1462.4 41.8L1463.5 44.4L1464.5 44.8L1465.6 44.5L1466.7 40.9L1467.8 45.3L1468.8 44.6L1469.9 42.0L1471.0 43.8L1472.1 42.1L1473.1 45.3L1474.2 41.3L1475.3 43.4L1476.3 43.5L1477.4 45.1L1478.5 40.7L1479.6 41.0L1480.6 42.2L1481.7 44.1L1482.8 42.5L1483.9 44.4L1484.9 44.4L1486.0 44.2L1487.1 44.3L1488.2 43.1L1489.2 45.1L1490.3 45.2L1491.4 44.1L1492.5 44.5L1493.5 44.3L1494.6 41.7L1495.7 44.4L1496.8 40.5L1497.8 44.5L1498.9 45.4L1500.0 43.2L1501.0 45.1L1502.1 43.5L1503.2 42.5L1504.3 45.1L1505.3 44.7L1506.4 43.3L1507.5 44.4L1508.6 45.0L1509.6 42.3L1510.7 41.5L1511.8 43.8L1512.9 43.9L1513.9 43.3L1515.0 43.1L1516.1 44.9L1517.2 43.7L1518.2 40.2L1519.3 44.0L1520.4 44.4L1521.5 41.6L1522.5 43.0L1523.6 44.8L1524.7 42.2L1525.8 43.9L1526.8 45.1L1527.9 44.9L1529.0 44.4L1530.0 42.5L1531.1 44.6L1532.2 43.0L1533.3 41.5L1534.3 42.6L1535.4 43.3L1536.5 41.9L1537.6 44.4L1538.6 43.2L1539.7 43.6L1540.8 43.9L1541.9 42.6L1542.9 41.8L1544.0 41.6L1545.1 43.7L1546.2 43.8L1547.2 45.3L1548.3 40.3L1549.4 44.5L1550.5 43.7L1551.5 43.7L1552.6 38.5L1553.7 43.2L1554.7 42.8L1555.8 44.0L1556.9 44.9L1558.0 44.3L1559.0 43.5L1560.1 43.7L1561.2 43.1L1562.3 44.2L1563.3 44.1L1564.4 43.5L1565.5 44.3L1566.6 45.0L1567.6 42.4L1568.7 43.4L1569.8 43.4L1570.9 44.5L1571.9 43.6L1573.0 43.3L1574.1 42.8L1575.2 37.7L1576.2 44.8L1577.3 42.1L1578.4 44.8L1579.5 44.6L1580.5 42.5L1581.6 44.9L1582.7 44.7L1583.7 45.0L1584.8 44.4L1585.9 45.2L1587.0 43.0L1588.0 41.0L1589.1 43.0L1590.2 44.1L1591.3 39.0L1592.3 43.2L1593.4 44.2L1594.5 44.0L1595.6 42.5L1596.6 43.5L1597.7 43.0L1598.8 43.2L1599.9 44.8L1600.9 43.7L1602.0 45.2L1603.1 42.6L1604.2 44.4L1605.2 44.6L1606.3 44.1L1607.4 44.8L1608.4 44.7L1609.5 43.9L1610.6 43.1L1611.7 45.2L1612.7 44.6L1613.8 43.1L1614.9 44.0L1616.0 43.3L1617.0 41.7L1618.1 45.1L1619.2 40.4L1620.3 44.4L1621.3 41.6L1622.4 43.5L1623.5 41.8L1624.6 43.4L1625.6 43.1L1626.7 38.3L1627.8 43.4L1628.9 43.6L1629.9 43.3L1631.0 42.5L1632.1 39.7L1633.2 42.2L1634.2 44.2L1635.3 44.2L1636.4 43.2L1637.4 43.9L1638.5 44.3L1639.6 42.9L1640.7 43.4L1641.7 44.5L1642.8 43.0L1643.9 42.8L1645.0 41.2L1646.0 43.0L1647.1 43.4L1648.2 42.9L1649.3 44.8L1650.3 44.9L1651.4 41.6L1652.5 43.8L1653.6 43.1L1654.6 44.5L1655.7 43.4L1656.8 43.9L1657.9 44.8L1658.9 40.2L1660.0 42.2L1661.1 34.1L1662.1 44.6L1663.2 41.8L1664.3 44.9L1665.4 40.4L1666.4 42.5L1667.5 40.5L1668.6 40.7L1669.7 42.7L1670.7 43.9L1671.8 44.0L1672.9 44.7L1674.0 43.9L1675.0 43.6L1676.1 42.7L1677.2 42.8L1678.3 44.4L1679.3 40.6L1680.4 42.5L1681.5 43.3L1682.6 45.1L1683.6 45.3L1684.7 43.4L1685.8 42.9L1686.9 43.6L1687.9 44.0L1689.0 44.6L1690.1 44.3L1691.1 44.3L1692.2 44.8L1693.3 43.9L1694.4 41.2L1695.4 44.2L1696.5 41.8L1697.6 44.3L1698.7 44.8L1699.7 44.7L1700.8 42.6L1701.9 41.2L1703.0 42.7L1704.0 44.1L1705.1 43.7L1706.2 43.1L1707.3 43.8L1708.3 44.2L1709.4 43.1L1710.5 40.8L1711.6 41.0L1712.6 44.7L1713.7 45.0L1714.8 42.7L1715.8 43.9L1716.9 43.3L1718.0 43.7L1719.1 43.7L1720.1 44.9L1721.2 42.8L1722.3 43.8L1723.4 43.2L1724.4 42.1L1725.5 45.0L1726.6 44.3L1727.7 42.4L1728.7 43.3L1729.8 43.7L1730.9 42.6L1732.0 43.7L1733.0 42.7L1734.1 44.4L1735.2 45.3L1736.3 45.1L1737.3 44.7L1738.4 44.6L1739.5 41.8L1740.6 45.1L1741.6 45.5L1742.7 42.2L1743.8 44.5L1744.8 36.6L1745.9 41.9L1747.0 45.1L1748.1 45.1L1749.1 43.2L1750.2 41.4L1751.3 40.1L1752.4 44.1L1753.4 40.6L1754.5 45.4L1755.6 44.1L1756.7 44.3L1757.7 44.9L1758.8 41.9L1759.9 44.9L1761.0 41.6L1762.0 44.5L1763.1 45.5L1764.2 43.2L1765.3 43.9L1766.3 43.1L1767.4 44.2L1768.5 44.2L1769.5 41.7L1770.6 44.0L1771.7 45.3L1772.8 44.2L1773.8 44.9L1774.9 45.6L1776.0 45.2L1777.1 44.1L1778.1 43.0L1779.2 44.4L1780.3 41.5L1781.4 45.5L1782.4 45.3L1783.5 42.9L1784.6 43.1L1785.7 42.7L1786.7 42.6L1787.8 41.0L1788.9 43.0L1790.0 45.5L1791.0 45.7L1792.1 43.1L1793.2 43.6L1794.2 43.4L1795.3 45.6L1796.4 43.6L1797.5 44.9L1798.5 44.1L1799.6 45.4L1800.7 45.5L1801.8 44.5L1802.8 45.7L1803.9 44.8L1805.0 45.6L1806.1 42.1L1807.1 38.3L1808.2 44.6L1809.3 42.1L1810.4 43.0L1810.4 79.8L1809.3 79.3L1808.2 77.4L1807.1 80.0L1806.1 77.5L1805.0 79.0L1803.9 79.8L1802.8 82.8L1801.8 78.9L1800.7 81.2L1799.6 84.0L1798.5 79.1L1797.5 77.3L1796.4 78.6L1795.3 77.4L1794.2 80.5L1793.2 77.9L1792.1 81.8L1791.0 78.6L1790.0 78.3L1788.9 81.8L1787.8 77.4L1786.7 77.1L1785.7 77.6L1784.6 78.9L1783.5 77.8L1782.4 77.7L1781.4 77.1L1780.3 77.6L1779.2 79.3L1778.1 79.6L1777.1 78.0L1776.0 77.1L1774.9 78.5L1773.8 80.4L1772.8 79.6L1771.7 77.6L1770.6 79.1L1769.5 80.7L1768.5 82.0L1767.4 84.8L1766.3 79.6L1765.3 79.2L1764.2 78.7L1763.1 80.8L1762.0 82.3L1761.0 78.2L1759.9 77.2L1758.8 77.3L1757.7 77.3L1756.7 76.9L1755.6 77.1L1754.5 77.1L1753.4 77.9L1752.4 79.2L1751.3 77.7L1750.2 79.8L1749.1 77.0L1748.1 79.5L1747.0 77.3L1745.9 76.8L1744.8 78.4L1743.8 79.8L1742.7 77.1L1741.6 80.2L1740.6 76.9L1739.5 78.4L1738.4 79.3L1737.3 80.3L1736.3 78.2L1735.2 76.8L1734.1 77.4L1733.0 79.5L1732.0 84.9L1730.9 81.1L1729.8 79.0L1728.7 78.1L1727.7 79.0L1726.6 77.3L1725.5 76.8L1724.4 77.8L1723.4 77.8L1722.3 77.1L1721.2 76.9L1720.1 77.8L1719.1 78.1L1718.0 81.3L1716.9 76.6L1715.8 76.5L1714.8 82.1L1713.7 76.6L1712.6 77.9L1711.6 80.8L1710.5 81.9L1709.4 79.1L1708.3 79.5L1707.3 77.8L1706.2 76.7L1705.1 78.7L1704.0 76.7L1703.0 79.3L1701.9 91.1L1700.8 76.7L1699.7 79.0L1698.7 79.6L1697.6 77.2L1696.5 77.6L1695.4 76.5L1694.4 76.8L1693.3 76.9L1692.2 77.4L1691.1 77.8L1690.1 77.5L1689.0 76.5L1687.9 76.5L1686.9 79.7L1685.8 76.4L1684.7 78.0L1683.6 79.6L1682.6 78.1L1681.5 76.8L1680.4 78.1L1679.3 80.7L1678.3 77.4L1677.2 76.3L1676.1 76.6L1675.0 76.8L1674.0 76.5L1672.9 77.1L1671.8 78.8L1670.7 77.5L1669.7 78.9L1668.6 79.4L1667.5 76.4L1666.4 76.4L1665.4 77.9L1664.3 77.2L1663.2 78.6L1662.1 78.5L1661.1 76.2L1660.0 78.9L1658.9 76.4L1657.9 77.0L1656.8 78.7L1655.7 79.7L1654.6 78.5L1653.6 77.9L1652.5 77.5L1651.4 79.2L1650.3 81.1L1649.3 82.1L1648.2 76.7L1647.1 79.2L1646.0 77.0L1645.0 77.9L1643.9 78.0L1642.8 79.3L1641.7 77.4L1640.7 78.9L1639.6 78.5L1638.5 76.8L1637.4 84.5L1636.4 82.0L1635.3 77.7L1634.2 76.8L1633.2 76.8L1632.1 78.0L1631.0 78.9L1629.9 77.1L1628.9 77.3L1627.8 78.3L1626.7 78.3L1625.6 78.2L1624.6 78.4L1623.5 77.9L1622.4 76.7L1621.3 76.1L1620.3 76.4L1619.2 79.3L1618.1 79.8L1617.0 76.9L1616.0 79.6L1614.9 78.8L1613.8 77.7L1612.7 78.3L1611.7 76.7L1610.6 78.0L1609.5 78.0L1608.4 76.9L1607.4 79.5L1606.3 76.5L1605.2 76.2L1604.2 77.0L1603.1 76.1L1602.0 77.8L1600.9 78.0L1599.9 76.9L1598.8 79.4L1597.7 77.0L1596.6 77.1L1595.6 76.4L1594.5 76.2L1593.4 76.8L1592.3 78.6L1591.3 78.6L1590.2 76.2L1589.1 76.3L1588.0 75.9L1587.0 77.6L1585.9 77.5L1584.8 77.1L1583.7 76.7L1582.7 77.2L1581.6 77.1L1580.5 76.2L1579.5 79.4L1578.4 79.5L1577.3 76.6L1576.2 77.9L1575.2 77.7L1574.1 78.8L1573.0 77.0L1571.9 76.5L1570.9 76.4L1569.8 77.0L1568.7 79.1L1567.6 79.7L1566.6 76.2L1565.5 76.7L1564.4 76.1L1563.3 78.2L1562.3 76.4L1561.2 80.3L1560.1 79.9L1559.0 76.7L1558.0 77.1L1556.9 76.7L1555.8 79.7L1554.7 78.3L1553.7 80.1L1552.6 77.8L1551.5 77.7L1550.5 79.0L1549.4 76.0L1548.3 77.1L1547.2 76.0L1546.2 77.9L1545.1 77.1L1544.0 79.8L1542.9 79.1L1541.9 81.5L1540.8 78.0L1539.7 78.7L1538.6 76.1L1537.6 76.0L1536.5 76.4L1535.4 78.3L1534.3 79.6L1533.3 77.1L1532.2 75.9L1531.1 75.9L1530.0 76.3L1529.0 76.7L1527.9 76.0L1526.8 75.9L1525.8 77.3L1524.7 76.6L1523.6 76.4L1522.5 78.1L1521.5 77.4L1520.4 80.0L1519.3 77.0L1518.2 77.1L1517.2 76.6L1516.1 81.5L1515.0 77.1L1513.9 78.6L1512.9 77.1L1511.8 77.2L1510.7 76.9L1509.6 76.3L1508.6 77.3L1507.5 78.6L1506.4 76.6L1505.3 80.0L1504.3 78.0L1503.2 80.8L1502.1 77.6L1501.0 77.9L1500.0 79.1L1498.9 77.5L1497.8 78.8L1496.8 78.3L1495.7 78.0L1494.6 76.3L1493.5 76.3L1492.5 78.4L1491.4 79.4L1490.3 76.6L1489.2 77.1L1488.2 78.2L1487.1 78.6L1486.0 77.3L1484.9 77.3L1483.9 77.2L1482.8 76.1L1481.7 82.0L1480.6 77.8L1479.6 76.8L1478.5 76.3L1477.4 76.1L1476.3 77.1L1475.3 75.7L1474.2 76.7L1473.1 75.7L1472.1 76.2L1471.0 75.7L1469.9 77.0L1468.8 77.9L1467.8 76.8L1466.7 76.8L1465.6 78.1L1464.5 77.4L1463.5 78.9L1462.4 77.7L1461.3 78.0L1460.2 77.4L1459.2 77.3L1458.1 75.8L1457.0 78.8L1455.9 77.6L1454.9 76.4L1453.8 75.7L1452.7 76.9L1451.6 76.1L1450.6 80.4L1449.5 78.2L1448.4 75.8L1447.3 75.9L1446.3 77.8L1445.2 78.2L1444.1 76.6L1443.1 77.7L1442.0 76.7L1440.9 76.4L1439.8 77.9L1438.8 75.9L1437.7 75.7L1436.6 75.7L1435.5 76.2L1434.5 77.6L1433.4 76.3L1432.3 76.0L1431.2 76.5L1430.2 81.5L1429.1 78.2L1428.0 76.2L1426.9 75.6L1425.9 75.7L1424.8 77.2L1423.7 75.8L1422.6 80.1L1421.6 77.6L1420.5 76.2L1419.4 78.5L1418.4 76.8L1417.3 83.8L1416.2 79.8L1415.1 79.2L1414.1 77.5L1413.0 80.2L1411.9 78.3L1410.8 76.3L1409.8 76.8L1408.7 77.9L1407.6 77.2L1406.5 77.2L1405.5 77.1L1404.4 78.0L1403.3 76.5L1402.2 78.2L1401.2 76.7L1400.1 75.7L1399.0 77.1L1397.9 81.9L1396.9 79.7L1395.8 76.9L1394.7 77.8L1393.6 78.2L1392.6 76.2L1391.5 77.2L1390.4 76.0L1389.4 75.9L1388.3 76.2L1387.2 76.6L1386.1 77.5L1385.1 78.3L1384.0 78.9L1382.9 76.8L1381.8 78.1L1380.8 76.4L1379.7 76.0L1378.6 75.9L1377.5 75.8L1376.5 77.0L1375.4 78.9L1374.3 77.5L1373.2 77.6L1372.2 78.6L1371.1 78.7L1370.0 79.4L1368.9 77.4L1367.9 79.9L1366.8 80.5L1365.7 78.7L1364.7 77.9L1363.6 78.0L1362.5 77.7L1361.4 77.2L1360.4 76.4L1359.3 75.9L1358.2 77.7L1357.1 76.2L1356.1 76.0L1355.0 76.9L1353.9 77.7L1352.8 78.0L1351.8 77.1L1350.7 81.7L1349.6 81.4L1348.5 83.1L1347.5 77.3L1346.4 77.9L1345.3 76.5L1344.2 80.2L1343.2 76.0L1342.1 78.2L1341.0 77.1L1339.9 78.2L1338.9 79.7L1337.8 79.1L1336.7 77.3L1335.7 76.1L1334.6 79.8L1333.5 76.4L1332.4 77.1L1331.4 76.9L1330.3 76.7L1329.2 76.3L1328.1 76.2L1327.1 77.0L1326.0 78.6L1324.9 77.4L1323.8 76.9L1322.8 77.5L1321.7 77.5L1320.6 77.4L1319.5 78.8L1318.5 76.9L1317.4 76.8L1316.3 76.1L1315.2 76.8L1314.2 78.6L1313.1 76.1L1312.0 76.1L1311.0 77.6L1309.9 78.8L1308.8 78.7L1307.7 77.0L1306.7 77.6L1305.6 76.5L1304.5 76.2L1303.4 76.7L1302.4 77.6L1301.3 76.0L1300.2 76.9L1299.1 78.1L1298.1 76.5L1297.0 78.2L1295.9 81.4L1294.8 77.0L1293.8 77.6L1292.7 80.0L1291.6 76.2L1290.5 76.9L1289.5 76.7L1288.4 77.4L1287.3 79.2L1286.2 76.1L1285.2 78.1L1284.1 78.4L1283.0 76.4L1282.0 76.9L1280.9 78.7L1279.8 76.5L1278.7 78.2L1277.7 76.3L1276.6 76.2L1275.5 79.0L1274.4 76.7L1273.4 77.0L1272.3 76.9L1271.2 78.5L1270.1 78.7L1269.1 78.2L1268.0 79.7L1266.9 77.9L1265.8 76.1L1264.8 79.4L1263.7 80.6L1262.6 80.7L1261.5 79.6L1260.5 77.4L1259.4 79.3L1258.3 76.4L1257.2 76.7L1256.2 80.4L1255.1 76.6L1254.0 77.7L1253.0 83.0L1251.9 76.1L1250.8 77.1L1249.7 77.0L1248.7 77.3L1247.6 76.4L1246.5 76.7L1245.4 77.2L1244.4 77.9L1243.3 76.5L1242.2 77.4L1241.1 76.4L1240.1 77.1L1239.0 76.6L1237.9 77.5L1236.8 76.3L1235.8 77.3L1234.7 78.8L1233.6 78.1L1232.5 77.4L1231.5 77.2L1230.4 77.6L1229.3 80.3L1228.3 80.6L1227.2 78.5L1226.1 77.0L1225.0 76.3L1224.0 81.5L1222.9 76.5L1221.8 76.9L1220.7 81.0L1219.7 77.7L1218.6 76.7L1217.5 77.0L1216.4 77.0L1215.4 76.9L1214.3 78.7L1213.2 76.9L1212.1 77.8L1211.1 77.9L1210.0 76.5L1208.9 77.8L1207.8 78.2L1206.8 78.7L1205.7 79.0L1204.6 76.6L1203.5 77.5L1202.5 76.6L1201.4 77.9L1200.3 77.9L1199.3 77.9L1198.2 76.6L1197.1 77.2L1196.0 78.6L1195.0 78.3L1193.9 78.0L1192.8 76.4L1191.7 76.7L1190.7 77.2L1189.6 77.5L1188.5 81.6L1187.4 79.7L1186.4 77.0L1185.3 85.8L1184.2 77.5L1183.1 76.3L1182.1 76.8L1181.0 79.1L1179.9 76.4L1178.8 78.7L1177.8 77.3L1176.7 80.3Z" fill="#2ca02c" stroke="#2ca02c" stroke-width="8.3" stroke-linejoin="round"/></g>
<clipPath id="b_cr_green"><path d="M1176.7 45.1L1177.8 46.0L1178.8 46.4L1179.9 44.9L1181.0 46.6L1182.1 44.4L1183.1 44.9L1184.2 45.2L1185.3 44.2L1186.4 46.0L1187.4 46.1L1188.5 46.5L1189.6 46.6L1190.7 46.2L1191.7 45.7L1192.8 45.2L1193.9 46.3L1195.0 43.9L1196.0 45.2L1197.1 44.9L1198.2 43.3L1199.3 46.3L1200.3 45.6L1201.4 46.6L1202.5 42.1L1203.5 45.9L1204.6 44.5L1205.7 45.2L1206.8 40.0L1207.8 45.7L1208.9 45.0L1210.0 46.4L1211.1 44.7L1212.1 45.2L1213.2 46.4L1214.3 46.5L1215.4 46.3L1216.4 46.2L1217.5 46.5L1218.6 45.4L1219.7 45.1L1220.7 46.8L1221.8 46.3L1222.9 43.5L1224.0 46.0L1225.0 43.1L1226.1 46.6L1227.2 44.8L1228.3 43.3L1229.3 46.7L1230.4 45.5L1231.5 46.3L1232.5 43.2L1233.6 42.7L1234.7 45.7L1235.8 45.2L1236.8 45.0L1237.9 45.0L1239.0 45.7L1240.1 43.0L1241.1 45.7L1242.2 42.2L1243.3 45.9L1244.4 43.1L1245.4 45.4L1246.5 45.4L1247.6 46.6L1248.7 46.3L1249.7 46.0L1250.8 41.0L1251.9 46.1L1253.0 45.7L1254.0 46.5L1255.1 43.7L1256.2 43.7L1257.2 45.9L1258.3 44.6L1259.4 45.1L1260.5 45.4L1261.5 44.5L1262.6 46.4L1263.7 45.7L1264.8 43.9L1265.8 46.2L1266.9 45.8L1268.0 46.4L1269.1 45.8L1270.1 46.6L1271.2 46.0L1272.3 43.5L1273.4 41.9L1274.4 43.7L1275.5 44.5L1276.6 45.8L1277.7 41.6L1278.7 45.4L1279.8 45.0L1280.9 44.0L1282.0 46.0L1283.0 45.0L1284.1 45.2L1285.2 46.3L1286.2 45.1L1287.3 44.7L1288.4 45.6L1289.5 42.9L1290.5 45.3L1291.6 46.5L1292.7 45.8L1293.8 44.8L1294.8 41.2L1295.9 45.9L1297.0 45.9L1298.1 46.3L1299.1 45.2L1300.2 44.2L1301.3 45.4L1302.4 42.9L1303.4 45.7L1304.5 46.5L1305.6 45.9L1306.7 45.9L1307.7 45.4L1308.8 44.4L1309.9 46.0L1311.0 46.2L1312.0 44.6L1313.1 41.5L1314.2 45.9L1315.2 45.8L1316.3 43.1L1317.4 43.9L1318.5 46.4L1319.5 44.4L1320.6 41.3L1321.7 42.3L1322.8 45.4L1323.8 45.3L1324.9 43.4L1326.0 46.0L1327.1 45.6L1328.1 45.4L1329.2 44.9L1330.3 43.8L1331.4 46.2L1332.4 46.1L1333.5 45.8L1334.6 44.2L1335.7 43.6L1336.7 44.4L1337.8 43.2L1338.9 45.2L1339.9 44.5L1341.0 43.8L1342.1 46.3L1343.2 46.1L1344.2 45.6L1345.3 43.4L1346.4 42.2L1347.5 45.4L1348.5 46.2L1349.6 43.8L1350.7 46.0L1351.8 41.3L1352.8 43.1L1353.9 43.7L1355.0 44.1L1356.1 43.5L1357.1 44.7L1358.2 45.6L1359.3 44.3L1360.4 43.6L1361.4 45.2L1362.5 44.2L1363.6 44.2L1364.7 45.4L1365.7 45.3L1366.8 44.7L1367.9 44.9L1368.9 46.0L1370.0 45.0L1371.1 42.8L1372.2 44.1L1373.2 42.9L1374.3 42.0L1375.4 45.9L1376.5 44.8L1377.5 43.3L1378.6 42.6L1379.7 45.1L1380.8 41.0L1381.8 40.9L1382.9 44.9L1384.0 43.9L1385.1 45.2L1386.1 43.3L1387.2 45.5L1388.3 45.4L1389.4 44.3L1390.4 45.2L1391.5 43.5L1392.6 44.4L1393.6 44.3L1394.7 45.8L1395.8 45.2L1396.9 45.8L1397.9 42.2L1399.0 45.2L1400.1 44.8L1401.2 45.4L1402.2 43.8L1403.3 43.9L1404.4 45.2L1405.5 45.5L1406.5 43.1L1407.6 45.8L1408.7 41.8L1409.8 43.2L1410.8 41.8L1411.9 39.6L1413.0 45.4L1414.1 44.6L1415.1 41.5L1416.2 43.7L1417.3 45.3L1418.4 45.6L1419.4 45.6L1420.5 43.5L1421.6 45.7L1422.6 45.3L1423.7 45.7L1424.8 44.7L1425.9 44.7L1426.9 44.2L1428.0 44.2L1429.1 43.7L1430.2 44.1L1431.2 43.6L1432.3 45.1L1433.4 45.3L1434.5 42.3L1435.5 45.0L1436.6 44.6L1437.7 43.2L1438.8 42.7L1439.8 45.5L1440.9 45.3L1442.0 44.1L1443.1 45.2L1444.1 43.4L1445.2 41.6L1446.3 44.4L1447.3 44.7L1448.4 42.3L1449.5 45.4L1450.6 43.2L1451.6 43.0L1452.7 44.4L1453.8 44.5L1454.9 43.3L1455.9 44.0L1457.0 42.4L1458.1 42.0L1459.2 43.6L1460.2 43.0L1461.3 39.4L1462.4 41.8L1463.5 44.4L1464.5 44.8L1465.6 44.5L1466.7 40.9L1467.8 45.3L1468.8 44.6L1469.9 42.0L1471.0 43.8L1472.1 42.1L1473.1 45.3L1474.2 41.3L1475.3 43.4L1476.3 43.5L1477.4 45.1L1478.5 40.7L1479.6 41.0L1480.6 42.2L1481.7 44.1L1482.8 42.5L1483.9 44.4L1484.9 44.4L1486.0 44.2L1487.1 44.3L1488.2 43.1L1489.2 45.1L1490.3 45.2L1491.4 44.1L1492.5 44.5L1493.5 44.3L1494.6 41.7L1495.7 44.4L1496.8 40.5L1497.8 44.5L1498.9 45.4L1500.0 43.2L1501.0 45.1L1502.1 43.5L1503.2 42.5L1504.3 45.1L1505.3 44.7L1506.4 43.3L1507.5 44.4L1508.6 45.0L1509.6 42.3L1510.7 41.5L1511.8 43.8L1512.9 43.9L1513.9 43.3L1515.0 43.1L1516.1 44.9L1517.2 43.7L1518.2 40.2L1519.3 44.0L1520.4 44.4L1521.5 41.6L1522.5 43.0L1523.6 44.8L1524.7 42.2L1525.8 43.9L1526.8 45.1L1527.9 44.9L1529.0 44.4L1530.0 42.5L1531.1 44.6L1532.2 43.0L1533.3 41.5L1534.3 42.6L1535.4 43.3L1536.5 41.9L1537.6 44.4L1538.6 43.2L1539.7 43.6L1540.8 43.9L1541.9 42.6L1542.9 41.8L1544.0 41.6L1545.1 43.7L1546.2 43.8L1547.2 45.3L1548.3 40.3L1549.4 44.5L1550.5 43.7L1551.5 43.7L1552.6 38.5L1553.7 43.2L1554.7 42.8L1555.8 44.0L1556.9 44.9L1558.0 44.3L1559.0 43.5L1560.1 43.7L1561.2 43.1L1562.3 44.2L1563.3 44.1L1564.4 43.5L1565.5 44.3L1566.6 45.0L1567.6 42.4L1568.7 43.4L1569.8 43.4L1570.9 44.5L1571.9 43.6L1573.0 43.3L1574.1 42.8L1575.2 37.7L1576.2 44.8L1577.3 42.1L1578.4 44.8L1579.5 44.6L1580.5 42.5L1581.6 44.9L1582.7 44.7L1583.7 45.0L1584.8 44.4L1585.9 45.2L1587.0 43.0L1588.0 41.0L1589.1 43.0L1590.2 44.1L1591.3 39.0L1592.3 43.2L1593.4 44.2L1594.5 44.0L1595.6 42.5L1596.6 43.5L1597.7 43.0L1598.8 43.2L1599.9 44.8L1600.9 43.7L1602.0 45.2L1603.1 42.6L1604.2 44.4L1605.2 44.6L1606.3 44.1L1607.4 44.8L1608.4 44.7L1609.5 43.9L1610.6 43.1L1611.7 45.2L1612.7 44.6L1613.8 43.1L1614.9 44.0L1616.0 43.3L1617.0 41.7L1618.1 45.1L1619.2 40.4L1620.3 44.4L1621.3 41.6L1622.4 43.5L1623.5 41.8L1624.6 43.4L1625.6 43.1L1626.7 38.3L1627.8 43.4L1628.9 43.6L1629.9 43.3L1631.0 42.5L1632.1 39.7L1633.2 42.2L1634.2 44.2L1635.3 44.2L1636.4 43.2L1637.4 43.9L1638.5 44.3L1639.6 42.9L1640.7 43.4L1641.7 44.5L1642.8 43.0L1643.9 42.8L1645.0 41.2L1646.0 43.0L1647.1 43.4L1648.2 42.9L1649.3 44.8L1650.3 44.9L1651.4 41.6L1652.5 43.8L1653.6 43.1L1654.6 44.5L1655.7 43.4L1656.8 43.9L1657.9 44.8L1658.9 40.2L1660.0 42.2L1661.1 34.1L1662.1 44.6L1663.2 41.8L1664.3 44.9L1665.4 40.4L1666.4 42.5L1667.5 40.5L1668.6 40.7L1669.7 42.7L1670.7 43.9L1671.8 44.0L1672.9 44.7L1674.0 43.9L1675.0 43.6L1676.1 42.7L1677.2 42.8L1678.3 44.4L1679.3 40.6L1680.4 42.5L1681.5 43.3L1682.6 45.1L1683.6 45.3L1684.7 43.4L1685.8 42.9L1686.9 43.6L1687.9 44.0L1689.0 44.6L1690.1 44.3L1691.1 44.3L1692.2 44.8L1693.3 43.9L1694.4 41.2L1695.4 44.2L1696.5 41.8L1697.6 44.3L1698.7 44.8L1699.7 44.7L1700.8 42.6L1701.9 41.2L1703.0 42.7L1704.0 44.1L1705.1 43.7L1706.2 43.1L1707.3 43.8L1708.3 44.2L1709.4 43.1L1710.5 40.8L1711.6 41.0L1712.6 44.7L1713.7 45.0L1714.8 42.7L1715.8 43.9L1716.9 43.3L1718.0 43.7L1719.1 43.7L1720.1 44.9L1721.2 42.8L1722.3 43.8L1723.4 43.2L1724.4 42.1L1725.5 45.0L1726.6 44.3L1727.7 42.4L1728.7 43.3L1729.8 43.7L1730.9 42.6L1732.0 43.7L1733.0 42.7L1734.1 44.4L1735.2 45.3L1736.3 45.1L1737.3 44.7L1738.4 44.6L1739.5 41.8L1740.6 45.1L1741.6 45.5L1742.7 42.2L1743.8 44.5L1744.8 36.6L1745.9 41.9L1747.0 45.1L1748.1 45.1L1749.1 43.2L1750.2 41.4L1751.3 40.1L1752.4 44.1L1753.4 40.6L1754.5 45.4L1755.6 44.1L1756.7 44.3L1757.7 44.9L1758.8 41.9L1759.9 44.9L1761.0 41.6L1762.0 44.5L1763.1 45.5L1764.2 43.2L1765.3 43.9L1766.3 43.1L1767.4 44.2L1768.5 44.2L1769.5 41.7L1770.6 44.0L1771.7 45.3L1772.8 44.2L1773.8 44.9L1774.9 45.6L1776.0 45.2L1777.1 44.1L1778.1 43.0L1779.2 44.4L1780.3 41.5L1781.4 45.5L1782.4 45.3L1783.5 42.9L1784.6 43.1L1785.7 42.7L1786.7 42.6L1787.8 41.0L1788.9 43.0L1790.0 45.5L1791.0 45.7L1792.1 43.1L1793.2 43.6L1794.2 43.4L1795.3 45.6L1796.4 43.6L1797.5 44.9L1798.5 44.1L1799.6 45.4L1800.7 45.5L1801.8 44.5L1802.8 45.7L1803.9 44.8L1805.0 45.6L1806.1 42.1L1807.1 38.3L1808.2 44.6L1809.3 42.1L1810.4 43.0L1810.4 79.8L1809.3 79.3L1808.2 77.4L1807.1 80.0L1806.1 77.5L1805.0 79.0L1803.9 79.8L1802.8 82.8L1801.8 78.9L1800.7 81.2L1799.6 84.0L1798.5 79.1L1797.5 77.3L1796.4 78.6L1795.3 77.4L1794.2 80.5L1793.2 77.9L1792.1 81.8L1791.0 78.6L1790.0 78.3L1788.9 81.8L1787.8 77.4L1786.7 77.1L1785.7 77.6L1784.6 78.9L1783.5 77.8L1782.4 77.7L1781.4 77.1L1780.3 77.6L1779.2 79.3L1778.1 79.6L1777.1 78.0L1776.0 77.1L1774.9 78.5L1773.8 80.4L1772.8 79.6L1771.7 77.6L1770.6 79.1L1769.5 80.7L1768.5 82.0L1767.4 84.8L1766.3 79.6L1765.3 79.2L1764.2 78.7L1763.1 80.8L1762.0 82.3L1761.0 78.2L1759.9 77.2L1758.8 77.3L1757.7 77.3L1756.7 76.9L1755.6 77.1L1754.5 77.1L1753.4 77.9L1752.4 79.2L1751.3 77.7L1750.2 79.8L1749.1 77.0L1748.1 79.5L1747.0 77.3L1745.9 76.8L1744.8 78.4L1743.8 79.8L1742.7 77.1L1741.6 80.2L1740.6 76.9L1739.5 78.4L1738.4 79.3L1737.3 80.3L1736.3 78.2L1735.2 76.8L1734.1 77.4L1733.0 79.5L1732.0 84.9L1730.9 81.1L1729.8 79.0L1728.7 78.1L1727.7 79.0L1726.6 77.3L1725.5 76.8L1724.4 77.8L1723.4 77.8L1722.3 77.1L1721.2 76.9L1720.1 77.8L1719.1 78.1L1718.0 81.3L1716.9 76.6L1715.8 76.5L1714.8 82.1L1713.7 76.6L1712.6 77.9L1711.6 80.8L1710.5 81.9L1709.4 79.1L1708.3 79.5L1707.3 77.8L1706.2 76.7L1705.1 78.7L1704.0 76.7L1703.0 79.3L1701.9 91.1L1700.8 76.7L1699.7 79.0L1698.7 79.6L1697.6 77.2L1696.5 77.6L1695.4 76.5L1694.4 76.8L1693.3 76.9L1692.2 77.4L1691.1 77.8L1690.1 77.5L1689.0 76.5L1687.9 76.5L1686.9 79.7L1685.8 76.4L1684.7 78.0L1683.6 79.6L1682.6 78.1L1681.5 76.8L1680.4 78.1L1679.3 80.7L1678.3 77.4L1677.2 76.3L1676.1 76.6L1675.0 76.8L1674.0 76.5L1672.9 77.1L1671.8 78.8L1670.7 77.5L1669.7 78.9L1668.6 79.4L1667.5 76.4L1666.4 76.4L1665.4 77.9L1664.3 77.2L1663.2 78.6L1662.1 78.5L1661.1 76.2L1660.0 78.9L1658.9 76.4L1657.9 77.0L1656.8 78.7L1655.7 79.7L1654.6 78.5L1653.6 77.9L1652.5 77.5L1651.4 79.2L1650.3 81.1L1649.3 82.1L1648.2 76.7L1647.1 79.2L1646.0 77.0L1645.0 77.9L1643.9 78.0L1642.8 79.3L1641.7 77.4L1640.7 78.9L1639.6 78.5L1638.5 76.8L1637.4 84.5L1636.4 82.0L1635.3 77.7L1634.2 76.8L1633.2 76.8L1632.1 78.0L1631.0 78.9L1629.9 77.1L1628.9 77.3L1627.8 78.3L1626.7 78.3L1625.6 78.2L1624.6 78.4L1623.5 77.9L1622.4 76.7L1621.3 76.1L1620.3 76.4L1619.2 79.3L1618.1 79.8L1617.0 76.9L1616.0 79.6L1614.9 78.8L1613.8 77.7L1612.7 78.3L1611.7 76.7L1610.6 78.0L1609.5 78.0L1608.4 76.9L1607.4 79.5L1606.3 76.5L1605.2 76.2L1604.2 77.0L1603.1 76.1L1602.0 77.8L1600.9 78.0L1599.9 76.9L1598.8 79.4L1597.7 77.0L1596.6 77.1L1595.6 76.4L1594.5 76.2L1593.4 76.8L1592.3 78.6L1591.3 78.6L1590.2 76.2L1589.1 76.3L1588.0 75.9L1587.0 77.6L1585.9 77.5L1584.8 77.1L1583.7 76.7L1582.7 77.2L1581.6 77.1L1580.5 76.2L1579.5 79.4L1578.4 79.5L1577.3 76.6L1576.2 77.9L1575.2 77.7L1574.1 78.8L1573.0 77.0L1571.9 76.5L1570.9 76.4L1569.8 77.0L1568.7 79.1L1567.6 79.7L1566.6 76.2L1565.5 76.7L1564.4 76.1L1563.3 78.2L1562.3 76.4L1561.2 80.3L1560.1 79.9L1559.0 76.7L1558.0 77.1L1556.9 76.7L1555.8 79.7L1554.7 78.3L1553.7 80.1L1552.6 77.8L1551.5 77.7L1550.5 79.0L1549.4 76.0L1548.3 77.1L1547.2 76.0L1546.2 77.9L1545.1 77.1L1544.0 79.8L1542.9 79.1L1541.9 81.5L1540.8 78.0L1539.7 78.7L1538.6 76.1L1537.6 76.0L1536.5 76.4L1535.4 78.3L1534.3 79.6L1533.3 77.1L1532.2 75.9L1531.1 75.9L1530.0 76.3L1529.0 76.7L1527.9 76.0L1526.8 75.9L1525.8 77.3L1524.7 76.6L1523.6 76.4L1522.5 78.1L1521.5 77.4L1520.4 80.0L1519.3 77.0L1518.2 77.1L1517.2 76.6L1516.1 81.5L1515.0 77.1L1513.9 78.6L1512.9 77.1L1511.8 77.2L1510.7 76.9L1509.6 76.3L1508.6 77.3L1507.5 78.6L1506.4 76.6L1505.3 80.0L1504.3 78.0L1503.2 80.8L1502.1 77.6L1501.0 77.9L1500.0 79.1L1498.9 77.5L1497.8 78.8L1496.8 78.3L1495.7 78.0L1494.6 76.3L1493.5 76.3L1492.5 78.4L1491.4 79.4L1490.3 76.6L1489.2 77.1L1488.2 78.2L1487.1 78.6L1486.0 77.3L1484.9 77.3L1483.9 77.2L1482.8 76.1L1481.7 82.0L1480.6 77.8L1479.6 76.8L1478.5 76.3L1477.4 76.1L1476.3 77.1L1475.3 75.7L1474.2 76.7L1473.1 75.7L1472.1 76.2L1471.0 75.7L1469.9 77.0L1468.8 77.9L1467.8 76.8L1466.7 76.8L1465.6 78.1L1464.5 77.4L1463.5 78.9L1462.4 77.7L1461.3 78.0L1460.2 77.4L1459.2 77.3L1458.1 75.8L1457.0 78.8L1455.9 77.6L1454.9 76.4L1453.8 75.7L1452.7 76.9L1451.6 76.1L1450.6 80.4L1449.5 78.2L1448.4 75.8L1447.3 75.9L1446.3 77.8L1445.2 78.2L1444.1 76.6L1443.1 77.7L1442.0 76.7L1440.9 76.4L1439.8 77.9L1438.8 75.9L1437.7 75.7L1436.6 75.7L1435.5 76.2L1434.5 77.6L1433.4 76.3L1432.3 76.0L1431.2 76.5L1430.2 81.5L1429.1 78.2L1428.0 76.2L1426.9 75.6L1425.9 75.7L1424.8 77.2L1423.7 75.8L1422.6 80.1L1421.6 77.6L1420.5 76.2L1419.4 78.5L1418.4 76.8L1417.3 83.8L1416.2 79.8L1415.1 79.2L1414.1 77.5L1413.0 80.2L1411.9 78.3L1410.8 76.3L1409.8 76.8L1408.7 77.9L1407.6 77.2L1406.5 77.2L1405.5 77.1L1404.4 78.0L1403.3 76.5L1402.2 78.2L1401.2 76.7L1400.1 75.7L1399.0 77.1L1397.9 81.9L1396.9 79.7L1395.8 76.9L1394.7 77.8L1393.6 78.2L1392.6 76.2L1391.5 77.2L1390.4 76.0L1389.4 75.9L1388.3 76.2L1387.2 76.6L1386.1 77.5L1385.1 78.3L1384.0 78.9L1382.9 76.8L1381.8 78.1L1380.8 76.4L1379.7 76.0L1378.6 75.9L1377.5 75.8L1376.5 77.0L1375.4 78.9L1374.3 77.5L1373.2 77.6L1372.2 78.6L1371.1 78.7L1370.0 79.4L1368.9 77.4L1367.9 79.9L1366.8 80.5L1365.7 78.7L1364.7 77.9L1363.6 78.0L1362.5 77.7L1361.4 77.2L1360.4 76.4L1359.3 75.9L1358.2 77.7L1357.1 76.2L1356.1 76.0L1355.0 76.9L1353.9 77.7L1352.8 78.0L1351.8 77.1L1350.7 81.7L1349.6 81.4L1348.5 83.1L1347.5 77.3L1346.4 77.9L1345.3 76.5L1344.2 80.2L1343.2 76.0L1342.1 78.2L1341.0 77.1L1339.9 78.2L1338.9 79.7L1337.8 79.1L1336.7 77.3L1335.7 76.1L1334.6 79.8L1333.5 76.4L1332.4 77.1L1331.4 76.9L1330.3 76.7L1329.2 76.3L1328.1 76.2L1327.1 77.0L1326.0 78.6L1324.9 77.4L1323.8 76.9L1322.8 77.5L1321.7 77.5L1320.6 77.4L1319.5 78.8L1318.5 76.9L1317.4 76.8L1316.3 76.1L1315.2 76.8L1314.2 78.6L1313.1 76.1L1312.0 76.1L1311.0 77.6L1309.9 78.8L1308.8 78.7L1307.7 77.0L1306.7 77.6L1305.6 76.5L1304.5 76.2L1303.4 76.7L1302.4 77.6L1301.3 76.0L1300.2 76.9L1299.1 78.1L1298.1 76.5L1297.0 78.2L1295.9 81.4L1294.8 77.0L1293.8 77.6L1292.7 80.0L1291.6 76.2L1290.5 76.9L1289.5 76.7L1288.4 77.4L1287.3 79.2L1286.2 76.1L1285.2 78.1L1284.1 78.4L1283.0 76.4L1282.0 76.9L1280.9 78.7L1279.8 76.5L1278.7 78.2L1277.7 76.3L1276.6 76.2L1275.5 79.0L1274.4 76.7L1273.4 77.0L1272.3 76.9L1271.2 78.5L1270.1 78.7L1269.1 78.2L1268.0 79.7L1266.9 77.9L1265.8 76.1L1264.8 79.4L1263.7 80.6L1262.6 80.7L1261.5 79.6L1260.5 77.4L1259.4 79.3L1258.3 76.4L1257.2 76.7L1256.2 80.4L1255.1 76.6L1254.0 77.7L1253.0 83.0L1251.9 76.1L1250.8 77.1L1249.7 77.0L1248.7 77.3L1247.6 76.4L1246.5 76.7L1245.4 77.2L1244.4 77.9L1243.3 76.5L1242.2 77.4L1241.1 76.4L1240.1 77.1L1239.0 76.6L1237.9 77.5L1236.8 76.3L1235.8 77.3L1234.7 78.8L1233.6 78.1L1232.5 77.4L1231.5 77.2L1230.4 77.6L1229.3 80.3L1228.3 80.6L1227.2 78.5L1226.1 77.0L1225.0 76.3L1224.0 81.5L1222.9 76.5L1221.8 76.9L1220.7 81.0L1219.7 77.7L1218.6 76.7L1217.5 77.0L1216.4 77.0L1215.4 76.9L1214.3 78.7L1213.2 76.9L1212.1 77.8L1211.1 77.9L1210.0 76.5L1208.9 77.8L1207.8 78.2L1206.8 78.7L1205.7 79.0L1204.6 76.6L1203.5 77.5L1202.5 76.6L1201.4 77.9L1200.3 77.9L1199.3 77.9L1198.2 76.6L1197.1 77.2L1196.0 78.6L1195.0 78.3L1193.9 78.0L1192.8 76.4L1191.7 76.7L1190.7 77.2L1189.6 77.5L1188.5 81.6L1187.4 79.7L1186.4 77.0L1185.3 85.8L1184.2 77.5L1183.1 76.3L1182.1 76.8L1181.0 79.1L1179.9 76.4L1178.8 78.7L1177.8 77.3L1176.7 80.3Z" clip-path="url(#cr)"/></clipPath>
<g fill="#2ca02c" fill-opacity="0.1" clip-path="url(#b_cr_green)"><rect x="1209.8" y="0" width="7" height="733"/><rect x="1249.2" y="0" width="7" height="733"/><rect x="1288.7" y="0" width="7" height="733"/><rect x="1328.1" y="0" width="7" height="733"/><rect x="1367.6" y="0" width="7" height="733"/><rect x="1407.0" y="0" width="7" height="733"/><rect x="1446.5" y="0" width="7" height="733"/><rect x="1486.0" y="0" width="7" height="733"/><rect x="1525.4" y="0" width="7" height="733"/><rect x="1564.8" y="0" width="7" height="733"/><rect x="1604.3" y="0" width="7" height="733"/><rect x="1643.8" y="0" width="7" height="733"/><rect x="1683.2" y="0" width="7" height="733"/><rect x="1722.7" y="0" width="7" height="733"/><rect x="1762.1" y="0" width="7" height="733"/><rect x="1801.5" y="0" width="7" height="733"/></g>
<path d="M1176.7 61.8L1177.8 61.8L1178.8 61.6L1179.9 61.1L1181.0 61.9L1182.1 61.4L1183.1 61.3L1184.2 61.5L1185.3 61.8L1186.4 61.5L1187.4 61.1L1188.5 61.4L1189.6 62.2L1190.7 61.5L1191.7 61.4L1192.8 62.3L1193.9 61.6L1195.0 61.8L1196.0 61.5L1197.1 61.9L1198.2 61.7L1199.3 61.3L1200.3 62.0L1201.4 61.8L1202.5 61.7L1203.5 61.7L1204.6 61.6L1205.7 61.6L1206.8 61.6L1207.8 61.5L1208.9 61.0L1210.0 62.0L1211.1 61.2L1212.1 61.6L1213.2 62.2L1214.3 61.7L1215.4 61.2L1216.4 61.7L1217.5 61.7L1218.6 61.3L1219.7 62.2L1220.7 61.6L1221.8 62.0L1222.9 61.9L1224.0 62.0L1225.0 62.0L1226.1 62.6L1227.2 61.9L1228.3 61.1L1229.3 61.9L1230.4 61.5L1231.5 61.4L1232.5 60.5L1233.6 61.7L1234.7 62.0L1235.8 61.9L1236.8 61.4L1237.9 61.6L1239.0 61.8L1240.1 61.6L1241.1 62.6L1242.2 61.6L1243.3 62.0L1244.4 61.9L1245.4 62.1L1246.5 61.6L1247.6 61.5L1248.7 61.9L1249.7 61.7L1250.8 62.1L1251.9 62.0L1253.0 61.7L1254.0 62.0L1255.1 61.4L1256.2 61.9L1257.2 61.9L1258.3 61.6L1259.4 61.7L1260.5 62.6L1261.5 62.1L1262.6 61.9L1263.7 61.8L1264.8 62.2L1265.8 61.5L1266.9 62.2L1268.0 62.0L1269.1 62.0L1270.1 62.3L1271.2 61.5L1272.3 61.0L1273.4 61.8L1274.4 61.1L1275.5 61.8L1276.6 61.9L1277.7 61.7L1278.7 62.0L1279.8 61.7L1280.9 62.0L1282.0 62.1L1283.0 62.0L1284.1 62.1L1285.2 61.6L1286.2 62.4L1287.3 62.0L1288.4 61.8L1289.5 61.8L1290.5 61.9L1291.6 61.4L1292.7 62.1L1293.8 62.3L1294.8 62.4L1295.9 62.2L1297.0 62.2L1298.1 61.7L1299.1 62.0L1300.2 62.6L1301.3 61.9L1302.4 61.8L1303.4 61.8L1304.5 61.8L1305.6 63.0L1306.7 62.5L1307.7 61.9L1308.8 61.8L1309.9 62.0L1311.0 62.5L1312.0 62.2L1313.1 62.1L1314.2 62.0L1315.2 61.9L1316.3 61.5L1317.4 62.2L1318.5 62.0L1319.5 62.4L1320.6 62.0L1321.7 61.7L1322.8 61.4L1323.8 61.5L1324.9 62.1L1326.0 61.4L1327.1 61.8L1328.1 62.3L1329.2 61.8L1330.3 61.8L1331.4 62.0L1332.4 62.3L1333.5 62.2L1334.6 62.0L1335.7 62.4L1336.7 62.4L1337.8 62.1L1338.9 62.6L1339.9 62.2L1341.0 62.4L1342.1 61.8L1343.2 62.8L1344.2 62.4L1345.3 62.2L1346.4 62.6L1347.5 62.1L1348.5 62.3L1349.6 62.5L1350.7 62.6L1351.8 62.8L1352.8 62.6L1353.9 61.9L1355.0 61.8L1356.1 61.8L1357.1 62.2L1358.2 62.0L1359.3 62.7L1360.4 62.0L1361.4 62.9L1362.5 62.1L1363.6 62.4L1364.7 61.8L1365.7 62.8L1366.8 62.4L1367.9 62.6L1368.9 63.2L1370.0 62.8L1371.1 62.7L1372.2 62.6L1373.2 62.9L1374.3 62.5L1375.4 62.6L1376.5 62.4L1377.5 61.9L1378.6 61.9L1379.7 62.3L1380.8 62.5L1381.8 62.2L1382.9 62.2L1384.0 62.2L1385.1 63.0L1386.1 62.5L1387.2 62.1L1388.3 62.1L1389.4 62.6L1390.4 62.4L1391.5 62.3L1392.6 62.0L1393.6 62.6L1394.7 61.9L1395.8 63.1L1396.9 62.5L1397.9 62.4L1399.0 62.9L1400.1 62.6L1401.2 62.2L1402.2 62.8L1403.3 62.6L1404.4 62.7L1405.5 62.3L1406.5 62.8L1407.6 62.7L1408.7 62.8L1409.8 62.7L1410.8 62.8L1411.9 63.0L1413.0 62.9L1414.1 63.1L1415.1 62.2L1416.2 63.0L1417.3 63.0L1418.4 63.1L1419.4 62.5L1420.5 62.5L1421.6 62.6L1422.6 62.4L1423.7 62.7L1424.8 63.5L1425.9 62.6L1426.9 63.1L1428.0 63.1L1429.1 62.8L1430.2 62.9L1431.2 62.7L1432.3 62.9L1433.4 63.9L1434.5 63.6L1435.5 62.5L1436.6 63.0L1437.7 62.2L1438.8 63.1L1439.8 62.7L1440.9 63.2L1442.0 63.0L1443.1 63.4L1444.1 62.8L1445.2 62.8L1446.3 63.5L1447.3 63.6L1448.4 63.1L1449.5 63.4L1450.6 62.9L1451.6 62.9L1452.7 62.9L1453.8 64.1L1454.9 63.2L1455.9 63.0L1457.0 62.6L1458.1 63.9L1459.2 63.3L1460.2 63.4L1461.3 62.7L1462.4 63.6L1463.5 63.2L1464.5 63.1L1465.6 63.5L1466.7 63.8L1467.8 63.5L1468.8 63.2L1469.9 63.6L1471.0 63.1L1472.1 63.3L1473.1 62.9L1474.2 64.0L1475.3 63.2L1476.3 62.9L1477.4 63.5L1478.5 63.8L1479.6 63.1L1480.6 63.3L1481.7 63.3L1482.8 63.9L1483.9 63.3L1484.9 64.3L1486.0 63.7L1487.1 63.9L1488.2 63.1L1489.2 63.6L1490.3 63.2L1491.4 63.5L1492.5 63.1L1493.5 63.8L1494.6 63.2L1495.7 64.0L1496.8 63.2L1497.8 63.6L1498.9 63.9L1500.0 63.5L1501.0 63.7L1502.1 64.0L1503.2 63.6L1504.3 63.9L1505.3 62.9L1506.4 63.8L1507.5 64.1L1508.6 63.5L1509.6 63.2L1510.7 64.4L1511.8 63.2L1512.9 63.2L1513.9 63.7L1515.0 63.9L1516.1 64.2L1517.2 63.7L1518.2 63.9L1519.3 64.0L1520.4 64.0L1521.5 64.0L1522.5 63.9L1523.6 63.9L1524.7 64.0L1525.8 63.5L1526.8 63.8L1527.9 64.1L1529.0 63.4L1530.0 63.4L1531.1 63.8L1532.2 63.7L1533.3 64.3L1534.3 63.9L1535.4 63.9L1536.5 63.5L1537.6 63.3L1538.6 63.6L1539.7 64.0L1540.8 64.5L1541.9 64.5L1542.9 63.7L1544.0 63.8L1545.1 64.1L1546.2 63.9L1547.2 64.4L1548.3 64.3L1549.4 63.9L1550.5 64.6L1551.5 63.7L1552.6 64.2L1553.7 63.3L1554.7 64.3L1555.8 63.5L1556.9 64.3L1558.0 63.5L1559.0 64.6L1560.1 64.2L1561.2 63.8L1562.3 64.4L1563.3 63.9L1564.4 63.3L1565.5 64.3L1566.6 64.6L1567.6 64.2L1568.7 64.7L1569.8 64.5L1570.9 64.6L1571.9 64.5L1573.0 64.5L1574.1 64.1L1575.2 64.3L1576.2 64.6L1577.3 64.3L1578.4 64.3L1579.5 64.0L1580.5 64.7L1581.6 64.8L1582.7 63.9L1583.7 64.0L1584.8 65.1L1585.9 64.1L1587.0 64.8L1588.0 64.6L1589.1 65.2L1590.2 64.5L1591.3 64.4L1592.3 64.1L1593.4 64.5L1594.5 64.9L1595.6 64.5L1596.6 64.9L1597.7 64.8L1598.8 64.9L1599.9 63.9L1600.9 63.9L1602.0 65.0L1603.1 64.2L1604.2 64.7L1605.2 64.5L1606.3 64.6L1607.4 65.0L1608.4 64.9L1609.5 64.8L1610.6 65.0L1611.7 64.2L1612.7 64.1L1613.8 64.8L1614.9 65.1L1616.0 64.2L1617.0 64.7L1618.1 65.3L1619.2 65.1L1620.3 65.0L1621.3 65.0L1622.4 64.3L1623.5 64.8L1624.6 65.0L1625.6 64.9L1626.7 64.5L1627.8 64.4L1628.9 65.1L1629.9 65.2L1631.0 64.9L1632.1 65.3L1633.2 64.5L1634.2 65.3L1635.3 65.3L1636.4 65.7L1637.4 64.8L1638.5 65.0L1639.6 65.2L1640.7 64.6L1641.7 64.7L1642.8 65.0L1643.9 65.4L1645.0 64.4L1646.0 64.7L1647.1 65.0L1648.2 64.3L1649.3 64.7L1650.3 65.1L1651.4 65.0L1652.5 65.1L1653.6 65.1L1654.6 65.7L1655.7 64.9L1656.8 65.2L1657.9 65.5L1658.9 65.4L1660.0 65.0L1661.1 65.3L1662.1 65.7L1663.2 65.5L1664.3 65.5L1665.4 65.0L1666.4 65.4L1667.5 65.3L1668.6 65.8L1669.7 65.2L1670.7 65.4L1671.8 64.7L1672.9 65.4L1674.0 65.6L1675.0 65.2L1676.1 65.0L1677.2 65.3L1678.3 65.2L1679.3 65.8L1680.4 65.0L1681.5 65.4L1682.6 65.8L1683.6 65.4L1684.7 65.1L1685.8 65.3L1686.9 65.4L1687.9 65.5L1689.0 65.4L1690.1 66.0L1691.1 66.1L1692.2 65.1L1693.3 65.7L1694.4 66.1L1695.4 65.4L1696.5 66.0L1697.6 65.4L1698.7 65.7L1699.7 65.4L1700.8 65.7L1701.9 65.4L1703.0 66.0L1704.0 65.7L1705.1 65.9L1706.2 66.3L1707.3 66.0L1708.3 65.2L1709.4 65.5L1710.5 66.3L1711.6 65.9L1712.6 65.8L1713.7 65.6L1714.8 66.1L1715.8 65.8L1716.9 65.7L1718.0 65.6L1719.1 65.8L1720.1 65.1L1721.2 66.5L1722.3 65.4L1723.4 65.6L1724.4 65.3L1725.5 66.0L1726.6 65.9L1727.7 66.1L1728.7 65.7L1729.8 66.4L1730.9 65.8L1732.0 65.5L1733.0 66.3L1734.1 66.2L1735.2 66.4L1736.3 66.3L1737.3 65.9L1738.4 66.3L1739.5 65.7L1740.6 65.6L1741.6 66.7L1742.7 65.6L1743.8 66.9L1744.8 66.4L1745.9 66.0L1747.0 65.5L1748.1 66.2L1749.1 66.0L1750.2 65.7L1751.3 66.3L1752.4 65.9L1753.4 65.6L1754.5 65.8L1755.6 66.1L1756.7 66.3L1757.7 65.8L1758.8 65.8L1759.9 66.5L1761.0 66.8L1762.0 66.0L1763.1 66.8L1764.2 66.1L1765.3 67.1L1766.3 66.3L1767.4 66.7L1768.5 66.1L1769.5 66.6L1770.6 66.6L1771.7 66.3L1772.8 66.5L1773.8 66.1L1774.9 66.5L1776.0 66.8L1777.1 66.1L1778.1 67.0L1779.2 65.9L1780.3 66.7L1781.4 66.7L1782.4 67.0L1783.5 67.2L1784.6 66.7L1785.7 66.6L1786.7 66.6L1787.8 67.2L1788.9 66.2L1790.0 66.5L1791.0 66.5L1792.1 66.8L1793.2 66.4L1794.2 66.6L1795.3 66.8L1796.4 67.1L1797.5 66.6L1798.5 67.4L1799.6 66.6L1800.7 67.4L1801.8 67.2L1802.8 66.8L1803.9 67.0L1805.0 67.0L1806.1 67.5L1807.1 66.5L1808.2 67.4L1809.3 66.8L1810.4 66.8" fill="none" stroke="#d62728" stroke-width="8.5" stroke-linejoin="round" stroke-linecap="square" clip-path="url(#cr)"/>
<g opacity="0.1" clip-path="url(#cr)"><path d="M1176.7 39.8L1177.8 46.8L1178.8 46.8L1179.9 47.8L1181.0 44.8L1182.1 47.4L1183.1 44.9L1184.2 42.2L1185.3 44.8L1186.4 47.3L1187.4 46.3L1188.5 45.2L1189.6 43.3L1190.7 45.7L1191.7 47.7L1192.8 47.1L1193.9 45.6L1195.0 47.9L1196.0 46.0L1197.1 46.9L1198.2 46.6L1199.3 47.5L1200.3 45.7L1201.4 45.4L1202.5 45.9L1203.5 46.6L1204.6 45.7L1205.7 47.9L1206.8 46.6L1207.8 45.9L1208.9 47.8L1210.0 46.5L1211.1 47.5L1212.1 45.1L1213.2 45.2L1214.3 45.9L1215.4 47.1L1216.4 47.6L1217.5 46.2L1218.6 45.3L1219.7 46.7L1220.7 47.2L1221.8 45.5L1222.9 45.1L1224.0 45.6L1225.0 48.0L1226.1 47.5L1227.2 45.9L1228.3 44.5L1229.3 45.1L1230.4 47.2L1231.5 47.3L1232.5 47.7L1233.6 47.8L1234.7 46.6L1235.8 43.9L1236.8 46.8L1237.9 45.1L1239.0 46.0L1240.1 47.4L1241.1 44.2L1242.2 44.1L1243.3 46.8L1244.4 47.0L1245.4 45.7L1246.5 47.9L1247.6 47.6L1248.7 45.5L1249.7 46.8L1250.8 47.8L1251.9 46.8L1253.0 46.3L1254.0 46.9L1255.1 46.8L1256.2 47.4L1257.2 47.3L1258.3 48.0L1259.4 46.3L1260.5 46.8L1261.5 48.0L1262.6 46.2L1263.7 46.1L1264.8 45.6L1265.8 47.2L1266.9 48.2L1268.0 47.8L1269.1 47.0L1270.1 48.1L1271.2 43.3L1272.3 46.3L1273.4 47.6L1274.4 45.0L1275.5 47.9L1276.6 46.1L1277.7 47.8L1278.7 47.7L1279.8 47.9L1280.9 46.4L1282.0 48.2L1283.0 47.5L1284.1 47.3L1285.2 45.0L1286.2 47.5L1287.3 44.8L1288.4 43.9L1289.5 44.4L1290.5 42.8L1291.6 41.4L1292.7 47.8L1293.8 46.7L1294.8 48.0L1295.9 45.3L1297.0 47.6L1298.1 48.0L1299.1 47.5L1300.2 45.8L1301.3 46.7L1302.4 47.3L1303.4 45.5L1304.5 46.2L1305.6 46.5L1306.7 47.2L1307.7 48.2L1308.8 44.8L1309.9 48.0L1311.0 45.6L1312.0 48.2L1313.1 46.6L1314.2 43.7L1315.2 48.2L1316.3 47.4L1317.4 46.2L1318.5 46.6L1319.5 46.3L1320.6 47.1L1321.7 47.3L1322.8 45.0L1323.8 45.9L1324.9 47.8L1326.0 47.4L1327.1 46.2L1328.1 48.3L1329.2 45.9L1330.3 48.4L1331.4 47.6L1332.4 45.2L1333.5 45.1L1334.6 48.2L1335.7 46.9L1336.7 48.2L1337.8 46.0L1338.9 46.3L1339.9 46.5L1341.0 48.1L1342.1 48.0L1343.2 47.6L1344.2 44.5L1345.3 47.5L1346.4 46.8L1347.5 46.6L1348.5 46.7L1349.6 46.9L1350.7 46.2L1351.8 47.9L1352.8 46.6L1353.9 46.4L1355.0 45.7L1356.1 47.9L1357.1 46.4L1358.2 46.6L1359.3 47.2L1360.4 47.6L1361.4 48.5L1362.5 47.9L1363.6 47.5L1364.7 48.4L1365.7 45.7L1366.8 44.5L1367.9 48.0L1368.9 44.8L1370.0 47.3L1371.1 48.0L1372.2 47.5L1373.2 45.9L1374.3 46.0L1375.4 48.4L1376.5 47.9L1377.5 47.6L1378.6 47.2L1379.7 47.0L1380.8 45.9L1381.8 45.1L1382.9 48.7L1384.0 45.4L1385.1 45.0L1386.1 46.1L1387.2 47.1L1388.3 47.6L1389.4 46.2L1390.4 47.4L1391.5 48.5L1392.6 48.7L1393.6 42.2L1394.7 48.6L1395.8 48.6L1396.9 46.7L1397.9 47.5L1399.0 36.2L1400.1 46.9L1401.2 45.1L1402.2 46.5L1403.3 47.6L1404.4 47.8L1405.5 47.7L1406.5 45.9L1407.6 43.3L1408.7 45.4L1409.8 44.5L1410.8 48.7L1411.9 47.6L1413.0 44.4L1414.1 48.4L1415.1 46.4L1416.2 46.1L1417.3 48.3L1418.4 47.9L1419.4 44.7L1420.5 46.6L1421.6 48.7L1422.6 44.2L1423.7 46.0L1424.8 48.4L1425.9 47.9L1426.9 47.2L1428.0 48.0L1429.1 48.7L1430.2 46.6L1431.2 47.5L1432.3 46.0L1433.4 47.7L1434.5 48.5L1435.5 47.5L1436.6 47.7L1437.7 46.5L1438.8 48.3L1439.8 45.8L1440.9 46.8L1442.0 47.0L1443.1 46.7L1444.1 46.6L1445.2 47.9L1446.3 48.0L1447.3 48.6L1448.4 39.8L1449.5 49.1L1450.6 48.5L1451.6 48.2L1452.7 48.5L1453.8 44.7L1454.9 45.6L1455.9 49.1L1457.0 44.3L1458.1 47.5L1459.2 48.2L1460.2 47.9L1461.3 46.6L1462.4 46.7L1463.5 49.1L1464.5 45.1L1465.6 43.5L1466.7 47.5L1467.8 48.3L1468.8 47.6L1469.9 46.4L1471.0 45.8L1472.1 43.1L1473.1 48.9L1474.2 47.6L1475.3 45.8L1476.3 43.4L1477.4 44.5L1478.5 48.1L1479.6 48.6L1480.6 48.7L1481.7 47.4L1482.8 47.9L1483.9 48.9L1484.9 49.0L1486.0 48.8L1487.1 48.5L1488.2 48.4L1489.2 48.8L1490.3 49.3L1491.4 48.6L1492.5 46.6L1493.5 48.5L1494.6 48.8L1495.7 45.7L1496.8 48.8L1497.8 45.4L1498.9 48.3L1500.0 48.3L1501.0 48.8L1502.1 47.8L1503.2 48.9L1504.3 47.1L1505.3 45.8L1506.4 46.1L1507.5 49.5L1508.6 48.4L1509.6 47.7L1510.7 48.9L1511.8 45.7L1512.9 47.8L1513.9 49.5L1515.0 46.8L1516.1 45.7L1517.2 48.9L1518.2 47.8L1519.3 46.6L1520.4 47.0L1521.5 47.1L1522.5 49.4L1523.6 48.3L1524.7 49.4L1525.8 47.9L1526.8 48.8L1527.9 48.6L1529.0 46.3L1530.0 49.0L1531.1 48.6L1532.2 49.5L1533.3 46.8L1534.3 49.4L1535.4 48.6L1536.5 48.6L1537.6 48.0L1538.6 47.4L1539.7 49.5L1540.8 47.8L1541.9 45.9L1542.9 48.8L1544.0 49.8L1545.1 49.5L1546.2 48.6L1547.2 48.9L1548.3 48.0L1549.4 49.3L1550.5 48.8L1551.5 47.5L1552.6 49.7L1553.7 49.7L1554.7 47.8L1555.8 46.6L1556.9 45.9L1558.0 49.3L1559.0 48.9L1560.1 48.0L1561.2 48.9L1562.3 42.8L1563.3 45.4L1564.4 46.7L1565.5 37.6L1566.6 48.8L1567.6 47.4L1568.7 49.0L1569.8 48.7L1570.9 49.2L1571.9 49.9L1573.0 45.3L1574.1 41.2L1575.2 48.1L1576.2 48.8L1577.3 48.9L1578.4 47.6L1579.5 49.1L1580.5 49.1L1581.6 49.5L1582.7 48.1L1583.7 47.9L1584.8 47.9L1585.9 48.9L1587.0 49.1L1588.0 49.2L1589.1 49.6L1590.2 49.2L1591.3 47.1L1592.3 49.9L1593.4 47.4L1594.5 48.5L1595.6 49.0L1596.6 47.5L1597.7 49.4L1598.8 49.3L1599.9 48.3L1600.9 46.8L1602.0 48.7L1603.1 50.3L1604.2 47.9L1605.2 48.7L1606.3 50.0L1607.4 50.3L1608.4 49.3L1609.5 49.7L1610.6 49.4L1611.7 46.8L1612.7 49.1L1613.8 48.4L1614.9 48.4L1616.0 50.0L1617.0 49.4L1618.1 45.1L1619.2 47.4L1620.3 47.6L1621.3 48.9L1622.4 46.9L1623.5 49.2L1624.6 47.9L1625.6 48.6L1626.7 48.4L1627.8 46.5L1628.9 50.5L1629.9 49.7L1631.0 49.3L1632.1 49.5L1633.2 49.9L1634.2 47.4L1635.3 49.9L1636.4 47.6L1637.4 48.5L1638.5 49.5L1639.6 50.0L1640.7 48.7L1641.7 49.5L1642.8 48.0L1643.9 50.5L1645.0 49.8L1646.0 47.7L1647.1 48.4L1648.2 49.4L1649.3 48.9L1650.3 49.5L1651.4 48.8L1652.5 49.2L1653.6 48.7L1654.6 46.3L1655.7 50.0L1656.8 50.4L1657.9 50.0L1658.9 49.1L1660.0 50.0L1661.1 47.6L1662.1 47.6L1663.2 48.2L1664.3 47.9L1665.4 46.4L1666.4 47.5L1667.5 49.2L1668.6 49.3L1669.7 47.9L1670.7 48.3L1671.8 50.5L1672.9 50.7L1674.0 50.9L1675.0 47.8L1676.1 48.3L1677.2 50.4L1678.3 50.0L1679.3 49.7L1680.4 50.4L1681.5 47.8L1682.6 48.9L1683.6 48.3L1684.7 48.1L1685.8 50.6L1686.9 46.5L1687.9 49.6L1689.0 48.3L1690.1 49.2L1691.1 47.6L1692.2 49.4L1693.3 50.4L1694.4 50.4L1695.4 50.3L1696.5 49.7L1697.6 51.0L1698.7 50.7L1699.7 50.2L1700.8 50.5L1701.9 47.8L1703.0 47.4L1704.0 45.5L1705.1 43.2L1706.2 50.9L1707.3 51.2L1708.3 49.4L1709.4 47.4L1710.5 48.6L1711.6 50.4L1712.6 50.3L1713.7 50.9L1714.8 50.7L1715.8 50.8L1716.9 50.6L1718.0 50.8L1719.1 48.7L1720.1 49.9L1721.2 50.2L1722.3 51.1L1723.4 50.1L1724.4 48.0L1725.5 50.6L1726.6 48.9L1727.7 48.6L1728.7 51.2L1729.8 50.8L1730.9 49.8L1732.0 48.3L1733.0 51.3L1734.1 46.1L1735.2 48.9L1736.3 48.9L1737.3 50.3L1738.4 51.4L1739.5 51.0L1740.6 50.4L1741.6 50.6L1742.7 50.6L1743.8 50.1L1744.8 50.1L1745.9 47.6L1747.0 51.4L1748.1 46.9L1749.1 44.6L1750.2 47.7L1751.3 48.4L1752.4 48.6L1753.4 49.4L1754.5 48.8L1755.6 48.8L1756.7 51.6L1757.7 49.9L1758.8 48.3L1759.9 47.4L1761.0 47.6L1762.0 48.5L1763.1 48.0L1764.2 45.6L1765.3 49.5L1766.3 50.4L1767.4 51.5L1768.5 50.4L1769.5 51.3L1770.6 50.3L1771.7 48.6L1772.8 50.5L1773.8 51.3L1774.9 48.1L1776.0 51.8L1777.1 50.4L1778.1 49.3L1779.2 51.2L1780.3 49.2L1781.4 48.1L1782.4 51.1L1783.5 48.4L1784.6 49.6L1785.7 50.0L1786.7 51.2L1787.8 51.3L1788.9 51.7L1790.0 51.2L1791.0 49.4L1792.1 50.7L1793.2 52.0L1794.2 50.3L1795.3 50.5L1796.4 51.9L1797.5 49.4L1798.5 52.0L1799.6 51.2L1800.7 48.4L1801.8 50.1L1802.8 51.1L1803.9 51.3L1805.0 51.6L1806.1 51.3L1807.1 51.4L1808.2 51.1L1809.3 50.6L1810.4 50.3L1810.4 85.3L1809.3 87.2L1808.2 85.2L1807.1 83.7L1806.1 85.7L1805.0 84.2L1803.9 83.9L1802.8 87.7L1801.8 84.0L1800.7 85.2L1799.6 83.7L1798.5 85.2L1797.5 83.7L1796.4 87.2L1795.3 83.5L1794.2 83.5L1793.2 83.6L1792.1 87.0L1791.0 84.3L1790.0 83.4L1788.9 86.1L1787.8 83.5L1786.7 84.1L1785.7 86.4L1784.6 83.8L1783.5 83.9L1782.4 87.1L1781.4 87.5L1780.3 84.6L1779.2 85.4L1778.1 85.3L1777.1 83.4L1776.0 83.6L1774.9 83.6L1773.8 84.3L1772.8 83.7L1771.7 83.1L1770.6 85.2L1769.5 84.6L1768.5 86.6L1767.4 84.2L1766.3 83.3L1765.3 84.0L1764.2 83.1L1763.1 83.9L1762.0 87.1L1761.0 83.9L1759.9 83.0L1758.8 85.1L1757.7 84.6L1756.7 84.4L1755.6 84.2L1754.5 83.6L1753.4 85.0L1752.4 89.1L1751.3 86.2L1750.2 84.1L1749.1 86.9L1748.1 83.3L1747.0 84.2L1745.9 83.6L1744.8 82.9L1743.8 85.8L1742.7 87.5L1741.6 89.3L1740.6 86.5L1739.5 83.7L1738.4 85.0L1737.3 83.5L1736.3 83.5L1735.2 84.9L1734.1 83.5L1733.0 83.0L1732.0 83.1L1730.9 85.3L1729.8 85.3L1728.7 82.6L1727.7 83.1L1726.6 82.6L1725.5 84.2L1724.4 85.7L1723.4 85.1L1722.3 83.3L1721.2 83.6L1720.1 83.4L1719.1 84.3L1718.0 82.9L1716.9 82.6L1715.8 84.6L1714.8 83.8L1713.7 83.5L1712.6 83.2L1711.6 84.1L1710.5 83.1L1709.4 84.7L1708.3 87.6L1707.3 82.4L1706.2 85.5L1705.1 83.1L1704.0 83.0L1703.0 83.5L1701.9 83.0L1700.8 82.9L1699.7 85.6L1698.7 84.2L1697.6 82.6L1696.5 83.5L1695.4 83.0L1694.4 83.3L1693.3 85.0L1692.2 86.1L1691.1 85.2L1690.1 83.1L1689.0 82.0L1687.9 83.8L1686.9 83.5L1685.8 85.3L1684.7 86.7L1683.6 82.8L1682.6 82.7L1681.5 84.4L1680.4 85.8L1679.3 84.1L1678.3 83.8L1677.2 82.0L1676.1 82.2L1675.0 82.5L1674.0 81.8L1672.9 83.4L1671.8 81.9L1670.7 85.3L1669.7 84.6L1668.6 84.1L1667.5 82.3L1666.4 81.7L1665.4 82.3L1664.3 84.2L1663.2 83.8L1662.1 85.6L1661.1 81.8L1660.0 83.8L1658.9 82.4L1657.9 82.6L1656.8 82.4L1655.7 82.5L1654.6 81.6L1653.6 86.1L1652.5 81.9L1651.4 84.2L1650.3 83.6L1649.3 83.9L1648.2 82.0L1647.1 81.6L1646.0 82.6L1645.0 85.1L1643.9 81.7L1642.8 83.9L1641.7 82.1L1640.7 81.6L1639.6 81.8L1638.5 81.7L1637.4 83.6L1636.4 81.9L1635.3 84.9L1634.2 82.2L1633.2 82.2L1632.1 83.1L1631.0 81.6L1629.9 81.7L1628.9 83.5L1627.8 82.8L1626.7 83.9L1625.6 84.0L1624.6 81.4L1623.5 85.0L1622.4 82.9L1621.3 81.4L1620.3 83.7L1619.2 81.5L1618.1 83.0L1617.0 81.6L1616.0 81.6L1614.9 82.5L1613.8 82.4L1612.7 82.3L1611.7 82.2L1610.6 82.1L1609.5 84.9L1608.4 82.1L1607.4 82.9L1606.3 81.8L1605.2 86.3L1604.2 86.1L1603.1 84.4L1602.0 83.1L1600.9 82.7L1599.9 82.7L1598.8 81.7L1597.7 84.0L1596.6 83.0L1595.6 82.9L1594.5 81.9L1593.4 82.4L1592.3 83.1L1591.3 81.2L1590.2 84.0L1589.1 80.9L1588.0 84.3L1587.0 80.8L1585.9 81.7L1584.8 81.8L1583.7 82.0L1582.7 80.9L1581.6 84.1L1580.5 81.5L1579.5 82.1L1578.4 84.2L1577.3 81.8L1576.2 82.9L1575.2 81.3L1574.1 82.9L1573.0 86.3L1571.9 84.7L1570.9 81.9L1569.8 81.9L1568.7 85.1L1567.6 83.2L1566.6 83.0L1565.5 80.9L1564.4 82.1L1563.3 83.7L1562.3 81.8L1561.2 82.1L1560.1 85.2L1559.0 85.9L1558.0 82.1L1556.9 81.7L1555.8 81.7L1554.7 82.2L1553.7 80.7L1552.6 81.1L1551.5 80.4L1550.5 80.3L1549.4 80.4L1548.3 80.4L1547.2 84.6L1546.2 81.0L1545.1 82.2L1544.0 81.3L1542.9 83.0L1541.9 82.5L1540.8 81.8L1539.7 81.3L1538.6 81.1L1537.6 81.3L1536.5 83.2L1535.4 81.4L1534.3 81.7L1533.3 80.6L1532.2 80.6L1531.1 83.2L1530.0 80.7L1529.0 80.6L1527.9 80.4L1526.8 82.2L1525.8 83.7L1524.7 83.4L1523.6 85.1L1522.5 80.8L1521.5 80.8L1520.4 82.5L1519.3 92.9L1518.2 80.7L1517.2 81.0L1516.1 81.1L1515.0 82.3L1513.9 83.3L1512.9 82.0L1511.8 83.2L1510.7 80.4L1509.6 81.5L1508.6 81.2L1507.5 80.2L1506.4 82.4L1505.3 81.6L1504.3 82.5L1503.2 81.7L1502.1 83.4L1501.0 82.7L1500.0 80.4L1498.9 80.8L1497.8 81.2L1496.8 80.6L1495.7 81.7L1494.6 81.5L1493.5 81.3L1492.5 83.4L1491.4 81.9L1490.3 81.2L1489.2 81.1L1488.2 80.1L1487.1 81.3L1486.0 80.1L1484.9 79.7L1483.9 82.6L1482.8 80.2L1481.7 79.8L1480.6 80.6L1479.6 79.8L1478.5 81.3L1477.4 82.8L1476.3 82.4L1475.3 81.5L1474.2 81.2L1473.1 80.2L1472.1 80.5L1471.0 83.4L1469.9 83.7L1468.8 79.6L1467.8 80.0L1466.7 81.0L1465.6 80.6L1464.5 79.5L1463.5 79.3L1462.4 82.0L1461.3 80.0L1460.2 79.7L1459.2 80.2L1458.1 82.1L1457.0 80.8L1455.9 82.6L1454.9 80.2L1453.8 80.6L1452.7 81.0L1451.6 80.4L1450.6 79.4L1449.5 82.3L1448.4 82.1L1447.3 81.6L1446.3 79.2L1445.2 79.5L1444.1 81.6L1443.1 79.4L1442.0 80.6L1440.9 80.3L1439.8 80.0L1438.8 81.4L1437.7 79.6L1436.6 80.0L1435.5 81.6L1434.5 80.9L1433.4 80.6L1432.3 79.2L1431.2 79.8L1430.2 80.2L1429.1 80.7L1428.0 79.6L1426.9 81.8L1425.9 79.0L1424.8 79.4L1423.7 81.5L1422.6 79.0L1421.6 82.9L1420.5 81.7L1419.4 78.9L1418.4 80.7L1417.3 79.2L1416.2 80.9L1415.1 79.5L1414.1 81.3L1413.0 81.7L1411.9 80.3L1410.8 79.9L1409.8 79.0L1408.7 80.3L1407.6 79.8L1406.5 79.6L1405.5 78.9L1404.4 79.7L1403.3 81.9L1402.2 80.4L1401.2 79.9L1400.1 78.7L1399.0 79.1L1397.9 80.8L1396.9 80.7L1395.8 79.1L1394.7 82.1L1393.6 83.2L1392.6 82.3L1391.5 82.4L1390.4 82.9L1389.4 80.5L1388.3 80.7L1387.2 81.2L1386.1 79.3L1385.1 79.8L1384.0 83.4L1382.9 84.1L1381.8 80.7L1380.8 79.3L1379.7 82.7L1378.6 81.2L1377.5 81.4L1376.5 80.7L1375.4 82.1L1374.3 79.4L1373.2 78.7L1372.2 78.9L1371.1 81.3L1370.0 80.2L1368.9 78.3L1367.9 80.4L1366.8 81.3L1365.7 79.1L1364.7 78.5L1363.6 80.2L1362.5 79.2L1361.4 81.8L1360.4 78.5L1359.3 78.3L1358.2 78.3L1357.1 79.7L1356.1 78.7L1355.0 79.5L1353.9 80.9L1352.8 79.3L1351.8 80.2L1350.7 80.1L1349.6 78.9L1348.5 78.8L1347.5 80.3L1346.4 79.6L1345.3 82.8L1344.2 80.1L1343.2 78.2L1342.1 80.1L1341.0 79.1L1339.9 80.0L1338.9 78.0L1337.8 79.3L1336.7 78.4L1335.7 79.9L1334.6 81.6L1333.5 79.6L1332.4 84.4L1331.4 80.7L1330.3 78.0L1329.2 78.9L1328.1 81.2L1327.1 81.0L1326.0 78.1L1324.9 79.3L1323.8 80.1L1322.8 78.1L1321.7 77.9L1320.6 78.4L1319.5 78.9L1318.5 81.1L1317.4 78.0L1316.3 80.5L1315.2 79.0L1314.2 79.2L1313.1 79.9L1312.0 78.3L1311.0 78.4L1309.9 78.4L1308.8 81.2L1307.7 82.9L1306.7 78.3L1305.6 81.8L1304.5 80.6L1303.4 78.1L1302.4 78.7L1301.3 77.7L1300.2 79.7L1299.1 80.5L1298.1 79.1L1297.0 79.4L1295.9 80.0L1294.8 78.4L1293.8 78.1L1292.7 85.3L1291.6 78.0L1290.5 92.3L1289.5 82.0L1288.4 80.3L1287.3 81.2L1286.2 81.6L1285.2 77.9L1284.1 79.4L1283.0 80.7L1282.0 81.4L1280.9 82.8L1279.8 79.9L1278.7 81.8L1277.7 78.3L1276.6 77.9L1275.5 79.5L1274.4 77.9L1273.4 80.3L1272.3 78.9L1271.2 80.4L1270.1 78.6L1269.1 79.9L1268.0 80.1L1266.9 77.8L1265.8 81.6L1264.8 80.2L1263.7 77.7L1262.6 78.9L1261.5 78.8L1260.5 82.3L1259.4 78.8L1258.3 80.1L1257.2 79.6L1256.2 79.7L1255.1 79.1L1254.0 81.3L1253.0 83.9L1251.9 79.8L1250.8 82.3L1249.7 80.4L1248.7 78.5L1247.6 79.5L1246.5 78.8L1245.4 77.7L1244.4 80.0L1243.3 79.2L1242.2 79.7L1241.1 79.1L1240.1 79.6L1239.0 78.0L1237.9 79.4L1236.8 78.3L1235.8 80.6L1234.7 79.6L1233.6 79.5L1232.5 78.0L1231.5 79.0L1230.4 80.6L1229.3 77.5L1228.3 79.8L1227.2 79.0L1226.1 78.8L1225.0 79.4L1224.0 79.9L1222.9 78.1L1221.8 78.3L1220.7 77.6L1219.7 77.8L1218.6 78.9L1217.5 81.1L1216.4 79.6L1215.4 78.0L1214.3 78.1L1213.2 77.8L1212.1 79.8L1211.1 80.3L1210.0 78.4L1208.9 79.2L1207.8 79.7L1206.8 79.8L1205.7 78.6L1204.6 81.4L1203.5 78.3L1202.5 79.7L1201.4 79.9L1200.3 77.4L1199.3 78.4L1198.2 82.2L1197.1 80.8L1196.0 79.0L1195.0 80.8L1193.9 78.6L1192.8 79.5L1191.7 77.8L1190.7 77.6L1189.6 77.8L1188.5 78.5L1187.4 79.5L1186.4 78.7L1185.3 79.6L1184.2 79.9L1183.1 79.8L1182.1 82.1L1181.0 77.3L1179.9 79.9L1178.8 78.5L1177.8 81.7L1176.7 78.0Z" fill="#d62728" stroke="#d62728" stroke-width="8.3" stroke-linejoin="round"/></g>
<clipPath id="b_cr_red"><path d="M1176.7 39.8L1177.8 46.8L1178.8 46.8L1179.9 47.8L1181.0 44.8L1182.1 47.4L1183.1 44.9L1184.2 42.2L1185.3 44.8L1186.4 47.3L1187.4 46.3L1188.5 45.2L1189.6 43.3L1190.7 45.7L1191.7 47.7L1192.8 47.1L1193.9 45.6L1195.0 47.9L1196.0 46.0L1197.1 46.9L1198.2 46.6L1199.3 47.5L1200.3 45.7L1201.4 45.4L1202.5 45.9L1203.5 46.6L1204.6 45.7L1205.7 47.9L1206.8 46.6L1207.8 45.9L1208.9 47.8L1210.0 46.5L1211.1 47.5L1212.1 45.1L1213.2 45.2L1214.3 45.9L1215.4 47.1L1216.4 47.6L1217.5 46.2L1218.6 45.3L1219.7 46.7L1220.7 47.2L1221.8 45.5L1222.9 45.1L1224.0 45.6L1225.0 48.0L1226.1 47.5L1227.2 45.9L1228.3 44.5L1229.3 45.1L1230.4 47.2L1231.5 47.3L1232.5 47.7L1233.6 47.8L1234.7 46.6L1235.8 43.9L1236.8 46.8L1237.9 45.1L1239.0 46.0L1240.1 47.4L1241.1 44.2L1242.2 44.1L1243.3 46.8L1244.4 47.0L1245.4 45.7L1246.5 47.9L1247.6 47.6L1248.7 45.5L1249.7 46.8L1250.8 47.8L1251.9 46.8L1253.0 46.3L1254.0 46.9L1255.1 46.8L1256.2 47.4L1257.2 47.3L1258.3 48.0L1259.4 46.3L1260.5 46.8L1261.5 48.0L1262.6 46.2L1263.7 46.1L1264.8 45.6L1265.8 47.2L1266.9 48.2L1268.0 47.8L1269.1 47.0L1270.1 48.1L1271.2 43.3L1272.3 46.3L1273.4 47.6L1274.4 45.0L1275.5 47.9L1276.6 46.1L1277.7 47.8L1278.7 47.7L1279.8 47.9L1280.9 46.4L1282.0 48.2L1283.0 47.5L1284.1 47.3L1285.2 45.0L1286.2 47.5L1287.3 44.8L1288.4 43.9L1289.5 44.4L1290.5 42.8L1291.6 41.4L1292.7 47.8L1293.8 46.7L1294.8 48.0L1295.9 45.3L1297.0 47.6L1298.1 48.0L1299.1 47.5L1300.2 45.8L1301.3 46.7L1302.4 47.3L1303.4 45.5L1304.5 46.2L1305.6 46.5L1306.7 47.2L1307.7 48.2L1308.8 44.8L1309.9 48.0L1311.0 45.6L1312.0 48.2L1313.1 46.6L1314.2 43.7L1315.2 48.2L1316.3 47.4L1317.4 46.2L1318.5 46.6L1319.5 46.3L1320.6 47.1L1321.7 47.3L1322.8 45.0L1323.8 45.9L1324.9 47.8L1326.0 47.4L1327.1 46.2L1328.1 48.3L1329.2 45.9L1330.3 48.4L1331.4 47.6L1332.4 45.2L1333.5 45.1L1334.6 48.2L1335.7 46.9L1336.7 48.2L1337.8 46.0L1338.9 46.3L1339.9 46.5L1341.0 48.1L1342.1 48.0L1343.2 47.6L1344.2 44.5L1345.3 47.5L1346.4 46.8L1347.5 46.6L1348.5 46.7L1349.6 46.9L1350.7 46.2L1351.8 47.9L1352.8 46.6L1353.9 46.4L1355.0 45.7L1356.1 47.9L1357.1 46.4L1358.2 46.6L1359.3 47.2L1360.4 47.6L1361.4 48.5L1362.5 47.9L1363.6 47.5L1364.7 48.4L1365.7 45.7L1366.8 44.5L1367.9 48.0L1368.9 44.8L1370.0 47.3L1371.1 48.0L1372.2 47.5L1373.2 45.9L1374.3 46.0L1375.4 48.4L1376.5 47.9L1377.5 47.6L1378.6 47.2L1379.7 47.0L1380.8 45.9L1381.8 45.1L1382.9 48.7L1384.0 45.4L1385.1 45.0L1386.1 46.1L1387.2 47.1L1388.3 47.6L1389.4 46.2L1390.4 47.4L1391.5 48.5L1392.6 48.7L1393.6 42.2L1394.7 48.6L1395.8 48.6L1396.9 46.7L1397.9 47.5L1399.0 36.2L1400.1 46.9L1401.2 45.1L1402.2 46.5L1403.3 47.6L1404.4 47.8L1405.5 47.7L1406.5 45.9L1407.6 43.3L1408.7 45.4L1409.8 44.5L1410.8 48.7L1411.9 47.6L1413.0 44.4L1414.1 48.4L1415.1 46.4L1416.2 46.1L1417.3 48.3L1418.4 47.9L1419.4 44.7L1420.5 46.6L1421.6 48.7L1422.6 44.2L1423.7 46.0L1424.8 48.4L1425.9 47.9L1426.9 47.2L1428.0 48.0L1429.1 48.7L1430.2 46.6L1431.2 47.5L1432.3 46.0L1433.4 47.7L1434.5 48.5L1435.5 47.5L1436.6 47.7L1437.7 46.5L1438.8 48.3L1439.8 45.8L1440.9 46.8L1442.0 47.0L1443.1 46.7L1444.1 46.6L1445.2 47.9L1446.3 48.0L1447.3 48.6L1448.4 39.8L1449.5 49.1L1450.6 48.5L1451.6 48.2L1452.7 48.5L1453.8 44.7L1454.9 45.6L1455.9 49.1L1457.0 44.3L1458.1 47.5L1459.2 48.2L1460.2 47.9L1461.3 46.6L1462.4 46.7L1463.5 49.1L1464.5 45.1L1465.6 43.5L1466.7 47.5L1467.8 48.3L1468.8 47.6L1469.9 46.4L1471.0 45.8L1472.1 43.1L1473.1 48.9L1474.2 47.6L1475.3 45.8L1476.3 43.4L1477.4 44.5L1478.5 48.1L1479.6 48.6L1480.6 48.7L1481.7 47.4L1482.8 47.9L1483.9 48.9L1484.9 49.0L1486.0 48.8L1487.1 48.5L1488.2 48.4L1489.2 48.8L1490.3 49.3L1491.4 48.6L1492.5 46.6L1493.5 48.5L1494.6 48.8L1495.7 45.7L1496.8 48.8L1497.8 45.4L1498.9 48.3L1500.0 48.3L1501.0 48.8L1502.1 47.8L1503.2 48.9L1504.3 47.1L1505.3 45.8L1506.4 46.1L1507.5 49.5L1508.6 48.4L1509.6 47.7L1510.7 48.9L1511.8 45.7L1512.9 47.8L1513.9 49.5L1515.0 46.8L1516.1 45.7L1517.2 48.9L1518.2 47.8L1519.3 46.6L1520.4 47.0L1521.5 47.1L1522.5 49.4L1523.6 48.3L1524.7 49.4L1525.8 47.9L1526.8 48.8L1527.9 48.6L1529.0 46.3L1530.0 49.0L1531.1 48.6L1532.2 49.5L1533.3 46.8L1534.3 49.4L1535.4 48.6L1536.5 48.6L1537.6 48.0L1538.6 47.4L1539.7 49.5L1540.8 47.8L1541.9 45.9L1542.9 48.8L1544.0 49.8L1545.1 49.5L1546.2 48.6L1547.2 48.9L1548.3 48.0L1549.4 49.3L1550.5 48.8L1551.5 47.5L1552.6 49.7L1553.7 49.7L1554.7 47.8L1555.8 46.6L1556.9 45.9L1558.0 49.3L1559.0 48.9L1560.1 48.0L1561.2 48.9L1562.3 42.8L1563.3 45.4L1564.4 46.7L1565.5 37.6L1566.6 48.8L1567.6 47.4L1568.7 49.0L1569.8 48.7L1570.9 49.2L1571.9 49.9L1573.0 45.3L1574.1 41.2L1575.2 48.1L1576.2 48.8L1577.3 48.9L1578.4 47.6L1579.5 49.1L1580.5 49.1L1581.6 49.5L1582.7 48.1L1583.7 47.9L1584.8 47.9L1585.9 48.9L1587.0 49.1L1588.0 49.2L1589.1 49.6L1590.2 49.2L1591.3 47.1L1592.3 49.9L1593.4 47.4L1594.5 48.5L1595.6 49.0L1596.6 47.5L1597.7 49.4L1598.8 49.3L1599.9 48.3L1600.9 46.8L1602.0 48.7L1603.1 50.3L1604.2 47.9L1605.2 48.7L1606.3 50.0L1607.4 50.3L1608.4 49.3L1609.5 49.7L1610.6 49.4L1611.7 46.8L1612.7 49.1L1613.8 48.4L1614.9 48.4L1616.0 50.0L1617.0 49.4L1618.1 45.1L1619.2 47.4L1620.3 47.6L1621.3 48.9L1622.4 46.9L1623.5 49.2L1624.6 47.9L1625.6 48.6L1626.7 48.4L1627.8 46.5L1628.9 50.5L1629.9 49.7L1631.0 49.3L1632.1 49.5L1633.2 49.9L1634.2 47.4L1635.3 49.9L1636.4 47.6L1637.4 48.5L1638.5 49.5L1639.6 50.0L1640.7 48.7L1641.7 49.5L1642.8 48.0L1643.9 50.5L1645.0 49.8L1646.0 47.7L1647.1 48.4L1648.2 49.4L1649.3 48.9L1650.3 49.5L1651.4 48.8L1652.5 49.2L1653.6 48.7L1654.6 46.3L1655.7 50.0L1656.8 50.4L1657.9 50.0L1658.9 49.1L1660.0 50.0L1661.1 47.6L1662.1 47.6L1663.2 48.2L1664.3 47.9L1665.4 46.4L1666.4 47.5L1667.5 49.2L1668.6 49.3L1669.7 47.9L1670.7 48.3L1671.8 50.5L1672.9 50.7L1674.0 50.9L1675.0 47.8L1676.1 48.3L1677.2 50.4L1678.3 50.0L1679.3 49.7L1680.4 50.4L1681.5 47.8L1682.6 48.9L1683.6 48.3L1684.7 48.1L1685.8 50.6L1686.9 46.5L1687.9 49.6L1689.0 48.3L1690.1 49.2L1691.1 47.6L1692.2 49.4L1693.3 50.4L1694.4 50.4L1695.4 50.3L1696.5 49.7L1697.6 51.0L1698.7 50.7L1699.7 50.2L1700.8 50.5L1701.9 47.8L1703.0 47.4L1704.0 45.5L1705.1 43.2L1706.2 50.9L1707.3 51.2L1708.3 49.4L1709.4 47.4L1710.5 48.6L1711.6 50.4L1712.6 50.3L1713.7 50.9L1714.8 50.7L1715.8 50.8L1716.9 50.6L1718.0 50.8L1719.1 48.7L1720.1 49.9L1721.2 50.2L1722.3 51.1L1723.4 50.1L1724.4 48.0L1725.5 50.6L1726.6 48.9L1727.7 48.6L1728.7 51.2L1729.8 50.8L1730.9 49.8L1732.0 48.3L1733.0 51.3L1734.1 46.1L1735.2 48.9L1736.3 48.9L1737.3 50.3L1738.4 51.4L1739.5 51.0L1740.6 50.4L1741.6 50.6L1742.7 50.6L1743.8 50.1L1744.8 50.1L1745.9 47.6L1747.0 51.4L1748.1 46.9L1749.1 44.6L1750.2 47.7L1751.3 48.4L1752.4 48.6L1753.4 49.4L1754.5 48.8L1755.6 48.8L1756.7 51.6L1757.7 49.9L1758.8 48.3L1759.9 47.4L1761.0 47.6L1762.0 48.5L1763.1 48.0L1764.2 45.6L1765.3 49.5L1766.3 50.4L1767.4 51.5L1768.5 50.4L1769.5 51.3L1770.6 50.3L1771.7 48.6L1772.8 50.5L1773.8 51.3L1774.9 48.1L1776.0 51.8L1777.1 50.4L1778.1 49.3L1779.2 51.2L1780.3 49.2L1781.4 48.1L1782.4 51.1L1783.5 48.4L1784.6 49.6L1785.7 50.0L1786.7 51.2L1787.8 51.3L1788.9 51.7L1790.0 51.2L1791.0 49.4L1792.1 50.7L1793.2 52.0L1794.2 50.3L1795.3 50.5L1796.4 51.9L1797.5 49.4L1798.5 52.0L1799.6 51.2L1800.7 48.4L1801.8 50.1L1802.8 51.1L1803.9 51.3L1805.0 51.6L1806.1 51.3L1807.1 51.4L1808.2 51.1L1809.3 50.6L1810.4 50.3L1810.4 85.3L1809.3 87.2L1808.2 85.2L1807.1 83.7L1806.1 85.7L1805.0 84.2L1803.9 83.9L1802.8 87.7L1801.8 84.0L1800.7 85.2L1799.6 83.7L1798.5 85.2L1797.5 83.7L1796.4 87.2L1795.3 83.5L1794.2 83.5L1793.2 83.6L1792.1 87.0L1791.0 84.3L1790.0 83.4L1788.9 86.1L1787.8 83.5L1786.7 84.1L1785.7 86.4L1784.6 83.8L1783.5 83.9L1782.4 87.1L1781.4 87.5L1780.3 84.6L1779.2 85.4L1778.1 85.3L1777.1 83.4L1776.0 83.6L1774.9 83.6L1773.8 84.3L1772.8 83.7L1771.7 83.1L1770.6 85.2L1769.5 84.6L1768.5 86.6L1767.4 84.2L1766.3 83.3L1765.3 84.0L1764.2 83.1L1763.1 83.9L1762.0 87.1L1761.0 83.9L1759.9 83.0L1758.8 85.1L1757.7 84.6L1756.7 84.4L1755.6 84.2L1754.5 83.6L1753.4 85.0L1752.4 89.1L1751.3 86.2L1750.2 84.1L1749.1 86.9L1748.1 83.3L1747.0 84.2L1745.9 83.6L1744.8 82.9L1743.8 85.8L1742.7 87.5L1741.6 89.3L1740.6 86.5L1739.5 83.7L1738.4 85.0L1737.3 83.5L1736.3 83.5L1735.2 84.9L1734.1 83.5L1733.0 83.0L1732.0 83.1L1730.9 85.3L1729.8 85.3L1728.7 82.6L1727.7 83.1L1726.6 82.6L1725.5 84.2L1724.4 85.7L1723.4 85.1L1722.3 83.3L1721.2 83.6L1720.1 83.4L1719.1 84.3L1718.0 82.9L1716.9 82.6L1715.8 84.6L1714.8 83.8L1713.7 83.5L1712.6 83.2L1711.6 84.1L1710.5 83.1L1709.4 84.7L1708.3 87.6L1707.3 82.4L1706.2 85.5L1705.1 83.1L1704.0 83.0L1703.0 83.5L1701.9 83.0L1700.8 82.9L1699.7 85.6L1698.7 84.2L1697.6 82.6L1696.5 83.5L1695.4 83.0L1694.4 83.3L1693.3 85.0L1692.2 86.1L1691.1 85.2L1690.1 83.1L1689.0 82.0L1687.9 83.8L1686.9 83.5L1685.8 85.3L1684.7 86.7L1683.6 82.8L1682.6 82.7L1681.5 84.4L1680.4 85.8L1679.3 84.1L1678.3 83.8L1677.2 82.0L1676.1 82.2L1675.0 82.5L1674.0 81.8L1672.9 83.4L1671.8 81.9L1670.7 85.3L1669.7 84.6L1668.6 84.1L1667.5 82.3L1666.4 81.7L1665.4 82.3L1664.3 84.2L1663.2 83.8L1662.1 85.6L1661.1 81.8L1660.0 83.8L1658.9 82.4L1657.9 82.6L1656.8 82.4L1655.7 82.5L1654.6 81.6L1653.6 86.1L1652.5 81.9L1651.4 84.2L1650.3 83.6L1649.3 83.9L1648.2 82.0L1647.1 81.6L1646.0 82.6L1645.0 85.1L1643.9 81.7L1642.8 83.9L1641.7 82.1L1640.7 81.6L1639.6 81.8L1638.5 81.7L1637.4 83.6L1636.4 81.9L1635.3 84.9L1634.2 82.2L1633.2 82.2L1632.1 83.1L1631.0 81.6L1629.9 81.7L1628.9 83.5L1627.8 82.8L1626.7 83.9L1625.6 84.0L1624.6 81.4L1623.5 85.0L1622.4 82.9L1621.3 81.4L1620.3 83.7L1619.2 81.5L1618.1 83.0L1617.0 81.6L1616.0 81.6L1614.9 82.5L1613.8 82.4L1612.7 82.3L1611.7 82.2L1610.6 82.1L1609.5 84.9L1608.4 82.1L1607.4 82.9L1606.3 81.8L1605.2 86.3L1604.2 86.1L1603.1 84.4L1602.0 83.1L1600.9 82.7L1599.9 82.7L1598.8 81.7L1597.7 84.0L1596.6 83.0L1595.6 82.9L1594.5 81.9L1593.4 82.4L1592.3 83.1L1591.3 81.2L1590.2 84.0L1589.1 80.9L1588.0 84.3L1587.0 80.8L1585.9 81.7L1584.8 81.8L1583.7 82.0L1582.7 80.9L1581.6 84.1L1580.5 81.5L1579.5 82.1L1578.4 84.2L1577.3 81.8L1576.2 82.9L1575.2 81.3L1574.1 82.9L1573.0 86.3L1571.9 84.7L1570.9 81.9L1569.8 81.9L1568.7 85.1L1567.6 83.2L1566.6 83.0L1565.5 80.9L1564.4 82.1L1563.3 83.7L1562.3 81.8L1561.2 82.1L1560.1 85.2L1559.0 85.9L1558.0 82.1L1556.9 81.7L1555.8 81.7L1554.7 82.2L1553.7 80.7L1552.6 81.1L1551.5 80.4L1550.5 80.3L1549.4 80.4L1548.3 80.4L1547.2 84.6L1546.2 81.0L1545.1 82.2L1544.0 81.3L1542.9 83.0L1541.9 82.5L1540.8 81.8L1539.7 81.3L1538.6 81.1L1537.6 81.3L1536.5 83.2L1535.4 81.4L1534.3 81.7L1533.3 80.6L1532.2 80.6L1531.1 83.2L1530.0 80.7L1529.0 80.6L1527.9 80.4L1526.8 82.2L1525.8 83.7L1524.7 83.4L1523.6 85.1L1522.5 80.8L1521.5 80.8L1520.4 82.5L1519.3 92.9L1518.2 80.7L1517.2 81.0L1516.1 81.1L1515.0 82.3L1513.9 83.3L1512.9 82.0L1511.8 83.2L1510.7 80.4L1509.6 81.5L1508.6 81.2L1507.5 80.2L1506.4 82.4L1505.3 81.6L1504.3 82.5L1503.2 81.7L1502.1 83.4L1501.0 82.7L1500.0 80.4L1498.9 80.8L1497.8 81.2L1496.8 80.6L1495.7 81.7L1494.6 81.5L1493.5 81.3L1492.5 83.4L1491.4 81.9L1490.3 81.2L1489.2 81.1L1488.2 80.1L1487.1 81.3L1486.0 80.1L1484.9 79.7L1483.9 82.6L1482.8 80.2L1481.7 79.8L1480.6 80.6L1479.6 79.8L1478.5 81.3L1477.4 82.8L1476.3 82.4L1475.3 81.5L1474.2 81.2L1473.1 80.2L1472.1 80.5L1471.0 83.4L1469.9 83.7L1468.8 79.6L1467.8 80.0L1466.7 81.0L1465.6 80.6L1464.5 79.5L1463.5 79.3L1462.4 82.0L1461.3 80.0L1460.2 79.7L1459.2 80.2L1458.1 82.1L1457.0 80.8L1455.9 82.6L1454.9 80.2L1453.8 80.6L1452.7 81.0L1451.6 80.4L1450.6 79.4L1449.5 82.3L1448.4 82.1L1447.3 81.6L1446.3 79.2L1445.2 79.5L1444.1 81.6L1443.1 79.4L1442.0 80.6L1440.9 80.3L1439.8 80.0L1438.8 81.4L1437.7 79.6L1436.6 80.0L1435.5 81.6L1434.5 80.9L1433.4 80.6L1432.3 79.2L1431.2 79.8L1430.2 80.2L1429.1 80.7L1428.0 79.6L1426.9 81.8L1425.9 79.0L1424.8 79.4L1423.7 81.5L1422.6 79.0L1421.6 82.9L1420.5 81.7L1419.4 78.9L1418.4 80.7L1417.3 79.2L1416.2 80.9L1415.1 79.5L1414.1 81.3L1413.0 81.7L1411.9 80.3L1410.8 79.9L1409.8 79.0L1408.7 80.3L1407.6 79.8L1406.5 79.6L1405.5 78.9L1404.4 79.7L1403.3 81.9L1402.2 80.4L1401.2 79.9L1400.1 78.7L1399.0 79.1L1397.9 80.8L1396.9 80.7L1395.8 79.1L1394.7 82.1L1393.6 83.2L1392.6 82.3L1391.5 82.4L1390.4 82.9L1389.4 80.5L1388.3 80.7L1387.2 81.2L1386.1 79.3L1385.1 79.8L1384.0 83.4L1382.9 84.1L1381.8 80.7L1380.8 79.3L1379.7 82.7L1378.6 81.2L1377.5 81.4L1376.5 80.7L1375.4 82.1L1374.3 79.4L1373.2 78.7L1372.2 78.9L1371.1 81.3L1370.0 80.2L1368.9 78.3L1367.9 80.4L1366.8 81.3L1365.7 79.1L1364.7 78.5L1363.6 80.2L1362.5 79.2L1361.4 81.8L1360.4 78.5L1359.3 78.3L1358.2 78.3L1357.1 79.7L1356.1 78.7L1355.0 79.5L1353.9 80.9L1352.8 79.3L1351.8 80.2L1350.7 80.1L1349.6 78.9L1348.5 78.8L1347.5 80.3L1346.4 79.6L1345.3 82.8L1344.2 80.1L1343.2 78.2L1342.1 80.1L1341.0 79.1L1339.9 80.0L1338.9 78.0L1337.8 79.3L1336.7 78.4L1335.7 79.9L1334.6 81.6L1333.5 79.6L1332.4 84.4L1331.4 80.7L1330.3 78.0L1329.2 78.9L1328.1 81.2L1327.1 81.0L1326.0 78.1L1324.9 79.3L1323.8 80.1L1322.8 78.1L1321.7 77.9L1320.6 78.4L1319.5 78.9L1318.5 81.1L1317.4 78.0L1316.3 80.5L1315.2 79.0L1314.2 79.2L1313.1 79.9L1312.0 78.3L1311.0 78.4L1309.9 78.4L1308.8 81.2L1307.7 82.9L1306.7 78.3L1305.6 81.8L1304.5 80.6L1303.4 78.1L1302.4 78.7L1301.3 77.7L1300.2 79.7L1299.1 80.5L1298.1 79.1L1297.0 79.4L1295.9 80.0L1294.8 78.4L1293.8 78.1L1292.7 85.3L1291.6 78.0L1290.5 92.3L1289.5 82.0L1288.4 80.3L1287.3 81.2L1286.2 81.6L1285.2 77.9L1284.1 79.4L1283.0 80.7L1282.0 81.4L1280.9 82.8L1279.8 79.9L1278.7 81.8L1277.7 78.3L1276.6 77.9L1275.5 79.5L1274.4 77.9L1273.4 80.3L1272.3 78.9L1271.2 80.4L1270.1 78.6L1269.1 79.9L1268.0 80.1L1266.9 77.8L1265.8 81.6L1264.8 80.2L1263.7 77.7L1262.6 78.9L1261.5 78.8L1260.5 82.3L1259.4 78.8L1258.3 80.1L1257.2 79.6L1256.2 79.7L1255.1 79.1L1254.0 81.3L1253.0 83.9L1251.9 79.8L1250.8 82.3L1249.7 80.4L1248.7 78.5L1247.6 79.5L1246.5 78.8L1245.4 77.7L1244.4 80.0L1243.3 79.2L1242.2 79.7L1241.1 79.1L1240.1 79.6L1239.0 78.0L1237.9 79.4L1236.8 78.3L1235.8 80.6L1234.7 79.6L1233.6 79.5L1232.5 78.0L1231.5 79.0L1230.4 80.6L1229.3 77.5L1228.3 79.8L1227.2 79.0L1226.1 78.8L1225.0 79.4L1224.0 79.9L1222.9 78.1L1221.8 78.3L1220.7 77.6L1219.7 77.8L1218.6 78.9L1217.5 81.1L1216.4 79.6L1215.4 78.0L1214.3 78.1L1213.2 77.8L1212.1 79.8L1211.1 80.3L1210.0 78.4L1208.9 79.2L1207.8 79.7L1206.8 79.8L1205.7 78.6L1204.6 81.4L1203.5 78.3L1202.5 79.7L1201.4 79.9L1200.3 77.4L1199.3 78.4L1198.2 82.2L1197.1 80.8L1196.0 79.0L1195.0 80.8L1193.9 78.6L1192.8 79.5L1191.7 77.8L1190.7 77.6L1189.6 77.8L1188.5 78.5L1187.4 79.5L1186.4 78.7L1185.3 79.6L1184.2 79.9L1183.1 79.8L1182.1 82.1L1181.0 77.3L1179.9 79.9L1178.8 78.5L1177.8 81.7L1176.7 78.0Z" clip-path="url(#cr)"/></clipPath>
<g fill="#d62728" fill-opacity="0.1" clip-path="url(#b_cr_red)"><rect x="1209.8" y="0" width="7" height="733"/><rect x="1249.2" y="0" width="7" height="733"/><rect x="1288.7" y="0" width="7" height="733"/><rect x="1328.1" y="0" width="7" height="733"/><rect x="1367.6" y="0" width="7" height="733"/><rect x="1407.0" y="0" width="7" height="733"/><rect x="1446.5" y="0" width="7" height="733"/><rect x="1486.0" y="0" width="7" height="733"/><rect x="1525.4" y="0" width="7" height="733"/><rect x="1564.8" y="0" width="7" height="733"/><rect x="1604.3" y="0" width="7" height="733"/><rect x="1643.8" y="0" width="7" height="733"/><rect x="1683.2" y="0" width="7" height="733"/><rect x="1722.7" y="0" width="7" height="733"/><rect x="1762.1" y="0" width="7" height="733"/><rect x="1801.5" y="0" width="7" height="733"/></g>
<path d="M1176.7 61.9L1177.8 61.9L1178.8 61.7L1179.9 62.4L1181.0 61.6L1182.1 61.6L1183.1 61.5L1184.2 62.4L1185.3 61.8L1186.4 62.3L1187.4 61.8L1188.5 61.3L1189.6 61.6L1190.7 62.2L1191.7 62.4L1192.8 62.2L1193.9 61.9L1195.0 61.9L1196.0 61.7L1197.1 62.1L1198.2 62.0L1199.3 61.5L1200.3 61.7L1201.4 61.9L1202.5 62.1L1203.5 62.5L1204.6 62.5L1205.7 62.2L1206.8 62.0L1207.8 62.1L1208.9 62.0L1210.0 62.6L1211.1 61.9L1212.1 62.1L1213.2 62.1L1214.3 62.5L1215.4 62.1L1216.4 62.2L1217.5 62.0L1218.6 62.8L1219.7 62.1L1220.7 62.0L1221.8 62.6L1222.9 61.6L1224.0 62.7L1225.0 61.8L1226.1 62.4L1227.2 62.6L1228.3 61.9L1229.3 62.5L1230.4 62.1L1231.5 62.3L1232.5 62.4L1233.6 62.1L1234.7 62.1L1235.8 62.2L1236.8 62.7L1237.9 62.2L1239.0 62.9L1240.1 63.4L1241.1 62.5L1242.2 62.8L1243.3 62.8L1244.4 62.6L1245.4 62.7L1246.5 62.9L1247.6 62.5L1248.7 62.8L1249.7 62.1L1250.8 63.0L1251.9 62.9L1253.0 62.7L1254.0 62.3L1255.1 62.5L1256.2 62.3L1257.2 62.6L1258.3 62.4L1259.4 62.6L1260.5 62.7L1261.5 63.1L1262.6 63.0L1263.7 63.3L1264.8 63.1L1265.8 63.2L1266.9 63.1L1268.0 63.5L1269.1 63.1L1270.1 62.6L1271.2 63.3L1272.3 62.6L1273.4 63.0L1274.4 63.1L1275.5 63.5L1276.6 63.0L1277.7 62.8L1278.7 63.0L1279.8 62.8L1280.9 63.3L1282.0 63.0L1283.0 63.3L1284.1 63.6L1285.2 63.2L1286.2 63.5L1287.3 63.5L1288.4 62.3L1289.5 63.0L1290.5 63.2L1291.6 62.9L1292.7 63.5L1293.8 62.9L1294.8 63.1L1295.9 63.4L1297.0 62.9L1298.1 63.4L1299.1 63.9L1300.2 62.6L1301.3 63.7L1302.4 63.0L1303.4 63.1L1304.5 63.6L1305.6 63.8L1306.7 63.6L1307.7 63.9L1308.8 63.7L1309.9 63.5L1311.0 63.8L1312.0 63.6L1313.1 63.8L1314.2 64.0L1315.2 64.5L1316.3 64.2L1317.4 64.0L1318.5 63.7L1319.5 64.6L1320.6 64.2L1321.7 63.9L1322.8 64.1L1323.8 63.6L1324.9 64.4L1326.0 64.0L1327.1 64.4L1328.1 64.2L1329.2 64.3L1330.3 64.7L1331.4 64.1L1332.4 64.5L1333.5 64.3L1334.6 65.1L1335.7 64.4L1336.7 64.9L1337.8 64.1L1338.9 64.4L1339.9 64.4L1341.0 64.5L1342.1 64.6L1343.2 64.8L1344.2 64.5L1345.3 64.7L1346.4 65.4L1347.5 64.8L1348.5 64.3L1349.6 64.9L1350.7 64.8L1351.8 65.3L1352.8 64.9L1353.9 65.2L1355.0 65.3L1356.1 64.9L1357.1 66.1L1358.2 65.4L1359.3 64.8L1360.4 64.8L1361.4 65.3L1362.5 65.5L1363.6 65.3L1364.7 65.0L1365.7 65.3L1366.8 65.1L1367.9 65.9L1368.9 65.4L1370.0 65.9L1371.1 65.7L1372.2 65.8L1373.2 65.6L1374.3 65.6L1375.4 65.5L1376.5 65.6L1377.5 65.3L1378.6 65.6L1379.7 66.1L1380.8 66.5L1381.8 65.6L1382.9 66.0L1384.0 66.3L1385.1 66.2L1386.1 66.7L1387.2 66.6L1388.3 66.2L1389.4 66.4L1390.4 65.9L1391.5 66.2L1392.6 66.3L1393.6 66.4L1394.7 66.1L1395.8 66.8L1396.9 66.4L1397.9 66.2L1399.0 65.7L1400.1 66.2L1401.2 66.3L1402.2 66.6L1403.3 67.5L1404.4 66.3L1405.5 67.4L1406.5 66.9L1407.6 66.6L1408.7 67.2L1409.8 66.7L1410.8 67.3L1411.9 67.3L1413.0 67.1L1414.1 67.3L1415.1 67.5L1416.2 67.3L1417.3 67.4L1418.4 66.9L1419.4 66.7L1420.5 67.5L1421.6 67.2L1422.6 67.6L1423.7 67.4L1424.8 67.9L1425.9 67.4L1426.9 67.9L1428.0 68.1L1429.1 68.1L1430.2 67.8L1431.2 67.7L1432.3 68.4L1433.4 67.9L1434.5 68.0L1435.5 68.2L1436.6 68.1L1437.7 67.8L1438.8 69.1L1439.8 68.5L1440.9 67.7L1442.0 68.3L1443.1 68.5L1444.1 68.8L1445.2 68.6L1446.3 68.2L1447.3 68.5L1448.4 68.8L1449.5 69.1L1450.6 68.9L1451.6 68.7L1452.7 69.2L1453.8 69.4L1454.9 69.0L1455.9 69.2L1457.0 69.2L1458.1 69.5L1459.2 68.9L1460.2 69.4L1461.3 69.0L1462.4 69.1L1463.5 69.2L1464.5 69.5L1465.6 69.6L1466.7 69.8L1467.8 69.2L1468.8 69.1L1469.9 69.6L1471.0 69.7L1472.1 70.1L1473.1 69.9L1474.2 69.6L1475.3 70.3L1476.3 69.5L1477.4 69.7L1478.5 70.7L1479.6 70.2L1480.6 69.4L1481.7 70.3L1482.8 70.2L1483.9 70.4L1484.9 69.8L1486.0 70.2L1487.1 69.9L1488.2 70.3L1489.2 70.5L1490.3 70.7L1491.4 70.1L1492.5 70.5L1493.5 71.1L1494.6 70.6L1495.7 71.1L1496.8 71.0L1497.8 70.2L1498.9 70.9L1500.0 71.1L1501.0 70.7L1502.1 71.2L1503.2 71.3L1504.3 70.4L1505.3 70.8L1506.4 71.0L1507.5 71.5L1508.6 71.2L1509.6 71.2L1510.7 71.3L1511.8 71.2L1512.9 71.4L1513.9 72.1L1515.0 71.7L1516.1 72.0L1517.2 72.4L1518.2 71.8L1519.3 71.5L1520.4 71.9L1521.5 71.8L1522.5 72.4L1523.6 72.0L1524.7 71.7L1525.8 72.0L1526.8 72.4L1527.9 72.0L1529.0 71.7L1530.0 71.9L1531.1 72.1L1532.2 72.3L1533.3 72.4L1534.3 72.4L1535.4 72.9L1536.5 72.3L1537.6 72.6L1538.6 72.6L1539.7 72.7L1540.8 72.2L1541.9 72.6L1542.9 72.2L1544.0 73.3L1545.1 73.4L1546.2 72.8L1547.2 73.6L1548.3 73.0L1549.4 72.8L1550.5 73.2L1551.5 73.8L1552.6 73.0L1553.7 73.0L1554.7 73.7L1555.8 73.5L1556.9 73.2L1558.0 74.2L1559.0 74.0L1560.1 73.6L1561.2 73.6L1562.3 73.9L1563.3 73.9L1564.4 73.5L1565.5 73.9L1566.6 74.4L1567.6 74.0L1568.7 73.6L1569.8 74.1L1570.9 74.0L1571.9 74.1L1573.0 74.4L1574.1 74.5L1575.2 74.1L1576.2 74.8L1577.3 74.3L1578.4 75.5L1579.5 74.8L1580.5 74.5L1581.6 74.5L1582.7 74.9L1583.7 75.0L1584.8 75.1L1585.9 75.3L1587.0 75.6L1588.0 74.7L1589.1 74.6L1590.2 75.5L1591.3 75.1L1592.3 75.5L1593.4 75.4L1594.5 74.9L1595.6 75.0L1596.6 75.8L1597.7 74.7L1598.8 76.0L1599.9 75.6L1600.9 75.8L1602.0 75.2L1603.1 76.1L1604.2 75.6L1605.2 74.9L1606.3 76.3L1607.4 75.4L1608.4 76.1L1609.5 76.1L1610.6 76.2L1611.7 76.3L1612.7 76.1L1613.8 76.4L1614.9 76.7L1616.0 76.7L1617.0 76.7L1618.1 76.3L1619.2 76.6L1620.3 76.3L1621.3 76.6L1622.4 76.2L1623.5 77.1L1624.6 77.2L1625.6 76.9L1626.7 76.6L1627.8 77.8L1628.9 76.5L1629.9 76.7L1631.0 76.8L1632.1 77.2L1633.2 77.0L1634.2 77.4L1635.3 77.8L1636.4 77.4L1637.4 77.6L1638.5 77.1L1639.6 77.7L1640.7 77.7L1641.7 78.2L1642.8 77.2L1643.9 78.5L1645.0 78.3L1646.0 78.0L1647.1 78.0L1648.2 78.1L1649.3 78.4L1650.3 78.0L1651.4 78.3L1652.5 78.1L1653.6 78.4L1654.6 78.2L1655.7 78.6L1656.8 78.4L1657.9 78.4L1658.9 78.9L1660.0 78.3L1661.1 78.8L1662.1 79.0L1663.2 78.6L1664.3 78.7L1665.4 78.4L1666.4 78.9L1667.5 78.8L1668.6 79.0L1669.7 78.5L1670.7 79.2L1671.8 79.8L1672.9 78.7L1674.0 79.1L1675.0 79.7L1676.1 79.4L1677.2 79.1L1678.3 79.4L1679.3 79.2L1680.4 79.1L1681.5 79.2L1682.6 79.3L1683.6 78.9L1684.7 79.8L1685.8 79.7L1686.9 80.0L1687.9 79.9L1689.0 79.7L1690.1 79.5L1691.1 79.9L1692.2 80.0L1693.3 79.8L1694.4 80.2L1695.4 79.8L1696.5 80.2L1697.6 80.5L1698.7 80.5L1699.7 80.4L1700.8 81.1L1701.9 80.5L1703.0 80.9L1704.0 80.3L1705.1 81.3L1706.2 80.2L1707.3 80.8L1708.3 81.3L1709.4 80.9L1710.5 80.8L1711.6 80.5L1712.6 80.8L1713.7 80.6L1714.8 80.9L1715.8 81.5L1716.9 81.6L1718.0 81.0L1719.1 80.6L1720.1 81.3L1721.2 82.0L1722.3 81.8L1723.4 81.6L1724.4 81.6L1725.5 81.8L1726.6 81.1L1727.7 81.4L1728.7 81.7L1729.8 81.4L1730.9 81.1L1732.0 81.1L1733.0 82.2L1734.1 81.7L1735.2 81.9L1736.3 82.0L1737.3 82.1L1738.4 81.8L1739.5 82.1L1740.6 82.5L1741.6 82.0L1742.7 82.0L1743.8 82.1L1744.8 82.3L1745.9 82.9L1747.0 82.1L1748.1 82.1L1749.1 82.2L1750.2 82.6L1751.3 82.4L1752.4 83.1L1753.4 82.2L1754.5 83.3L1755.6 82.4L1756.7 82.9L1757.7 82.9L1758.8 82.8L1759.9 82.7L1761.0 83.4L1762.0 83.0L1763.1 82.9L1764.2 83.4L1765.3 83.3L1766.3 83.2L1767.4 83.0L1768.5 83.2L1769.5 83.7L1770.6 83.6L1771.7 84.1L1772.8 83.9L1773.8 83.6L1774.9 83.4L1776.0 84.1L1777.1 83.2L1778.1 83.1L1779.2 83.6L1780.3 83.7L1781.4 83.3L1782.4 83.2L1783.5 84.2L1784.6 83.8L1785.7 84.2L1786.7 84.1L1787.8 84.1L1788.9 84.4L1790.0 84.2L1791.0 84.6L1792.1 84.0L1793.2 84.1L1794.2 84.1L1795.3 84.4L1796.4 85.1L1797.5 83.9L1798.5 85.2L1799.6 84.9L1800.7 85.0L1801.8 84.5L1802.8 84.6L1803.9 85.0L1805.0 84.6L1806.1 85.0L1807.1 84.6L1808.2 85.6L1809.3 85.3L1810.4 85.3" fill="none" stroke="#9467bd" stroke-width="8.5" stroke-linejoin="round" stroke-linecap="square" clip-path="url(#cr)"/>
<g opacity="0.1" clip-path="url(#cr)"><path d="M1176.7 47.8L1177.8 45.0L1178.8 47.0L1179.9 46.1L1181.0 47.7L1182.1 44.6L1183.1 45.4L1184.2 47.2L1185.3 47.9L1186.4 48.1L1187.4 47.7L1188.5 45.9L1189.6 47.6L1190.7 44.8L1191.7 46.5L1192.8 45.8L1193.9 46.7L1195.0 46.9L1196.0 39.8L1197.1 47.4L1198.2 47.6L1199.3 44.2L1200.3 47.1L1201.4 46.1L1202.5 46.1L1203.5 46.9L1204.6 45.9L1205.7 47.4L1206.8 44.3L1207.8 47.7L1208.9 47.0L1210.0 41.5L1211.1 47.1L1212.1 45.1L1213.2 47.4L1214.3 47.3L1215.4 46.9L1216.4 46.5L1217.5 48.1L1218.6 46.6L1219.7 48.2L1220.7 47.2L1221.8 47.7L1222.9 47.0L1224.0 48.2L1225.0 47.1L1226.1 44.8L1227.2 47.2L1228.3 48.4L1229.3 47.5L1230.4 45.8L1231.5 46.3L1232.5 45.9L1233.6 44.8L1234.7 46.1L1235.8 46.8L1236.8 46.8L1237.9 45.6L1239.0 46.0L1240.1 46.3L1241.1 47.4L1242.2 46.9L1243.3 47.9L1244.4 46.1L1245.4 46.8L1246.5 47.8L1247.6 44.8L1248.7 47.2L1249.7 47.5L1250.8 46.8L1251.9 47.4L1253.0 47.1L1254.0 47.6L1255.1 47.7L1256.2 48.9L1257.2 44.1L1258.3 48.8L1259.4 47.1L1260.5 44.5L1261.5 48.5L1262.6 48.6L1263.7 46.3L1264.8 43.9L1265.8 48.8L1266.9 49.1L1268.0 45.9L1269.1 47.2L1270.1 47.0L1271.2 46.0L1272.3 46.4L1273.4 49.2L1274.4 44.8L1275.5 48.4L1276.6 47.4L1277.7 49.3L1278.7 46.0L1279.8 48.1L1280.9 47.7L1282.0 49.2L1283.0 47.9L1284.1 47.3L1285.2 48.3L1286.2 48.4L1287.3 47.6L1288.4 46.3L1289.5 44.6L1290.5 47.5L1291.6 49.2L1292.7 48.7L1293.8 47.8L1294.8 47.4L1295.9 48.7L1297.0 47.7L1298.1 49.3L1299.1 49.7L1300.2 48.9L1301.3 49.3L1302.4 49.3L1303.4 49.0L1304.5 46.9L1305.6 43.8L1306.7 47.5L1307.7 49.9L1308.8 46.5L1309.9 46.7L1311.0 45.6L1312.0 49.5L1313.1 46.3L1314.2 47.0L1315.2 48.7L1316.3 49.5L1317.4 48.9L1318.5 49.7L1319.5 48.5L1320.6 49.7L1321.7 48.6L1322.8 49.0L1323.8 47.4L1324.9 46.7L1326.0 48.7L1327.1 48.6L1328.1 49.7L1329.2 48.9L1330.3 46.8L1331.4 49.3L1332.4 48.5L1333.5 46.3L1334.6 49.9L1335.7 49.7L1336.7 49.3L1337.8 49.3L1338.9 47.4L1339.9 49.7L1341.0 48.7L1342.1 49.9L1343.2 46.2L1344.2 48.7L1345.3 49.6L1346.4 50.6L1347.5 48.1L1348.5 49.2L1349.6 50.9L1350.7 48.3L1351.8 47.6L1352.8 50.8L1353.9 49.0L1355.0 46.0L1356.1 49.5L1357.1 46.7L1358.2 49.8L1359.3 47.6L1360.4 49.9L1361.4 49.0L1362.5 49.7L1363.6 50.5L1364.7 49.7L1365.7 49.6L1366.8 48.3L1367.9 49.9L1368.9 48.8L1370.0 50.0L1371.1 51.4L1372.2 47.8L1373.2 49.8L1374.3 51.3L1375.4 51.7L1376.5 50.1L1377.5 51.9L1378.6 51.4L1379.7 48.5L1380.8 50.0L1381.8 48.1L1382.9 50.3L1384.0 49.1L1385.1 48.1L1386.1 50.8L1387.2 52.1L1388.3 51.2L1389.4 51.0L1390.4 51.5L1391.5 47.1L1392.6 49.7L1393.6 51.2L1394.7 51.0L1395.8 51.5L1396.9 50.7L1397.9 51.1L1399.0 50.4L1400.1 51.0L1401.2 52.0L1402.2 52.4L1403.3 52.4L1404.4 52.5L1405.5 51.3L1406.5 52.8L1407.6 51.2L1408.7 52.2L1409.8 52.3L1410.8 52.2L1411.9 52.1L1413.0 50.4L1414.1 52.5L1415.1 52.7L1416.2 51.8L1417.3 51.0L1418.4 50.4L1419.4 53.5L1420.5 53.4L1421.6 52.9L1422.6 51.7L1423.7 53.7L1424.8 53.7L1425.9 50.3L1426.9 52.8L1428.0 51.6L1429.1 52.5L1430.2 49.5L1431.2 51.9L1432.3 53.3L1433.4 51.5L1434.5 54.0L1435.5 53.5L1436.6 53.5L1437.7 49.1L1438.8 50.9L1439.8 54.3L1440.9 53.1L1442.0 51.3L1443.1 54.3L1444.1 53.1L1445.2 52.6L1446.3 53.1L1447.3 53.7L1448.4 53.9L1449.5 51.3L1450.6 52.8L1451.6 52.8L1452.7 54.6L1453.8 53.0L1454.9 52.1L1455.9 52.3L1457.0 51.6L1458.1 53.6L1459.2 50.0L1460.2 54.2L1461.3 52.7L1462.4 54.5L1463.5 54.2L1464.5 53.4L1465.6 52.9L1466.7 52.7L1467.8 53.1L1468.8 54.8L1469.9 54.8L1471.0 55.5L1472.1 52.8L1473.1 47.9L1474.2 53.5L1475.3 54.1L1476.3 54.8L1477.4 53.1L1478.5 52.6L1479.6 53.5L1480.6 53.9L1481.7 53.0L1482.8 55.6L1483.9 53.9L1484.9 52.4L1486.0 56.1L1487.1 54.7L1488.2 55.2L1489.2 54.3L1490.3 54.1L1491.4 55.5L1492.5 55.1L1493.5 56.1L1494.6 56.2L1495.7 54.6L1496.8 55.6L1497.8 56.5L1498.9 54.7L1500.0 56.2L1501.0 55.1L1502.1 56.6L1503.2 54.5L1504.3 53.7L1505.3 53.3L1506.4 54.9L1507.5 56.6L1508.6 55.1L1509.6 56.3L1510.7 53.1L1511.8 57.0L1512.9 54.2L1513.9 56.9L1515.0 57.2L1516.1 56.1L1517.2 55.2L1518.2 55.3L1519.3 47.7L1520.4 53.9L1521.5 56.2L1522.5 52.5L1523.6 54.1L1524.7 56.3L1525.8 56.2L1526.8 57.1L1527.9 54.7L1529.0 57.9L1530.0 53.3L1531.1 56.1L1532.2 54.9L1533.3 57.8L1534.3 57.1L1535.4 57.2L1536.5 57.4L1537.6 56.6L1538.6 58.3L1539.7 58.5L1540.8 56.4L1541.9 58.1L1542.9 56.8L1544.0 58.0L1545.1 56.8L1546.2 53.2L1547.2 57.4L1548.3 57.6L1549.4 53.5L1550.5 57.3L1551.5 55.6L1552.6 57.8L1553.7 57.7L1554.7 57.5L1555.8 58.1L1556.9 57.8L1558.0 59.0L1559.0 59.1L1560.1 57.0L1561.2 56.8L1562.3 58.5L1563.3 57.6L1564.4 57.8L1565.5 59.0L1566.6 59.4L1567.6 59.1L1568.7 57.3L1569.8 58.3L1570.9 59.0L1571.9 56.5L1573.0 57.2L1574.1 59.8L1575.2 58.9L1576.2 58.2L1577.3 59.7L1578.4 60.2L1579.5 58.2L1580.5 56.5L1581.6 56.6L1582.7 58.9L1583.7 55.4L1584.8 59.4L1585.9 59.2L1587.0 60.1L1588.0 60.7L1589.1 58.5L1590.2 60.5L1591.3 59.9L1592.3 58.7L1593.4 57.3L1594.5 60.1L1595.6 59.5L1596.6 60.9L1597.7 59.4L1598.8 58.6L1599.9 60.9L1600.9 60.0L1602.0 57.3L1603.1 57.3L1604.2 58.9L1605.2 60.0L1606.3 59.5L1607.4 61.1L1608.4 60.3L1609.5 61.8L1610.6 60.4L1611.7 61.1L1612.7 58.9L1613.8 60.0L1614.9 59.0L1616.0 60.6L1617.0 58.7L1618.1 60.4L1619.2 60.5L1620.3 59.4L1621.3 59.4L1622.4 61.2L1623.5 60.4L1624.6 59.9L1625.6 60.2L1626.7 59.1L1627.8 60.2L1628.9 60.0L1629.9 62.2L1631.0 60.4L1632.1 62.8L1633.2 61.2L1634.2 61.5L1635.3 58.4L1636.4 60.5L1637.4 60.9L1638.5 61.8L1639.6 59.5L1640.7 57.9L1641.7 57.5L1642.8 61.3L1643.9 62.9L1645.0 62.4L1646.0 62.1L1647.1 61.2L1648.2 63.2L1649.3 62.4L1650.3 62.6L1651.4 63.3L1652.5 59.7L1653.6 61.6L1654.6 63.1L1655.7 61.8L1656.8 62.5L1657.9 63.3L1658.9 63.6L1660.0 59.8L1661.1 61.8L1662.1 63.0L1663.2 64.2L1664.3 62.4L1665.4 62.7L1666.4 62.2L1667.5 64.0L1668.6 59.6L1669.7 59.4L1670.7 64.5L1671.8 62.6L1672.9 63.6L1674.0 61.4L1675.0 63.9L1676.1 63.1L1677.2 64.7L1678.3 62.3L1679.3 63.6L1680.4 63.3L1681.5 64.5L1682.6 64.9L1683.6 62.7L1684.7 65.0L1685.8 60.7L1686.9 63.3L1687.9 60.8L1689.0 62.5L1690.1 64.5L1691.1 65.1L1692.2 63.3L1693.3 65.2L1694.4 64.9L1695.4 64.7L1696.5 63.7L1697.6 63.8L1698.7 64.7L1699.7 63.7L1700.8 64.5L1701.9 65.1L1703.0 64.7L1704.0 65.8L1705.1 63.1L1706.2 64.7L1707.3 65.7L1708.3 62.1L1709.4 65.3L1710.5 66.0L1711.6 63.4L1712.6 64.7L1713.7 64.9L1714.8 65.0L1715.8 64.2L1716.9 62.8L1718.0 63.1L1719.1 63.4L1720.1 65.6L1721.2 64.3L1722.3 66.7L1723.4 65.7L1724.4 65.8L1725.5 65.8L1726.6 66.4L1727.7 66.9L1728.7 65.5L1729.8 64.3L1730.9 65.0L1732.0 66.5L1733.0 65.7L1734.1 63.8L1735.2 64.5L1736.3 65.3L1737.3 65.6L1738.4 64.4L1739.5 66.9L1740.6 66.8L1741.6 64.3L1742.7 65.7L1743.8 66.7L1744.8 66.4L1745.9 67.0L1747.0 65.5L1748.1 66.9L1749.1 66.8L1750.2 65.5L1751.3 63.4L1752.4 66.6L1753.4 66.2L1754.5 66.5L1755.6 67.4L1756.7 67.4L1757.7 67.9L1758.8 66.2L1759.9 67.6L1761.0 65.6L1762.0 66.8L1763.1 66.2L1764.2 66.2L1765.3 63.1L1766.3 65.2L1767.4 67.4L1768.5 64.4L1769.5 67.4L1770.6 65.7L1771.7 68.2L1772.8 66.7L1773.8 68.6L1774.9 68.2L1776.0 65.6L1777.1 67.4L1778.1 67.5L1779.2 67.0L1780.3 68.2L1781.4 69.0L1782.4 67.2L1783.5 67.3L1784.6 68.9L1785.7 68.9L1786.7 67.7L1787.8 67.4L1788.9 69.0L1790.0 68.8L1791.0 67.8L1792.1 69.6L1793.2 68.1L1794.2 68.0L1795.3 69.7L1796.4 66.3L1797.5 67.0L1798.5 68.2L1799.6 69.6L1800.7 68.3L1801.8 67.8L1802.8 69.3L1803.9 69.9L1805.0 66.0L1806.1 68.2L1807.1 69.8L1808.2 69.6L1809.3 67.4L1810.4 69.0L1810.4 103.8L1809.3 104.1L1808.2 104.4L1807.1 103.3L1806.1 102.8L1805.0 103.9L1803.9 107.1L1802.8 103.2L1801.8 103.2L1800.7 102.7L1799.6 105.4L1798.5 103.5L1797.5 105.0L1796.4 103.5L1795.3 103.3L1794.2 102.6L1793.2 104.0L1792.1 102.2L1791.0 104.4L1790.0 103.3L1788.9 103.2L1787.8 101.9L1786.7 102.8L1785.7 102.6L1784.6 103.0L1783.5 106.4L1782.4 106.8L1781.4 103.9L1780.3 103.4L1779.2 102.2L1778.1 102.2L1777.1 102.5L1776.0 102.4L1774.9 102.9L1773.8 103.8L1772.8 102.0L1771.7 102.8L1770.6 101.9L1769.5 104.1L1768.5 102.4L1767.4 106.2L1766.3 101.7L1765.3 100.9L1764.2 101.3L1763.1 104.1L1762.0 103.3L1761.0 102.2L1759.9 101.2L1758.8 102.5L1757.7 103.4L1756.7 104.2L1755.6 100.8L1754.5 102.8L1753.4 102.8L1752.4 101.1L1751.3 101.4L1750.2 101.1L1749.1 101.8L1748.1 103.4L1747.0 104.6L1745.9 100.3L1744.8 100.3L1743.8 104.2L1742.7 102.5L1741.6 100.8L1740.6 100.7L1739.5 101.0L1738.4 99.7L1737.3 102.7L1736.3 102.1L1735.2 100.7L1734.1 101.1L1733.0 101.6L1732.0 101.9L1730.9 102.0L1729.8 100.7L1728.7 99.6L1727.7 99.8L1726.6 101.6L1725.5 101.1L1724.4 100.6L1723.4 99.8L1722.3 101.0L1721.2 103.7L1720.1 103.7L1719.1 99.4L1718.0 99.6L1716.9 102.8L1715.8 99.1L1714.8 100.0L1713.7 99.4L1712.6 101.2L1711.6 98.4L1710.5 98.6L1709.4 100.4L1708.3 98.2L1707.3 98.8L1706.2 98.4L1705.1 99.6L1704.0 101.1L1703.0 98.1L1701.9 98.5L1700.8 99.0L1699.7 97.9L1698.7 101.0L1697.6 98.0L1696.5 100.9L1695.4 97.8L1694.4 98.7L1693.3 97.8L1692.2 98.8L1691.1 108.9L1690.1 98.5L1689.0 97.6L1687.9 97.4L1686.9 99.3L1685.8 98.9L1684.7 99.3L1683.6 99.7L1682.6 101.4L1681.5 99.7L1680.4 97.8L1679.3 99.0L1678.3 97.3L1677.2 97.0L1676.1 100.0L1675.0 102.6L1674.0 103.4L1672.9 97.0L1671.8 96.7L1670.7 98.6L1669.7 100.8L1668.6 101.6L1667.5 98.2L1666.4 98.7L1665.4 98.0L1664.3 96.9L1663.2 99.7L1662.1 102.1L1661.1 96.5L1660.0 96.3L1658.9 99.6L1657.9 98.8L1656.8 98.5L1655.7 97.9L1654.6 96.8L1653.6 97.6L1652.5 96.3L1651.4 95.6L1650.3 97.5L1649.3 98.7L1648.2 97.9L1647.1 95.9L1646.0 95.6L1645.0 97.9L1643.9 95.4L1642.8 100.4L1641.7 95.9L1640.7 96.5L1639.6 95.3L1638.5 96.6L1637.4 95.3L1636.4 96.4L1635.3 95.1L1634.2 97.3L1633.2 95.0L1632.1 97.4L1631.0 97.0L1629.9 97.3L1628.9 100.0L1627.8 96.6L1626.7 94.3L1625.6 95.5L1624.6 94.9L1623.5 96.9L1622.4 97.1L1621.3 94.0L1620.3 96.2L1619.2 94.7L1618.1 98.1L1617.0 97.1L1616.0 95.9L1614.9 96.2L1613.8 95.0L1612.7 97.2L1611.7 94.8L1610.6 96.4L1609.5 96.5L1608.4 93.7L1607.4 95.8L1606.3 95.8L1605.2 96.0L1604.2 95.3L1603.1 97.5L1602.0 96.9L1600.9 95.7L1599.9 94.9L1598.8 94.2L1597.7 93.1L1596.6 98.4L1595.6 93.3L1594.5 94.9L1593.4 93.4L1592.3 96.0L1591.3 92.5L1590.2 92.5L1589.1 94.7L1588.0 93.2L1587.0 94.7L1585.9 93.2L1584.8 92.2L1583.7 93.0L1582.7 92.9L1581.6 93.0L1580.5 92.4L1579.5 93.2L1578.4 93.8L1577.3 92.4L1576.2 92.1L1575.2 93.7L1574.1 94.7L1573.0 92.7L1571.9 93.8L1570.9 91.6L1569.8 94.2L1568.7 91.7L1567.6 95.5L1566.6 95.7L1565.5 95.0L1564.4 92.1L1563.3 91.1L1562.3 91.2L1561.2 94.3L1560.1 93.5L1559.0 92.1L1558.0 94.0L1556.9 91.8L1555.8 91.5L1554.7 90.9L1553.7 90.7L1552.6 92.3L1551.5 94.1L1550.5 93.0L1549.4 90.5L1548.3 91.4L1547.2 91.5L1546.2 92.4L1545.1 90.7L1544.0 91.6L1542.9 91.5L1541.9 90.2L1540.8 90.6L1539.7 91.2L1538.6 90.7L1537.6 91.7L1536.5 90.9L1535.4 90.8L1534.3 92.1L1533.3 89.9L1532.2 91.1L1531.1 91.9L1530.0 91.1L1529.0 91.3L1527.9 91.6L1526.8 89.9L1525.8 93.0L1524.7 93.0L1523.6 91.0L1522.5 90.5L1521.5 91.6L1520.4 93.6L1519.3 90.6L1518.2 90.2L1517.2 90.4L1516.1 90.1L1515.0 90.3L1513.9 89.2L1512.9 90.1L1511.8 89.1L1510.7 89.6L1509.6 90.9L1508.6 89.1L1507.5 88.8L1506.4 92.6L1505.3 92.7L1504.3 88.2L1503.2 91.4L1502.1 93.3L1501.0 89.5L1500.0 88.8L1498.9 94.0L1497.8 88.3L1496.8 92.2L1495.7 89.3L1494.6 89.8L1493.5 88.5L1492.5 87.8L1491.4 90.4L1490.3 87.9L1489.2 88.8L1488.2 90.3L1487.1 90.9L1486.0 87.4L1484.9 88.3L1483.9 90.0L1482.8 87.3L1481.7 89.1L1480.6 92.0L1479.6 87.9L1478.5 87.5L1477.4 89.1L1476.3 87.3L1475.3 88.8L1474.2 89.2L1473.1 89.9L1472.1 88.8L1471.0 88.7L1469.9 86.8L1468.8 86.8L1467.8 88.7L1466.7 88.7L1465.6 90.3L1464.5 90.0L1463.5 88.2L1462.4 89.5L1461.3 87.5L1460.2 86.6L1459.2 86.9L1458.1 87.8L1457.0 88.8L1455.9 86.6L1454.9 87.1L1453.8 88.5L1452.7 88.0L1451.6 86.1L1450.6 87.9L1449.5 88.1L1448.4 86.2L1447.3 86.1L1446.3 86.1L1445.2 85.9L1444.1 86.9L1443.1 86.0L1442.0 86.8L1440.9 85.6L1439.8 86.0L1438.8 86.8L1437.7 88.0L1436.6 88.0L1435.5 86.5L1434.5 85.9L1433.4 87.6L1432.3 87.4L1431.2 85.6L1430.2 86.4L1429.1 88.7L1428.0 88.3L1426.9 85.5L1425.9 85.3L1424.8 85.1L1423.7 86.9L1422.6 84.8L1421.6 85.8L1420.5 87.0L1419.4 86.6L1418.4 86.7L1417.3 85.8L1416.2 89.2L1415.1 87.4L1414.1 85.2L1413.0 84.7L1411.9 86.4L1410.8 84.1L1409.8 86.2L1408.7 85.8L1407.6 86.1L1406.5 85.5L1405.5 85.7L1404.4 85.8L1403.3 84.0L1402.2 85.8L1401.2 85.7L1400.1 85.3L1399.0 85.4L1397.9 86.7L1396.9 83.9L1395.8 83.8L1394.7 84.4L1393.6 84.6L1392.6 84.0L1391.5 85.1L1390.4 85.4L1389.4 85.7L1388.3 84.2L1387.2 84.3L1386.1 85.7L1385.1 83.2L1384.0 84.3L1382.9 83.0L1381.8 83.0L1380.8 94.1L1379.7 83.4L1378.6 83.7L1377.5 83.6L1376.5 84.3L1375.4 82.6L1374.3 84.7L1373.2 86.5L1372.2 84.2L1371.1 83.3L1370.0 84.6L1368.9 87.3L1367.9 87.5L1366.8 83.4L1365.7 82.4L1364.7 83.7L1363.6 82.8L1362.5 83.4L1361.4 83.0L1360.4 82.4L1359.3 83.4L1358.2 83.0L1357.1 81.9L1356.1 82.4L1355.0 85.3L1353.9 83.0L1352.8 83.4L1351.8 83.8L1350.7 81.8L1349.6 83.0L1348.5 81.8L1347.5 82.1L1346.4 81.7L1345.3 83.8L1344.2 82.5L1343.2 83.5L1342.1 82.0L1341.0 82.7L1339.9 81.9L1338.9 81.5L1337.8 82.0L1336.7 83.9L1335.7 83.7L1334.6 81.8L1333.5 82.4L1332.4 82.8L1331.4 85.6L1330.3 83.4L1329.2 83.0L1328.1 81.5L1327.1 81.5L1326.0 83.7L1324.9 82.8L1323.8 83.1L1322.8 81.2L1321.7 84.7L1320.6 83.9L1319.5 83.3L1318.5 84.0L1317.4 83.0L1316.3 83.1L1315.2 83.0L1314.2 81.1L1313.1 80.8L1312.0 83.7L1311.0 84.3L1309.9 82.3L1308.8 82.0L1307.7 80.6L1306.7 83.0L1305.6 81.5L1304.5 81.6L1303.4 81.6L1302.4 81.4L1301.3 81.8L1300.2 80.9L1299.1 80.9L1298.1 82.2L1297.0 82.9L1295.9 80.8L1294.8 81.3L1293.8 80.4L1292.7 82.6L1291.6 82.0L1290.5 80.0L1289.5 80.1L1288.4 84.1L1287.3 82.8L1286.2 80.3L1285.2 83.4L1284.1 83.8L1283.0 80.9L1282.0 81.7L1280.9 80.0L1279.8 83.2L1278.7 82.6L1277.7 81.1L1276.6 83.2L1275.5 82.1L1274.4 83.7L1273.4 82.6L1272.3 84.5L1271.2 80.5L1270.1 81.7L1269.1 83.4L1268.0 82.2L1266.9 83.4L1265.8 82.9L1264.8 83.3L1263.7 82.4L1262.6 81.3L1261.5 80.2L1260.5 81.9L1259.4 80.5L1258.3 79.5L1257.2 79.7L1256.2 79.4L1255.1 80.5L1254.0 81.1L1253.0 81.6L1251.9 79.7L1250.8 82.2L1249.7 82.2L1248.7 79.7L1247.6 81.9L1246.5 80.7L1245.4 81.5L1244.4 80.8L1243.3 79.2L1242.2 81.0L1241.1 79.3L1240.1 83.6L1239.0 81.3L1237.9 82.5L1236.8 79.5L1235.8 82.6L1234.7 79.6L1233.6 83.4L1232.5 79.6L1231.5 81.8L1230.4 79.4L1229.3 81.3L1228.3 79.9L1227.2 79.5L1226.1 79.9L1225.0 81.8L1224.0 80.1L1222.9 79.0L1221.8 79.3L1220.7 79.3L1219.7 83.1L1218.6 79.8L1217.5 81.0L1216.4 80.8L1215.4 80.3L1214.3 80.9L1213.2 80.3L1212.1 79.4L1211.1 84.8L1210.0 88.7L1208.9 79.5L1207.8 83.8L1206.8 78.9L1205.7 79.7L1204.6 81.1L1203.5 82.1L1202.5 78.8L1201.4 79.1L1200.3 80.4L1199.3 79.2L1198.2 84.4L1197.1 83.1L1196.0 84.1L1195.0 81.7L1193.9 79.7L1192.8 79.1L1191.7 79.4L1190.7 79.6L1189.6 80.1L1188.5 79.2L1187.4 80.4L1186.4 79.6L1185.3 78.6L1184.2 79.8L1183.1 83.8L1182.1 79.3L1181.0 78.7L1179.9 80.7L1178.8 81.5L1177.8 81.2L1176.7 79.4Z" fill="#9467bd" stroke="#9467bd" stroke-width="8.3" stroke-linejoin="round"/></g>
<path d="M1176.7 61.5L1177.8 61.5L1178.8 61.7L1179.9 61.5L1181.0 62.6L1182.1 61.2L1183.1 61.6L1184.2 61.6L1185.3 61.8L1186.4 62.2L1187.4 61.6L1188.5 61.3L1189.6 61.9L1190.7 61.3L1191.7 61.9L1192.8 61.9L1193.9 61.3L1195.0 61.2L1196.0 61.9L1197.1 61.7L1198.2 61.5L1199.3 61.7L1200.3 61.3L1201.4 61.3L1202.5 61.7L1203.5 61.6L1204.6 61.9L1205.7 61.9L1206.8 61.0L1207.8 61.9L1208.9 61.6L1210.0 61.2L1211.1 62.5L1212.1 62.0L1213.2 61.6L1214.3 61.6L1215.4 62.5L1216.4 62.6L1217.5 61.6L1218.6 62.0L1219.7 61.4L1220.7 61.4L1221.8 62.3L1222.9 61.9L1224.0 62.3L1225.0 62.4L1226.1 61.7L1227.2 61.9L1228.3 61.3L1229.3 61.9L1230.4 61.8L1231.5 61.1L1232.5 61.8L1233.6 61.7L1234.7 61.2L1235.8 62.3L1236.8 62.0L1237.9 61.7L1239.0 61.7L1240.1 62.0L1241.1 61.7L1242.2 61.8L1243.3 61.9L1244.4 62.4L1245.4 61.5L1246.5 61.7L1247.6 61.9L1248.7 62.0L1249.7 61.9L1250.8 62.0L1251.9 61.8L1253.0 62.0L1254.0 62.3L1255.1 61.5L1256.2 61.9L1257.2 62.2L1258.3 61.7L1259.4 61.7L1260.5 62.0L1261.5 62.2L1262.6 62.2L1263.7 62.4L1264.8 62.2L1265.8 61.7L1266.9 61.9L1268.0 62.3L1269.1 62.2L1270.1 61.8L1271.2 62.1L1272.3 61.9L1273.4 61.7L1274.4 61.7L1275.5 62.0L1276.6 62.0L1277.7 62.5L1278.7 62.4L1279.8 62.4L1280.9 62.2L1282.0 63.0L1283.0 62.0L1284.1 62.3L1285.2 61.3L1286.2 62.5L1287.3 62.4L1288.4 62.4L1289.5 62.5L1290.5 62.2L1291.6 62.1L1292.7 62.0L1293.8 62.1L1294.8 61.9L1295.9 61.9L1297.0 62.4L1298.1 62.6L1299.1 62.4L1300.2 62.8L1301.3 62.5L1302.4 62.2L1303.4 62.4L1304.5 61.8L1305.6 62.6L1306.7 62.4L1307.7 62.6L1308.8 62.7L1309.9 62.8L1311.0 62.3L1312.0 61.9L1313.1 62.2L1314.2 61.8L1315.2 62.4L1316.3 62.7L1317.4 62.3L1318.5 62.2L1319.5 62.6L1320.6 62.8L1321.7 63.0L1322.8 61.5L1323.8 62.4L1324.9 62.4L1326.0 62.5L1327.1 62.8L1328.1 62.6L1329.2 62.7L1330.3 62.3L1331.4 62.3L1332.4 62.6L1333.5 62.6L1334.6 62.5L1335.7 62.3L1336.7 61.8L1337.8 62.3L1338.9 62.7L1339.9 62.0L1341.0 62.8L1342.1 62.9L1343.2 63.3L1344.2 62.2L1345.3 62.7L1346.4 63.1L1347.5 62.2L1348.5 62.7L1349.6 62.0L1350.7 62.6L1351.8 62.4L1352.8 62.3L1353.9 62.6L1355.0 63.5L1356.1 63.7L1357.1 63.0L1358.2 63.2L1359.3 63.3L1360.4 63.0L1361.4 63.3L1362.5 62.9L1363.6 62.9L1364.7 63.6L1365.7 63.1L1366.8 63.0L1367.9 63.6L1368.9 63.1L1370.0 63.2L1371.1 63.7L1372.2 62.9L1373.2 63.4L1374.3 63.2L1375.4 62.6L1376.5 63.1L1377.5 63.6L1378.6 63.6L1379.7 62.9L1380.8 63.7L1381.8 64.0L1382.9 63.0L1384.0 64.1L1385.1 63.5L1386.1 63.9L1387.2 62.7L1388.3 62.8L1389.4 63.7L1390.4 63.7L1391.5 63.1L1392.6 63.3L1393.6 63.4L1394.7 62.9L1395.8 63.7L1396.9 63.1L1397.9 63.3L1399.0 64.1L1400.1 63.4L1401.2 63.8L1402.2 64.3L1403.3 63.6L1404.4 64.0L1405.5 64.3L1406.5 63.9L1407.6 64.2L1408.7 63.3L1409.8 63.8L1410.8 63.2L1411.9 63.8L1413.0 63.9L1414.1 64.4L1415.1 64.1L1416.2 63.3L1417.3 63.9L1418.4 63.6L1419.4 63.6L1420.5 63.9L1421.6 64.3L1422.6 63.8L1423.7 63.9L1424.8 64.3L1425.9 64.2L1426.9 64.0L1428.0 64.5L1429.1 64.0L1430.2 64.1L1431.2 64.0L1432.3 64.5L1433.4 64.8L1434.5 64.0L1435.5 64.3L1436.6 64.3L1437.7 64.5L1438.8 64.1L1439.8 64.6L1440.9 64.7L1442.0 63.9L1443.1 64.2L1444.1 64.8L1445.2 64.0L1446.3 64.9L1447.3 64.1L1448.4 64.8L1449.5 64.1L1450.6 64.7L1451.6 63.7L1452.7 64.1L1453.8 64.6L1454.9 64.5L1455.9 64.9L1457.0 65.0L1458.1 64.4L1459.2 64.9L1460.2 64.8L1461.3 64.2L1462.4 64.2L1463.5 64.7L1464.5 65.2L1465.6 65.4L1466.7 65.8L1467.8 65.3L1468.8 65.4L1469.9 65.5L1471.0 65.4L1472.1 65.1L1473.1 65.3L1474.2 64.9L1475.3 64.8L1476.3 65.7L1477.4 65.4L1478.5 65.7L1479.6 65.5L1480.6 64.7L1481.7 65.5L1482.8 65.4L1483.9 65.2L1484.9 65.4L1486.0 65.4L1487.1 65.4L1488.2 64.8L1489.2 65.6L1490.3 64.7L1491.4 65.5L1492.5 65.9L1493.5 65.3L1494.6 66.0L1495.7 65.9L1496.8 65.2L1497.8 65.9L1498.9 65.1L1500.0 65.6L1501.0 66.0L1502.1 65.7L1503.2 65.4L1504.3 65.3L1505.3 66.1L1506.4 65.8L1507.5 66.3L1508.6 66.0L1509.6 66.0L1510.7 66.3L1511.8 66.2L1512.9 65.9L1513.9 66.2L1515.0 66.3L1516.1 65.6L1517.2 66.0L1518.2 65.7L1519.3 66.5L1520.4 66.5L1521.5 66.1L1522.5 66.3L1523.6 66.5L1524.7 66.6L1525.8 66.5L1526.8 65.8L1527.9 66.3L1529.0 66.7L1530.0 66.4L1531.1 66.9L1532.2 66.6L1533.3 66.6L1534.3 67.2L1535.4 66.5L1536.5 66.1L1537.6 66.8L1538.6 67.1L1539.7 67.1L1540.8 66.8L1541.9 66.7L1542.9 66.7L1544.0 67.3L1545.1 66.9L1546.2 67.1L1547.2 67.3L1548.3 67.4L1549.4 67.4L1550.5 67.4L1551.5 67.1L1552.6 67.7L1553.7 67.3L1554.7 67.8L1555.8 67.8L1556.9 67.6L1558.0 67.5L1559.0 68.1L1560.1 67.5L1561.2 67.8L1562.3 68.5L1563.3 67.9L1564.4 67.6L1565.5 67.9L1566.6 68.6L1567.6 67.7L1568.7 68.2L1569.8 68.4L1570.9 68.0L1571.9 68.0L1573.0 68.6L1574.1 68.3L1575.2 68.2L1576.2 68.6L1577.3 68.5L1578.4 68.6L1579.5 68.8L1580.5 68.3L1581.6 68.8L1582.7 68.9L1583.7 68.8L1584.8 69.2L1585.9 69.3L1587.0 68.9L1588.0 68.6L1589.1 69.7L1590.2 68.4L1591.3 68.8L1592.3 69.4L1593.4 69.3L1594.5 69.8L1595.6 69.0L1596.6 69.8L1597.7 69.8L1598.8 69.5L1599.9 69.6L1600.9 69.5L1602.0 69.6L1603.1 69.4L1604.2 69.5L1605.2 69.5L1606.3 69.5L1607.4 69.4L1608.4 70.0L1609.5 70.3L1610.6 69.8L1611.7 69.8L1612.7 69.6L1613.8 69.6L1614.9 70.9L1616.0 70.4L1617.0 70.3L1618.1 70.8L1619.2 70.1L1620.3 70.0L1621.3 70.3L1622.4 70.7L1623.5 69.6L1624.6 69.9L1625.6 71.0L1626.7 70.1L1627.8 70.4L1628.9 71.1L1629.9 70.6L1631.0 71.2L1632.1 70.9L1633.2 71.1L1634.2 70.8L1635.3 71.1L1636.4 70.6L1637.4 70.8L1638.5 71.5L1639.6 70.7L1640.7 70.5L1641.7 71.1L1642.8 71.1L1643.9 71.7L1645.0 71.2L1646.0 71.4L1647.1 71.1L1648.2 71.0L1649.3 71.4L1650.3 71.4L1651.4 71.4L1652.5 71.5L1653.6 71.7L1654.6 71.7L1655.7 72.0L1656.8 71.7L1657.9 72.1L1658.9 71.8L1660.0 72.0L1661.1 71.4L1662.1 72.3L1663.2 72.1L1664.3 72.3L1665.4 71.7L1666.4 72.1L1667.5 71.7L1668.6 72.7L1669.7 72.3L1670.7 72.1L1671.8 72.1L1672.9 72.2L1674.0 72.5L1675.0 72.3L1676.1 72.5L1677.2 72.6L1678.3 72.4L1679.3 72.2L1680.4 73.3L1681.5 72.6L1682.6 73.0L1683.6 73.1L1684.7 72.5L1685.8 73.2L1686.9 72.5L1687.9 73.3L1689.0 73.0L1690.1 73.0L1691.1 73.3L1692.2 73.2L1693.3 74.3L1694.4 73.0L1695.4 72.9L1696.5 73.5L1697.6 73.4L1698.7 73.8L1699.7 73.4L1700.8 74.0L1701.9 74.2L1703.0 73.6L1704.0 73.9L1705.1 74.2L1706.2 74.1L1707.3 73.6L1708.3 74.2L1709.4 74.1L1710.5 73.5L1711.6 74.5L1712.6 74.3L1713.7 74.3L1714.8 74.1L1715.8 74.1L1716.9 74.1L1718.0 74.7L1719.1 74.2L1720.1 74.1L1721.2 74.1L1722.3 74.1L1723.4 74.7L1724.4 75.0L1725.5 74.4L1726.6 74.5L1727.7 74.2L1728.7 75.3L1729.8 75.0L1730.9 74.6L1732.0 75.5L1733.0 74.9L1734.1 74.4L1735.2 75.0L1736.3 74.6L1737.3 75.5L1738.4 75.0L1739.5 75.1L1740.6 75.1L1741.6 75.3L1742.7 75.3L1743.8 75.1L1744.8 76.1L1745.9 75.3L1747.0 75.7L1748.1 75.1L1749.1 75.4L1750.2 76.0L1751.3 74.6L1752.4 75.6L1753.4 75.7L1754.5 76.1L1755.6 76.5L1756.7 75.3L1757.7 76.1L1758.8 76.4L1759.9 76.8L1761.0 76.2L1762.0 75.8L1763.1 75.9L1764.2 76.2L1765.3 76.1L1766.3 76.6L1767.4 75.8L1768.5 76.3L1769.5 76.5L1770.6 76.0L1771.7 76.8L1772.8 76.6L1773.8 77.1L1774.9 76.9L1776.0 76.7L1777.1 76.8L1778.1 76.8L1779.2 77.1L1780.3 77.0L1781.4 76.9L1782.4 77.9L1783.5 77.1L1784.6 76.7L1785.7 77.6L1786.7 77.4L1787.8 76.7L1788.9 77.2L1790.0 77.0L1791.0 77.0L1792.1 77.6L1793.2 77.2L1794.2 77.4L1795.3 78.1L1796.4 76.9L1797.5 77.8L1798.5 77.1L1799.6 77.7L1800.7 78.1L1801.8 78.3L1802.8 77.3L1803.9 77.0L1805.0 78.6L1806.1 78.1L1807.1 77.9L1808.2 78.2L1809.3 78.7L1810.4 78.7" fill="none" stroke="#8c564b" stroke-width="8.5" stroke-linejoin="round" stroke-linecap="square" clip-path="url(#cr)"/>
<g opacity="0.1" clip-path="url(#cr)"><path d="M1176.7 44.7L1177.8 45.2L1178.8 46.0L1179.9 43.2L1181.0 45.6L1182.1 45.4L1183.1 46.4L1184.2 44.6L1185.3 45.6L1186.4 46.1L1187.4 45.8L1188.5 46.7L1189.6 46.5L1190.7 45.8L1191.7 44.8L1192.8 45.6L1193.9 42.9L1195.0 42.9L1196.0 46.6L1197.1 46.0L1198.2 46.1L1199.3 46.7L1200.3 45.4L1201.4 45.9L1202.5 46.2L1203.5 46.4L1204.6 45.7L1205.7 45.8L1206.8 45.8L1207.8 45.9L1208.9 46.6L1210.0 38.1L1211.1 44.6L1212.1 46.0L1213.2 43.3L1214.3 44.7L1215.4 46.1L1216.4 46.9L1217.5 46.3L1218.6 46.0L1219.7 46.2L1220.7 44.7L1221.8 45.4L1222.9 45.6L1224.0 43.9L1225.0 44.8L1226.1 41.1L1227.2 44.2L1228.3 46.1L1229.3 42.4L1230.4 46.4L1231.5 43.8L1232.5 45.7L1233.6 47.0L1234.7 47.0L1235.8 45.8L1236.8 47.0L1237.9 43.5L1239.0 46.6L1240.1 46.3L1241.1 44.8L1242.2 46.3L1243.3 45.3L1244.4 45.7L1245.4 44.7L1246.5 46.6L1247.6 46.5L1248.7 45.9L1249.7 46.7L1250.8 44.0L1251.9 45.3L1253.0 46.6L1254.0 44.8L1255.1 43.9L1256.2 45.2L1257.2 46.7L1258.3 45.2L1259.4 46.3L1260.5 45.2L1261.5 42.7L1262.6 41.1L1263.7 46.1L1264.8 44.8L1265.8 46.2L1266.9 45.9L1268.0 46.0L1269.1 47.3L1270.1 46.7L1271.2 45.4L1272.3 43.7L1273.4 47.3L1274.4 46.0L1275.5 43.9L1276.6 46.5L1277.7 43.6L1278.7 47.1L1279.8 44.1L1280.9 47.1L1282.0 46.8L1283.0 42.8L1284.1 47.4L1285.2 45.8L1286.2 46.5L1287.3 45.7L1288.4 45.7L1289.5 44.9L1290.5 47.5L1291.6 46.7L1292.7 44.8L1293.8 45.3L1294.8 42.9L1295.9 43.6L1297.0 44.8L1298.1 47.1L1299.1 47.0L1300.2 47.5L1301.3 47.0L1302.4 47.4L1303.4 43.0L1304.5 44.6L1305.6 47.5L1306.7 43.3L1307.7 44.7L1308.8 47.2L1309.9 45.5L1311.0 47.0L1312.0 45.9L1313.1 45.3L1314.2 44.6L1315.2 47.4L1316.3 46.5L1317.4 47.7L1318.5 47.4L1319.5 45.1L1320.6 47.3L1321.7 47.3L1322.8 46.5L1323.8 45.9L1324.9 47.4L1326.0 45.2L1327.1 46.5L1328.1 44.8L1329.2 46.1L1330.3 46.4L1331.4 44.8L1332.4 43.0L1333.5 44.5L1334.6 45.8L1335.7 46.6L1336.7 46.9L1337.8 46.5L1338.9 44.5L1339.9 46.8L1341.0 43.7L1342.1 47.7L1343.2 45.4L1344.2 47.3L1345.3 47.5L1346.4 46.9L1347.5 46.2L1348.5 47.4L1349.6 47.5L1350.7 46.1L1351.8 47.2L1352.8 45.0L1353.9 46.6L1355.0 45.7L1356.1 47.2L1357.1 47.9L1358.2 45.7L1359.3 43.4L1360.4 45.3L1361.4 48.0L1362.5 45.9L1363.6 46.7L1364.7 46.7L1365.7 47.3L1366.8 46.6L1367.9 46.2L1368.9 46.8L1370.0 45.7L1371.1 47.4L1372.2 48.2L1373.2 45.8L1374.3 48.0L1375.4 47.3L1376.5 44.7L1377.5 46.1L1378.6 46.8L1379.7 45.0L1380.8 47.4L1381.8 46.0L1382.9 48.4L1384.0 47.2L1385.1 48.4L1386.1 46.6L1387.2 47.5L1388.3 46.4L1389.4 44.3L1390.4 47.6L1391.5 46.7L1392.6 44.5L1393.6 44.6L1394.7 45.1L1395.8 47.7L1396.9 48.0L1397.9 47.3L1399.0 46.6L1400.1 48.5L1401.2 46.3L1402.2 47.6L1403.3 48.5L1404.4 48.1L1405.5 48.4L1406.5 48.4L1407.6 48.1L1408.7 46.9L1409.8 48.1L1410.8 47.8L1411.9 48.3L1413.0 46.1L1414.1 46.9L1415.1 47.1L1416.2 45.6L1417.3 47.3L1418.4 48.1L1419.4 48.0L1420.5 47.9L1421.6 47.3L1422.6 47.4L1423.7 47.8L1424.8 46.5L1425.9 48.2L1426.9 46.2L1428.0 45.4L1429.1 46.8L1430.2 48.1L1431.2 47.7L1432.3 49.2L1433.4 45.8L1434.5 48.0L1435.5 47.4L1436.6 46.2L1437.7 49.3L1438.8 48.8L1439.8 49.1L1440.9 48.3L1442.0 44.4L1443.1 41.7L1444.1 46.3L1445.2 49.3L1446.3 45.5L1447.3 47.8L1448.4 47.2L1449.5 48.4L1450.6 48.2L1451.6 47.1L1452.7 48.2L1453.8 48.4L1454.9 46.7L1455.9 46.5L1457.0 49.7L1458.1 46.4L1459.2 47.1L1460.2 45.9L1461.3 48.2L1462.4 45.2L1463.5 48.4L1464.5 48.7L1465.6 48.9L1466.7 48.1L1467.8 47.1L1468.8 46.0L1469.9 46.2L1471.0 48.1L1472.1 49.6L1473.1 49.5L1474.2 47.7L1475.3 47.2L1476.3 46.3L1477.4 49.0L1478.5 48.2L1479.6 46.7L1480.6 48.7L1481.7 49.3L1482.8 49.4L1483.9 46.5L1484.9 49.4L1486.0 48.6L1487.1 49.7L1488.2 48.3L1489.2 50.0L1490.3 49.9L1491.4 49.2L1492.5 48.4L1493.5 49.2L1494.6 48.7L1495.7 49.9L1496.8 48.2L1497.8 48.4L1498.9 49.1L1500.0 47.7L1501.0 49.3L1502.1 46.5L1503.2 50.0L1504.3 49.8L1505.3 48.7L1506.4 50.2L1507.5 49.8L1508.6 49.7L1509.6 49.5L1510.7 50.0L1511.8 50.4L1512.9 46.7L1513.9 50.7L1515.0 49.5L1516.1 46.4L1517.2 45.3L1518.2 49.1L1519.3 48.6L1520.4 50.6L1521.5 51.2L1522.5 50.8L1523.6 49.9L1524.7 50.6L1525.8 48.0L1526.8 49.1L1527.9 50.1L1529.0 48.2L1530.0 51.3L1531.1 48.7L1532.2 50.6L1533.3 47.7L1534.3 47.3L1535.4 51.4L1536.5 51.6L1537.6 50.9L1538.6 51.1L1539.7 50.5L1540.8 50.7L1541.9 50.8L1542.9 49.5L1544.0 50.8L1545.1 51.8L1546.2 49.8L1547.2 47.9L1548.3 51.7L1549.4 47.6L1550.5 49.6L1551.5 48.7L1552.6 46.6L1553.7 52.0L1554.7 50.8L1555.8 50.6L1556.9 51.7L1558.0 51.8L1559.0 52.3L1560.1 49.8L1561.2 51.1L1562.3 45.4L1563.3 52.5L1564.4 51.5L1565.5 52.6L1566.6 51.4L1567.6 50.3L1568.7 52.3L1569.8 44.5L1570.9 51.7L1571.9 52.4L1573.0 50.6L1574.1 49.6L1575.2 48.8L1576.2 50.8L1577.3 52.7L1578.4 52.8L1579.5 51.5L1580.5 51.1L1581.6 53.2L1582.7 51.6L1583.7 51.7L1584.8 51.9L1585.9 52.6L1587.0 53.0L1588.0 52.8L1589.1 53.6L1590.2 50.9L1591.3 53.2L1592.3 52.0L1593.4 51.5L1594.5 53.5L1595.6 48.7L1596.6 52.0L1597.7 50.7L1598.8 51.8L1599.9 53.9L1600.9 49.9L1602.0 53.6L1603.1 54.1L1604.2 53.3L1605.2 53.8L1606.3 52.7L1607.4 52.9L1608.4 53.0L1609.5 52.3L1610.6 54.3L1611.7 54.4L1612.7 54.2L1613.8 52.0L1614.9 54.4L1616.0 54.5L1617.0 54.1L1618.1 54.5L1619.2 54.2L1620.3 54.5L1621.3 53.7L1622.4 50.0L1623.5 53.2L1624.6 54.0L1625.6 54.0L1626.7 54.5L1627.8 52.8L1628.9 47.9L1629.9 53.4L1631.0 55.2L1632.1 54.1L1633.2 54.5L1634.2 47.3L1635.3 53.0L1636.4 53.9L1637.4 54.2L1638.5 53.2L1639.6 55.5L1640.7 55.1L1641.7 50.6L1642.8 54.4L1643.9 54.7L1645.0 53.6L1646.0 52.5L1647.1 54.5L1648.2 56.0L1649.3 55.2L1650.3 51.3L1651.4 54.3L1652.5 56.0L1653.6 54.6L1654.6 52.5L1655.7 51.1L1656.8 55.2L1657.9 55.5L1658.9 55.6L1660.0 55.5L1661.1 53.5L1662.1 54.6L1663.2 55.5L1664.3 55.8L1665.4 54.9L1666.4 53.1L1667.5 54.1L1668.6 55.5L1669.7 56.1L1670.7 56.5L1671.8 55.6L1672.9 54.9L1674.0 57.0L1675.0 54.1L1676.1 53.5L1677.2 55.8L1678.3 54.7L1679.3 53.1L1680.4 54.7L1681.5 53.4L1682.6 56.8L1683.6 55.2L1684.7 53.6L1685.8 56.0L1686.9 57.2L1687.9 55.3L1689.0 57.1L1690.1 55.7L1691.1 56.2L1692.2 54.6L1693.3 56.4L1694.4 57.3L1695.4 54.8L1696.5 56.2L1697.6 57.8L1698.7 56.7L1699.7 56.5L1700.8 57.2L1701.9 56.3L1703.0 57.6L1704.0 56.6L1705.1 57.4L1706.2 57.6L1707.3 58.2L1708.3 54.4L1709.4 54.8L1710.5 58.2L1711.6 56.5L1712.6 57.1L1713.7 57.8L1714.8 57.7L1715.8 56.3L1716.9 54.3L1718.0 57.9L1719.1 51.8L1720.1 56.6L1721.2 58.4L1722.3 58.5L1723.4 58.8L1724.4 58.0L1725.5 57.2L1726.6 58.1L1727.7 58.2L1728.7 58.8L1729.8 56.7L1730.9 57.0L1732.0 58.1L1733.0 55.6L1734.1 57.9L1735.2 57.1L1736.3 57.0L1737.3 56.4L1738.4 55.9L1739.5 56.5L1740.6 57.0L1741.6 58.7L1742.7 57.2L1743.8 56.0L1744.8 57.4L1745.9 57.5L1747.0 59.3L1748.1 57.9L1749.1 59.6L1750.2 59.3L1751.3 58.1L1752.4 58.8L1753.4 59.0L1754.5 59.7L1755.6 59.4L1756.7 59.9L1757.7 56.4L1758.8 56.5L1759.9 57.5L1761.0 56.7L1762.0 58.9L1763.1 59.2L1764.2 58.1L1765.3 60.3L1766.3 58.9L1767.4 60.1L1768.5 60.5L1769.5 58.8L1770.6 60.0L1771.7 60.9L1772.8 59.1L1773.8 58.7L1774.9 60.8L1776.0 59.4L1777.1 55.6L1778.1 59.5L1779.2 58.5L1780.3 60.8L1781.4 58.3L1782.4 55.1L1783.5 58.2L1784.6 58.2L1785.7 58.5L1786.7 60.5L1787.8 60.8L1788.9 60.0L1790.0 58.6L1791.0 60.3L1792.1 61.0L1793.2 58.9L1794.2 61.4L1795.3 61.9L1796.4 60.0L1797.5 62.0L1798.5 59.6L1799.6 59.7L1800.7 58.4L1801.8 59.3L1802.8 59.9L1803.9 61.1L1805.0 61.6L1806.1 59.2L1807.1 59.8L1808.2 61.0L1809.3 62.4L1810.4 62.2L1810.4 99.0L1809.3 99.1L1808.2 96.7L1807.1 94.9L1806.1 95.9L1805.0 96.2L1803.9 98.6L1802.8 97.4L1801.8 97.2L1800.7 98.1L1799.6 96.9L1798.5 95.8L1797.5 100.1L1796.4 96.1L1795.3 95.8L1794.2 97.2L1793.2 96.4L1792.1 96.1L1791.0 96.4L1790.0 94.2L1788.9 95.5L1787.8 94.3L1786.7 94.6L1785.7 94.7L1784.6 94.5L1783.5 96.7L1782.4 99.4L1781.4 95.0L1780.3 96.7L1779.2 96.9L1778.1 95.2L1777.1 94.5L1776.0 94.1L1774.9 93.4L1773.8 97.0L1772.8 97.1L1771.7 97.1L1770.6 94.8L1769.5 96.4L1768.5 94.3L1767.4 93.9L1766.3 95.7L1765.3 94.2L1764.2 94.8L1763.1 94.5L1762.0 93.3L1761.0 96.6L1759.9 94.1L1758.8 92.8L1757.7 95.0L1756.7 98.2L1755.6 93.5L1754.5 95.0L1753.4 97.1L1752.4 93.4L1751.3 93.9L1750.2 93.1L1749.1 92.9L1748.1 93.9L1747.0 93.5L1745.9 94.3L1744.8 92.5L1743.8 93.5L1742.7 94.3L1741.6 92.2L1740.6 96.2L1739.5 93.4L1738.4 93.5L1737.3 99.1L1736.3 93.4L1735.2 93.5L1734.1 92.1L1733.0 93.4L1732.0 93.5L1730.9 92.0L1729.8 91.7L1728.7 91.4L1727.7 92.5L1726.6 96.9L1725.5 93.2L1724.4 92.7L1723.4 91.2L1722.3 92.4L1721.2 91.9L1720.1 93.7L1719.1 96.0L1718.0 92.2L1716.9 94.3L1715.8 94.8L1714.8 92.9L1713.7 91.6L1712.6 91.8L1711.6 92.1L1710.5 93.2L1709.4 90.5L1708.3 92.8L1707.3 93.9L1706.2 91.8L1705.1 90.8L1704.0 92.0L1703.0 90.9L1701.9 91.7L1700.8 90.9L1699.7 90.7L1698.7 90.9L1697.6 92.0L1696.5 91.6L1695.4 90.2L1694.4 90.3L1693.3 90.7L1692.2 91.4L1691.1 94.4L1690.1 91.6L1689.0 92.0L1687.9 91.6L1686.9 91.0L1685.8 92.2L1684.7 95.9L1683.6 94.5L1682.6 91.0L1681.5 91.6L1680.4 90.9L1679.3 90.1L1678.3 89.3L1677.2 90.8L1676.1 92.7L1675.0 91.2L1674.0 89.0L1672.9 90.9L1671.8 91.9L1670.7 90.0L1669.7 92.3L1668.6 89.3L1667.5 88.8L1666.4 88.8L1665.4 89.1L1664.3 90.1L1663.2 90.7L1662.1 90.6L1661.1 95.9L1660.0 88.4L1658.9 89.8L1657.9 89.0L1656.8 89.2L1655.7 92.9L1654.6 89.0L1653.6 90.1L1652.5 89.3L1651.4 89.4L1650.3 88.4L1649.3 92.6L1648.2 89.5L1647.1 89.2L1646.0 90.6L1645.0 87.8L1643.9 93.2L1642.8 89.0L1641.7 87.7L1640.7 87.8L1639.6 88.4L1638.5 88.8L1637.4 90.8L1636.4 88.7L1635.3 90.2L1634.2 91.5L1633.2 88.2L1632.1 88.6L1631.0 91.1L1629.9 91.1L1628.9 89.7L1627.8 87.3L1626.7 87.2L1625.6 87.9L1624.6 87.8L1623.5 89.5L1622.4 90.8L1621.3 88.0L1620.3 86.7L1619.2 89.1L1618.1 89.1L1617.0 88.4L1616.0 88.2L1614.9 88.0L1613.8 86.6L1612.7 88.1L1611.7 89.7L1610.6 86.3L1609.5 90.6L1608.4 87.1L1607.4 87.3L1606.3 86.6L1605.2 87.0L1604.2 87.6L1603.1 87.9L1602.0 86.1L1600.9 86.4L1599.9 88.3L1598.8 95.4L1597.7 86.2L1596.6 86.7L1595.6 86.2L1594.5 86.6L1593.4 86.4L1592.3 85.4L1591.3 87.9L1590.2 86.8L1589.1 86.6L1588.0 87.6L1587.0 85.8L1585.9 86.8L1584.8 87.3L1583.7 85.4L1582.7 85.6L1581.6 87.0L1580.5 88.1L1579.5 86.1L1578.4 87.3L1577.3 84.8L1576.2 87.0L1575.2 85.0L1574.1 84.6L1573.0 86.6L1571.9 88.1L1570.9 85.0L1569.8 85.9L1568.7 86.0L1567.6 84.6L1566.6 86.0L1565.5 85.9L1564.4 87.5L1563.3 87.2L1562.3 84.7L1561.2 84.3L1560.1 87.0L1559.0 85.4L1558.0 84.3L1556.9 84.7L1555.8 86.4L1554.7 88.7L1553.7 85.0L1552.6 87.1L1551.5 85.5L1550.5 83.6L1549.4 84.2L1548.3 83.8L1547.2 84.1L1546.2 83.6L1545.1 83.7L1544.0 86.1L1542.9 84.6L1541.9 87.4L1540.8 85.5L1539.7 86.6L1538.6 84.3L1537.6 83.6L1536.5 85.1L1535.4 84.5L1534.3 87.7L1533.3 84.5L1532.2 85.4L1531.1 85.3L1530.0 83.6L1529.0 83.0L1527.9 84.1L1526.8 82.8L1525.8 82.9L1524.7 83.4L1523.6 85.3L1522.5 84.9L1521.5 88.3L1520.4 83.1L1519.3 82.9L1518.2 85.0L1517.2 83.0L1516.1 85.0L1515.0 83.2L1513.9 83.5L1512.9 83.4L1511.8 86.8L1510.7 85.1L1509.6 82.6L1508.6 83.0L1507.5 83.2L1506.4 82.5L1505.3 82.6L1504.3 84.4L1503.2 84.1L1502.1 85.4L1501.0 82.9L1500.0 82.2L1498.9 84.0L1497.8 83.7L1496.8 82.3L1495.7 83.1L1494.6 81.9L1493.5 85.3L1492.5 84.5L1491.4 83.7L1490.3 82.7L1489.2 85.3L1488.2 83.5L1487.1 81.9L1486.0 81.9L1484.9 83.0L1483.9 82.4L1482.8 83.2L1481.7 82.7L1480.6 81.5L1479.6 83.4L1478.5 83.2L1477.4 82.1L1476.3 81.4L1475.3 81.7L1474.2 82.0L1473.1 81.4L1472.1 83.5L1471.0 85.2L1469.9 81.6L1468.8 84.6L1467.8 82.1L1466.7 81.8L1465.6 82.5L1464.5 84.1L1463.5 82.4L1462.4 81.2L1461.3 82.0L1460.2 81.3L1459.2 81.8L1458.1 82.2L1457.0 84.7L1455.9 81.5L1454.9 80.9L1453.8 82.3L1452.7 81.2L1451.6 81.5L1450.6 81.2L1449.5 82.1L1448.4 83.0L1447.3 81.5L1446.3 81.3L1445.2 82.1L1444.1 82.7L1443.1 81.2L1442.0 81.9L1440.9 83.2L1439.8 85.7L1438.8 81.6L1437.7 82.5L1436.6 80.9L1435.5 81.7L1434.5 81.0L1433.4 83.2L1432.3 85.2L1431.2 85.2L1430.2 84.5L1429.1 82.3L1428.0 84.1L1426.9 80.9L1425.9 81.1L1424.8 80.0L1423.7 82.1L1422.6 83.6L1421.6 82.3L1420.5 80.3L1419.4 79.9L1418.4 80.2L1417.3 81.6L1416.2 81.4L1415.1 80.0L1414.1 82.3L1413.0 86.4L1411.9 83.7L1410.8 81.4L1409.8 80.4L1408.7 81.1L1407.6 80.4L1406.5 80.2L1405.5 81.2L1404.4 81.5L1403.3 80.0L1402.2 83.7L1401.2 79.6L1400.1 80.2L1399.0 79.7L1397.9 80.2L1396.9 82.7L1395.8 80.6L1394.7 81.4L1393.6 82.3L1392.6 81.2L1391.5 81.4L1390.4 79.9L1389.4 80.0L1388.3 81.8L1387.2 83.0L1386.1 79.6L1385.1 81.3L1384.0 81.0L1382.9 79.6L1381.8 83.5L1380.8 83.5L1379.7 81.5L1378.6 79.4L1377.5 79.8L1376.5 80.2L1375.4 81.7L1374.3 80.5L1373.2 79.9L1372.2 81.6L1371.1 80.7L1370.0 80.7L1368.9 80.5L1367.9 81.6L1366.8 82.8L1365.7 80.4L1364.7 79.0L1363.6 79.3L1362.5 80.1L1361.4 81.8L1360.4 81.2L1359.3 79.3L1358.2 82.0L1357.1 81.4L1356.1 78.9L1355.0 79.6L1353.9 79.5L1352.8 81.3L1351.8 84.0L1350.7 81.2L1349.6 80.4L1348.5 80.1L1347.5 81.7L1346.4 82.2L1345.3 80.3L1344.2 79.0L1343.2 79.0L1342.1 79.3L1341.0 81.6L1339.9 79.2L1338.9 80.6L1337.8 81.7L1336.7 80.0L1335.7 78.7L1334.6 80.9L1333.5 80.7L1332.4 78.5L1331.4 79.4L1330.3 81.1L1329.2 78.6L1328.1 81.5L1327.1 82.4L1326.0 79.8L1324.9 79.8L1323.8 84.6L1322.8 80.0L1321.7 83.7L1320.6 81.6L1319.5 79.8L1318.5 80.8L1317.4 78.3L1316.3 79.9L1315.2 79.5L1314.2 81.2L1313.1 78.6L1312.0 79.2L1311.0 82.7L1309.9 80.2L1308.8 79.9L1307.7 79.2L1306.7 79.4L1305.6 79.5L1304.5 79.2L1303.4 82.8L1302.4 80.8L1301.3 78.8L1300.2 78.7L1299.1 80.5L1298.1 81.8L1297.0 78.4L1295.9 80.6L1294.8 81.3L1293.8 79.3L1292.7 78.6L1291.6 81.8L1290.5 78.6L1289.5 78.6L1288.4 78.6L1287.3 79.5L1286.2 78.4L1285.2 80.0L1284.1 78.1L1283.0 80.6L1282.0 79.6L1280.9 80.4L1279.8 80.0L1278.7 85.5L1277.7 80.7L1276.6 78.5L1275.5 80.3L1274.4 82.8L1273.4 78.8L1272.3 80.0L1271.2 86.7L1270.1 79.1L1269.1 80.2L1268.0 78.7L1266.9 79.9L1265.8 79.5L1264.8 81.4L1263.7 79.8L1262.6 81.0L1261.5 78.4L1260.5 79.3L1259.4 79.9L1258.3 79.1L1257.2 78.2L1256.2 79.8L1255.1 77.7L1254.0 79.4L1253.0 81.0L1251.9 79.4L1250.8 80.6L1249.7 77.7L1248.7 80.0L1247.6 78.4L1246.5 83.5L1245.4 80.3L1244.4 78.7L1243.3 78.3L1242.2 79.9L1241.1 79.0L1240.1 80.7L1239.0 79.1L1237.9 78.6L1236.8 79.1L1235.8 80.0L1234.7 80.3L1233.6 78.0L1232.5 78.7L1231.5 82.8L1230.4 80.5L1229.3 80.2L1228.3 80.3L1227.2 78.4L1226.1 79.5L1225.0 80.8L1224.0 78.8L1222.9 77.7L1221.8 79.0L1220.7 78.5L1219.7 78.1L1218.6 77.5L1217.5 77.7L1216.4 79.6L1215.4 78.4L1214.3 78.1L1213.2 80.9L1212.1 77.9L1211.1 79.2L1210.0 78.9L1208.9 78.3L1207.8 80.8L1206.8 79.3L1205.7 78.0L1204.6 78.2L1203.5 78.5L1202.5 78.0L1201.4 77.6L1200.3 78.8L1199.3 78.0L1198.2 78.2L1197.1 78.1L1196.0 77.7L1195.0 78.9L1193.9 79.2L1192.8 78.0L1191.7 81.1L1190.7 79.2L1189.6 78.1L1188.5 78.3L1187.4 78.2L1186.4 80.0L1185.3 81.2L1184.2 77.5L1183.1 79.3L1182.1 82.1L1181.0 80.0L1179.9 77.4L1178.8 79.0L1177.8 79.9L1176.7 77.7Z" fill="#8c564b" stroke="#8c564b" stroke-width="8.3" stroke-linejoin="round"/></g>
<clipPath id="b_cr_brown"><path d="M1176.7 44.7L1177.8 45.2L1178.8 46.0L1179.9 43.2L1181.0 45.6L1182.1 45.4L1183.1 46.4L1184.2 44.6L1185.3 45.6L1186.4 46.1L1187.4 45.8L1188.5 46.7L1189.6 46.5L1190.7 45.8L1191.7 44.8L1192.8 45.6L1193.9 42.9L1195.0 42.9L1196.0 46.6L1197.1 46.0L1198.2 46.1L1199.3 46.7L1200.3 45.4L1201.4 45.9L1202.5 46.2L1203.5 46.4L1204.6 45.7L1205.7 45.8L1206.8 45.8L1207.8 45.9L1208.9 46.6L1210.0 38.1L1211.1 44.6L1212.1 46.0L1213.2 43.3L1214.3 44.7L1215.4 46.1L1216.4 46.9L1217.5 46.3L1218.6 46.0L1219.7 46.2L1220.7 44.7L1221.8 45.4L1222.9 45.6L1224.0 43.9L1225.0 44.8L1226.1 41.1L1227.2 44.2L1228.3 46.1L1229.3 42.4L1230.4 46.4L1231.5 43.8L1232.5 45.7L1233.6 47.0L1234.7 47.0L1235.8 45.8L1236.8 47.0L1237.9 43.5L1239.0 46.6L1240.1 46.3L1241.1 44.8L1242.2 46.3L1243.3 45.3L1244.4 45.7L1245.4 44.7L1246.5 46.6L1247.6 46.5L1248.7 45.9L1249.7 46.7L1250.8 44.0L1251.9 45.3L1253.0 46.6L1254.0 44.8L1255.1 43.9L1256.2 45.2L1257.2 46.7L1258.3 45.2L1259.4 46.3L1260.5 45.2L1261.5 42.7L1262.6 41.1L1263.7 46.1L1264.8 44.8L1265.8 46.2L1266.9 45.9L1268.0 46.0L1269.1 47.3L1270.1 46.7L1271.2 45.4L1272.3 43.7L1273.4 47.3L1274.4 46.0L1275.5 43.9L1276.6 46.5L1277.7 43.6L1278.7 47.1L1279.8 44.1L1280.9 47.1L1282.0 46.8L1283.0 42.8L1284.1 47.4L1285.2 45.8L1286.2 46.5L1287.3 45.7L1288.4 45.7L1289.5 44.9L1290.5 47.5L1291.6 46.7L1292.7 44.8L1293.8 45.3L1294.8 42.9L1295.9 43.6L1297.0 44.8L1298.1 47.1L1299.1 47.0L1300.2 47.5L1301.3 47.0L1302.4 47.4L1303.4 43.0L1304.5 44.6L1305.6 47.5L1306.7 43.3L1307.7 44.7L1308.8 47.2L1309.9 45.5L1311.0 47.0L1312.0 45.9L1313.1 45.3L1314.2 44.6L1315.2 47.4L1316.3 46.5L1317.4 47.7L1318.5 47.4L1319.5 45.1L1320.6 47.3L1321.7 47.3L1322.8 46.5L1323.8 45.9L1324.9 47.4L1326.0 45.2L1327.1 46.5L1328.1 44.8L1329.2 46.1L1330.3 46.4L1331.4 44.8L1332.4 43.0L1333.5 44.5L1334.6 45.8L1335.7 46.6L1336.7 46.9L1337.8 46.5L1338.9 44.5L1339.9 46.8L1341.0 43.7L1342.1 47.7L1343.2 45.4L1344.2 47.3L1345.3 47.5L1346.4 46.9L1347.5 46.2L1348.5 47.4L1349.6 47.5L1350.7 46.1L1351.8 47.2L1352.8 45.0L1353.9 46.6L1355.0 45.7L1356.1 47.2L1357.1 47.9L1358.2 45.7L1359.3 43.4L1360.4 45.3L1361.4 48.0L1362.5 45.9L1363.6 46.7L1364.7 46.7L1365.7 47.3L1366.8 46.6L1367.9 46.2L1368.9 46.8L1370.0 45.7L1371.1 47.4L1372.2 48.2L1373.2 45.8L1374.3 48.0L1375.4 47.3L1376.5 44.7L1377.5 46.1L1378.6 46.8L1379.7 45.0L1380.8 47.4L1381.8 46.0L1382.9 48.4L1384.0 47.2L1385.1 48.4L1386.1 46.6L1387.2 47.5L1388.3 46.4L1389.4 44.3L1390.4 47.6L1391.5 46.7L1392.6 44.5L1393.6 44.6L1394.7 45.1L1395.8 47.7L1396.9 48.0L1397.9 47.3L1399.0 46.6L1400.1 48.5L1401.2 46.3L1402.2 47.6L1403.3 48.5L1404.4 48.1L1405.5 48.4L1406.5 48.4L1407.6 48.1L1408.7 46.9L1409.8 48.1L1410.8 47.8L1411.9 48.3L1413.0 46.1L1414.1 46.9L1415.1 47.1L1416.2 45.6L1417.3 47.3L1418.4 48.1L1419.4 48.0L1420.5 47.9L1421.6 47.3L1422.6 47.4L1423.7 47.8L1424.8 46.5L1425.9 48.2L1426.9 46.2L1428.0 45.4L1429.1 46.8L1430.2 48.1L1431.2 47.7L1432.3 49.2L1433.4 45.8L1434.5 48.0L1435.5 47.4L1436.6 46.2L1437.7 49.3L1438.8 48.8L1439.8 49.1L1440.9 48.3L1442.0 44.4L1443.1 41.7L1444.1 46.3L1445.2 49.3L1446.3 45.5L1447.3 47.8L1448.4 47.2L1449.5 48.4L1450.6 48.2L1451.6 47.1L1452.7 48.2L1453.8 48.4L1454.9 46.7L1455.9 46.5L1457.0 49.7L1458.1 46.4L1459.2 47.1L1460.2 45.9L1461.3 48.2L1462.4 45.2L1463.5 48.4L1464.5 48.7L1465.6 48.9L1466.7 48.1L1467.8 47.1L1468.8 46.0L1469.9 46.2L1471.0 48.1L1472.1 49.6L1473.1 49.5L1474.2 47.7L1475.3 47.2L1476.3 46.3L1477.4 49.0L1478.5 48.2L1479.6 46.7L1480.6 48.7L1481.7 49.3L1482.8 49.4L1483.9 46.5L1484.9 49.4L1486.0 48.6L1487.1 49.7L1488.2 48.3L1489.2 50.0L1490.3 49.9L1491.4 49.2L1492.5 48.4L1493.5 49.2L1494.6 48.7L1495.7 49.9L1496.8 48.2L1497.8 48.4L1498.9 49.1L1500.0 47.7L1501.0 49.3L1502.1 46.5L1503.2 50.0L1504.3 49.8L1505.3 48.7L1506.4 50.2L1507.5 49.8L1508.6 49.7L1509.6 49.5L1510.7 50.0L1511.8 50.4L1512.9 46.7L1513.9 50.7L1515.0 49.5L1516.1 46.4L1517.2 45.3L1518.2 49.1L1519.3 48.6L1520.4 50.6L1521.5 51.2L1522.5 50.8L1523.6 49.9L1524.7 50.6L1525.8 48.0L1526.8 49.1L1527.9 50.1L1529.0 48.2L1530.0 51.3L1531.1 48.7L1532.2 50.6L1533.3 47.7L1534.3 47.3L1535.4 51.4L1536.5 51.6L1537.6 50.9L1538.6 51.1L1539.7 50.5L1540.8 50.7L1541.9 50.8L1542.9 49.5L1544.0 50.8L1545.1 51.8L1546.2 49.8L1547.2 47.9L1548.3 51.7L1549.4 47.6L1550.5 49.6L1551.5 48.7L1552.6 46.6L1553.7 52.0L1554.7 50.8L1555.8 50.6L1556.9 51.7L1558.0 51.8L1559.0 52.3L1560.1 49.8L1561.2 51.1L1562.3 45.4L1563.3 52.5L1564.4 51.5L1565.5 52.6L1566.6 51.4L1567.6 50.3L1568.7 52.3L1569.8 44.5L1570.9 51.7L1571.9 52.4L1573.0 50.6L1574.1 49.6L1575.2 48.8L1576.2 50.8L1577.3 52.7L1578.4 52.8L1579.5 51.5L1580.5 51.1L1581.6 53.2L1582.7 51.6L1583.7 51.7L1584.8 51.9L1585.9 52.6L1587.0 53.0L1588.0 52.8L1589.1 53.6L1590.2 50.9L1591.3 53.2L1592.3 52.0L1593.4 51.5L1594.5 53.5L1595.6 48.7L1596.6 52.0L1597.7 50.7L1598.8 51.8L1599.9 53.9L1600.9 49.9L1602.0 53.6L1603.1 54.1L1604.2 53.3L1605.2 53.8L1606.3 52.7L1607.4 52.9L1608.4 53.0L1609.5 52.3L1610.6 54.3L1611.7 54.4L1612.7 54.2L1613.8 52.0L1614.9 54.4L1616.0 54.5L1617.0 54.1L1618.1 54.5L1619.2 54.2L1620.3 54.5L1621.3 53.7L1622.4 50.0L1623.5 53.2L1624.6 54.0L1625.6 54.0L1626.7 54.5L1627.8 52.8L1628.9 47.9L1629.9 53.4L1631.0 55.2L1632.1 54.1L1633.2 54.5L1634.2 47.3L1635.3 53.0L1636.4 53.9L1637.4 54.2L1638.5 53.2L1639.6 55.5L1640.7 55.1L1641.7 50.6L1642.8 54.4L1643.9 54.7L1645.0 53.6L1646.0 52.5L1647.1 54.5L1648.2 56.0L1649.3 55.2L1650.3 51.3L1651.4 54.3L1652.5 56.0L1653.6 54.6L1654.6 52.5L1655.7 51.1L1656.8 55.2L1657.9 55.5L1658.9 55.6L1660.0 55.5L1661.1 53.5L1662.1 54.6L1663.2 55.5L1664.3 55.8L1665.4 54.9L1666.4 53.1L1667.5 54.1L1668.6 55.5L1669.7 56.1L1670.7 56.5L1671.8 55.6L1672.9 54.9L1674.0 57.0L1675.0 54.1L1676.1 53.5L1677.2 55.8L1678.3 54.7L1679.3 53.1L1680.4 54.7L1681.5 53.4L1682.6 56.8L1683.6 55.2L1684.7 53.6L1685.8 56.0L1686.9 57.2L1687.9 55.3L1689.0 57.1L1690.1 55.7L1691.1 56.2L1692.2 54.6L1693.3 56.4L1694.4 57.3L1695.4 54.8L1696.5 56.2L1697.6 57.8L1698.7 56.7L1699.7 56.5L1700.8 57.2L1701.9 56.3L1703.0 57.6L1704.0 56.6L1705.1 57.4L1706.2 57.6L1707.3 58.2L1708.3 54.4L1709.4 54.8L1710.5 58.2L1711.6 56.5L1712.6 57.1L1713.7 57.8L1714.8 57.7L1715.8 56.3L1716.9 54.3L1718.0 57.9L1719.1 51.8L1720.1 56.6L1721.2 58.4L1722.3 58.5L1723.4 58.8L1724.4 58.0L1725.5 57.2L1726.6 58.1L1727.7 58.2L1728.7 58.8L1729.8 56.7L1730.9 57.0L1732.0 58.1L1733.0 55.6L1734.1 57.9L1735.2 57.1L1736.3 57.0L1737.3 56.4L1738.4 55.9L1739.5 56.5L1740.6 57.0L1741.6 58.7L1742.7 57.2L1743.8 56.0L1744.8 57.4L1745.9 57.5L1747.0 59.3L1748.1 57.9L1749.1 59.6L1750.2 59.3L1751.3 58.1L1752.4 58.8L1753.4 59.0L1754.5 59.7L1755.6 59.4L1756.7 59.9L1757.7 56.4L1758.8 56.5L1759.9 57.5L1761.0 56.7L1762.0 58.9L1763.1 59.2L1764.2 58.1L1765.3 60.3L1766.3 58.9L1767.4 60.1L1768.5 60.5L1769.5 58.8L1770.6 60.0L1771.7 60.9L1772.8 59.1L1773.8 58.7L1774.9 60.8L1776.0 59.4L1777.1 55.6L1778.1 59.5L1779.2 58.5L1780.3 60.8L1781.4 58.3L1782.4 55.1L1783.5 58.2L1784.6 58.2L1785.7 58.5L1786.7 60.5L1787.8 60.8L1788.9 60.0L1790.0 58.6L1791.0 60.3L1792.1 61.0L1793.2 58.9L1794.2 61.4L1795.3 61.9L1796.4 60.0L1797.5 62.0L1798.5 59.6L1799.6 59.7L1800.7 58.4L1801.8 59.3L1802.8 59.9L1803.9 61.1L1805.0 61.6L1806.1 59.2L1807.1 59.8L1808.2 61.0L1809.3 62.4L1810.4 62.2L1810.4 99.0L1809.3 99.1L1808.2 96.7L1807.1 94.9L1806.1 95.9L1805.0 96.2L1803.9 98.6L1802.8 97.4L1801.8 97.2L1800.7 98.1L1799.6 96.9L1798.5 95.8L1797.5 100.1L1796.4 96.1L1795.3 95.8L1794.2 97.2L1793.2 96.4L1792.1 96.1L1791.0 96.4L1790.0 94.2L1788.9 95.5L1787.8 94.3L1786.7 94.6L1785.7 94.7L1784.6 94.5L1783.5 96.7L1782.4 99.4L1781.4 95.0L1780.3 96.7L1779.2 96.9L1778.1 95.2L1777.1 94.5L1776.0 94.1L1774.9 93.4L1773.8 97.0L1772.8 97.1L1771.7 97.1L1770.6 94.8L1769.5 96.4L1768.5 94.3L1767.4 93.9L1766.3 95.7L1765.3 94.2L1764.2 94.8L1763.1 94.5L1762.0 93.3L1761.0 96.6L1759.9 94.1L1758.8 92.8L1757.7 95.0L1756.7 98.2L1755.6 93.5L1754.5 95.0L1753.4 97.1L1752.4 93.4L1751.3 93.9L1750.2 93.1L1749.1 92.9L1748.1 93.9L1747.0 93.5L1745.9 94.3L1744.8 92.5L1743.8 93.5L1742.7 94.3L1741.6 92.2L1740.6 96.2L1739.5 93.4L1738.4 93.5L1737.3 99.1L1736.3 93.4L1735.2 93.5L1734.1 92.1L1733.0 93.4L1732.0 93.5L1730.9 92.0L1729.8 91.7L1728.7 91.4L1727.7 92.5L1726.6 96.9L1725.5 93.2L1724.4 92.7L1723.4 91.2L1722.3 92.4L1721.2 91.9L1720.1 93.7L1719.1 96.0L1718.0 92.2L1716.9 94.3L1715.8 94.8L1714.8 92.9L1713.7 91.6L1712.6 91.8L1711.6 92.1L1710.5 93.2L1709.4 90.5L1708.3 92.8L1707.3 93.9L1706.2 91.8L1705.1 90.8L1704.0 92.0L1703.0 90.9L1701.9 91.7L1700.8 90.9L1699.7 90.7L1698.7 90.9L1697.6 92.0L1696.5 91.6L1695.4 90.2L1694.4 90.3L1693.3 90.7L1692.2 91.4L1691.1 94.4L1690.1 91.6L1689.0 92.0L1687.9 91.6L1686.9 91.0L1685.8 92.2L1684.7 95.9L1683.6 94.5L1682.6 91.0L1681.5 91.6L1680.4 90.9L1679.3 90.1L1678.3 89.3L1677.2 90.8L1676.1 92.7L1675.0 91.2L1674.0 89.0L1672.9 90.9L1671.8 91.9L1670.7 90.0L1669.7 92.3L1668.6 89.3L1667.5 88.8L1666.4 88.8L1665.4 89.1L1664.3 90.1L1663.2 90.7L1662.1 90.6L1661.1 95.9L1660.0 88.4L1658.9 89.8L1657.9 89.0L1656.8 89.2L1655.7 92.9L1654.6 89.0L1653.6 90.1L1652.5 89.3L1651.4 89.4L1650.3 88.4L1649.3 92.6L1648.2 89.5L1647.1 89.2L1646.0 90.6L1645.0 87.8L1643.9 93.2L1642.8 89.0L1641.7 87.7L1640.7 87.8L1639.6 88.4L1638.5 88.8L1637.4 90.8L1636.4 88.7L1635.3 90.2L1634.2 91.5L1633.2 88.2L1632.1 88.6L1631.0 91.1L1629.9 91.1L1628.9 89.7L1627.8 87.3L1626.7 87.2L1625.6 87.9L1624.6 87.8L1623.5 89.5L1622.4 90.8L1621.3 88.0L1620.3 86.7L1619.2 89.1L1618.1 89.1L1617.0 88.4L1616.0 88.2L1614.9 88.0L1613.8 86.6L1612.7 88.1L1611.7 89.7L1610.6 86.3L1609.5 90.6L1608.4 87.1L1607.4 87.3L1606.3 86.6L1605.2 87.0L1604.2 87.6L1603.1 87.9L1602.0 86.1L1600.9 86.4L1599.9 88.3L1598.8 95.4L1597.7 86.2L1596.6 86.7L1595.6 86.2L1594.5 86.6L1593.4 86.4L1592.3 85.4L1591.3 87.9L1590.2 86.8L1589.1 86.6L1588.0 87.6L1587.0 85.8L1585.9 86.8L1584.8 87.3L1583.7 85.4L1582.7 85.6L1581.6 87.0L1580.5 88.1L1579.5 86.1L1578.4 87.3L1577.3 84.8L1576.2 87.0L1575.2 85.0L1574.1 84.6L1573.0 86.6L1571.9 88.1L1570.9 85.0L1569.8 85.9L1568.7 86.0L1567.6 84.6L1566.6 86.0L1565.5 85.9L1564.4 87.5L1563.3 87.2L1562.3 84.7L1561.2 84.3L1560.1 87.0L1559.0 85.4L1558.0 84.3L1556.9 84.7L1555.8 86.4L1554.7 88.7L1553.7 85.0L1552.6 87.1L1551.5 85.5L1550.5 83.6L1549.4 84.2L1548.3 83.8L1547.2 84.1L1546.2 83.6L1545.1 83.7L1544.0 86.1L1542.9 84.6L1541.9 87.4L1540.8 85.5L1539.7 86.6L1538.6 84.3L1537.6 83.6L1536.5 85.1L1535.4 84.5L1534.3 87.7L1533.3 84.5L1532.2 85.4L1531.1 85.3L1530.0 83.6L1529.0 83.0L1527.9 84.1L1526.8 82.8L1525.8 82.9L1524.7 83.4L1523.6 85.3L1522.5 84.9L1521.5 88.3L1520.4 83.1L1519.3 82.9L1518.2 85.0L1517.2 83.0L1516.1 85.0L1515.0 83.2L1513.9 83.5L1512.9 83.4L1511.8 86.8L1510.7 85.1L1509.6 82.6L1508.6 83.0L1507.5 83.2L1506.4 82.5L1505.3 82.6L1504.3 84.4L1503.2 84.1L1502.1 85.4L1501.0 82.9L1500.0 82.2L1498.9 84.0L1497.8 83.7L1496.8 82.3L1495.7 83.1L1494.6 81.9L1493.5 85.3L1492.5 84.5L1491.4 83.7L1490.3 82.7L1489.2 85.3L1488.2 83.5L1487.1 81.9L1486.0 81.9L1484.9 83.0L1483.9 82.4L1482.8 83.2L1481.7 82.7L1480.6 81.5L1479.6 83.4L1478.5 83.2L1477.4 82.1L1476.3 81.4L1475.3 81.7L1474.2 82.0L1473.1 81.4L1472.1 83.5L1471.0 85.2L1469.9 81.6L1468.8 84.6L1467.8 82.1L1466.7 81.8L1465.6 82.5L1464.5 84.1L1463.5 82.4L1462.4 81.2L1461.3 82.0L1460.2 81.3L1459.2 81.8L1458.1 82.2L1457.0 84.7L1455.9 81.5L1454.9 80.9L1453.8 82.3L1452.7 81.2L1451.6 81.5L1450.6 81.2L1449.5 82.1L1448.4 83.0L1447.3 81.5L1446.3 81.3L1445.2 82.1L1444.1 82.7L1443.1 81.2L1442.0 81.9L1440.9 83.2L1439.8 85.7L1438.8 81.6L1437.7 82.5L1436.6 80.9L1435.5 81.7L1434.5 81.0L1433.4 83.2L1432.3 85.2L1431.2 85.2L1430.2 84.5L1429.1 82.3L1428.0 84.1L1426.9 80.9L1425.9 81.1L1424.8 80.0L1423.7 82.1L1422.6 83.6L1421.6 82.3L1420.5 80.3L1419.4 79.9L1418.4 80.2L1417.3 81.6L1416.2 81.4L1415.1 80.0L1414.1 82.3L1413.0 86.4L1411.9 83.7L1410.8 81.4L1409.8 80.4L1408.7 81.1L1407.6 80.4L1406.5 80.2L1405.5 81.2L1404.4 81.5L1403.3 80.0L1402.2 83.7L1401.2 79.6L1400.1 80.2L1399.0 79.7L1397.9 80.2L1396.9 82.7L1395.8 80.6L1394.7 81.4L1393.6 82.3L1392.6 81.2L1391.5 81.4L1390.4 79.9L1389.4 80.0L1388.3 81.8L1387.2 83.0L1386.1 79.6L1385.1 81.3L1384.0 81.0L1382.9 79.6L1381.8 83.5L1380.8 83.5L1379.7 81.5L1378.6 79.4L1377.5 79.8L1376.5 80.2L1375.4 81.7L1374.3 80.5L1373.2 79.9L1372.2 81.6L1371.1 80.7L1370.0 80.7L1368.9 80.5L1367.9 81.6L1366.8 82.8L1365.7 80.4L1364.7 79.0L1363.6 79.3L1362.5 80.1L1361.4 81.8L1360.4 81.2L1359.3 79.3L1358.2 82.0L1357.1 81.4L1356.1 78.9L1355.0 79.6L1353.9 79.5L1352.8 81.3L1351.8 84.0L1350.7 81.2L1349.6 80.4L1348.5 80.1L1347.5 81.7L1346.4 82.2L1345.3 80.3L1344.2 79.0L1343.2 79.0L1342.1 79.3L1341.0 81.6L1339.9 79.2L1338.9 80.6L1337.8 81.7L1336.7 80.0L1335.7 78.7L1334.6 80.9L1333.5 80.7L1332.4 78.5L1331.4 79.4L1330.3 81.1L1329.2 78.6L1328.1 81.5L1327.1 82.4L1326.0 79.8L1324.9 79.8L1323.8 84.6L1322.8 80.0L1321.7 83.7L1320.6 81.6L1319.5 79.8L1318.5 80.8L1317.4 78.3L1316.3 79.9L1315.2 79.5L1314.2 81.2L1313.1 78.6L1312.0 79.2L1311.0 82.7L1309.9 80.2L1308.8 79.9L1307.7 79.2L1306.7 79.4L1305.6 79.5L1304.5 79.2L1303.4 82.8L1302.4 80.8L1301.3 78.8L1300.2 78.7L1299.1 80.5L1298.1 81.8L1297.0 78.4L1295.9 80.6L1294.8 81.3L1293.8 79.3L1292.7 78.6L1291.6 81.8L1290.5 78.6L1289.5 78.6L1288.4 78.6L1287.3 79.5L1286.2 78.4L1285.2 80.0L1284.1 78.1L1283.0 80.6L1282.0 79.6L1280.9 80.4L1279.8 80.0L1278.7 85.5L1277.7 80.7L1276.6 78.5L1275.5 80.3L1274.4 82.8L1273.4 78.8L1272.3 80.0L1271.2 86.7L1270.1 79.1L1269.1 80.2L1268.0 78.7L1266.9 79.9L1265.8 79.5L1264.8 81.4L1263.7 79.8L1262.6 81.0L1261.5 78.4L1260.5 79.3L1259.4 79.9L1258.3 79.1L1257.2 78.2L1256.2 79.8L1255.1 77.7L1254.0 79.4L1253.0 81.0L1251.9 79.4L1250.8 80.6L1249.7 77.7L1248.7 80.0L1247.6 78.4L1246.5 83.5L1245.4 80.3L1244.4 78.7L1243.3 78.3L1242.2 79.9L1241.1 79.0L1240.1 80.7L1239.0 79.1L1237.9 78.6L1236.8 79.1L1235.8 80.0L1234.7 80.3L1233.6 78.0L1232.5 78.7L1231.5 82.8L1230.4 80.5L1229.3 80.2L1228.3 80.3L1227.2 78.4L1226.1 79.5L1225.0 80.8L1224.0 78.8L1222.9 77.7L1221.8 79.0L1220.7 78.5L1219.7 78.1L1218.6 77.5L1217.5 77.7L1216.4 79.6L1215.4 78.4L1214.3 78.1L1213.2 80.9L1212.1 77.9L1211.1 79.2L1210.0 78.9L1208.9 78.3L1207.8 80.8L1206.8 79.3L1205.7 78.0L1204.6 78.2L1203.5 78.5L1202.5 78.0L1201.4 77.6L1200.3 78.8L1199.3 78.0L1198.2 78.2L1197.1 78.1L1196.0 77.7L1195.0 78.9L1193.9 79.2L1192.8 78.0L1191.7 81.1L1190.7 79.2L1189.6 78.1L1188.5 78.3L1187.4 78.2L1186.4 80.0L1185.3 81.2L1184.2 77.5L1183.1 79.3L1182.1 82.1L1181.0 80.0L1179.9 77.4L1178.8 79.0L1177.8 79.9L1176.7 77.7Z" clip-path="url(#cr)"/></clipPath>
<g fill="#8c564b" fill-opacity="0.1" clip-path="url(#b_cr_brown)"><rect x="1209.8" y="0" width="7" height="733"/><rect x="1249.2" y="0" width="7" height="733"/><rect x="1288.7" y="0" width="7" height="733"/><rect x="1328.1" y="0" width="7" height="733"/><rect x="1367.6" y="0" width="7" height="733"/><rect x="1407.0" y="0" width="7" height="733"/><rect x="1446.5" y="0" width="7" height="733"/><rect x="1486.0" y="0" width="7" height="733"/><rect x="1525.4" y="0" width="7" height="733"/><rect x="1564.8" y="0" width="7" height="733"/><rect x="1604.3" y="0" width="7" height="733"/><rect x="1643.8" y="0" width="7" height="733"/><rect x="1683.2" y="0" width="7" height="733"/><rect x="1722.7" y="0" width="7" height="733"/><rect x="1762.1" y="0" width="7" height="733"/><rect x="1801.5" y="0" width="7" height="733"/></g>
<line x1="180.2" y1="309.10" x2="196.7" y2="309.10" stroke="#000" stroke-width="5"/>
<line x1="180.2" y1="256.95" x2="196.7" y2="256.95" stroke="#000" stroke-width="5"/>
<line x1="180.2" y1="219.95" x2="196.7" y2="219.95" stroke="#000" stroke-width="5"/>
<line x1="180.2" y1="191.25" x2="196.7" y2="191.25" stroke="#000" stroke-width="5"/>
<line x1="180.2" y1="167.80" x2="196.7" y2="167.80" stroke="#000" stroke-width="5"/>
<line x1="180.2" y1="147.97" x2="196.7" y2="147.97" stroke="#000" stroke-width="5"/>
<line x1="180.2" y1="130.80" x2="196.7" y2="130.80" stroke="#000" stroke-width="5"/>
<line x1="180.2" y1="115.65" x2="196.7" y2="115.65" stroke="#000" stroke-width="5"/>
<line x1="180.2" y1="605.25" x2="196.7" y2="605.25" stroke="#000" stroke-width="5"/>
<line x1="180.2" y1="553.10" x2="196.7" y2="553.10" stroke="#000" stroke-width="5"/>
<line x1="180.2" y1="516.10" x2="196.7" y2="516.10" stroke="#000" stroke-width="5"/>
<line x1="180.2" y1="487.40" x2="196.7" y2="487.40" stroke="#000" stroke-width="5"/>
<line x1="180.2" y1="463.95" x2="196.7" y2="463.95" stroke="#000" stroke-width="5"/>
<line x1="180.2" y1="444.12" x2="196.7" y2="444.12" stroke="#000" stroke-width="5"/>
<line x1="180.2" y1="426.95" x2="196.7" y2="426.95" stroke="#000" stroke-width="5"/>
<line x1="180.2" y1="411.80" x2="196.7" y2="411.80" stroke="#000" stroke-width="5"/>
<line x1="180.2" y1="12.95" x2="196.7" y2="12.95" stroke="#000" stroke-width="5"/>
<line x1="167.7" y1="102.10" x2="196.7" y2="102.10" stroke="#000" stroke-width="6.6"/>
<line x1="167.7" y1="398.25" x2="196.7" y2="398.25" stroke="#000" stroke-width="6.6"/>
<line x1="228.6" y1="605.7" x2="228.6" y2="634.3" stroke="#000" stroke-width="6.6"/>
<line x1="496.6" y1="605.7" x2="496.6" y2="634.3" stroke="#000" stroke-width="6.6"/>
<line x1="764.7" y1="605.7" x2="764.7" y2="634.3" stroke="#000" stroke-width="6.6"/>
<rect x="196.7" y="12.55" width="704.8" height="593.1500000000001" fill="none" stroke="#000" stroke-width="6.6" stroke-linejoin="miter"/>
<line x1="1126.9" y1="54.33" x2="1143.4" y2="54.33" stroke="#000" stroke-width="5"/>
<line x1="1126.9" y1="18.90" x2="1143.4" y2="18.90" stroke="#000" stroke-width="5"/>
<line x1="1126.9" y1="54.33" x2="1143.4" y2="54.33" stroke="#000" stroke-width="5"/>
<line x1="1126.9" y1="18.90" x2="1143.4" y2="18.90" stroke="#000" stroke-width="5"/>
<line x1="1126.9" y1="255.53" x2="1143.4" y2="255.53" stroke="#000" stroke-width="5"/>
<line x1="1126.9" y1="220.10" x2="1143.4" y2="220.10" stroke="#000" stroke-width="5"/>
<line x1="1126.9" y1="194.97" x2="1143.4" y2="194.97" stroke="#000" stroke-width="5"/>
<line x1="1126.9" y1="175.47" x2="1143.4" y2="175.47" stroke="#000" stroke-width="5"/>
<line x1="1126.9" y1="159.54" x2="1143.4" y2="159.54" stroke="#000" stroke-width="5"/>
<line x1="1126.9" y1="146.07" x2="1143.4" y2="146.07" stroke="#000" stroke-width="5"/>
<line x1="1126.9" y1="134.40" x2="1143.4" y2="134.40" stroke="#000" stroke-width="5"/>
<line x1="1126.9" y1="124.11" x2="1143.4" y2="124.11" stroke="#000" stroke-width="5"/>
<line x1="1126.9" y1="456.73" x2="1143.4" y2="456.73" stroke="#000" stroke-width="5"/>
<line x1="1126.9" y1="421.30" x2="1143.4" y2="421.30" stroke="#000" stroke-width="5"/>
<line x1="1126.9" y1="396.17" x2="1143.4" y2="396.17" stroke="#000" stroke-width="5"/>
<line x1="1126.9" y1="376.67" x2="1143.4" y2="376.67" stroke="#000" stroke-width="5"/>
<line x1="1126.9" y1="360.74" x2="1143.4" y2="360.74" stroke="#000" stroke-width="5"/>
<line x1="1126.9" y1="347.27" x2="1143.4" y2="347.27" stroke="#000" stroke-width="5"/>
<line x1="1126.9" y1="335.60" x2="1143.4" y2="335.60" stroke="#000" stroke-width="5"/>
<line x1="1126.9" y1="325.31" x2="1143.4" y2="325.31" stroke="#000" stroke-width="5"/>
<line x1="1126.9" y1="597.37" x2="1143.4" y2="597.37" stroke="#000" stroke-width="5"/>
<line x1="1126.9" y1="577.87" x2="1143.4" y2="577.87" stroke="#000" stroke-width="5"/>
<line x1="1126.9" y1="561.94" x2="1143.4" y2="561.94" stroke="#000" stroke-width="5"/>
<line x1="1126.9" y1="548.47" x2="1143.4" y2="548.47" stroke="#000" stroke-width="5"/>
<line x1="1126.9" y1="536.80" x2="1143.4" y2="536.80" stroke="#000" stroke-width="5"/>
<line x1="1126.9" y1="526.51" x2="1143.4" y2="526.51" stroke="#000" stroke-width="5"/>
<line x1="1114.4" y1="114.90" x2="1143.4" y2="114.90" stroke="#000" stroke-width="6.6"/>
<line x1="1114.4" y1="316.10" x2="1143.4" y2="316.10" stroke="#000" stroke-width="6.6"/>
<line x1="1114.4" y1="517.30" x2="1143.4" y2="517.30" stroke="#000" stroke-width="6.6"/>
<line x1="1175.6" y1="605.7" x2="1175.6" y2="634.3" stroke="#000" stroke-width="6.6"/>
<line x1="1444.1" y1="605.7" x2="1444.1" y2="634.3" stroke="#000" stroke-width="6.6"/>
<line x1="1712.6" y1="605.7" x2="1712.6" y2="634.3" stroke="#000" stroke-width="6.6"/>
<rect x="1143.4" y="12.55" width="706.5999999999999" height="593.1500000000001" fill="none" stroke="#000" stroke-width="6.6" stroke-linejoin="miter"/>
<rect x="1851" y="0" width="60" height="733" fill="#fff"/>
<g font-family="Liberation Sans, sans-serif" fill="#000">
<text transform="translate(228.6 710.2) scale(1 1.035)" font-size="66.67" text-anchor="middle">0</text>
<text transform="translate(496.6 710.2) scale(1 1.035)" font-size="66.67" text-anchor="middle">250</text>
<text transform="translate(764.7 710.2) scale(1 1.035)" font-size="66.67" text-anchor="middle">500</text>
<text transform="translate(1175.6 710.2) scale(1 1.035)" font-size="66.67" text-anchor="middle">0</text>
<text transform="translate(1444.1 710.2) scale(1 1.035)" font-size="66.67" text-anchor="middle">250</text>
<text transform="translate(1712.6 710.2) scale(1 1.035)" font-size="66.67" text-anchor="middle">500</text>
<path d="M763 0H583V1147Q518 1085 412.5 1023T223 930V1104Q374 1175 487 1276T647 1472H763Z" transform="translate(7.70 137.40) scale(0.03255 -0.03255)" fill="#000"/>
<text transform="translate(44.8 137.4) scale(1 1.035)" font-size="66.67" text-anchor="start">0</text>
<text transform="translate(82.6 91.7) scale(1 1.035)" font-size="46.67" text-anchor="start">−2</text>
<path d="M763 0H583V1147Q518 1085 412.5 1023T223 930V1104Q374 1175 487 1276T647 1472H763Z" transform="translate(7.70 433.55) scale(0.03255 -0.03255)" fill="#000"/>
<text transform="translate(44.8 433.6) scale(1 1.035)" font-size="66.67" text-anchor="start">0</text>
<text transform="translate(82.6 387.9) scale(1 1.035)" font-size="46.67" text-anchor="start">−3</text>
<path d="M763 0H583V1147Q518 1085 412.5 1023T223 930V1104Q374 1175 487 1276T647 1472H763Z" transform="translate(979.50 150.20) scale(0.03255 -0.03255)" fill="#000"/>
<text transform="translate(1016.6 150.2) scale(1 1.035)" font-size="66.67" text-anchor="start">0</text>
<text transform="translate(1053.7 104.5) scale(1 1.035)" font-size="46.67" text-anchor="start">0</text>
<path d="M763 0H583V1147Q518 1085 412.5 1023T223 930V1104Q374 1175 487 1276T647 1472H763Z" transform="translate(954.50 351.40) scale(0.03255 -0.03255)" fill="#000"/>
<text transform="translate(991.6 351.4) scale(1 1.035)" font-size="66.67" text-anchor="start">0</text>
<text transform="translate(1029.2 305.7) scale(1 1.035)" font-size="46.67" text-anchor="start">−</text>
<path d="M763 0H583V1147Q518 1085 412.5 1023T223 930V1104Q374 1175 487 1276T647 1472H763Z" transform="translate(1056.45 305.70) scale(0.02279 -0.02279)" fill="#000"/>
<path d="M763 0H583V1147Q518 1085 412.5 1023T223 930V1104Q374 1175 487 1276T647 1472H763Z" transform="translate(954.50 552.60) scale(0.03255 -0.03255)" fill="#000"/>
<text transform="translate(991.6 552.6) scale(1 1.035)" font-size="66.67" text-anchor="start">0</text>
<text transform="translate(1029.2 506.9) scale(1 1.035)" font-size="46.67" text-anchor="start">−2</text>
<rect x="1979.3" y="11.9" width="554.3" height="589.9" rx="11" ry="11" fill="#fff" stroke="#d4d4d4" stroke-width="8.6"/>
<line x1="1999.8" y1="63.7" x2="2146" y2="63.7" stroke="#1f77b4" stroke-width="12.2"/>
<text transform="translate(2192.7 87.3) scale(1 1.035)" font-size="66.67" text-anchor="start">SIP</text>
<line x1="1999.8" y1="158.4" x2="2146" y2="158.4" stroke="#ff7f0e" stroke-width="12.2"/>
<text transform="translate(2192.7 182.0) scale(1 1.035)" font-size="66.67" text-anchor="start">Adam</text>
<line x1="1999.8" y1="253.2" x2="2146" y2="253.2" stroke="#d62728" stroke-width="12.2"/>
<text transform="translate(2192.7 276.8) scale(1 1.035)" font-size="66.67" text-anchor="start">SGD</text>
<line x1="1999.8" y1="347.9" x2="2146" y2="347.9" stroke="#2ca02c" stroke-width="12.2"/>
<text transform="translate(2192.7 371.6) scale(1 1.035)" font-size="66.67" text-anchor="start">Adadelta</text>
<line x1="1999.8" y1="442.7" x2="2146" y2="442.7" stroke="#9467bd" stroke-width="12.2"/>
<text transform="translate(2192.7 466.3) scale(1 1.035)" font-size="66.67" text-anchor="start">Adagrad</text>
<line x1="1999.8" y1="537.5" x2="2146" y2="537.5" stroke="#8c564b" stroke-width="12.2"/>
<text transform="translate(2192.7 561.1) scale(1 1.035)" font-size="66.67" text-anchor="start">RMSprop</text>
</g>
</svg>
</body></html>
